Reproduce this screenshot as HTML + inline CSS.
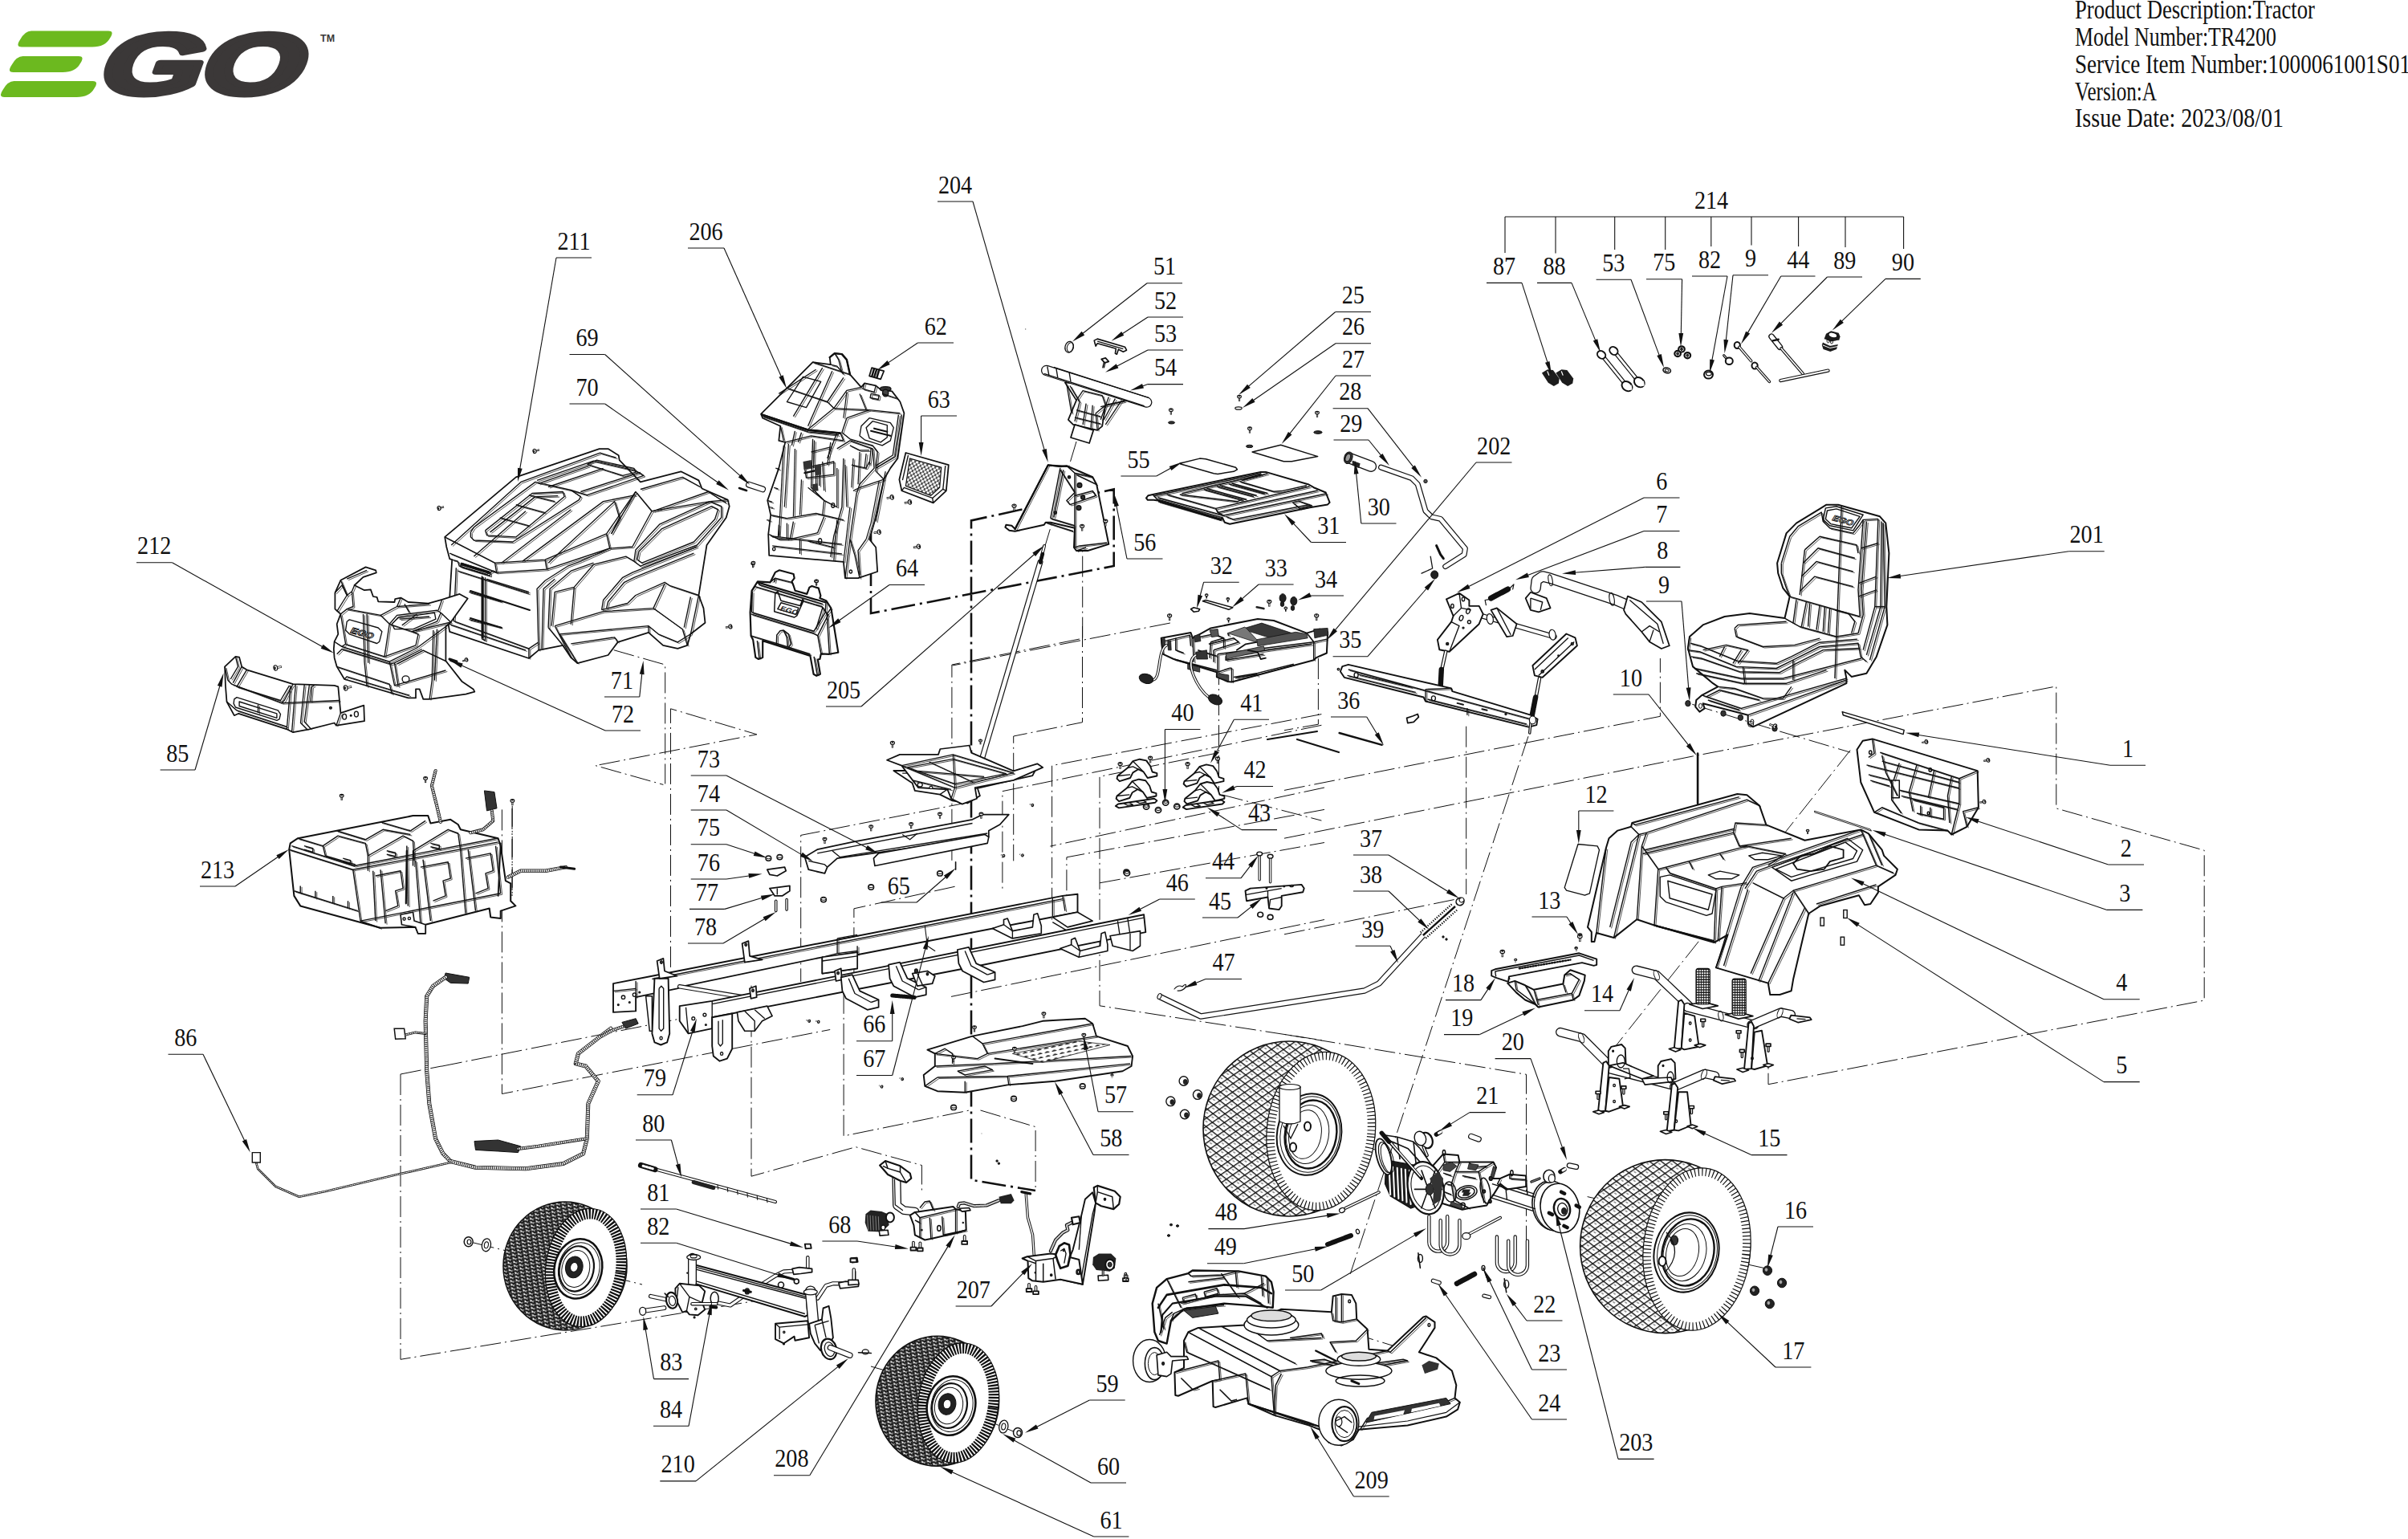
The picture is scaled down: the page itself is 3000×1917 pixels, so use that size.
<!DOCTYPE html>
<html><head><meta charset="utf-8"><title>EGO TR4200 Tractor parts diagram</title>
<style>html,body{margin:0;padding:0;background:#fff}body{width:3000px;height:1917px;overflow:hidden}svg{display:block}</style>
</head><body>
<svg width="3000" height="1917" viewBox="0 0 3000 1917">
<title>EGO TR4200 Tractor exploded parts diagram</title>
<style>
.n{font-family:"Liberation Serif",serif;font-size:32px;text-anchor:middle;fill:#111}
.h{font-family:"Liberation Serif",serif;font-size:33px;fill:#111}
</style>
<rect width="3000" height="1917" fill="#fff"/>
<path d="M1085 655 L1085 764 L1387.7 705 L1387.7 609.4 L1210 648.4 L1210 1469.8 L1290 1483" fill="none" stroke="#111" stroke-width="2.6" stroke-dasharray="30 6 3 6"/>
<path d="M764.7 809.7 L828.7 828 L828.7 976.4" fill="none" stroke="#111" stroke-width="1.0" stroke-dasharray="26 5 2 5"/>
<path d="M835.5 1204.9 L835.5 882.8 L942.9 914.8 L741.9 953.6 L826.4 977.4" fill="none" stroke="#111" stroke-width="1.0" stroke-dasharray="26 5 2 5"/>
<path d="M1207.8 999.3 L997.7 1040.4 L997.7 1223.1" fill="none" stroke="#111" stroke-width="1.0" stroke-dasharray="26 5 2 5"/>
<path d="M1189.6 1104.3 L1063.9 1131.8 L1063.9 1236.8" fill="none" stroke="#111" stroke-width="1.0" stroke-dasharray="26 5 2 5"/>
<path d="M1051.1 1236.8 L1051.1 1415 L1207.8 1383" fill="none" stroke="#111" stroke-width="1.0" stroke-dasharray="26 5 2 5"/>
<path d="M1221.5 1383 L1290.1 1403.6 L1290.1 1483.1" fill="none" stroke="#111" stroke-width="1.0" stroke-dasharray="26 5 2 5"/>
<path d="M1344.9 796 L1185.9 828 L1185.9 1072.4" fill="none" stroke="#111" stroke-width="1.0" stroke-dasharray="26 5 2 5"/>
<path d="M1348.5 780 L1348.5 899.7 L1262.7 917 L1262.7 1072.4" fill="none" stroke="#111" stroke-width="1.0" stroke-dasharray="26 5 2 5"/>
<path d="M1646.4 903.3 L1248.9 985.6 L1248.9 1108.9" fill="none" stroke="#111" stroke-width="1.0" stroke-dasharray="26 5 2 5"/>
<path d="M1646.4 889.6 L1310.6 953.6 L1310.6 1145.5" fill="none" stroke="#111" stroke-width="1.0" stroke-dasharray="26 5 2 5"/>
<path d="M1650 981 L1308.3 1054.1" fill="none" stroke="#111" stroke-width="1.0" stroke-dasharray="26 5 2 5"/>
<path d="M1650 1008.4 L1328.9 1067.8 L1328.9 1145.5" fill="none" stroke="#111" stroke-width="1.0" stroke-dasharray="26 5 2 5"/>
<path d="M1518.5 937.6 L1370 967.3 L1370 1252.8 L1650 1296.2" fill="none" stroke="#111" stroke-width="1.0" stroke-dasharray="26 5 2 5"/>
<path d="M1370 1099.8 L1650 1049.5" fill="none" stroke="#111" stroke-width="1.0" stroke-dasharray="26 5 2 5"/>
<path d="M1518.5 789.1 L1518.5 999.3" fill="none" stroke="#111" stroke-width="1.0" stroke-dasharray="26 5 2 5"/>
<path d="M550 1328.2 L1036.5 1231.3" fill="none" stroke="#111" stroke-width="1.0" stroke-dasharray="26 5 2 5"/>
<path d="M625.4 1008.4 L625.4 1362.5 L1034.2 1282.5" fill="none" stroke="#111" stroke-width="1.0" stroke-dasharray="26 5 2 5"/>
<path d="M638.2 1003.8 L638.2 1113.5" fill="none" stroke="#111" stroke-width="1.0" stroke-dasharray="26 5 2 5"/>
<path d="M936 1227.7 L936 1465.2 L1066.2 1428.7 L1148.4 1451.5 L1148.4 1483.1" fill="none" stroke="#111" stroke-width="1.0" stroke-dasharray="26 5 2 5"/>
<path d="M1185 1241.4 L1650 1145.5" fill="none" stroke="#111" stroke-width="1.0" stroke-dasharray="26 5 2 5"/>
<path d="M1523 990.1 L1646.4 1022.1" fill="none" stroke="#111" stroke-width="1.0" stroke-dasharray="26 5 2 5"/>
<path d="M1600 984.4 L2068.4 892.3 L2068.4 820" fill="none" stroke="#111" stroke-width="1.0" stroke-dasharray="26 5 2 5"/>
<path d="M1600 1044.2 L2108.3 942.1 L2561.8 854.9 L2561.8 1006.9 L2746.2 1059.2 L2746.2 1246.1 L2203 1350.7 L2203 1328.3" fill="none" stroke="#111" stroke-width="1.0" stroke-dasharray="26 5 2 5"/>
<path d="M1600 1163.8 L1819.3 1119" fill="none" stroke="#111" stroke-width="1.0" stroke-dasharray="26 5 2 5"/>
<path d="M1826.7 904.7 L1826.7 1114" fill="none" stroke="#111" stroke-width="1.0" stroke-dasharray="26 5 2 5"/>
<path d="M1904 917.2 L1682.2 1586.9" fill="none" stroke="#111" stroke-width="1.0" stroke-dasharray="26 5 2 5"/>
<path d="M1600 1288.4 L1901.5 1338.3 L1901.5 1557.5" fill="none" stroke="#111" stroke-width="1.0" stroke-dasharray="26 5 2 5"/>
<path d="M2305.1 934.6 L2008.6 1308.4" fill="none" stroke="#111" stroke-width="1.0" stroke-dasharray="26 5 2 5"/>
<path d="M2108.3 877.3 L2212.9 909.7 L2305.1 937.1" fill="none" stroke="#111" stroke-width="1.0" stroke-dasharray="26 5 2 5"/>
<path d="M1642.4 820 L1642.4 902.2 L1600 909.7" fill="none" stroke="#111" stroke-width="1.0" stroke-dasharray="26 5 2 5"/>
<path d="M1341 550 L1302 680" fill="none" stroke="#111" stroke-width="1.0" stroke-dasharray="26 5 2 5"/>
<path d="M499 1338 L499 1693.3 L750 1652 L1010 1609" fill="none" stroke="#111" stroke-width="1.0" stroke-dasharray="26 5 2 5"/>
<path d="M499 1338 L550 1328" fill="none" stroke="#111" stroke-width="1.0" stroke-dasharray="26 5 2 5"/>
<path d="M638 1007 L638 1119" fill="none" stroke="#111" stroke-width="1.0" stroke-dasharray="26 5 2 5"/>
<path d="M1457.9 776 L1186.6 829" fill="none" stroke="#111" stroke-width="1.0" stroke-dasharray="26 5 2 5"/>
<path d="M1348.7 654.6 L1348.7 796" fill="none" stroke="#111" stroke-width="1.0" stroke-dasharray="26 5 2 5"/>
<path d="M1655 1418 L1730 1436" fill="none" stroke="#111" stroke-width="1.0" stroke-dasharray="26 5 2 5"/>
<path d="M2100 1558 L2200 1580" fill="none" stroke="#111" stroke-width="1.0" stroke-dasharray="26 5 2 5"/>
<path d="M2040 1505 L1975 1490" fill="none" stroke="#111" stroke-width="1.0" stroke-dasharray="26 5 2 5"/>
<path d="M590 1548 L700 1575" fill="none" stroke="#111" stroke-width="1.0" stroke-dasharray="26 5 2 5"/>
<path d="M1185 1751 L1265 1784" fill="none" stroke="#111" stroke-width="1.0" stroke-dasharray="26 5 2 5"/>
<path d="M1085 1702 L1120 1712" fill="none" stroke="#111" stroke-width="1.0" stroke-dasharray="26 5 2 5"/>
<path d="M760 1590 L800 1600" fill="none" stroke="#111" stroke-width="1.0" stroke-dasharray="26 5 2 5"/>
<path d="M1686 1661 L1780 1690" fill="none" stroke="#111" stroke-width="1.0" stroke-dasharray="26 5 2 5"/>
<path d="M554.2 668.9 L642.8 594.4 L746.6 559.1 L757.6 559.1 L770.7 567.2 L771.7 573.2 L797.9 600.4 L848.3 587.3 L870.5 598.4 L874.5 608.5 L906.7 622.6 L908.7 630.7 L904.7 644.8 L880.5 679 L870.5 741.5 L876.5 757.6 L878.5 775.7 L860.4 789.8 L856.3 803.9 L844.3 807.9 L826.1 803.9 L808 787.8 L769.7 799.9 L757.6 816 L719.4 826.1 L711.3 819 L701.2 803.9 L671 809.9 L658.9 820 L560.2 786.8 L558.2 775.7 L563.2 697.1 L560.2 696.1 L556.2 681 Z" fill="#fff" stroke="#111" stroke-width="1.7550000000000001" stroke-linejoin="round" />
<g transform="translate(1.9,1.5)" opacity="0.75">
<path d="M554.2 668.9 L616.6 701.2 L679.1 697.1 L755.6 664.9 L791.9 612.5" fill="none" stroke="#111" stroke-width="0.95" stroke-linejoin="round" />
<path d="M560.2 689.1 L618.6 713.2 L681.1 709.2 L759.7 683 L787.9 681 L812 636.7 L884.6 624.6 L906.7 622.6" fill="none" stroke="#111" stroke-width="0.95" stroke-linejoin="round" />
<path d="M562.2 679 L648.9 600.4 L747.6 564.2 L767.7 570.2" fill="none" stroke="#111" stroke-width="0.95" stroke-linejoin="round" />
<path d="M616.6 701.2 L618.6 713.2" fill="none" stroke="#111" stroke-width="0.95" stroke-linejoin="round" />
<path d="M679.1 697.1 L681.1 709.2" fill="none" stroke="#111" stroke-width="0.95" stroke-linejoin="round" />
<path d="M755.6 664.9 L759.7 683" fill="none" stroke="#111" stroke-width="0.95" stroke-linejoin="round" />
<path d="M586.4 662.9 L590.4 656.8 L667 600.4 L711.3 610.5 L723.4 618.6 L721.4 622.6 L638.8 675 L590.4 673 L586.4 668.9 L586.4 662.9" fill="none" stroke="#111" stroke-width="0.95" stroke-linejoin="round" />
<path d="M604.5 660.9 L663 614.5 L701.2 612.5 L703.2 618.6 L642.8 668.9 L606.6 666.9 L604.5 660.9" fill="none" stroke="#111" stroke-width="0.95" stroke-linejoin="round" />
<path d="M610.6 662.9 L667 618.6 L695.2 617.6" fill="none" stroke="#111" stroke-width="0.95" stroke-linejoin="round" />
<path d="M622.7 644.8 L658.9 654.8" fill="none" stroke="#111" stroke-width="0.95" stroke-linejoin="round" />
<path d="M642.8 628.6 L679.1 638.7" fill="none" stroke="#111" stroke-width="0.95" stroke-linejoin="round" />
<path d="M658.9 616.6 L691.2 624.6" fill="none" stroke="#111" stroke-width="0.95" stroke-linejoin="round" />
<path d="M669 598.4 L739.5 574.2 L791.9 586.3 L802 592.4 L731.5 616.6 L711.3 610.5" fill="none" stroke="#111" stroke-width="0.95" stroke-linejoin="round" />
<path d="M731.5 578.3 L743.5 573.2 L789.9 583.3 L791.9 588.3 L775.8 592.4 L731.5 578.3" fill="none" stroke="#111" stroke-width="0.95" stroke-linejoin="round" />
<path d="M671 602.4 L733.5 580.3" fill="none" stroke="#111" stroke-width="0.95" stroke-linejoin="round" />
<path d="M683.1 606.5 L751.6 583.3" fill="none" stroke="#111" stroke-width="0.95" stroke-linejoin="round" />
<path d="M723.4 612.5 L797.9 588.3" fill="none" stroke="#111" stroke-width="0.95" stroke-linejoin="round" />
<path d="M650.9 699.1 L751.6 624.6 L791.9 616.6" fill="none" stroke="#111" stroke-width="0.95" stroke-linejoin="round" />
<path d="M683.1 701.2 L765.7 624.6 L771.7 644.8 L761.7 664.9" fill="none" stroke="#111" stroke-width="0.95" stroke-linejoin="round" />
<path d="M761.7 664.9 L791.9 612.5" fill="none" stroke="#111" stroke-width="0.95" stroke-linejoin="round" />
<path d="M590.4 693.1 L654.9 636.7" fill="none" stroke="#111" stroke-width="0.95" stroke-linejoin="round" />
<path d="M624.7 701.2 L711.3 634.7" fill="none" stroke="#111" stroke-width="0.95" stroke-linejoin="round" />
<path d="M789.9 699.1 L791.9 685 L822.1 652.8 L884.6 624.6 L898.7 630.7 L898.7 644.8 L868.4 679 L797.9 705.2 L789.9 699.1" fill="none" stroke="#111" stroke-width="0.95" stroke-linejoin="round" />
<path d="M793.9 697.1 L795.9 687.1 L824.1 658.9 L886.6 630.7 L894.6 634.7 L890.6 646.8 L864.4 675 L799.9 701.2 L793.9 697.1" fill="none" stroke="#111" stroke-width="0.95" stroke-linejoin="round" />
<path d="M797.9 609.5 L850.3 594.4 L872.5 606.5" fill="none" stroke="#111" stroke-width="0.95" stroke-linejoin="round" />
<path d="M814 636.7 L882.5 612.5 L904.7 626.6" fill="none" stroke="#111" stroke-width="0.95" stroke-linejoin="round" />
<path d="M791.9 612.5 L812 636.7" fill="none" stroke="#111" stroke-width="0.95" stroke-linejoin="round" />
<path d="M671 809.9 L669 733.4 L679.1 723.3 L707.3 705.2 L723.4 699.1 L759.7 683" fill="none" stroke="#111" stroke-width="0.95" stroke-linejoin="round" />
<path d="M683.1 781.7 L685.1 733.4 L711.3 711.2 L739.5 701.2" fill="none" stroke="#111" stroke-width="0.95" stroke-linejoin="round" />
<path d="M687.1 779.7 L691.2 737.4 L715.3 731.4 L739.5 703.2 L779.8 693.1 L789.9 699.1" fill="none" stroke="#111" stroke-width="0.95" stroke-linejoin="round" />
<path d="M711.3 777.7 L715.3 731.4" fill="none" stroke="#111" stroke-width="0.95" stroke-linejoin="round" />
<path d="M675 807.9 L677.1 733.4 L691.2 721.3" fill="none" stroke="#111" stroke-width="0.95" stroke-linejoin="round" />
<path d="M749.6 759.6 L751.6 747.5 L775.8 719.3 L787.9 713.2 L868.4 681" fill="none" stroke="#111" stroke-width="0.95" stroke-linejoin="round" />
<path d="M749.6 759.6 L781.8 751.5 L791.9 741.5 L828.1 725.3 L834.2 729.4 L870.5 741.5" fill="none" stroke="#111" stroke-width="0.95" stroke-linejoin="round" />
<path d="M755.6 757.6 L757.6 749.5 L777.8 725.3 L789.9 719.3 L864.4 689.1" fill="none" stroke="#111" stroke-width="0.95" stroke-linejoin="round" />
<path d="M691.2 779.7 L751.6 761.6 L814 757.6 L828.1 727.3" fill="none" stroke="#111" stroke-width="0.95" stroke-linejoin="round" />
<path d="M814 757.6 L850.3 783.8 L856.3 803.9" fill="none" stroke="#111" stroke-width="0.95" stroke-linejoin="round" />
<path d="M697.2 789.8 L808 779.7 L808 787.8" fill="none" stroke="#111" stroke-width="0.95" stroke-linejoin="round" />
<path d="M808 779.7 L820.1 789.8 L844.3 799.9 L860.4 789.8" fill="none" stroke="#111" stroke-width="0.95" stroke-linejoin="round" />
<path d="M683.1 781.7 L701.2 803.9" fill="none" stroke="#111" stroke-width="0.95" stroke-linejoin="round" />
<path d="M691.2 779.7 L711.3 819" fill="none" stroke="#111" stroke-width="0.95" stroke-linejoin="round" />
<path d="M697.2 789.8 L719.4 826.1" fill="none" stroke="#111" stroke-width="0.95" stroke-linejoin="round" />
<path d="M711.3 801.9 L765.7 793.8 L769.7 799.9" fill="none" stroke="#111" stroke-width="0.95" stroke-linejoin="round" />
<path d="M563.2 697.1 L570.3 699.1 L572.3 705.2 L606.6 715.3 L614.6 711.2 L618.6 713.2" fill="none" stroke="#111" stroke-width="0.95" stroke-linejoin="round" />
<path d="M568.3 707.2 L565.3 773.7 L658.9 807.9 L658.9 820" fill="none" stroke="#111" stroke-width="0.95" stroke-linejoin="round" />
<path d="M658.9 807.9 L671 799.9" fill="none" stroke="#111" stroke-width="0.95" stroke-linejoin="round" />
<path d="M570.3 711.2 L658.9 739.4" fill="none" stroke="#111" stroke-width="0.95" stroke-linejoin="round" />
<path d="M600.5 717.3 L600.5 795.8 L604.5 797.9 L604.5 719.3" fill="none" stroke="#111" stroke-width="0.95" stroke-linejoin="round" />
<path d="M584.4 737.4 L624.7 749.5" fill="none" stroke="#111" stroke-width="0.95" stroke-linejoin="round" />
<path d="M584.4 771.7 L624.7 781.7" fill="none" stroke="#111" stroke-width="0.95" stroke-linejoin="round" />
<path d="M560.2 777.7 L654.9 809.9" fill="none" stroke="#111" stroke-width="0.95" stroke-linejoin="round" />
<path d="M574.3 701.2 L610.6 713.2 L610.6 717.3 L574.3 706.2 L574.3 701.2" fill="none" stroke="#111" stroke-width="0.95" stroke-linejoin="round" />
<path d="M606.6 721.3 L658.9 737.4" fill="none" stroke="#111" stroke-width="0.95" stroke-linejoin="round" />
<path d="M860.4 789.8 L870.5 741.5" fill="none" stroke="#111" stroke-width="0.95" stroke-linejoin="round" />
<path d="M852.3 781.7 L860.4 743.5" fill="none" stroke="#111" stroke-width="0.95" stroke-linejoin="round" />
</g>
<path d="M554.2 668.9 L616.6 701.2 L679.1 697.1 L755.6 664.9 L791.9 612.5" fill="none" stroke="#111" stroke-width="1.35" stroke-linejoin="round" />
<path d="M560.2 689.1 L618.6 713.2 L681.1 709.2 L759.7 683 L787.9 681 L812 636.7 L884.6 624.6 L906.7 622.6" fill="none" stroke="#111" stroke-width="1.35" stroke-linejoin="round" />
<path d="M562.2 679 L648.9 600.4 L747.6 564.2 L767.7 570.2" fill="none" stroke="#111" stroke-width="1.35" stroke-linejoin="round" />
<path d="M616.6 701.2 L618.6 713.2" fill="none" stroke="#111" stroke-width="1.35" stroke-linejoin="round" />
<path d="M679.1 697.1 L681.1 709.2" fill="none" stroke="#111" stroke-width="1.35" stroke-linejoin="round" />
<path d="M755.6 664.9 L759.7 683" fill="none" stroke="#111" stroke-width="1.35" stroke-linejoin="round" />
<path d="M586.4 662.9 L590.4 656.8 L667 600.4 L711.3 610.5 L723.4 618.6 L721.4 622.6 L638.8 675 L590.4 673 L586.4 668.9 L586.4 662.9" fill="none" stroke="#111" stroke-width="1.35" stroke-linejoin="round" />
<path d="M604.5 660.9 L663 614.5 L701.2 612.5 L703.2 618.6 L642.8 668.9 L606.6 666.9 L604.5 660.9" fill="none" stroke="#111" stroke-width="1.35" stroke-linejoin="round" />
<path d="M610.6 662.9 L667 618.6 L695.2 617.6" fill="none" stroke="#111" stroke-width="1.35" stroke-linejoin="round" />
<path d="M622.7 644.8 L658.9 654.8" fill="none" stroke="#111" stroke-width="1.35" stroke-linejoin="round" />
<path d="M642.8 628.6 L679.1 638.7" fill="none" stroke="#111" stroke-width="1.35" stroke-linejoin="round" />
<path d="M658.9 616.6 L691.2 624.6" fill="none" stroke="#111" stroke-width="1.35" stroke-linejoin="round" />
<path d="M669 598.4 L739.5 574.2 L791.9 586.3 L802 592.4 L731.5 616.6 L711.3 610.5" fill="none" stroke="#111" stroke-width="1.35" stroke-linejoin="round" />
<path d="M731.5 578.3 L743.5 573.2 L789.9 583.3 L791.9 588.3 L775.8 592.4 L731.5 578.3" fill="none" stroke="#111" stroke-width="1.35" stroke-linejoin="round" />
<path d="M671 602.4 L733.5 580.3" fill="none" stroke="#111" stroke-width="1.35" stroke-linejoin="round" />
<path d="M683.1 606.5 L751.6 583.3" fill="none" stroke="#111" stroke-width="1.35" stroke-linejoin="round" />
<path d="M723.4 612.5 L797.9 588.3" fill="none" stroke="#111" stroke-width="1.35" stroke-linejoin="round" />
<path d="M650.9 699.1 L751.6 624.6 L791.9 616.6" fill="none" stroke="#111" stroke-width="1.35" stroke-linejoin="round" />
<path d="M683.1 701.2 L765.7 624.6 L771.7 644.8 L761.7 664.9" fill="none" stroke="#111" stroke-width="1.35" stroke-linejoin="round" />
<path d="M761.7 664.9 L791.9 612.5" fill="none" stroke="#111" stroke-width="1.35" stroke-linejoin="round" />
<path d="M590.4 693.1 L654.9 636.7" fill="none" stroke="#111" stroke-width="1.35" stroke-linejoin="round" />
<path d="M624.7 701.2 L711.3 634.7" fill="none" stroke="#111" stroke-width="1.35" stroke-linejoin="round" />
<path d="M789.9 699.1 L791.9 685 L822.1 652.8 L884.6 624.6 L898.7 630.7 L898.7 644.8 L868.4 679 L797.9 705.2 L789.9 699.1" fill="none" stroke="#111" stroke-width="1.35" stroke-linejoin="round" />
<path d="M793.9 697.1 L795.9 687.1 L824.1 658.9 L886.6 630.7 L894.6 634.7 L890.6 646.8 L864.4 675 L799.9 701.2 L793.9 697.1" fill="none" stroke="#111" stroke-width="1.35" stroke-linejoin="round" />
<path d="M797.9 609.5 L850.3 594.4 L872.5 606.5" fill="none" stroke="#111" stroke-width="1.35" stroke-linejoin="round" />
<path d="M814 636.7 L882.5 612.5 L904.7 626.6" fill="none" stroke="#111" stroke-width="1.35" stroke-linejoin="round" />
<path d="M791.9 612.5 L812 636.7" fill="none" stroke="#111" stroke-width="1.35" stroke-linejoin="round" />
<path d="M671 809.9 L669 733.4 L679.1 723.3 L707.3 705.2 L723.4 699.1 L759.7 683" fill="none" stroke="#111" stroke-width="1.35" stroke-linejoin="round" />
<path d="M683.1 781.7 L685.1 733.4 L711.3 711.2 L739.5 701.2" fill="none" stroke="#111" stroke-width="1.35" stroke-linejoin="round" />
<path d="M687.1 779.7 L691.2 737.4 L715.3 731.4 L739.5 703.2 L779.8 693.1 L789.9 699.1" fill="none" stroke="#111" stroke-width="1.35" stroke-linejoin="round" />
<path d="M711.3 777.7 L715.3 731.4" fill="none" stroke="#111" stroke-width="1.35" stroke-linejoin="round" />
<path d="M675 807.9 L677.1 733.4 L691.2 721.3" fill="none" stroke="#111" stroke-width="1.35" stroke-linejoin="round" />
<path d="M749.6 759.6 L751.6 747.5 L775.8 719.3 L787.9 713.2 L868.4 681" fill="none" stroke="#111" stroke-width="1.35" stroke-linejoin="round" />
<path d="M749.6 759.6 L781.8 751.5 L791.9 741.5 L828.1 725.3 L834.2 729.4 L870.5 741.5" fill="none" stroke="#111" stroke-width="1.35" stroke-linejoin="round" />
<path d="M755.6 757.6 L757.6 749.5 L777.8 725.3 L789.9 719.3 L864.4 689.1" fill="none" stroke="#111" stroke-width="1.35" stroke-linejoin="round" />
<path d="M691.2 779.7 L751.6 761.6 L814 757.6 L828.1 727.3" fill="none" stroke="#111" stroke-width="1.35" stroke-linejoin="round" />
<path d="M814 757.6 L850.3 783.8 L856.3 803.9" fill="none" stroke="#111" stroke-width="1.35" stroke-linejoin="round" />
<path d="M697.2 789.8 L808 779.7 L808 787.8" fill="none" stroke="#111" stroke-width="1.35" stroke-linejoin="round" />
<path d="M808 779.7 L820.1 789.8 L844.3 799.9 L860.4 789.8" fill="none" stroke="#111" stroke-width="1.35" stroke-linejoin="round" />
<path d="M683.1 781.7 L701.2 803.9" fill="none" stroke="#111" stroke-width="1.35" stroke-linejoin="round" />
<path d="M691.2 779.7 L711.3 819" fill="none" stroke="#111" stroke-width="1.35" stroke-linejoin="round" />
<path d="M697.2 789.8 L719.4 826.1" fill="none" stroke="#111" stroke-width="1.35" stroke-linejoin="round" />
<path d="M711.3 801.9 L765.7 793.8 L769.7 799.9" fill="none" stroke="#111" stroke-width="1.35" stroke-linejoin="round" />
<path d="M563.2 697.1 L570.3 699.1 L572.3 705.2 L606.6 715.3 L614.6 711.2 L618.6 713.2" fill="none" stroke="#111" stroke-width="1.35" stroke-linejoin="round" />
<path d="M568.3 707.2 L565.3 773.7 L658.9 807.9 L658.9 820" fill="none" stroke="#111" stroke-width="1.35" stroke-linejoin="round" />
<path d="M658.9 807.9 L671 799.9" fill="none" stroke="#111" stroke-width="1.35" stroke-linejoin="round" />
<path d="M570.3 711.2 L658.9 739.4" fill="none" stroke="#111" stroke-width="1.35" stroke-linejoin="round" />
<path d="M600.5 717.3 L600.5 795.8 L604.5 797.9 L604.5 719.3" fill="none" stroke="#111" stroke-width="1.35" stroke-linejoin="round" />
<path d="M584.4 737.4 L624.7 749.5" fill="none" stroke="#111" stroke-width="1.35" stroke-linejoin="round" />
<path d="M584.4 771.7 L624.7 781.7" fill="none" stroke="#111" stroke-width="1.35" stroke-linejoin="round" />
<path d="M560.2 777.7 L654.9 809.9" fill="none" stroke="#111" stroke-width="1.35" stroke-linejoin="round" />
<path d="M574.3 701.2 L610.6 713.2 L610.6 717.3 L574.3 706.2 L574.3 701.2" fill="none" stroke="#111" stroke-width="1.35" stroke-linejoin="round" />
<path d="M606.6 721.3 L658.9 737.4" fill="none" stroke="#111" stroke-width="1.35" stroke-linejoin="round" />
<path d="M860.4 789.8 L870.5 741.5" fill="none" stroke="#111" stroke-width="1.35" stroke-linejoin="round" />
<path d="M852.3 781.7 L860.4 743.5" fill="none" stroke="#111" stroke-width="1.35" stroke-linejoin="round" />
<path d="M415.8 808.5 L416.6 799.2 L421.3 789.8 L419.7 777.3 L424.4 764.9 L417.4 758.6 L417.4 738.3 L424.4 722.8 L455.6 706.4 L468.1 710.3 L468.8 713.4 L452.5 718.9 L441.6 729 L454 735.2 L461.8 734.4 L464.9 743 L469.6 743.8 L471.2 749.3 L491.5 750 L492.2 746.1 L499.3 744.6 L508.6 750 L533.6 751.6 L550.7 746.9 L572.6 739.9 L582.7 745.4 L561.6 775 L555.4 780.5 L555.4 823.3 L575.7 849.1 L589.7 858.4 L591.3 861.6 L580.4 864.7 L535.1 870.9 L527.3 870.9 L522.7 858.4 L518 858.4 L518 869.4 L508.6 869.4 L429.1 846 L419.7 830.4 L416.6 819.4 Z" fill="#fff" stroke="#111" stroke-width="1.7550000000000001" stroke-linejoin="round" />
<g transform="translate(1.9,1.5)" opacity="0.75">
<path d="M416.6 799.2 L426 805.4 L485.2 824.1 L519.5 807 L555.4 780.5" fill="none" stroke="#111" stroke-width="0.95" stroke-linejoin="round" />
<path d="M419.7 814.8 L426 808.5 L486.8 827.2 L491.5 825.7 L525.8 808.5" fill="none" stroke="#111" stroke-width="0.95" stroke-linejoin="round" />
<path d="M424.4 764.9 L432.2 758.6 L474.3 766.4 L485.2 777.3 L513.3 786.7 L561.6 775" fill="none" stroke="#111" stroke-width="0.95" stroke-linejoin="round" />
<path d="M426 805.4 L430.6 802.3 L479 817.9 L518 803.8 L521.1 789.8 L513.3 786.7" fill="none" stroke="#111" stroke-width="0.95" stroke-linejoin="round" />
<path d="M430.6 802.3 L424.4 764.9" fill="none" stroke="#111" stroke-width="0.95" stroke-linejoin="round" />
<path d="M479 817.9 L485.2 777.3" fill="none" stroke="#111" stroke-width="0.95" stroke-linejoin="round" />
<path d="M485.2 777.3 L494.6 766.4 L544.5 760.2 L549.2 763.3 L544.5 774.2 L513.3 786.7" fill="none" stroke="#111" stroke-width="0.95" stroke-linejoin="round" />
<path d="M474.3 766.4 L494.6 755.5 L535.1 752.4" fill="none" stroke="#111" stroke-width="0.95" stroke-linejoin="round" />
<path d="M494.6 755.5 L499.3 744.6" fill="none" stroke="#111" stroke-width="0.95" stroke-linejoin="round" />
<path d="M424.4 722.8 L432.2 741.5 L438.4 736.8 L440 755.5 L432.2 758.6" fill="none" stroke="#111" stroke-width="0.95" stroke-linejoin="round" />
<path d="M417.4 738.3 L426 729 L432.2 741.5 L419.7 761.7" fill="none" stroke="#111" stroke-width="0.95" stroke-linejoin="round" />
<path d="M438.4 736.8 L441.6 729" fill="none" stroke="#111" stroke-width="0.95" stroke-linejoin="round" />
<path d="M452.5 764.9 L454 824.1 L457.1 855.3" fill="none" stroke="#111" stroke-width="0.95" stroke-linejoin="round" />
<path d="M457.1 764.9 L458.7 825.7" fill="none" stroke="#111" stroke-width="0.95" stroke-linejoin="round" />
<path d="M419.7 830.4 L485.2 852.2 L488.3 864.7" fill="none" stroke="#111" stroke-width="0.95" stroke-linejoin="round" />
<path d="M485.2 824.1 L491.5 853.8 L555.4 835" fill="none" stroke="#111" stroke-width="0.95" stroke-linejoin="round" />
<path d="M491.5 825.7 L496.1 855.3" fill="none" stroke="#111" stroke-width="0.95" stroke-linejoin="round" />
<path d="M535.1 870.9 L538.2 847.5 L539.8 785.1" fill="none" stroke="#111" stroke-width="0.95" stroke-linejoin="round" />
<path d="M541.4 847.5 L544.5 783.6" fill="none" stroke="#111" stroke-width="0.95" stroke-linejoin="round" />
<path d="M429.1 846 L432.2 842.8 L510.2 866.2" fill="none" stroke="#111" stroke-width="0.95" stroke-linejoin="round" />
<path d="M494.6 827.2 L527.3 810.1 L555.4 823.3" fill="none" stroke="#111" stroke-width="0.95" stroke-linejoin="round" />
<path d="M432.2 721.2 L457.1 710.3" fill="none" stroke="#111" stroke-width="0.95" stroke-linejoin="round" />
<path d="M503.9 752.4 L510.2 763.3" fill="none" stroke="#111" stroke-width="0.95" stroke-linejoin="round" />
<path d="M550.7 746.9 L546 760.2" fill="none" stroke="#111" stroke-width="0.95" stroke-linejoin="round" />
<path d="M561.6 775 L549.2 763.3" fill="none" stroke="#111" stroke-width="0.95" stroke-linejoin="round" />
<path d="M497.7 771.1 L535.1 768" fill="none" stroke="#111" stroke-width="0.95" stroke-linejoin="round" />
<path d="M500.8 778.9 L519.5 764.9" fill="none" stroke="#111" stroke-width="0.95" stroke-linejoin="round" />
</g>
<path d="M416.6 799.2 L426 805.4 L485.2 824.1 L519.5 807 L555.4 780.5" fill="none" stroke="#111" stroke-width="1.35" stroke-linejoin="round" />
<path d="M419.7 814.8 L426 808.5 L486.8 827.2 L491.5 825.7 L525.8 808.5" fill="none" stroke="#111" stroke-width="1.35" stroke-linejoin="round" />
<path d="M424.4 764.9 L432.2 758.6 L474.3 766.4 L485.2 777.3 L513.3 786.7 L561.6 775" fill="none" stroke="#111" stroke-width="1.35" stroke-linejoin="round" />
<path d="M426 805.4 L430.6 802.3 L479 817.9 L518 803.8 L521.1 789.8 L513.3 786.7" fill="none" stroke="#111" stroke-width="1.35" stroke-linejoin="round" />
<path d="M430.6 802.3 L424.4 764.9" fill="none" stroke="#111" stroke-width="1.35" stroke-linejoin="round" />
<path d="M479 817.9 L485.2 777.3" fill="none" stroke="#111" stroke-width="1.35" stroke-linejoin="round" />
<path d="M485.2 777.3 L494.6 766.4 L544.5 760.2 L549.2 763.3 L544.5 774.2 L513.3 786.7" fill="none" stroke="#111" stroke-width="1.35" stroke-linejoin="round" />
<path d="M474.3 766.4 L494.6 755.5 L535.1 752.4" fill="none" stroke="#111" stroke-width="1.35" stroke-linejoin="round" />
<path d="M494.6 755.5 L499.3 744.6" fill="none" stroke="#111" stroke-width="1.35" stroke-linejoin="round" />
<path d="M424.4 722.8 L432.2 741.5 L438.4 736.8 L440 755.5 L432.2 758.6" fill="none" stroke="#111" stroke-width="1.35" stroke-linejoin="round" />
<path d="M417.4 738.3 L426 729 L432.2 741.5 L419.7 761.7" fill="none" stroke="#111" stroke-width="1.35" stroke-linejoin="round" />
<path d="M438.4 736.8 L441.6 729" fill="none" stroke="#111" stroke-width="1.35" stroke-linejoin="round" />
<path d="M452.5 764.9 L454 824.1 L457.1 855.3" fill="none" stroke="#111" stroke-width="1.35" stroke-linejoin="round" />
<path d="M457.1 764.9 L458.7 825.7" fill="none" stroke="#111" stroke-width="1.35" stroke-linejoin="round" />
<path d="M419.7 830.4 L485.2 852.2 L488.3 864.7" fill="none" stroke="#111" stroke-width="1.35" stroke-linejoin="round" />
<path d="M485.2 824.1 L491.5 853.8 L555.4 835" fill="none" stroke="#111" stroke-width="1.35" stroke-linejoin="round" />
<path d="M491.5 825.7 L496.1 855.3" fill="none" stroke="#111" stroke-width="1.35" stroke-linejoin="round" />
<path d="M535.1 870.9 L538.2 847.5 L539.8 785.1" fill="none" stroke="#111" stroke-width="1.35" stroke-linejoin="round" />
<path d="M541.4 847.5 L544.5 783.6" fill="none" stroke="#111" stroke-width="1.35" stroke-linejoin="round" />
<path d="M429.1 846 L432.2 842.8 L510.2 866.2" fill="none" stroke="#111" stroke-width="1.35" stroke-linejoin="round" />
<path d="M494.6 827.2 L527.3 810.1 L555.4 823.3" fill="none" stroke="#111" stroke-width="1.35" stroke-linejoin="round" />
<path d="M432.2 721.2 L457.1 710.3" fill="none" stroke="#111" stroke-width="1.35" stroke-linejoin="round" />
<path d="M503.9 752.4 L510.2 763.3" fill="none" stroke="#111" stroke-width="1.35" stroke-linejoin="round" />
<path d="M550.7 746.9 L546 760.2" fill="none" stroke="#111" stroke-width="1.35" stroke-linejoin="round" />
<path d="M561.6 775 L549.2 763.3" fill="none" stroke="#111" stroke-width="1.35" stroke-linejoin="round" />
<path d="M497.7 771.1 L535.1 768" fill="none" stroke="#111" stroke-width="1.35" stroke-linejoin="round" />
<path d="M500.8 778.9 L519.5 764.9" fill="none" stroke="#111" stroke-width="1.35" stroke-linejoin="round" />
<path d="M432.2 774.2 L435.3 771.9 L471.2 782 L475.9 786.7 L472.7 799.2 L469.6 801.5 L435.3 789.8 L430.6 785.1 Z" fill="none" stroke="#111" stroke-width="1.35" stroke-linejoin="round" />
<path d="M488.3 777.3 L496.1 769.5 L541.4 763.3 L542.9 771.1 L514.9 783.6 L491.5 783.6 Z" fill="none" stroke="#111" stroke-width="1.35" stroke-linejoin="round" />
<ellipse cx="505.5" cy="846" rx="4.4" ry="4.1" fill="none" stroke="#111" stroke-width="1.35"/>
<text transform="translate(435.6,787.9) rotate(16) skewX(-15) scale(1.25,1)" style="font-family:'Liberation Sans',sans-serif;font-weight:bold;font-size:10.5px;fill:#fff;stroke:#111;stroke-width:0.9">EGO</text>
<path d="M280.1 830.4 L293.4 817.9 L298.1 818.7 L301.2 830.4 L307.4 834.3 L365.1 852.2 L416.6 853.8 L421.3 855.3 L424.4 888.1 L453.3 878.7 L454 898.2 L424.4 902.9 L418.9 903.7 L416.6 900.5 L385.4 908.3 L365.1 912.2 L357.3 908.3 L297.3 888.8 L291.8 891.2 L282.5 874 L280.9 853.8 Z" fill="#fff" stroke="#111" stroke-width="1.7550000000000001" stroke-linejoin="round" />
<g transform="translate(1.9,1.5)" opacity="0.75">
<path d="M280.1 830.4 L284 847.5 L288.7 852.2 L351.1 875.6 L354.2 872.5 L365.1 852.2" fill="none" stroke="#111" stroke-width="0.95" stroke-linejoin="round" />
<path d="M293.4 817.9 L296.5 830.4 L287.2 846" fill="none" stroke="#111" stroke-width="0.95" stroke-linejoin="round" />
<path d="M301.2 830.4 L290.3 850.6" fill="none" stroke="#111" stroke-width="0.95" stroke-linejoin="round" />
<path d="M307.4 834.3 L295 855.3 L349.5 872.5 L360.5 853.8" fill="none" stroke="#111" stroke-width="0.95" stroke-linejoin="round" />
<path d="M362 853.8 L357.3 908.3" fill="none" stroke="#111" stroke-width="0.95" stroke-linejoin="round" />
<path d="M368.3 853 L363.6 911.5" fill="none" stroke="#111" stroke-width="0.95" stroke-linejoin="round" />
<path d="M379.2 853 L374.5 900.5 L382.3 908.3" fill="none" stroke="#111" stroke-width="0.95" stroke-linejoin="round" />
<path d="M385.4 853 L379.2 899 L387 907.6" fill="none" stroke="#111" stroke-width="0.95" stroke-linejoin="round" />
<path d="M351.1 875.6 L422.8 872.5" fill="none" stroke="#111" stroke-width="0.95" stroke-linejoin="round" />
<path d="M391.6 853.8 L388.5 855.3 L387 874" fill="none" stroke="#111" stroke-width="0.95" stroke-linejoin="round" />
<path d="M282.5 874 L295 884.9 L357.3 905.2" fill="none" stroke="#111" stroke-width="0.95" stroke-linejoin="round" />
<path d="M321.5 877.9 L321.5 888.1" fill="none" stroke="#111" stroke-width="0.95" stroke-linejoin="round" />
<path d="M424.4 888.1 L418.9 903.7" fill="none" stroke="#111" stroke-width="0.95" stroke-linejoin="round" />
</g>
<path d="M280.1 830.4 L284 847.5 L288.7 852.2 L351.1 875.6 L354.2 872.5 L365.1 852.2" fill="none" stroke="#111" stroke-width="1.35" stroke-linejoin="round" />
<path d="M293.4 817.9 L296.5 830.4 L287.2 846" fill="none" stroke="#111" stroke-width="1.35" stroke-linejoin="round" />
<path d="M301.2 830.4 L290.3 850.6" fill="none" stroke="#111" stroke-width="1.35" stroke-linejoin="round" />
<path d="M307.4 834.3 L295 855.3 L349.5 872.5 L360.5 853.8" fill="none" stroke="#111" stroke-width="1.35" stroke-linejoin="round" />
<path d="M362 853.8 L357.3 908.3" fill="none" stroke="#111" stroke-width="1.35" stroke-linejoin="round" />
<path d="M368.3 853 L363.6 911.5" fill="none" stroke="#111" stroke-width="1.35" stroke-linejoin="round" />
<path d="M379.2 853 L374.5 900.5 L382.3 908.3" fill="none" stroke="#111" stroke-width="1.35" stroke-linejoin="round" />
<path d="M385.4 853 L379.2 899 L387 907.6" fill="none" stroke="#111" stroke-width="1.35" stroke-linejoin="round" />
<path d="M351.1 875.6 L422.8 872.5" fill="none" stroke="#111" stroke-width="1.35" stroke-linejoin="round" />
<path d="M391.6 853.8 L388.5 855.3 L387 874" fill="none" stroke="#111" stroke-width="1.35" stroke-linejoin="round" />
<path d="M282.5 874 L295 884.9 L357.3 905.2" fill="none" stroke="#111" stroke-width="1.35" stroke-linejoin="round" />
<path d="M321.5 877.9 L321.5 888.1" fill="none" stroke="#111" stroke-width="1.35" stroke-linejoin="round" />
<path d="M424.4 888.1 L418.9 903.7" fill="none" stroke="#111" stroke-width="1.35" stroke-linejoin="round" />
<path d="M291.8 870.9 L295 868.6 L346.4 884.9 L349.5 889.6 L348 895.9 L344.9 897.4 L293.4 881 L291.1 876.4 Z" fill="none" stroke="#111" stroke-width="1.35" stroke-linejoin="round" />
<path d="M298.1 874 L344.9 888.8 L344.9 894.3 L298.1 879.5 Z" fill="none" stroke="#111" stroke-width="1.35" stroke-linejoin="round" />
<ellipse cx="429.1" cy="892.7" rx="2.5" ry="3.4" fill="none" stroke="#111" stroke-width="1.35"/>
<ellipse cx="443.9" cy="889.6" rx="2.5" ry="3.4" fill="none" stroke="#111" stroke-width="1.35"/>
<ellipse cx="437.2" cy="891.2" rx="0.9" ry="0.9" fill="#111" stroke="#111" stroke-width="1.35"/>
<ellipse cx="411.9" cy="881.8" rx="1.4" ry="1.4" fill="#555" stroke="#111" stroke-width="1.35"/>
<line x1="343.3" y1="831.9" x2="350.8" y2="830.3" stroke="#111" stroke-width="2.9"/>
<line x1="343.3" y1="831.9" x2="350.2" y2="830.5" stroke="#fff" stroke-width="1.3"/>
<ellipse cx="343.3" cy="831.9" rx="2.4" ry="3.2" fill="#fff" stroke="#111" stroke-width="1.1" transform="rotate(-12 343.3 831.9)"/>
<ellipse cx="342.5" cy="832.1" rx="1" ry="1.4" fill="#111" stroke="#111" stroke-width="0.5" transform="rotate(-12 342.5 832.1)"/>
<line x1="430.6" y1="856.9" x2="438.1" y2="855.3" stroke="#111" stroke-width="2.9"/>
<line x1="430.6" y1="856.9" x2="437.5" y2="855.4" stroke="#fff" stroke-width="1.3"/>
<ellipse cx="430.6" cy="856.9" rx="2.4" ry="3.2" fill="#fff" stroke="#111" stroke-width="1.1" transform="rotate(-12 430.6 856.9)"/>
<ellipse cx="429.9" cy="857" rx="1" ry="1.4" fill="#111" stroke="#111" stroke-width="0.5" transform="rotate(-12 429.9 857)"/>
<line x1="581.1" y1="821.8" x2="576.2" y2="823.6" stroke="#111" stroke-width="2"/>
<line x1="581.1" y1="821.8" x2="576.6" y2="823.4" stroke="#fff" stroke-width="0.4"/>
<ellipse cx="581.1" cy="821.8" rx="1.7" ry="2.2" fill="#fff" stroke="#111" stroke-width="1.1" transform="rotate(160 581.1 821.8)"/>
<ellipse cx="581.9" cy="821.5" rx="0.7" ry="1" fill="#111" stroke="#111" stroke-width="0.5" transform="rotate(160 581.9 821.5)"/>
<path d="M561.6 822.6 L566.3 824.4" fill="none" stroke="#111" stroke-width="3" stroke-linejoin="round" stroke-linecap="round" />
<path d="M948.1 515.6 L980.4 483.4 L1012.6 451.2 L1034.8 454.2 L1033.7 445.1 L1039.8 440.1 L1048.9 441.1 L1054.9 448.1 L1058.9 466.3 L1073 482.4 L1077.1 477.3 L1091.2 480.4 L1097.2 485.4 L1111.3 487.4 L1121.4 500.5 L1126.4 514.6 L1118.4 571 L1109.3 583.1 L1101.2 597.2 L1089.1 651.6 L1083.1 671.7 L1091.2 681.8 L1093.2 712 L1069 720.1 L1052.9 720.1 L1050.9 699.9 L958.2 691.9 L957.2 665.7 L960.2 641.5 L956.2 623.4 L970.3 583.1 L978.3 550.9 L970.3 548.9 L972.3 530.7 L950.1 520.7 Z" fill="#fff" stroke="#111" stroke-width="1.7550000000000001" stroke-linejoin="round" />
<g transform="translate(1.9,1.5)" opacity="0.75">
<path d="M948.1 515.6 L1006.6 534.8 L1046.8 538.8 L1050.9 548.9" fill="none" stroke="#111" stroke-width="0.95" stroke-linejoin="round" />
<path d="M950.1 518.6 L1006.6 537.8 L1044.8 541.8" fill="none" stroke="#111" stroke-width="0.95" stroke-linejoin="round" />
<path d="M1006.6 534.8 L1038.8 508.6 L1054.9 486.4 L1073 482.4" fill="none" stroke="#111" stroke-width="0.95" stroke-linejoin="round" />
<path d="M1038.8 508.6 L1083.1 510.6 L1121.4 514.6" fill="none" stroke="#111" stroke-width="0.95" stroke-linejoin="round" />
<path d="M1054.9 520.7 L1083.1 510.6" fill="none" stroke="#111" stroke-width="0.95" stroke-linejoin="round" />
<path d="M980.4 483.4 L1030.7 500.5 L1038.8 508.6" fill="none" stroke="#111" stroke-width="0.95" stroke-linejoin="round" />
<path d="M1012.6 451.2 L1058.9 466.3" fill="none" stroke="#111" stroke-width="0.95" stroke-linejoin="round" />
<path d="M970.3 490.4 L1016.6 460.2" fill="none" stroke="#111" stroke-width="0.95" stroke-linejoin="round" />
<path d="M988.4 518.6 L1024.7 458.2" fill="none" stroke="#111" stroke-width="0.95" stroke-linejoin="round" />
<path d="M1006.6 530.7 L1036.8 462.2" fill="none" stroke="#111" stroke-width="0.95" stroke-linejoin="round" />
<path d="M1030.7 500.5 L1050.9 470.3" fill="none" stroke="#111" stroke-width="0.95" stroke-linejoin="round" />
<path d="M1054.9 520.7 L1048.9 538.8 L1058.9 546.8 L1087.1 554.9 L1093.2 563 L1091.2 587.1 L1101.2 597.2" fill="none" stroke="#111" stroke-width="0.95" stroke-linejoin="round" />
<path d="M1123.4 516.6 L1115.3 569 L1091.2 583.1" fill="none" stroke="#111" stroke-width="0.95" stroke-linejoin="round" />
<path d="M1119.4 516.6 L1112.3 567 L1091.2 580.1" fill="none" stroke="#111" stroke-width="0.95" stroke-linejoin="round" />
<path d="M978.3 550.9 L1010.6 542.8 L1050.9 548.9" fill="none" stroke="#111" stroke-width="0.95" stroke-linejoin="round" />
<path d="M1030.7 571 L1042.8 538.8" fill="none" stroke="#111" stroke-width="0.95" stroke-linejoin="round" />
<path d="M1012.6 546.8 L1010.6 607.3 L1026.7 623.4" fill="none" stroke="#111" stroke-width="0.95" stroke-linejoin="round" />
<path d="M1002.5 583.1 L1038.8 575 L1038.8 591.2 L1004.5 595.2 L1002.5 583.1" fill="none" stroke="#111" stroke-width="0.95" stroke-linejoin="round" />
<path d="M1042.8 558.9 L1058.9 548.9 L1087.1 558.9 L1089.1 583.1 L1071 603.2 L1067 615.3 L1058.9 671.7 L1052.9 720.1" fill="none" stroke="#111" stroke-width="0.95" stroke-linejoin="round" />
<path d="M1050.9 571 L1048.9 631.5 L1038.8 667.7 L1034.8 693.9" fill="none" stroke="#111" stroke-width="0.95" stroke-linejoin="round" />
<path d="M980.4 645.6 L1016.6 639.5 L1050.9 647.6" fill="none" stroke="#111" stroke-width="0.95" stroke-linejoin="round" />
<path d="M988.4 649.6 L984.4 671.7 L1018.6 663.7 L1026.7 643.5" fill="none" stroke="#111" stroke-width="0.95" stroke-linejoin="round" />
<path d="M996.5 671.7 L996.5 689.9" fill="none" stroke="#111" stroke-width="0.95" stroke-linejoin="round" />
<path d="M1006.6 673.8 L1038.8 681.8" fill="none" stroke="#111" stroke-width="0.95" stroke-linejoin="round" />
<path d="M958.2 665.7 L970.3 671.7 L984.4 671.7" fill="none" stroke="#111" stroke-width="0.95" stroke-linejoin="round" />
<path d="M960.2 641.5 L980.4 645.6" fill="none" stroke="#111" stroke-width="0.95" stroke-linejoin="round" />
<path d="M1063 611.3 L1071 607.3 L1101.2 597.2" fill="none" stroke="#111" stroke-width="0.95" stroke-linejoin="round" />
<path d="M1071 720.1 L1065 691.9 L1058.9 671.7" fill="none" stroke="#111" stroke-width="0.95" stroke-linejoin="round" />
<path d="M1079.1 671.7 L1069 685.8 L1071 716.1" fill="none" stroke="#111" stroke-width="0.95" stroke-linejoin="round" />
<path d="M1060.9 579.1 L1079.1 583.1 L1083.1 575" fill="none" stroke="#111" stroke-width="0.95" stroke-linejoin="round" />
<path d="M1034.8 454.2 L1042.8 456.2 L1050.9 466.3" fill="none" stroke="#111" stroke-width="0.95" stroke-linejoin="round" />
<path d="M1039.8 440.1 L1044.8 448.1 L1048.9 464.2" fill="none" stroke="#111" stroke-width="0.95" stroke-linejoin="round" />
<path d="M1016.6 579.1 L1016.6 607.3" fill="none" stroke="#111" stroke-width="0.95" stroke-linejoin="round" />
<path d="M1020.7 579.1 L1020.7 605.3" fill="none" stroke="#111" stroke-width="0.95" stroke-linejoin="round" />
<path d="M1026.7 623.4 L1042.8 631.5" fill="none" stroke="#111" stroke-width="0.95" stroke-linejoin="round" />
<path d="M1010.6 563 L1034.8 556.9" fill="none" stroke="#111" stroke-width="0.95" stroke-linejoin="round" />
<path d="M972.3 530.7 L976.3 548.9" fill="none" stroke="#111" stroke-width="0.95" stroke-linejoin="round" />
<path d="M990.4 536.8 L986.4 554.9" fill="none" stroke="#111" stroke-width="0.95" stroke-linejoin="round" />
<path d="M998.5 538.8 L994.5 550.9" fill="none" stroke="#111" stroke-width="0.95" stroke-linejoin="round" />
<path d="M1077.1 477.3 L1075 484.4 L1089.1 488.4 L1091.2 480.4" fill="none" stroke="#111" stroke-width="0.95" stroke-linejoin="round" />
<path d="M1085.1 490.4 L1095.2 492.4 L1094.2 497.5 L1084.1 495.5 L1085.1 490.4" fill="none" stroke="#111" stroke-width="0.95" stroke-linejoin="round" />
</g>
<path d="M948.1 515.6 L1006.6 534.8 L1046.8 538.8 L1050.9 548.9" fill="none" stroke="#111" stroke-width="1.35" stroke-linejoin="round" />
<path d="M950.1 518.6 L1006.6 537.8 L1044.8 541.8" fill="none" stroke="#111" stroke-width="1.35" stroke-linejoin="round" />
<path d="M1006.6 534.8 L1038.8 508.6 L1054.9 486.4 L1073 482.4" fill="none" stroke="#111" stroke-width="1.35" stroke-linejoin="round" />
<path d="M1038.8 508.6 L1083.1 510.6 L1121.4 514.6" fill="none" stroke="#111" stroke-width="1.35" stroke-linejoin="round" />
<path d="M1054.9 520.7 L1083.1 510.6" fill="none" stroke="#111" stroke-width="1.35" stroke-linejoin="round" />
<path d="M980.4 483.4 L1030.7 500.5 L1038.8 508.6" fill="none" stroke="#111" stroke-width="1.35" stroke-linejoin="round" />
<path d="M1012.6 451.2 L1058.9 466.3" fill="none" stroke="#111" stroke-width="1.35" stroke-linejoin="round" />
<path d="M970.3 490.4 L1016.6 460.2" fill="none" stroke="#111" stroke-width="1.35" stroke-linejoin="round" />
<path d="M988.4 518.6 L1024.7 458.2" fill="none" stroke="#111" stroke-width="1.35" stroke-linejoin="round" />
<path d="M1006.6 530.7 L1036.8 462.2" fill="none" stroke="#111" stroke-width="1.35" stroke-linejoin="round" />
<path d="M1030.7 500.5 L1050.9 470.3" fill="none" stroke="#111" stroke-width="1.35" stroke-linejoin="round" />
<path d="M1054.9 520.7 L1048.9 538.8 L1058.9 546.8 L1087.1 554.9 L1093.2 563 L1091.2 587.1 L1101.2 597.2" fill="none" stroke="#111" stroke-width="1.35" stroke-linejoin="round" />
<path d="M1123.4 516.6 L1115.3 569 L1091.2 583.1" fill="none" stroke="#111" stroke-width="1.35" stroke-linejoin="round" />
<path d="M1119.4 516.6 L1112.3 567 L1091.2 580.1" fill="none" stroke="#111" stroke-width="1.35" stroke-linejoin="round" />
<path d="M978.3 550.9 L1010.6 542.8 L1050.9 548.9" fill="none" stroke="#111" stroke-width="1.35" stroke-linejoin="round" />
<path d="M1030.7 571 L1042.8 538.8" fill="none" stroke="#111" stroke-width="1.35" stroke-linejoin="round" />
<path d="M1012.6 546.8 L1010.6 607.3 L1026.7 623.4" fill="none" stroke="#111" stroke-width="1.35" stroke-linejoin="round" />
<path d="M1002.5 583.1 L1038.8 575 L1038.8 591.2 L1004.5 595.2 L1002.5 583.1" fill="none" stroke="#111" stroke-width="1.35" stroke-linejoin="round" />
<path d="M1042.8 558.9 L1058.9 548.9 L1087.1 558.9 L1089.1 583.1 L1071 603.2 L1067 615.3 L1058.9 671.7 L1052.9 720.1" fill="none" stroke="#111" stroke-width="1.35" stroke-linejoin="round" />
<path d="M1050.9 571 L1048.9 631.5 L1038.8 667.7 L1034.8 693.9" fill="none" stroke="#111" stroke-width="1.35" stroke-linejoin="round" />
<path d="M980.4 645.6 L1016.6 639.5 L1050.9 647.6" fill="none" stroke="#111" stroke-width="1.35" stroke-linejoin="round" />
<path d="M988.4 649.6 L984.4 671.7 L1018.6 663.7 L1026.7 643.5" fill="none" stroke="#111" stroke-width="1.35" stroke-linejoin="round" />
<path d="M996.5 671.7 L996.5 689.9" fill="none" stroke="#111" stroke-width="1.35" stroke-linejoin="round" />
<path d="M1006.6 673.8 L1038.8 681.8" fill="none" stroke="#111" stroke-width="1.35" stroke-linejoin="round" />
<path d="M958.2 665.7 L970.3 671.7 L984.4 671.7" fill="none" stroke="#111" stroke-width="1.35" stroke-linejoin="round" />
<path d="M960.2 641.5 L980.4 645.6" fill="none" stroke="#111" stroke-width="1.35" stroke-linejoin="round" />
<path d="M1063 611.3 L1071 607.3 L1101.2 597.2" fill="none" stroke="#111" stroke-width="1.35" stroke-linejoin="round" />
<path d="M1071 720.1 L1065 691.9 L1058.9 671.7" fill="none" stroke="#111" stroke-width="1.35" stroke-linejoin="round" />
<path d="M1079.1 671.7 L1069 685.8 L1071 716.1" fill="none" stroke="#111" stroke-width="1.35" stroke-linejoin="round" />
<path d="M1060.9 579.1 L1079.1 583.1 L1083.1 575" fill="none" stroke="#111" stroke-width="1.35" stroke-linejoin="round" />
<path d="M1034.8 454.2 L1042.8 456.2 L1050.9 466.3" fill="none" stroke="#111" stroke-width="1.35" stroke-linejoin="round" />
<path d="M1039.8 440.1 L1044.8 448.1 L1048.9 464.2" fill="none" stroke="#111" stroke-width="1.35" stroke-linejoin="round" />
<path d="M1016.6 579.1 L1016.6 607.3" fill="none" stroke="#111" stroke-width="1.35" stroke-linejoin="round" />
<path d="M1020.7 579.1 L1020.7 605.3" fill="none" stroke="#111" stroke-width="1.35" stroke-linejoin="round" />
<path d="M1026.7 623.4 L1042.8 631.5" fill="none" stroke="#111" stroke-width="1.35" stroke-linejoin="round" />
<path d="M1010.6 563 L1034.8 556.9" fill="none" stroke="#111" stroke-width="1.35" stroke-linejoin="round" />
<path d="M972.3 530.7 L976.3 548.9" fill="none" stroke="#111" stroke-width="1.35" stroke-linejoin="round" />
<path d="M990.4 536.8 L986.4 554.9" fill="none" stroke="#111" stroke-width="1.35" stroke-linejoin="round" />
<path d="M998.5 538.8 L994.5 550.9" fill="none" stroke="#111" stroke-width="1.35" stroke-linejoin="round" />
<path d="M1077.1 477.3 L1075 484.4 L1089.1 488.4 L1091.2 480.4" fill="none" stroke="#111" stroke-width="1.35" stroke-linejoin="round" />
<path d="M1085.1 490.4 L1095.2 492.4 L1094.2 497.5 L1084.1 495.5 L1085.1 490.4" fill="none" stroke="#111" stroke-width="1.35" stroke-linejoin="round" />
<path d="M980.4 500.5 L1000.5 469.3 L1022.7 475.3 L1004.5 507.6 Z" fill="none" stroke="#111" stroke-width="1.35" stroke-linejoin="round" />
<path d="M1073 530.7 L1083.1 520.7 L1109.3 526.7 L1113.3 532.7 L1109.3 548.9 L1099.2 554.9 L1077.1 547.8 L1071 542.8 Z" fill="none" stroke="#111" stroke-width="1.35" stroke-linejoin="round" />
<path d="M1079.1 532.7 L1087.1 524.7 L1105.3 529.7 L1105.3 544.8 L1097.2 550.9 L1083.1 545.8 Z" fill="none" stroke="#111" stroke-width="1.35" stroke-linejoin="round" />
<ellipse cx="1103.2" cy="484.4" rx="6.8" ry="2.8" fill="#333" stroke="#111" stroke-width="1.35"/>
<ellipse cx="1103.2" cy="489.4" rx="3.6" ry="4.4" fill="#444" stroke="#111" stroke-width="1.35"/>
<ellipse cx="1037.8" cy="629.4" rx="2" ry="2.8" fill="none" stroke="#111" stroke-width="1.35"/>
<ellipse cx="1021.7" cy="673.8" rx="2" ry="3.2" fill="none" stroke="#111" stroke-width="1.35"/>
<ellipse cx="964.2" cy="683.8" rx="1.6" ry="2" fill="none" stroke="#111" stroke-width="1.35"/>
<ellipse cx="1059.9" cy="712" rx="1.6" ry="2" fill="none" stroke="#111" stroke-width="1.35"/>
<path d="M1085.1 536.8 L1109.3 542.8 M1089.1 533.7 L1105.3 537.8" fill="none" stroke="#111" stroke-width="2.2" stroke-linejoin="round" stroke-linecap="round" />
<path d="M1002.5 589.1 L1020.7 585.1" fill="none" stroke="#111" stroke-width="2.5" stroke-linejoin="round" stroke-linecap="round" />
<defs><pattern id="hex" width="5.2" height="6" patternUnits="userSpaceOnUse" patternTransform="rotate(16)"><rect width="5.2" height="6" fill="#222"/><circle cx="1.3" cy="1.5" r="1.75" fill="#fff"/><circle cx="3.9" cy="4.5" r="1.75" fill="#fff"/><circle cx="-1.3" cy="4.5" r="1.75" fill="#fff"/><circle cx="6.5" cy="1.5" r="1.75" fill="#fff"/><circle cx="1.3" cy="7.5" r="1.75" fill="#fff"/><circle cx="3.9" cy="-1.5" r="1.75" fill="#fff"/></pattern></defs>
<path d="M1120.4 597.2 L1128.4 564 L1181.8 579.1 L1178.8 611.3 L1162.7 626.4 L1123.4 611.3 Z" fill="#fff" stroke="#111" stroke-width="1.7550000000000001" stroke-linejoin="round" />
<path d="M1124.4 598.2 L1131.5 567" fill="none" stroke="#111" stroke-width="1.35" stroke-linejoin="round" />
<path d="M1123.4 611.3 L1126.4 607.3 L1161.7 620.4 L1162.7 626.4" fill="none" stroke="#111" stroke-width="1.35" stroke-linejoin="round" />
<path d="M1161.7 620.4 L1174.8 609.3 L1178.8 611.3" fill="none" stroke="#111" stroke-width="1.35" stroke-linejoin="round" />
<path d="M1174.8 609.3 L1177.8 580.1" fill="none" stroke="#111" stroke-width="1.35" stroke-linejoin="round" />
<path d="M1128.4 605.3 L1133.5 571 L1172.7 582.1 L1170.7 607.3 L1159.7 617.3 Z" fill="url(#hex)" stroke="#111" stroke-width="1.2"/>
<path d="M1086.1 458.2 L1101.2 462.2 L1097.2 472.3 L1083.1 468.3 Z" fill="#fff" stroke="#111" stroke-width="1.7550000000000001" stroke-linejoin="round" />
<path d="M1089.1 459.2 L1086.1 469.3" fill="none" stroke="#111" stroke-width="2.43" stroke-linejoin="round" />
<path d="M1092.2 460.2 L1089.1 469.9" fill="none" stroke="#111" stroke-width="2.43" stroke-linejoin="round" />
<path d="M1095.2 460.8 L1092.2 470.9" fill="none" stroke="#111" stroke-width="2.43" stroke-linejoin="round" />
<path d="M933 603.7 L950.1 609.3" fill="none" stroke="#111" stroke-width="8" stroke-linejoin="round" stroke-linecap="round" />
<path d="M933 603.7 L950.1 609.3" fill="none" stroke="#fff" stroke-width="5.6" stroke-linejoin="round" stroke-linecap="round" />
<line x1="1111.3" y1="619.4" x2="1104.7" y2="620.5" stroke="#111" stroke-width="2.5"/>
<line x1="1111.3" y1="619.4" x2="1105.2" y2="620.4" stroke="#fff" stroke-width="0.9"/>
<ellipse cx="1111.3" cy="619.4" rx="2.1" ry="2.8" fill="#fff" stroke="#111" stroke-width="1.1" transform="rotate(170 1111.3 619.4)"/>
<ellipse cx="1112.1" cy="619.2" rx="0.8" ry="1.3" fill="#111" stroke="#111" stroke-width="0.5" transform="rotate(170 1112.1 619.2)"/>
<line x1="1133.5" y1="625.4" x2="1126.8" y2="626.6" stroke="#111" stroke-width="2.5"/>
<line x1="1133.5" y1="625.4" x2="1127.4" y2="626.5" stroke="#fff" stroke-width="0.9"/>
<ellipse cx="1133.5" cy="625.4" rx="2.1" ry="2.8" fill="#fff" stroke="#111" stroke-width="1.1" transform="rotate(170 1133.5 625.4)"/>
<ellipse cx="1134.3" cy="625.3" rx="0.8" ry="1.3" fill="#111" stroke="#111" stroke-width="0.5" transform="rotate(170 1134.3 625.3)"/>
<line x1="1095.2" y1="662.7" x2="1088.6" y2="663.8" stroke="#111" stroke-width="2.5"/>
<line x1="1095.2" y1="662.7" x2="1089.1" y2="663.7" stroke="#fff" stroke-width="0.9"/>
<ellipse cx="1095.2" cy="662.7" rx="2.1" ry="2.8" fill="#fff" stroke="#111" stroke-width="1.1" transform="rotate(170 1095.2 662.7)"/>
<ellipse cx="1096" cy="662.5" rx="0.8" ry="1.3" fill="#111" stroke="#111" stroke-width="0.5" transform="rotate(170 1096 662.5)"/>
<line x1="1144.5" y1="680.8" x2="1137.9" y2="682" stroke="#111" stroke-width="2.5"/>
<line x1="1144.5" y1="680.8" x2="1138.5" y2="681.9" stroke="#fff" stroke-width="0.9"/>
<ellipse cx="1144.5" cy="680.8" rx="2.1" ry="2.8" fill="#fff" stroke="#111" stroke-width="1.1" transform="rotate(170 1144.5 680.8)"/>
<ellipse cx="1145.3" cy="680.7" rx="0.8" ry="1.3" fill="#111" stroke="#111" stroke-width="0.5" transform="rotate(170 1145.3 680.7)"/>
<line x1="938.1" y1="702" x2="938.1" y2="707.2" stroke="#111" stroke-width="2"/>
<line x1="938.1" y1="702" x2="938.1" y2="706.8" stroke="#fff" stroke-width="0.4"/>
<ellipse cx="938.1" cy="702" rx="1.7" ry="2.2" fill="#fff" stroke="#111" stroke-width="1.1" transform="rotate(90 938.1 702)"/>
<ellipse cx="938.1" cy="701.2" rx="0.7" ry="1" fill="#111" stroke="#111" stroke-width="0.5" transform="rotate(90 938.1 701.2)"/>
<line x1="1017" y1="724.1" x2="1017" y2="729.4" stroke="#111" stroke-width="2"/>
<line x1="1017" y1="724.1" x2="1017" y2="729" stroke="#fff" stroke-width="0.4"/>
<ellipse cx="1017" cy="724.1" rx="1.7" ry="2.2" fill="#fff" stroke="#111" stroke-width="1.1" transform="rotate(90 1017 724.1)"/>
<ellipse cx="1017" cy="723.3" rx="0.7" ry="1" fill="#111" stroke="#111" stroke-width="0.5" transform="rotate(90 1017 723.3)"/>
<g transform="translate(1.9,1.5)" opacity="0.75">
<path d="M976.3 554.9 L970.3 667.7" fill="none" stroke="#111" stroke-width="0.95" stroke-linejoin="round" />
<path d="M982.4 552.9 L977.3 631.5" fill="none" stroke="#111" stroke-width="0.95" stroke-linejoin="round" />
<path d="M1014.6 548.9 L1013.6 583.1" fill="none" stroke="#111" stroke-width="0.95" stroke-linejoin="round" />
<path d="M1024.7 575 L1026.7 611.3" fill="none" stroke="#111" stroke-width="0.95" stroke-linejoin="round" />
<path d="M1034.8 550.9 L1030.7 579.1" fill="none" stroke="#111" stroke-width="0.95" stroke-linejoin="round" />
<path d="M1042.8 583.1 L1042.8 631.5" fill="none" stroke="#111" stroke-width="0.95" stroke-linejoin="round" />
<path d="M1052.9 579.1 L1054.9 631.5" fill="none" stroke="#111" stroke-width="0.95" stroke-linejoin="round" />
<path d="M1058.9 631.5 L1050.9 699.9" fill="none" stroke="#111" stroke-width="0.95" stroke-linejoin="round" />
<path d="M1042.8 647.6 L1038.8 697.9" fill="none" stroke="#111" stroke-width="0.95" stroke-linejoin="round" />
<path d="M956.2 623.4 L962.2 625.4" fill="none" stroke="#111" stroke-width="0.95" stroke-linejoin="round" />
<path d="M958.2 631.5 L963.2 632.5" fill="none" stroke="#111" stroke-width="0.95" stroke-linejoin="round" />
<path d="M955.2 647.6 L960.2 648.6" fill="none" stroke="#111" stroke-width="0.95" stroke-linejoin="round" />
<path d="M966.3 583.1 L971.3 584.7" fill="none" stroke="#111" stroke-width="0.95" stroke-linejoin="round" />
<path d="M964.2 607.3 L969.3 608.9" fill="none" stroke="#111" stroke-width="0.95" stroke-linejoin="round" />
<path d="M990.4 558.9 L988.4 643.5" fill="none" stroke="#111" stroke-width="0.95" stroke-linejoin="round" />
<path d="M998.5 597.2 L996.5 641.5" fill="none" stroke="#111" stroke-width="0.95" stroke-linejoin="round" />
<path d="M1006.6 607.3 L1026.7 623.4 L1024.7 641.5" fill="none" stroke="#111" stroke-width="0.95" stroke-linejoin="round" />
<path d="M1058.9 554.9 L1071 560.9 L1083.1 560.9" fill="none" stroke="#111" stroke-width="0.95" stroke-linejoin="round" />
<path d="M1063 571 L1060.9 607.3" fill="none" stroke="#111" stroke-width="0.95" stroke-linejoin="round" />
<path d="M1071 563 L1069 603.2" fill="none" stroke="#111" stroke-width="0.95" stroke-linejoin="round" />
<path d="M1079.1 565 L1077.1 583.1" fill="none" stroke="#111" stroke-width="0.95" stroke-linejoin="round" />
<path d="M1099.2 490.4 L1118.4 496.5" fill="none" stroke="#111" stroke-width="0.95" stroke-linejoin="round" />
<path d="M1071 490.4 L1079.1 510.6" fill="none" stroke="#111" stroke-width="0.95" stroke-linejoin="round" />
<path d="M1054.9 488.4 L1050.9 520.7" fill="none" stroke="#111" stroke-width="0.95" stroke-linejoin="round" />
<path d="M1085.1 558.9 L1083.1 579.1" fill="none" stroke="#111" stroke-width="0.95" stroke-linejoin="round" />
<path d="M1095.2 599.2 L1085.1 651.6 L1079.1 671.7" fill="none" stroke="#111" stroke-width="0.95" stroke-linejoin="round" />
<path d="M1103.2 587.1 L1091.2 649.6" fill="none" stroke="#111" stroke-width="0.95" stroke-linejoin="round" />
<path d="M960.2 667.7 L1048.9 677.8" fill="none" stroke="#111" stroke-width="0.95" stroke-linejoin="round" />
<path d="M962.2 679.8 L1048.9 689.9" fill="none" stroke="#111" stroke-width="0.95" stroke-linejoin="round" />
<path d="M980.4 651.6 L980.4 671.7" fill="none" stroke="#111" stroke-width="0.95" stroke-linejoin="round" />
<path d="M970.3 653.6 L969.3 669.7" fill="none" stroke="#111" stroke-width="0.95" stroke-linejoin="round" />
</g>
<path d="M976.3 554.9 L970.3 667.7" fill="none" stroke="#111" stroke-width="1.215" stroke-linejoin="round" />
<path d="M982.4 552.9 L977.3 631.5" fill="none" stroke="#111" stroke-width="1.215" stroke-linejoin="round" />
<path d="M1014.6 548.9 L1013.6 583.1" fill="none" stroke="#111" stroke-width="1.215" stroke-linejoin="round" />
<path d="M1024.7 575 L1026.7 611.3" fill="none" stroke="#111" stroke-width="1.215" stroke-linejoin="round" />
<path d="M1034.8 550.9 L1030.7 579.1" fill="none" stroke="#111" stroke-width="1.215" stroke-linejoin="round" />
<path d="M1042.8 583.1 L1042.8 631.5" fill="none" stroke="#111" stroke-width="1.215" stroke-linejoin="round" />
<path d="M1052.9 579.1 L1054.9 631.5" fill="none" stroke="#111" stroke-width="1.215" stroke-linejoin="round" />
<path d="M1058.9 631.5 L1050.9 699.9" fill="none" stroke="#111" stroke-width="1.215" stroke-linejoin="round" />
<path d="M1042.8 647.6 L1038.8 697.9" fill="none" stroke="#111" stroke-width="1.215" stroke-linejoin="round" />
<path d="M956.2 623.4 L962.2 625.4" fill="none" stroke="#111" stroke-width="1.215" stroke-linejoin="round" />
<path d="M958.2 631.5 L963.2 632.5" fill="none" stroke="#111" stroke-width="1.215" stroke-linejoin="round" />
<path d="M955.2 647.6 L960.2 648.6" fill="none" stroke="#111" stroke-width="1.215" stroke-linejoin="round" />
<path d="M966.3 583.1 L971.3 584.7" fill="none" stroke="#111" stroke-width="1.215" stroke-linejoin="round" />
<path d="M964.2 607.3 L969.3 608.9" fill="none" stroke="#111" stroke-width="1.215" stroke-linejoin="round" />
<path d="M990.4 558.9 L988.4 643.5" fill="none" stroke="#111" stroke-width="1.215" stroke-linejoin="round" />
<path d="M998.5 597.2 L996.5 641.5" fill="none" stroke="#111" stroke-width="1.215" stroke-linejoin="round" />
<path d="M1006.6 607.3 L1026.7 623.4 L1024.7 641.5" fill="none" stroke="#111" stroke-width="1.215" stroke-linejoin="round" />
<path d="M1058.9 554.9 L1071 560.9 L1083.1 560.9" fill="none" stroke="#111" stroke-width="1.215" stroke-linejoin="round" />
<path d="M1063 571 L1060.9 607.3" fill="none" stroke="#111" stroke-width="1.215" stroke-linejoin="round" />
<path d="M1071 563 L1069 603.2" fill="none" stroke="#111" stroke-width="1.215" stroke-linejoin="round" />
<path d="M1079.1 565 L1077.1 583.1" fill="none" stroke="#111" stroke-width="1.215" stroke-linejoin="round" />
<path d="M1099.2 490.4 L1118.4 496.5" fill="none" stroke="#111" stroke-width="1.215" stroke-linejoin="round" />
<path d="M1071 490.4 L1079.1 510.6" fill="none" stroke="#111" stroke-width="1.215" stroke-linejoin="round" />
<path d="M1054.9 488.4 L1050.9 520.7" fill="none" stroke="#111" stroke-width="1.215" stroke-linejoin="round" />
<path d="M1085.1 558.9 L1083.1 579.1" fill="none" stroke="#111" stroke-width="1.215" stroke-linejoin="round" />
<path d="M1095.2 599.2 L1085.1 651.6 L1079.1 671.7" fill="none" stroke="#111" stroke-width="1.215" stroke-linejoin="round" />
<path d="M1103.2 587.1 L1091.2 649.6" fill="none" stroke="#111" stroke-width="1.215" stroke-linejoin="round" />
<path d="M960.2 667.7 L1048.9 677.8" fill="none" stroke="#111" stroke-width="1.215" stroke-linejoin="round" />
<path d="M962.2 679.8 L1048.9 689.9" fill="none" stroke="#111" stroke-width="1.215" stroke-linejoin="round" />
<path d="M980.4 651.6 L980.4 671.7" fill="none" stroke="#111" stroke-width="1.215" stroke-linejoin="round" />
<path d="M970.3 653.6 L969.3 669.7" fill="none" stroke="#111" stroke-width="1.215" stroke-linejoin="round" />
<path d="M949.1 516.6 L1006.6 535.8 L1046.8 539.8" fill="none" stroke="#111" stroke-width="2.6" stroke-linejoin="round" stroke-linecap="round" />
<path d="M1033.7 445.1 L1039.8 440.1 L1048.9 441.1 L1054.9 448.1 L1058.9 466.3" fill="none" stroke="#111" stroke-width="2.4" stroke-linejoin="round" stroke-linecap="round" />
<path d="M1000.5 575 L1010.6 573 L1011.6 583.1 L1001.5 585.1 Z" fill="#333"/>
<path d="M1014.6 579.1 L1022.7 578.1 L1023.1 591.2 L1015.6 592.2 Z" fill="#333"/>
<path d="M1011.6 603.2 L1018.6 602.2 L1019.6 611.3 L1012.6 612.3 Z" fill="#333"/>
<path d="M935.6 791.9 L934.6 762.8 L936.6 735.8 L943.9 724.3 L959.5 725.4 L965.8 712.9 L971 710.3 L988.6 715 L989.7 720.2 L986.5 724.3 L988.6 729.5 L990.7 735.8 L1005.3 739.9 L1008.4 731.6 L1011.5 730 L1019.8 732.6 L1022.4 742 L1021.4 745.1 L1029.2 748.2 L1035.4 757.6 L1044.3 812.7 L1033.3 814.8 L1022.9 814.3 L1021.4 821 L1018.8 821.5 L1021.9 839.7 L1017.2 841.8 L1013.6 839.7 L1009.4 816.9 L969.9 804.4 L950.2 798.1 L950.2 818.9 L945 821 L941.3 818.9 L938.2 797.1 Z" fill="#fff" stroke="#111" stroke-width="2.16" stroke-linejoin="round" />
<g transform="translate(1.9,1.5)" opacity="0.75">
<path d="M935.6 764.9 L1013.6 788.8 L1018.8 791.9 L1022.9 814.3" fill="none" stroke="#111" stroke-width="0.95" stroke-linejoin="round" />
<path d="M936.6 762.8 L1014.1 786.2 L1028.1 762.8 L1029.2 748.2" fill="none" stroke="#111" stroke-width="0.95" stroke-linejoin="round" />
<path d="M940.8 730.6 L1024 755.5 L1030.2 764.9 L1033.3 814.8" fill="none" stroke="#111" stroke-width="0.95" stroke-linejoin="round" />
<path d="M943.9 724.3 L946 728.5 L1025 752.4" fill="none" stroke="#111" stroke-width="0.95" stroke-linejoin="round" />
<path d="M1018.8 791.9 L1032.3 764.9" fill="none" stroke="#111" stroke-width="0.95" stroke-linejoin="round" />
<path d="M1016.7 783.6 L1025 756.5" fill="none" stroke="#111" stroke-width="0.95" stroke-linejoin="round" />
<path d="M936.6 735.8 L940.8 730.6" fill="none" stroke="#111" stroke-width="0.95" stroke-linejoin="round" />
<path d="M937.2 736.8 L936.6 762.8" fill="none" stroke="#111" stroke-width="0.95" stroke-linejoin="round" />
<path d="M967.3 803.3 L967.8 790.9 L972 785.7 L976.2 785.1 L982.4 789.8 L985.5 802.3 L982.4 806.5" fill="none" stroke="#111" stroke-width="0.95" stroke-linejoin="round" />
<path d="M976.2 785.1 L980.3 794 L981.3 805.4" fill="none" stroke="#111" stroke-width="0.95" stroke-linejoin="round" />
<path d="M960.6 724.3 L965.8 720.2 L986.5 725.4" fill="none" stroke="#111" stroke-width="0.95" stroke-linejoin="round" />
<path d="M965.8 720.2 L964.7 725.4" fill="none" stroke="#111" stroke-width="0.95" stroke-linejoin="round" />
<path d="M935.6 791.9 L969.9 802.3 L1009.4 814.8" fill="none" stroke="#111" stroke-width="0.95" stroke-linejoin="round" />
<path d="M943.4 798.1 L946 820" fill="none" stroke="#111" stroke-width="0.95" stroke-linejoin="round" />
<path d="M1014.1 817.9 L1018.3 840.8" fill="none" stroke="#111" stroke-width="0.95" stroke-linejoin="round" />
<path d="M1030.2 764.9 L1035.4 757.6" fill="none" stroke="#111" stroke-width="0.95" stroke-linejoin="round" />
</g>
<path d="M935.6 764.9 L1013.6 788.8 L1018.8 791.9 L1022.9 814.3" fill="none" stroke="#111" stroke-width="1.4850000000000003" stroke-linejoin="round" />
<path d="M936.6 762.8 L1014.1 786.2 L1028.1 762.8 L1029.2 748.2" fill="none" stroke="#111" stroke-width="1.4850000000000003" stroke-linejoin="round" />
<path d="M940.8 730.6 L1024 755.5 L1030.2 764.9 L1033.3 814.8" fill="none" stroke="#111" stroke-width="1.4850000000000003" stroke-linejoin="round" />
<path d="M943.9 724.3 L946 728.5 L1025 752.4" fill="none" stroke="#111" stroke-width="1.4850000000000003" stroke-linejoin="round" />
<path d="M1018.8 791.9 L1032.3 764.9" fill="none" stroke="#111" stroke-width="1.4850000000000003" stroke-linejoin="round" />
<path d="M1016.7 783.6 L1025 756.5" fill="none" stroke="#111" stroke-width="1.4850000000000003" stroke-linejoin="round" />
<path d="M936.6 735.8 L940.8 730.6" fill="none" stroke="#111" stroke-width="1.4850000000000003" stroke-linejoin="round" />
<path d="M937.2 736.8 L936.6 762.8" fill="none" stroke="#111" stroke-width="1.4850000000000003" stroke-linejoin="round" />
<path d="M967.3 803.3 L967.8 790.9 L972 785.7 L976.2 785.1 L982.4 789.8 L985.5 802.3 L982.4 806.5" fill="none" stroke="#111" stroke-width="1.4850000000000003" stroke-linejoin="round" />
<path d="M976.2 785.1 L980.3 794 L981.3 805.4" fill="none" stroke="#111" stroke-width="1.4850000000000003" stroke-linejoin="round" />
<path d="M960.6 724.3 L965.8 720.2 L986.5 725.4" fill="none" stroke="#111" stroke-width="1.4850000000000003" stroke-linejoin="round" />
<path d="M965.8 720.2 L964.7 725.4" fill="none" stroke="#111" stroke-width="1.4850000000000003" stroke-linejoin="round" />
<path d="M935.6 791.9 L969.9 802.3 L1009.4 814.8" fill="none" stroke="#111" stroke-width="1.4850000000000003" stroke-linejoin="round" />
<path d="M943.4 798.1 L946 820" fill="none" stroke="#111" stroke-width="1.4850000000000003" stroke-linejoin="round" />
<path d="M1014.1 817.9 L1018.3 840.8" fill="none" stroke="#111" stroke-width="1.4850000000000003" stroke-linejoin="round" />
<path d="M1030.2 764.9 L1035.4 757.6" fill="none" stroke="#111" stroke-width="1.4850000000000003" stroke-linejoin="round" />
<path d="M964.7 761.7 L965.8 738.9 L968.9 736.8 L973 748.2 L996.9 754.5 L1000.1 746.2 L1001.1 748.2 L992.8 766.9 L989.7 769 Z" fill="none" stroke="#111" stroke-width="1.4850000000000003" stroke-linejoin="round" />
<path d="M968.9 758.6 L973 750.8 L994.9 757.1 L991.7 765.4 Z" fill="none" stroke="#111" stroke-width="1.4850000000000003" stroke-linejoin="round" />
<text transform="translate(971,759.9) rotate(16) skewX(-15) scale(1.2,1)" style="font-family:'Liberation Sans',sans-serif;font-weight:bold;font-size:8.5px;fill:#222">EGO</text>
<path d="M943.9 725.4 L1028.1 750.3" fill="none" stroke="#111" stroke-width="2.2" stroke-linejoin="round" stroke-linecap="round" />
<line x1="938.5" y1="700.9" x2="938.5" y2="706.2" stroke="#111" stroke-width="2"/>
<line x1="938.5" y1="700.9" x2="938.5" y2="705.8" stroke="#fff" stroke-width="0.4"/>
<ellipse cx="938.5" cy="700.9" rx="1.7" ry="2.2" fill="#fff" stroke="#111" stroke-width="1.1" transform="rotate(90 938.5 700.9)"/>
<ellipse cx="938.5" cy="700.1" rx="0.7" ry="1" fill="#111" stroke="#111" stroke-width="0.5" transform="rotate(90 938.5 700.1)"/>
<line x1="1017.2" y1="723.8" x2="1017.2" y2="729.1" stroke="#111" stroke-width="2"/>
<line x1="1017.2" y1="723.8" x2="1017.2" y2="728.6" stroke="#fff" stroke-width="0.4"/>
<ellipse cx="1017.2" cy="723.8" rx="1.7" ry="2.2" fill="#fff" stroke="#111" stroke-width="1.1" transform="rotate(90 1017.2 723.8)"/>
<ellipse cx="1017.2" cy="723" rx="0.7" ry="1" fill="#111" stroke="#111" stroke-width="0.5" transform="rotate(90 1017.2 723)"/>
<path d="M1326.9 476.5 L1341 498.6 L1330.9 522.8 L1337 528.9 L1367.2 535.9 L1373.2 530.9 L1377.3 504.7 L1405.5 498.6 L1381.3 490.6 L1345 478.5 Z" fill="#fff" stroke="#111" stroke-width="1.7550000000000001" stroke-linejoin="round" />
<g transform="translate(1.9,1.5)" opacity="0.75">
<path d="M1341 498.6 L1349.1 486.6 L1373.2 492.6 L1377.3 504.7" fill="none" stroke="#111" stroke-width="0.95" stroke-linejoin="round" />
<path d="M1345 500.7 L1339 524.8" fill="none" stroke="#111" stroke-width="0.95" stroke-linejoin="round" />
<path d="M1353.1 502.7 L1349.1 528.9" fill="none" stroke="#111" stroke-width="0.95" stroke-linejoin="round" />
<path d="M1361.2 504.7 L1359.1 532.9" fill="none" stroke="#111" stroke-width="0.95" stroke-linejoin="round" />
<path d="M1341 510.7 L1371.2 518.8" fill="none" stroke="#111" stroke-width="0.95" stroke-linejoin="round" />
<path d="M1339 519.8 L1371.2 527.8" fill="none" stroke="#111" stroke-width="0.95" stroke-linejoin="round" />
<path d="M1377.3 504.7 L1365.2 514.8 L1367.2 535.9" fill="none" stroke="#111" stroke-width="0.95" stroke-linejoin="round" />
<path d="M1381.3 494.6 L1371.2 522.8" fill="none" stroke="#111" stroke-width="0.95" stroke-linejoin="round" />
<path d="M1389.4 496.6 L1375.3 522.8" fill="none" stroke="#111" stroke-width="0.95" stroke-linejoin="round" />
<path d="M1397.4 498.6 L1377.3 528.9" fill="none" stroke="#111" stroke-width="0.95" stroke-linejoin="round" />
<path d="M1371.2 506.7 L1401.5 499.6" fill="none" stroke="#111" stroke-width="0.95" stroke-linejoin="round" />
<path d="M1333 480.5 L1345 500.7" fill="none" stroke="#111" stroke-width="0.95" stroke-linejoin="round" />
<path d="M1328.9 478.5 L1335 514.8" fill="none" stroke="#111" stroke-width="0.95" stroke-linejoin="round" />
</g>
<path d="M1341 498.6 L1349.1 486.6 L1373.2 492.6 L1377.3 504.7" fill="none" stroke="#111" stroke-width="1.35" stroke-linejoin="round" />
<path d="M1345 500.7 L1339 524.8" fill="none" stroke="#111" stroke-width="1.35" stroke-linejoin="round" />
<path d="M1353.1 502.7 L1349.1 528.9" fill="none" stroke="#111" stroke-width="1.35" stroke-linejoin="round" />
<path d="M1361.2 504.7 L1359.1 532.9" fill="none" stroke="#111" stroke-width="1.35" stroke-linejoin="round" />
<path d="M1341 510.7 L1371.2 518.8" fill="none" stroke="#111" stroke-width="1.35" stroke-linejoin="round" />
<path d="M1339 519.8 L1371.2 527.8" fill="none" stroke="#111" stroke-width="1.35" stroke-linejoin="round" />
<path d="M1377.3 504.7 L1365.2 514.8 L1367.2 535.9" fill="none" stroke="#111" stroke-width="1.35" stroke-linejoin="round" />
<path d="M1381.3 494.6 L1371.2 522.8" fill="none" stroke="#111" stroke-width="1.35" stroke-linejoin="round" />
<path d="M1389.4 496.6 L1375.3 522.8" fill="none" stroke="#111" stroke-width="1.35" stroke-linejoin="round" />
<path d="M1397.4 498.6 L1377.3 528.9" fill="none" stroke="#111" stroke-width="1.35" stroke-linejoin="round" />
<path d="M1371.2 506.7 L1401.5 499.6" fill="none" stroke="#111" stroke-width="1.35" stroke-linejoin="round" />
<path d="M1333 480.5 L1345 500.7" fill="none" stroke="#111" stroke-width="1.35" stroke-linejoin="round" />
<path d="M1328.9 478.5 L1335 514.8" fill="none" stroke="#111" stroke-width="1.35" stroke-linejoin="round" />
<path d="M1339 528.9 L1334 545 L1357.1 552 L1362.2 535.9 Z" fill="#fff" stroke="#111" stroke-width="1.7550000000000001" stroke-linejoin="round" />
<path d="M1303.7 461.4 L1428.6 501.1" fill="none" stroke="#111" stroke-width="13.5" stroke-linejoin="round" stroke-linecap="round" />
<path d="M1303.7 461.4 L1428.6 501.1" fill="none" stroke="#fff" stroke-width="11" stroke-linejoin="round" stroke-linecap="round" />
<path d="M1300.7 465.4 L1425.6 505.7" fill="none" stroke="#111" stroke-width="1.35" stroke-linejoin="round" />
<path d="M1312.8 457.3 L1431.7 495.6" fill="none" stroke="#111" stroke-width="1.35" stroke-linejoin="round" />
<path d="M1315.8 458.3 L1317.8 470.4" fill="none" stroke="#111" stroke-width="1.35" stroke-linejoin="round" />
<path d="M1332 463.4 L1334 475.5" fill="none" stroke="#111" stroke-width="1.35" stroke-linejoin="round" />
<path d="M1304.8 456.3 L1306.8 467.4" fill="none" stroke="#111" stroke-width="1.35" stroke-linejoin="round" />
<path d="M1305.8 579.2 L1320.9 581.2 L1328.9 580.2 L1361.2 594.3 L1366.2 603.4 L1381.3 677.9 L1355.1 686 L1341 686 L1338 682 L1339 657.8 L1308.8 650.7 L1302.7 650.7 L1300.7 653.8 L1264.5 661.8 L1257.4 660.8 L1252.4 656.8 L1253.4 653.8 L1260.4 654.8 L1264.5 658.8 Z" fill="#fff" stroke="#111" stroke-width="2.0250000000000004" stroke-linejoin="round" />
<g transform="translate(1.9,1.5)" opacity="0.75">
<path d="M1305.8 579.2 L1264.5 659.8" fill="none" stroke="#111" stroke-width="0.95" stroke-linejoin="round" />
<path d="M1320.9 583.2 L1308.8 645.7" fill="none" stroke="#111" stroke-width="0.95" stroke-linejoin="round" />
<path d="M1324.9 585.3 L1312.8 644.7" fill="none" stroke="#111" stroke-width="0.95" stroke-linejoin="round" />
<path d="M1339 589.3 L1339 682" fill="none" stroke="#111" stroke-width="0.95" stroke-linejoin="round" />
<path d="M1320.9 585.3 L1339 613.5" fill="none" stroke="#111" stroke-width="0.95" stroke-linejoin="round" />
<path d="M1339 613.5 L1328.9 623.5 L1333 628.6 L1365.2 617.5 L1361.2 611.5 L1339 617.5" fill="none" stroke="#111" stroke-width="0.95" stroke-linejoin="round" />
<path d="M1308.8 645.7 L1339 654.8" fill="none" stroke="#111" stroke-width="0.95" stroke-linejoin="round" />
<path d="M1302.7 650.7 L1337 661.8" fill="none" stroke="#111" stroke-width="0.95" stroke-linejoin="round" />
<path d="M1339 682 L1345 679.9 L1379.3 675.9" fill="none" stroke="#111" stroke-width="0.95" stroke-linejoin="round" />
<path d="M1341 686 L1353.1 682" fill="none" stroke="#111" stroke-width="0.95" stroke-linejoin="round" />
<path d="M1328.9 580.2 L1339 589.3 L1361.2 594.3" fill="none" stroke="#111" stroke-width="0.95" stroke-linejoin="round" />
<path d="M1366.2 603.4 L1341 591.3" fill="none" stroke="#111" stroke-width="0.95" stroke-linejoin="round" />
</g>
<path d="M1305.8 579.2 L1264.5 659.8" fill="none" stroke="#111" stroke-width="1.4850000000000003" stroke-linejoin="round" />
<path d="M1320.9 583.2 L1308.8 645.7" fill="none" stroke="#111" stroke-width="1.4850000000000003" stroke-linejoin="round" />
<path d="M1324.9 585.3 L1312.8 644.7" fill="none" stroke="#111" stroke-width="1.4850000000000003" stroke-linejoin="round" />
<path d="M1339 589.3 L1339 682" fill="none" stroke="#111" stroke-width="1.4850000000000003" stroke-linejoin="round" />
<path d="M1320.9 585.3 L1339 613.5" fill="none" stroke="#111" stroke-width="1.4850000000000003" stroke-linejoin="round" />
<path d="M1339 613.5 L1328.9 623.5 L1333 628.6 L1365.2 617.5 L1361.2 611.5 L1339 617.5" fill="none" stroke="#111" stroke-width="1.4850000000000003" stroke-linejoin="round" />
<path d="M1308.8 645.7 L1339 654.8" fill="none" stroke="#111" stroke-width="1.4850000000000003" stroke-linejoin="round" />
<path d="M1302.7 650.7 L1337 661.8" fill="none" stroke="#111" stroke-width="1.4850000000000003" stroke-linejoin="round" />
<path d="M1339 682 L1345 679.9 L1379.3 675.9" fill="none" stroke="#111" stroke-width="1.4850000000000003" stroke-linejoin="round" />
<path d="M1341 686 L1353.1 682" fill="none" stroke="#111" stroke-width="1.4850000000000003" stroke-linejoin="round" />
<path d="M1328.9 580.2 L1339 589.3 L1361.2 594.3" fill="none" stroke="#111" stroke-width="1.4850000000000003" stroke-linejoin="round" />
<path d="M1366.2 603.4 L1341 591.3" fill="none" stroke="#111" stroke-width="1.4850000000000003" stroke-linejoin="round" />
<ellipse cx="1345" cy="604.4" rx="2.8" ry="2.8" fill="#333" stroke="#111" stroke-width="1.4850000000000003"/>
<ellipse cx="1344" cy="632.6" rx="2.8" ry="2.8" fill="#333" stroke="#111" stroke-width="1.4850000000000003"/>
<ellipse cx="1349.1" cy="619.5" rx="2.4" ry="2.4" fill="#333" stroke="#111" stroke-width="1.4850000000000003"/>
<ellipse cx="1332" cy="594.3" rx="1.6" ry="1.6" fill="#333" stroke="#111" stroke-width="1.4850000000000003"/>
<ellipse cx="1314.8" cy="638.6" rx="1.6" ry="1.6" fill="#333" stroke="#111" stroke-width="1.4850000000000003"/>
<path d="M1305.8 579.2 L1264.5 659.4" fill="none" stroke="#111" stroke-width="2.0" stroke-linejoin="round" stroke-linecap="round" />
<path d="M1306.8 579.6 L1328.9 580.8" fill="none" stroke="#111" stroke-width="2.2" stroke-linejoin="round" stroke-linecap="round" />
<line x1="1263.5" y1="630" x2="1263.5" y2="636.2" stroke="#111" stroke-width="2.3"/>
<line x1="1263.5" y1="630" x2="1263.5" y2="635.7" stroke="#fff" stroke-width="0.7"/>
<ellipse cx="1263.5" cy="630" rx="2" ry="2.6" fill="#fff" stroke="#111" stroke-width="1.1" transform="rotate(90 1263.5 630)"/>
<ellipse cx="1263.5" cy="629.2" rx="0.8" ry="1.2" fill="#111" stroke="#111" stroke-width="0.5" transform="rotate(90 1263.5 629.2)"/>
<line x1="1348.1" y1="655.2" x2="1348.1" y2="661.4" stroke="#111" stroke-width="2.3"/>
<line x1="1348.1" y1="655.2" x2="1348.1" y2="660.9" stroke="#fff" stroke-width="0.7"/>
<ellipse cx="1348.1" cy="655.2" rx="2" ry="2.6" fill="#fff" stroke="#111" stroke-width="1.1" transform="rotate(90 1348.1 655.2)"/>
<ellipse cx="1348.1" cy="654.4" rx="0.8" ry="1.2" fill="#111" stroke="#111" stroke-width="0.5" transform="rotate(90 1348.1 654.4)"/>
<line x1="1377.3" y1="649.1" x2="1377.3" y2="655.4" stroke="#111" stroke-width="2.3"/>
<line x1="1377.3" y1="649.1" x2="1377.3" y2="654.8" stroke="#fff" stroke-width="0.7"/>
<ellipse cx="1377.3" cy="649.1" rx="2" ry="2.6" fill="#fff" stroke="#111" stroke-width="1.1" transform="rotate(90 1377.3 649.1)"/>
<ellipse cx="1377.3" cy="648.3" rx="0.8" ry="1.2" fill="#111" stroke="#111" stroke-width="0.5" transform="rotate(90 1377.3 648.3)"/>
<ellipse cx="1332" cy="432.2" rx="5" ry="7" fill="none" stroke="#111" stroke-width="1.3" transform="rotate(15 1332 432.2)"/>
<ellipse cx="1333.4" cy="432.6" rx="4" ry="6" fill="none" stroke="#111" stroke-width="1.0" transform="rotate(15 1333.4 432.6)"/>
<path d="M1363.2 424.1 L1367.2 422.1 L1401.5 432.2 L1403.5 436.2 L1399.4 438.2 L1393.4 435.2 L1391.4 441.2 L1389.4 440.2 L1390.4 434.2 L1367.2 427.7 L1365.2 431.2 L1364.2 428.1 Z" fill="#fff" stroke="#111" stroke-width="1.62" stroke-linejoin="round" />
<path d="M1367.2 425.1 L1399.4 434.6" fill="none" stroke="#111" stroke-width="1.35" stroke-linejoin="round" />
<path d="M1372.2 447.3 L1377.3 445.9 L1381.3 450.3 L1376.3 451.9 Z" fill="#fff" stroke="#111" stroke-width="1.7550000000000001" stroke-linejoin="round" />
<path d="M1375.3 451.3 L1373.7 458.3" fill="none" stroke="#111" stroke-width="1.35" stroke-linejoin="round" />
<path d="M1376.9 451.7 L1375.3 458.3" fill="none" stroke="#111" stroke-width="1.35" stroke-linejoin="round" />
<line x1="1458.9" y1="510.7" x2="1458.9" y2="516.5" stroke="#111" stroke-width="2.2"/>
<line x1="1458.9" y1="510.7" x2="1458.9" y2="516" stroke="#fff" stroke-width="0.6"/>
<ellipse cx="1458.9" cy="510.7" rx="1.8" ry="2.4" fill="#fff" stroke="#111" stroke-width="1.1" transform="rotate(90 1458.9 510.7)"/>
<ellipse cx="1458.9" cy="509.9" rx="0.7" ry="1.1" fill="#111" stroke="#111" stroke-width="0.5" transform="rotate(90 1458.9 509.9)"/>
<ellipse cx="1459.5" cy="526.4" rx="4" ry="1.6" fill="#333" stroke="#111" stroke-width="1.0"/>
<line x1="1277.6" y1="410" x2="1277.8" y2="410" stroke="#111" stroke-width="0.1"/>
<line x1="1277.6" y1="410" x2="1277.8" y2="410" stroke="#fff" stroke-width="-1.5"/>
<ellipse cx="1277.6" cy="410" rx="0.1" ry="0.1" fill="#fff" stroke="#111" stroke-width="1.1"/>
<ellipse cx="1276.8" cy="410" rx="0" ry="0" fill="#111" stroke="#111" stroke-width="0.5"/>
<path d="M1428 620.3 L1430.5 617.2 L1436.1 616 L1570.7 587.9 L1576.9 587.9 L1630.5 603.5 L1636.7 607.2 L1651.7 613.5 L1656.6 625.9 L1654.1 628.4 L1631.7 632.2 L1532.1 652.7 L1525.8 650.8 L1522.7 644.6 L1520.8 647.7 L1442.4 623.4 L1437.4 622.8 L1429.9 622.8 Z" fill="#fff" stroke="#111" stroke-width="2.0250000000000004" stroke-linejoin="round" />
<g transform="translate(1.9,1.5)" opacity="0.75">
<path d="M1436.1 616 L1441.1 621.6 L1522.7 644.6" fill="none" stroke="#111" stroke-width="0.95" stroke-linejoin="round" />
<path d="M1442.4 619.7 L1524.6 642.1 L1652.9 614.7" fill="none" stroke="#111" stroke-width="0.95" stroke-linejoin="round" />
<path d="M1453.6 616 L1514.6 633.4 L1517.1 638.4 L1524.6 642.1" fill="none" stroke="#111" stroke-width="0.95" stroke-linejoin="round" />
<path d="M1514.6 633.4 L1631.7 606" fill="none" stroke="#111" stroke-width="0.95" stroke-linejoin="round" />
<path d="M1517.1 638.4 L1641.7 611" fill="none" stroke="#111" stroke-width="0.95" stroke-linejoin="round" />
<path d="M1469.8 616 L1542 624.7 L1547 622.2" fill="none" stroke="#111" stroke-width="0.95" stroke-linejoin="round" />
<path d="M1472.3 614.7 L1571.9 591" fill="none" stroke="#111" stroke-width="0.95" stroke-linejoin="round" />
<path d="M1499.7 609.7 L1549.5 623.4" fill="none" stroke="#111" stroke-width="0.95" stroke-linejoin="round" />
<path d="M1503.4 608.5 L1553.2 622.2" fill="none" stroke="#111" stroke-width="0.95" stroke-linejoin="round" />
<path d="M1515.9 606 L1562 618.5" fill="none" stroke="#111" stroke-width="0.95" stroke-linejoin="round" />
<path d="M1519.6 604.7 L1565.7 617.2" fill="none" stroke="#111" stroke-width="0.95" stroke-linejoin="round" />
<path d="M1530.8 602.9 L1575.7 615.3" fill="none" stroke="#111" stroke-width="0.95" stroke-linejoin="round" />
<path d="M1534.5 602 L1579.4 614.5" fill="none" stroke="#111" stroke-width="0.95" stroke-linejoin="round" />
<path d="M1544.5 599.8 L1586.9 612.2 L1596.8 611.6 L1628 604.7" fill="none" stroke="#111" stroke-width="0.95" stroke-linejoin="round" />
<path d="M1547 598.5 L1579.4 589.8" fill="none" stroke="#111" stroke-width="0.95" stroke-linejoin="round" />
<path d="M1527.1 643.4 L1537 647.1 L1631.7 628.4" fill="none" stroke="#111" stroke-width="0.95" stroke-linejoin="round" />
<path d="M1610.5 625.9 L1618 624.1 L1634.2 629.7 L1619.3 633.4 L1610.5 625.9" fill="none" stroke="#111" stroke-width="0.95" stroke-linejoin="round" />
<path d="M1437.4 617.8 L1571.3 589.8" fill="none" stroke="#111" stroke-width="0.95" stroke-linejoin="round" />
<path d="M1441.1 622.8 L1521.5 646.5" fill="none" stroke="#111" stroke-width="0.95" stroke-linejoin="round" />
<path d="M1443 624.7 L1521.5 647.7" fill="none" stroke="#111" stroke-width="0.95" stroke-linejoin="round" />
</g>
<path d="M1436.1 616 L1441.1 621.6 L1522.7 644.6" fill="none" stroke="#111" stroke-width="1.4850000000000003" stroke-linejoin="round" />
<path d="M1442.4 619.7 L1524.6 642.1 L1652.9 614.7" fill="none" stroke="#111" stroke-width="1.4850000000000003" stroke-linejoin="round" />
<path d="M1453.6 616 L1514.6 633.4 L1517.1 638.4 L1524.6 642.1" fill="none" stroke="#111" stroke-width="1.4850000000000003" stroke-linejoin="round" />
<path d="M1514.6 633.4 L1631.7 606" fill="none" stroke="#111" stroke-width="1.4850000000000003" stroke-linejoin="round" />
<path d="M1517.1 638.4 L1641.7 611" fill="none" stroke="#111" stroke-width="1.4850000000000003" stroke-linejoin="round" />
<path d="M1469.8 616 L1542 624.7 L1547 622.2" fill="none" stroke="#111" stroke-width="1.4850000000000003" stroke-linejoin="round" />
<path d="M1472.3 614.7 L1571.9 591" fill="none" stroke="#111" stroke-width="1.4850000000000003" stroke-linejoin="round" />
<path d="M1499.7 609.7 L1549.5 623.4" fill="none" stroke="#111" stroke-width="1.4850000000000003" stroke-linejoin="round" />
<path d="M1503.4 608.5 L1553.2 622.2" fill="none" stroke="#111" stroke-width="1.4850000000000003" stroke-linejoin="round" />
<path d="M1515.9 606 L1562 618.5" fill="none" stroke="#111" stroke-width="1.4850000000000003" stroke-linejoin="round" />
<path d="M1519.6 604.7 L1565.7 617.2" fill="none" stroke="#111" stroke-width="1.4850000000000003" stroke-linejoin="round" />
<path d="M1530.8 602.9 L1575.7 615.3" fill="none" stroke="#111" stroke-width="1.4850000000000003" stroke-linejoin="round" />
<path d="M1534.5 602 L1579.4 614.5" fill="none" stroke="#111" stroke-width="1.4850000000000003" stroke-linejoin="round" />
<path d="M1544.5 599.8 L1586.9 612.2 L1596.8 611.6 L1628 604.7" fill="none" stroke="#111" stroke-width="1.4850000000000003" stroke-linejoin="round" />
<path d="M1547 598.5 L1579.4 589.8" fill="none" stroke="#111" stroke-width="1.4850000000000003" stroke-linejoin="round" />
<path d="M1527.1 643.4 L1537 647.1 L1631.7 628.4" fill="none" stroke="#111" stroke-width="1.4850000000000003" stroke-linejoin="round" />
<path d="M1610.5 625.9 L1618 624.1 L1634.2 629.7 L1619.3 633.4 L1610.5 625.9" fill="none" stroke="#111" stroke-width="1.4850000000000003" stroke-linejoin="round" />
<path d="M1437.4 617.8 L1571.3 589.8" fill="none" stroke="#111" stroke-width="1.4850000000000003" stroke-linejoin="round" />
<path d="M1441.1 622.8 L1521.5 646.5" fill="none" stroke="#111" stroke-width="1.4850000000000003" stroke-linejoin="round" />
<path d="M1443 624.7 L1521.5 647.7" fill="none" stroke="#111" stroke-width="1.4850000000000003" stroke-linejoin="round" />
<path d="M1469.8 577.3 L1494.7 571.1 L1502.2 571.7 L1539.5 582.3 L1541.4 584.8 L1537 587.3 L1517.1 590.4 L1512.1 589.8 L1471 578 Z" fill="#fff" stroke="#111" stroke-width="1.4850000000000003" stroke-linejoin="round" />
<path d="M1560.1 563 L1595.6 554.3 L1641.7 568.6 L1609.3 574.8 L1599.3 574.8 Z" fill="#fff" stroke="#111" stroke-width="1.4850000000000003" stroke-linejoin="round" />
<line x1="1557" y1="533.7" x2="1557" y2="539.5" stroke="#111" stroke-width="2.2"/>
<line x1="1557" y1="533.7" x2="1557" y2="539" stroke="#fff" stroke-width="0.6"/>
<ellipse cx="1557" cy="533.7" rx="1.8" ry="2.4" fill="#fff" stroke="#111" stroke-width="1.1" transform="rotate(90 1557 533.7)"/>
<ellipse cx="1557" cy="532.9" rx="0.7" ry="1.1" fill="#111" stroke="#111" stroke-width="0.5" transform="rotate(90 1557 532.9)"/>
<ellipse cx="1556.7" cy="555.9" rx="4.2" ry="1.7" fill="#333" stroke="#111" stroke-width="1.0"/>
<ellipse cx="1642.9" cy="538.5" rx="4.2" ry="1.7" fill="#333" stroke="#111" stroke-width="1.0"/>
<path d="M1446.7 794.8 L1483.5 788 L1486 794.8 L1508.4 782.4 L1566.9 771.1 L1586.9 773 L1628 788.6 L1644.2 783.6 L1654.1 787.3 L1652.9 813.5 L1644.2 817.2 L1639.2 819.7 L1636.7 822.2 L1534.5 849.6 L1529.6 849 L1515.9 843.4 L1515.9 837.2 L1462.3 821 L1448.6 814.7 Z" fill="#fff" stroke="#111" stroke-width="2.0250000000000004" stroke-linejoin="round" />
<g transform="translate(1.9,1.5)" opacity="0.75">
<path d="M1517.1 814.7 L1636.7 799.8" fill="none" stroke="#111" stroke-width="0.95" stroke-linejoin="round" />
<path d="M1517.1 814.7 L1517.1 837.2" fill="none" stroke="#111" stroke-width="0.95" stroke-linejoin="round" />
<path d="M1534.5 832.2 L1534.5 849.6" fill="none" stroke="#111" stroke-width="0.95" stroke-linejoin="round" />
<path d="M1532.1 832.2 L1534.5 832.2" fill="none" stroke="#111" stroke-width="0.95" stroke-linejoin="round" />
<path d="M1517.1 837.2 L1532.1 832.2" fill="none" stroke="#111" stroke-width="0.95" stroke-linejoin="round" />
<path d="M1537 843.4 L1566.9 838.4 L1611.8 827.2" fill="none" stroke="#111" stroke-width="0.95" stroke-linejoin="round" />
<path d="M1636.7 799.8 L1636.7 822.2" fill="none" stroke="#111" stroke-width="0.95" stroke-linejoin="round" />
<path d="M1636.7 799.8 L1652.9 796.1" fill="none" stroke="#111" stroke-width="0.95" stroke-linejoin="round" />
<path d="M1486 794.8 L1487.2 824.7" fill="none" stroke="#111" stroke-width="0.95" stroke-linejoin="round" />
<path d="M1492.2 809.8 L1515.9 817.2" fill="none" stroke="#111" stroke-width="0.95" stroke-linejoin="round" />
<path d="M1446.7 794.8 L1448.6 814.7" fill="none" stroke="#111" stroke-width="0.95" stroke-linejoin="round" />
<path d="M1494.7 793.6 L1512.1 789.8 L1524.6 794.8 L1508.4 799.8" fill="none" stroke="#111" stroke-width="0.95" stroke-linejoin="round" />
<path d="M1505.9 802.3 L1537 794.8 L1543.3 799.8 L1512.1 809.8" fill="none" stroke="#111" stroke-width="0.95" stroke-linejoin="round" />
<path d="M1508.4 799.8 L1507.1 819.7" fill="none" stroke="#111" stroke-width="0.95" stroke-linejoin="round" />
<path d="M1512.1 809.8 L1512.1 824.7" fill="none" stroke="#111" stroke-width="0.95" stroke-linejoin="round" />
<path d="M1524.6 794.8 L1524.6 807.3" fill="none" stroke="#111" stroke-width="0.95" stroke-linejoin="round" />
<path d="M1449.8 798.6 L1482.2 791.1 L1483.5 804.8" fill="none" stroke="#111" stroke-width="0.95" stroke-linejoin="round" />
<path d="M1464.8 794.8 L1464.8 809.8 L1474.7 813.5" fill="none" stroke="#111" stroke-width="0.95" stroke-linejoin="round" />
<path d="M1462.3 821 L1515.9 834.7" fill="none" stroke="#111" stroke-width="0.95" stroke-linejoin="round" />
<path d="M1527.1 817.2 L1634.2 802.3" fill="none" stroke="#111" stroke-width="0.95" stroke-linejoin="round" />
<path d="M1527.1 817.2 L1527.1 822.2 L1574.4 814.7" fill="none" stroke="#111" stroke-width="0.95" stroke-linejoin="round" />
<path d="M1539.5 844.6 L1565.7 839.7 L1566.9 842.2" fill="none" stroke="#111" stroke-width="0.95" stroke-linejoin="round" />
<path d="M1628 788.6 L1636.7 799.8" fill="none" stroke="#111" stroke-width="0.95" stroke-linejoin="round" />
<path d="M1529.6 788.6 L1530.8 792.3" fill="none" stroke="#111" stroke-width="0.95" stroke-linejoin="round" />
</g>
<path d="M1517.1 814.7 L1636.7 799.8" fill="none" stroke="#111" stroke-width="1.4850000000000003" stroke-linejoin="round" />
<path d="M1517.1 814.7 L1517.1 837.2" fill="none" stroke="#111" stroke-width="1.4850000000000003" stroke-linejoin="round" />
<path d="M1534.5 832.2 L1534.5 849.6" fill="none" stroke="#111" stroke-width="1.4850000000000003" stroke-linejoin="round" />
<path d="M1532.1 832.2 L1534.5 832.2" fill="none" stroke="#111" stroke-width="1.4850000000000003" stroke-linejoin="round" />
<path d="M1517.1 837.2 L1532.1 832.2" fill="none" stroke="#111" stroke-width="1.4850000000000003" stroke-linejoin="round" />
<path d="M1537 843.4 L1566.9 838.4 L1611.8 827.2" fill="none" stroke="#111" stroke-width="1.4850000000000003" stroke-linejoin="round" />
<path d="M1636.7 799.8 L1636.7 822.2" fill="none" stroke="#111" stroke-width="1.4850000000000003" stroke-linejoin="round" />
<path d="M1636.7 799.8 L1652.9 796.1" fill="none" stroke="#111" stroke-width="1.4850000000000003" stroke-linejoin="round" />
<path d="M1486 794.8 L1487.2 824.7" fill="none" stroke="#111" stroke-width="1.4850000000000003" stroke-linejoin="round" />
<path d="M1492.2 809.8 L1515.9 817.2" fill="none" stroke="#111" stroke-width="1.4850000000000003" stroke-linejoin="round" />
<path d="M1446.7 794.8 L1448.6 814.7" fill="none" stroke="#111" stroke-width="1.4850000000000003" stroke-linejoin="round" />
<path d="M1494.7 793.6 L1512.1 789.8 L1524.6 794.8 L1508.4 799.8" fill="none" stroke="#111" stroke-width="1.4850000000000003" stroke-linejoin="round" />
<path d="M1505.9 802.3 L1537 794.8 L1543.3 799.8 L1512.1 809.8" fill="none" stroke="#111" stroke-width="1.4850000000000003" stroke-linejoin="round" />
<path d="M1508.4 799.8 L1507.1 819.7" fill="none" stroke="#111" stroke-width="1.4850000000000003" stroke-linejoin="round" />
<path d="M1512.1 809.8 L1512.1 824.7" fill="none" stroke="#111" stroke-width="1.4850000000000003" stroke-linejoin="round" />
<path d="M1524.6 794.8 L1524.6 807.3" fill="none" stroke="#111" stroke-width="1.4850000000000003" stroke-linejoin="round" />
<path d="M1449.8 798.6 L1482.2 791.1 L1483.5 804.8" fill="none" stroke="#111" stroke-width="1.4850000000000003" stroke-linejoin="round" />
<path d="M1464.8 794.8 L1464.8 809.8 L1474.7 813.5" fill="none" stroke="#111" stroke-width="1.4850000000000003" stroke-linejoin="round" />
<path d="M1462.3 821 L1515.9 834.7" fill="none" stroke="#111" stroke-width="1.4850000000000003" stroke-linejoin="round" />
<path d="M1527.1 817.2 L1634.2 802.3" fill="none" stroke="#111" stroke-width="1.4850000000000003" stroke-linejoin="round" />
<path d="M1527.1 817.2 L1527.1 822.2 L1574.4 814.7" fill="none" stroke="#111" stroke-width="1.4850000000000003" stroke-linejoin="round" />
<path d="M1539.5 844.6 L1565.7 839.7 L1566.9 842.2" fill="none" stroke="#111" stroke-width="1.4850000000000003" stroke-linejoin="round" />
<path d="M1628 788.6 L1636.7 799.8" fill="none" stroke="#111" stroke-width="1.4850000000000003" stroke-linejoin="round" />
<path d="M1529.6 788.6 L1530.8 792.3" fill="none" stroke="#111" stroke-width="1.4850000000000003" stroke-linejoin="round" />
<path d="M1547 783.6 L1571.9 776.1 L1609.3 788.6 L1583.1 794.8 Z" fill="#3a3a3a" stroke="#111" stroke-width="0.8"/>
<path d="M1529.6 788.6 L1550.7 781.1 L1553.2 783 L1565.7 796.7 L1564.4 799.8 Z" fill="#777" stroke="#111" stroke-width="0.8"/>
<path d="M1565.7 796.7 L1614.3 787.3 L1628 789.8 L1629.2 794.8 L1566.9 804.8 Z" fill="#555" stroke="#111" stroke-width="0.8"/>
<path d="M1487.2 792.3 L1494.7 789.8 L1495.9 798.6 L1488.5 799.8 Z" fill="#333" stroke="#111" stroke-width="0.8"/>
<path d="M1489.7 812.3 L1503.4 809.8 L1504.6 821 L1490.9 821 Z" fill="#333" stroke="#111" stroke-width="0.8"/>
<path d="M1515.9 838.4 L1530.8 840.9 L1530.8 848.4 L1516.5 843.4 Z" fill="#444" stroke="#111" stroke-width="0.8"/>
<path d="M1479.7 827.2 L1494.7 830.9 L1494.7 837.2 L1479.7 833.4 Z" fill="#444" stroke="#111" stroke-width="0.8"/>
<path d="M1636.7 783.6 L1654.1 782.4 L1654.8 791.1 L1637.9 794.8 Z" fill="#333" stroke="#111" stroke-width="0.8"/>
<path d="M1447.3 796.1 L1451.1 795.4 L1451.7 804.8 L1448 805.4 Z" fill="#333" stroke="#111" stroke-width="0.8"/>
<path d="M1454.8 798.6 L1458.6 797.9 L1459.2 809.8 L1455.4 809.8 Z" fill="#333" stroke="#111" stroke-width="0.8"/>
<path d="M1527.1 814.7 L1574.4 804.8 L1575.7 809.8 L1528.3 821 Z" fill="#666" stroke="#111" stroke-width="0.8"/>
<path d="M1507.1 784.8 L1517.1 783.6 L1518.4 792.3 L1509.6 793.6 Z" fill="#555" stroke="#111" stroke-width="0.8"/>
<path d="M1453.6 803.5 C1441.1 809.8 1447.3 845.9 1436.1 847.1" fill="none" stroke="#111" stroke-width="3.6" stroke-linejoin="round" stroke-linecap="round" />
<path d="M1453.6 803.5 C1441.1 809.8 1447.3 845.9 1436.1 847.1" fill="none" stroke="#fff" stroke-width="1.6" stroke-linejoin="round" stroke-linecap="round" />
<path d="M1489.7 816 C1474.7 824.7 1492.2 858.4 1505.9 868.3" fill="none" stroke="#111" stroke-width="3.6" stroke-linejoin="round" stroke-linecap="round" />
<path d="M1489.7 816 C1474.7 824.7 1492.2 858.4 1505.9 868.3" fill="none" stroke="#fff" stroke-width="1.6" stroke-linejoin="round" stroke-linecap="round" />
<ellipse cx="1428" cy="845.3" rx="9" ry="5.8" fill="#222" stroke="#111" stroke-width="1.0" transform="rotate(15 1428 845.3)"/>
<ellipse cx="1514" cy="871.4" rx="9" ry="5.8" fill="#222" stroke="#111" stroke-width="1.0" transform="rotate(25 1514 871.4)"/>
<path d="M1540.8 809.8 L1552 802.3 L1565.7 799.8" fill="none" stroke="#111" stroke-width="1.8" stroke-linejoin="round" stroke-linecap="round" />
<path d="M1554.5 809.8 L1566.9 812.3 L1570.7 821 L1576.9 819.7" fill="none" stroke="#111" stroke-width="1.8" stroke-linejoin="round" stroke-linecap="round" />
<path d="M1498.4 748.7 L1502.2 747.5 L1535.8 756.8 L1530.8 759.3 Z" fill="#fff" stroke="#111" stroke-width="1.4850000000000003" stroke-linejoin="round" />
<path d="M1483.5 758.7 L1487.2 756.8 L1494.7 758.7 L1493.4 761.2 L1487.2 762.2 Z" fill="#fff" stroke="#111" stroke-width="1.62" stroke-linejoin="round" />
<line x1="1457.1" y1="766.8" x2="1457.1" y2="773" stroke="#111" stroke-width="2.3"/>
<line x1="1457.1" y1="766.8" x2="1457.1" y2="772.5" stroke="#fff" stroke-width="0.7"/>
<ellipse cx="1457.1" cy="766.8" rx="2" ry="2.6" fill="#fff" stroke="#111" stroke-width="1.1" transform="rotate(90 1457.1 766.8)"/>
<ellipse cx="1457.1" cy="766" rx="0.8" ry="1.2" fill="#111" stroke="#111" stroke-width="0.5" transform="rotate(90 1457.1 766)"/>
<line x1="1581.3" y1="749.3" x2="1581.3" y2="755.6" stroke="#111" stroke-width="2.3"/>
<line x1="1581.3" y1="749.3" x2="1581.3" y2="755.1" stroke="#fff" stroke-width="0.7"/>
<ellipse cx="1581.3" cy="749.3" rx="2" ry="2.6" fill="#fff" stroke="#111" stroke-width="1.1" transform="rotate(90 1581.3 749.3)"/>
<ellipse cx="1581.3" cy="748.5" rx="0.8" ry="1.2" fill="#111" stroke="#111" stroke-width="0.5" transform="rotate(90 1581.3 748.5)"/>
<line x1="1640.2" y1="766.8" x2="1640.2" y2="773" stroke="#111" stroke-width="2.3"/>
<line x1="1640.2" y1="766.8" x2="1640.2" y2="772.5" stroke="#fff" stroke-width="0.7"/>
<ellipse cx="1640.2" cy="766.8" rx="2" ry="2.6" fill="#fff" stroke="#111" stroke-width="1.1" transform="rotate(90 1640.2 766.8)"/>
<ellipse cx="1640.2" cy="766" rx="0.8" ry="1.2" fill="#111" stroke="#111" stroke-width="0.5" transform="rotate(90 1640.2 766)"/>
<line x1="1530.6" y1="771.1" x2="1530.6" y2="775.5" stroke="#111" stroke-width="1.6"/>
<line x1="1530.6" y1="771.1" x2="1530.6" y2="775.1" stroke="#fff" stroke-width="0"/>
<ellipse cx="1530.6" cy="771.1" rx="1.4" ry="1.8" fill="#fff" stroke="#111" stroke-width="1.1" transform="rotate(90 1530.6 771.1)"/>
<ellipse cx="1530.6" cy="770.3" rx="0.5" ry="0.8" fill="#111" stroke="#111" stroke-width="0.5" transform="rotate(90 1530.6 770.3)"/>
<line x1="1529.8" y1="746" x2="1529.8" y2="750.3" stroke="#111" stroke-width="1.6"/>
<line x1="1529.8" y1="746" x2="1529.8" y2="749.9" stroke="#fff" stroke-width="0"/>
<ellipse cx="1529.8" cy="746" rx="1.4" ry="1.8" fill="#fff" stroke="#111" stroke-width="1.1" transform="rotate(90 1529.8 746)"/>
<ellipse cx="1529.8" cy="745.2" rx="0.5" ry="0.8" fill="#111" stroke="#111" stroke-width="0.5" transform="rotate(90 1529.8 745.2)"/>
<line x1="1601.8" y1="757.4" x2="1601.8" y2="761.8" stroke="#111" stroke-width="1.6"/>
<line x1="1601.8" y1="757.4" x2="1601.8" y2="761.4" stroke="#fff" stroke-width="0"/>
<ellipse cx="1601.8" cy="757.4" rx="1.4" ry="1.8" fill="#fff" stroke="#111" stroke-width="1.1" transform="rotate(90 1601.8 757.4)"/>
<ellipse cx="1601.8" cy="756.6" rx="0.5" ry="0.8" fill="#111" stroke="#111" stroke-width="0.5" transform="rotate(90 1601.8 756.6)"/>
<line x1="1503.2" y1="741.2" x2="1503.2" y2="745.6" stroke="#111" stroke-width="1.6"/>
<line x1="1503.2" y1="741.2" x2="1503.2" y2="745.2" stroke="#fff" stroke-width="0"/>
<ellipse cx="1503.2" cy="741.2" rx="1.4" ry="1.8" fill="#fff" stroke="#111" stroke-width="1.1" transform="rotate(90 1503.2 741.2)"/>
<ellipse cx="1503.2" cy="740.4" rx="0.5" ry="0.8" fill="#111" stroke="#111" stroke-width="0.5" transform="rotate(90 1503.2 740.4)"/>
<ellipse cx="1598.1" cy="745" rx="4" ry="5.3" fill="#222" stroke="#111" stroke-width="1.0"/>
<ellipse cx="1597.5" cy="752.5" rx="2.2" ry="3" fill="#222" stroke="#111" stroke-width="1.0"/>
<ellipse cx="1611.8" cy="748.7" rx="4" ry="5.3" fill="#222" stroke="#111" stroke-width="1.0"/>
<ellipse cx="1610.5" cy="757.4" rx="2.2" ry="3" fill="#222" stroke="#111" stroke-width="1.0"/>
<path d="M1565.7 756.2 L1574.4 758.1" fill="none" stroke="#222" stroke-width="2.6" stroke-linejoin="round" stroke-linecap="round" />
<path d="M1720.5 582.1 L1758.8 595.7 L1766.2 603.1 L1776 636.4 L1783.5 643.8 L1794.6 646.3 L1825.4 683.3 L1824.2 690.7 L1800.7 705.6" fill="none" stroke="#111" stroke-width="7" stroke-linejoin="round" stroke-linecap="round" />
<path d="M1720.5 582.1 L1758.8 595.7 L1766.2 603.1 L1776 636.4 L1783.5 643.8 L1794.6 646.3 L1825.4 683.3 L1824.2 690.7 L1800.7 705.6" fill="none" stroke="#fff" stroke-width="4.6" stroke-linejoin="round" stroke-linecap="round" />
<path d="M1682.2 571 L1708.1 580.9" fill="none" stroke="#111" stroke-width="14" stroke-linejoin="round" stroke-linecap="round" />
<path d="M1682.2 571 L1708.1 580.9" fill="none" stroke="#fff" stroke-width="11.4" stroke-linejoin="round" stroke-linecap="round" />
<ellipse cx="1679.8" cy="570.2" rx="5" ry="7.5" fill="#333" stroke="#111" stroke-width="1.0" transform="rotate(20 1679.8 570.2)"/>
<ellipse cx="1679.3" cy="570" rx="3" ry="5" fill="#999" stroke="#111" stroke-width="1.0" transform="rotate(20 1679.3 570)"/>
<path d="M1684.7 573.5 L1694.6 577.2 L1693.3 583.3 L1684.7 579.6 Z" fill="#222"/>
<ellipse cx="1776" cy="599.4" rx="2.2" ry="2.2" fill="#555" stroke="#111" stroke-width="1.0"/>
<path d="M1789.6 679.6 L1794.6 690.7 L1798.3 695.7" fill="none" stroke="#111" stroke-width="3" stroke-linejoin="round" stroke-linecap="round" />
<path d="M1782.2 693.2 L1784.7 708 L1771.1 714.2" fill="none" stroke="#111" stroke-width="1.3" stroke-linejoin="round" stroke-linecap="round" />
<ellipse cx="1787.2" cy="715.9" rx="4.5" ry="5" fill="#222" stroke="#111" stroke-width="1.0"/>
<path d="M1913.1 732.7 L1914.3 722.8 L1921.7 717.9 L1931.6 720.4 L2013.1 747.5 L2030.4 754.9 L2047.7 767.3 L2064.9 787" fill="none" stroke="#111" stroke-width="13.5" stroke-linejoin="round" stroke-linecap="round" />
<path d="M1913.1 732.7 L1914.3 722.8 L1921.7 717.9 L1931.6 720.4 L2013.1 747.5 L2030.4 754.9 L2047.7 767.3 L2064.9 787" fill="none" stroke="#fff" stroke-width="10.9" stroke-linejoin="round" stroke-linecap="round" />
<path d="M2027.9 742.6 L2045.2 750 L2069.9 774.7 L2079.8 804.3 L2069.9 808 L2055.1 799.4 L2045.2 787 L2025.4 764.8 L2023 759.9 Z" fill="#fff" stroke="#111" stroke-width="1.7550000000000001" stroke-linejoin="round" />
<path d="M2030.4 747.5 L2064.9 777.2 L2072.3 801.9" fill="none" stroke="#111" stroke-width="1.35" stroke-linejoin="round" />
<path d="M2045.2 787 L2055.1 779.6 L2067.4 787" fill="none" stroke="#111" stroke-width="1.35" stroke-linejoin="round" />
<path d="M2055.1 799.4 L2060 784.6" fill="none" stroke="#111" stroke-width="1.35" stroke-linejoin="round" />
<path d="M1900.7 745.1 L1906.9 737.7 L1926.7 745.1 L1931.6 757.4 L1916.8 762.3 L1906.9 759.9 Z" fill="#fff" stroke="#111" stroke-width="1.7550000000000001" stroke-linejoin="round" />
<path d="M1906.9 745.1 L1921.7 750 L1919.3 759.9" fill="none" stroke="#111" stroke-width="1.35" stroke-linejoin="round" />
<path d="M1906.9 745.1 L1906.9 758.6" fill="none" stroke="#111" stroke-width="1.35" stroke-linejoin="round" />
<ellipse cx="1931.6" cy="722.8" rx="2.5" ry="7" fill="none" stroke="#111" stroke-width="1.1" transform="rotate(-10 1931.6 722.8)"/>
<ellipse cx="2008.1" cy="746.3" rx="3" ry="8" fill="none" stroke="#111" stroke-width="1.1" transform="rotate(-10 2008.1 746.3)"/>
<path d="M1857.5 745.1 L1878.5 734" fill="none" stroke="#111" stroke-width="7" stroke-linejoin="round" stroke-linecap="round" stroke-dasharray="1.6 1"/>
<path d="M1856.3 746.3 L1850.1 747.5 L1851.4 753.7" fill="none" stroke="#111" stroke-width="1.2" stroke-linejoin="round" stroke-linecap="round" />
<path d="M1879.8 734 L1885.9 727.8 L1884.7 734" fill="none" stroke="#111" stroke-width="1.2" stroke-linejoin="round" stroke-linecap="round" />
<path d="M1837.8 764.8 L1936.5 793.2" fill="none" stroke="#111" stroke-width="6.5" stroke-linejoin="round" stroke-linecap="round" />
<path d="M1837.8 764.8 L1936.5 793.2" fill="none" stroke="#fff" stroke-width="4.1" stroke-linejoin="round" stroke-linecap="round" />
<path d="M1802 746.3 L1818 738.9 L1830.4 747.5 L1830.4 754.9 L1842.7 754.9 L1847.7 764.8 L1842.7 777.2 L1805.7 811.7 L1793.3 809.3 L1790.9 796.9 L1808.1 774.7 L1810.6 767.3 Z" fill="#fff" stroke="#111" stroke-width="1.89" stroke-linejoin="round" />
<path d="M1818 738.9 L1820.5 757.4 L1810.6 767.3" fill="none" stroke="#111" stroke-width="1.35" stroke-linejoin="round" />
<path d="M1820.5 757.4 L1832.8 759.9" fill="none" stroke="#111" stroke-width="1.35" stroke-linejoin="round" />
<path d="M1808.1 774.7 L1818 779.6 L1805.7 811.7" fill="none" stroke="#111" stroke-width="1.35" stroke-linejoin="round" />
<ellipse cx="1809.4" cy="754.9" rx="1.7" ry="2.5" fill="none" stroke="#111" stroke-width="1.35"/>
<ellipse cx="1823" cy="746.3" rx="1.7" ry="2.5" fill="none" stroke="#111" stroke-width="1.35"/>
<ellipse cx="1829.1" cy="761.1" rx="2.2" ry="3.5" fill="none" stroke="#111" stroke-width="1.35" transform="rotate(20 1829.1 761.1)"/>
<ellipse cx="1820.5" cy="769.8" rx="2.2" ry="3.5" fill="none" stroke="#111" stroke-width="1.35" transform="rotate(20 1820.5 769.8)"/>
<ellipse cx="1830.4" cy="774.7" rx="2" ry="2" fill="none" stroke="#111" stroke-width="1.35"/>
<ellipse cx="1803.2" cy="801.9" rx="1.5" ry="1.5" fill="#333" stroke="#111" stroke-width="1.35"/>
<ellipse cx="1823" cy="782.1" rx="1" ry="1" fill="none" stroke="#111" stroke-width="1.35"/>
<path d="M1857.5 759.9 L1864.9 757.4 L1889.6 777.2 L1884.7 792 L1877.3 793.2 Z" fill="#fff" stroke="#111" stroke-width="1.7550000000000001" stroke-linejoin="round" />
<path d="M1864.9 757.4 L1882.2 790.7" fill="none" stroke="#111" stroke-width="1.35" stroke-linejoin="round" />
<ellipse cx="1856.3" cy="771" rx="4" ry="6.5" fill="#fff" stroke="#111" stroke-width="1.2" transform="rotate(-10 1856.3 771)"/>
<ellipse cx="1934.1" cy="790.7" rx="4" ry="6.5" fill="#fff" stroke="#111" stroke-width="1.2" transform="rotate(-10 1934.1 790.7)"/>
<path d="M1909.4 829 L1951.4 789.5 L1962.5 794.4 L1964.9 804.3 L1921.7 843.8 L1911.9 841.4 Z" fill="#fff" stroke="#111" stroke-width="1.89" stroke-linejoin="round" />
<path d="M1911.9 834 L1953.8 794.4" fill="none" stroke="#111" stroke-width="1.35" stroke-linejoin="round" />
<path d="M1916.8 841.4 L1961.2 799.4" fill="none" stroke="#111" stroke-width="1.35" stroke-linejoin="round" />
<ellipse cx="1958.8" cy="801.9" rx="1.5" ry="1.5" fill="none" stroke="#111" stroke-width="1.35"/>
<ellipse cx="1941.5" cy="816.7" rx="0.7" ry="0.7" fill="none" stroke="#111" stroke-width="1.35"/>
<ellipse cx="1921.7" cy="836.4" rx="1.7" ry="1.7" fill="#333" stroke="#111" stroke-width="1.35"/>
<path d="M1801.2 811.7 L1796.3 834" fill="none" stroke="#111" stroke-width="4.5" stroke-linejoin="round" stroke-linecap="round" />
<path d="M1801.2 811.7 L1796.3 834" fill="none" stroke="#fff" stroke-width="2.1" stroke-linejoin="round" stroke-linecap="round" />
<path d="M1918 845.1 L1913.6 868.5" fill="none" stroke="#111" stroke-width="4.5" stroke-linejoin="round" stroke-linecap="round" />
<path d="M1918 845.1 L1913.6 868.5" fill="none" stroke="#fff" stroke-width="2.1" stroke-linejoin="round" stroke-linecap="round" />
<path d="M1795.8 834 L1794.6 856.2" fill="none" stroke="#111" stroke-width="6.5" stroke-linejoin="round" stroke-linecap="round" stroke-dasharray="1.4 1"/>
<path d="M1913.1 868.5 L1908.1 894.4" fill="none" stroke="#111" stroke-width="6.5" stroke-linejoin="round" stroke-linecap="round" stroke-dasharray="1.4 1"/>
<path d="M1672.3 830.2 L1679.8 827.8 L1808.1 857.4 L1809.4 861.1 L1906.9 890.7 L1915.6 895.7 L1914.3 903.1 L1904.4 905.6 L1776 873.5 L1773.6 868.5 L1674.8 843.8 L1669.9 836.4 Z" fill="#fff" stroke="#111" stroke-width="1.89" stroke-linejoin="round" />
<g transform="translate(1.9,1.5)" opacity="0.75">
<path d="M1679.8 834 L1906.9 895.7" fill="none" stroke="#111" stroke-width="0.95" stroke-linejoin="round" />
<path d="M1776 858.6 L1776 873.5" fill="none" stroke="#111" stroke-width="0.95" stroke-linejoin="round" />
<path d="M1692.1 840.1 L1758.8 856.2" fill="none" stroke="#111" stroke-width="0.95" stroke-linejoin="round" />
<path d="M1678.5 841.4 L1763.7 862.3" fill="none" stroke="#111" stroke-width="0.95" stroke-linejoin="round" />
<path d="M1778.5 871 L1902 901.9" fill="none" stroke="#111" stroke-width="0.95" stroke-linejoin="round" />
<path d="M1808.1 857.4 L1776 858.6" fill="none" stroke="#111" stroke-width="0.95" stroke-linejoin="round" />
<path d="M1827.9 882.1 L1827.9 890.7" fill="none" stroke="#111" stroke-width="0.95" stroke-linejoin="round" />
</g>
<path d="M1679.8 834 L1906.9 895.7" fill="none" stroke="#111" stroke-width="1.35" stroke-linejoin="round" />
<path d="M1776 858.6 L1776 873.5" fill="none" stroke="#111" stroke-width="1.35" stroke-linejoin="round" />
<path d="M1692.1 840.1 L1758.8 856.2" fill="none" stroke="#111" stroke-width="1.35" stroke-linejoin="round" />
<path d="M1678.5 841.4 L1763.7 862.3" fill="none" stroke="#111" stroke-width="1.35" stroke-linejoin="round" />
<path d="M1778.5 871 L1902 901.9" fill="none" stroke="#111" stroke-width="1.35" stroke-linejoin="round" />
<path d="M1808.1 857.4 L1776 858.6" fill="none" stroke="#111" stroke-width="1.35" stroke-linejoin="round" />
<path d="M1827.9 882.1 L1827.9 890.7" fill="none" stroke="#111" stroke-width="1.35" stroke-linejoin="round" />
<ellipse cx="1689.6" cy="840.9" rx="2.5" ry="3" fill="none" stroke="#111" stroke-width="1.35"/>
<ellipse cx="1785.9" cy="869.8" rx="2.5" ry="3" fill="none" stroke="#111" stroke-width="1.35"/>
<ellipse cx="1876" cy="889.5" rx="1" ry="1" fill="none" stroke="#111" stroke-width="1.35"/>
<ellipse cx="1667.4" cy="833.5" rx="1.2" ry="1.2" fill="none" stroke="#111" stroke-width="1.35"/>
<path d="M1906.9 900.6 L1905.7 913" fill="none" stroke="#111" stroke-width="3.5" stroke-linejoin="round" stroke-linecap="round" />
<path d="M1906.9 900.6 L1905.7 913" fill="none" stroke="#fff" stroke-width="1.1" stroke-linejoin="round" stroke-linecap="round" />
<ellipse cx="1909.4" cy="896.9" rx="4" ry="5" fill="#fff" stroke="#111" stroke-width="1.2"/>
<path d="M1815.6 875.9 L1823 877.7" fill="none" stroke="#111" stroke-width="2" stroke-linejoin="round" stroke-linecap="round" />
<path d="M1846.4 883.3 L1852.6 884.8" fill="none" stroke="#111" stroke-width="2" stroke-linejoin="round" stroke-linecap="round" />
<path d="M1752.6 894.4 L1760 892 L1766.2 889.5 L1767.4 893.2 L1761.2 899.4 L1753.8 900.6 Z" fill="#fff" stroke="#111" stroke-width="1.7550000000000001" stroke-linejoin="round" />
<path d="M1668.6 913 L1721.7 927.8" fill="none" stroke="#111" stroke-width="2.4" stroke-linejoin="round" stroke-linecap="round" />
<path d="M2214.1 701.5 L2225.6 664.1 L2238 651.6 L2267.1 633.9 L2275.5 628.7 L2290 628.7 L2342 643.3 L2349.3 651.6 L2353.4 689 L2350.3 755.6 L2351.4 778.4 L2337.8 817.9 L2325.4 838.7 L2306.7 842.9 L2298.3 834.6 L2300.4 845 L2300.4 851.2 L2184 905.3 L2177.7 901.1 L2177.7 890.7 L2169.4 888.6 L2121.6 876.2 L2123.7 882.4 L2117.4 886.6 L2112.2 880.3 L2113.3 872 L2120.5 865.8 L2140.3 855.4 L2134.1 851.2 L2109.1 830.4 L2102.9 807.5 L2105 793 L2121.6 778.4 L2148.6 768 L2179.8 763.9 L2223.5 770.1 L2229.7 743.1 L2221.4 732.7 L2215.2 714 Z" fill="#fff" stroke="#111" stroke-width="2.0250000000000004" stroke-linejoin="round" />
<g transform="translate(1.9,1.5)" opacity="0.75">
<path d="M2219.3 701.5 L2229.7 668.2 L2240.1 655.7 L2269.2 638.1 L2271.3 649.5 L2279.6 657.8 L2308.7 664.1 L2317.1 653.7 L2321.2 647.4 L2339.9 646.4" fill="none" stroke="#111" stroke-width="0.95" stroke-linejoin="round" />
<path d="M2229.7 743.1 L2225.6 732.7 L2219.3 714 L2219.3 701.5" fill="none" stroke="#111" stroke-width="0.95" stroke-linejoin="round" />
<path d="M2321.2 647.4 L2315 734.8 L2317.1 768" fill="none" stroke="#111" stroke-width="0.95" stroke-linejoin="round" />
<path d="M2325.4 649.5 L2319.1 734.8 L2321.2 766" fill="none" stroke="#111" stroke-width="0.95" stroke-linejoin="round" />
<path d="M2339.9 646.4 L2335.8 755.6 L2321.2 809.6" fill="none" stroke="#111" stroke-width="0.95" stroke-linejoin="round" />
<path d="M2346.2 651.6 L2348.2 755.6 L2329.5 822.1" fill="none" stroke="#111" stroke-width="0.95" stroke-linejoin="round" />
<path d="M2344.1 649.5 L2343 755.6 L2325.4 815.9" fill="none" stroke="#111" stroke-width="0.95" stroke-linejoin="round" />
<path d="M2248.4 684.9 L2267.1 668.2 L2312.9 678.6 L2315 689" fill="none" stroke="#111" stroke-width="0.95" stroke-linejoin="round" />
<path d="M2246.4 701.5 L2265.1 682.8 L2310.8 695.3" fill="none" stroke="#111" stroke-width="0.95" stroke-linejoin="round" />
<path d="M2244.3 718.1 L2263 699.4 L2308.7 711.9" fill="none" stroke="#111" stroke-width="0.95" stroke-linejoin="round" />
<path d="M2242.2 736.8 L2260.9 718.1 L2308.7 730.6" fill="none" stroke="#111" stroke-width="0.95" stroke-linejoin="round" />
<path d="M2242.2 741 L2248.4 684.9" fill="none" stroke="#111" stroke-width="0.95" stroke-linejoin="round" />
<path d="M2294.2 630.8 L2285.9 845" fill="none" stroke="#111" stroke-width="0.95" stroke-linejoin="round" />
<path d="M2229.7 743.1 L2317.1 768" fill="none" stroke="#111" stroke-width="0.95" stroke-linejoin="round" />
<path d="M2223.5 770.1 L2242.2 780.5 L2287.9 793 L2315 788.8 L2321.2 766" fill="none" stroke="#111" stroke-width="0.95" stroke-linejoin="round" />
<path d="M2238 747.2 L2233.9 776.4" fill="none" stroke="#111" stroke-width="0.95" stroke-linejoin="round" />
<path d="M2250.5 749.3 L2244.3 780.5" fill="none" stroke="#111" stroke-width="0.95" stroke-linejoin="round" />
<path d="M2267.1 753.5 L2263 784.7" fill="none" stroke="#111" stroke-width="0.95" stroke-linejoin="round" />
<path d="M2273.4 755.6 L2271.3 786.8" fill="none" stroke="#111" stroke-width="0.95" stroke-linejoin="round" />
<path d="M2285.9 759.7 L2302.5 763.9 L2310.8 774.3 L2306.7 788.8" fill="none" stroke="#111" stroke-width="0.95" stroke-linejoin="round" />
<path d="M2161.1 782.6 L2165.3 778.4 L2225.6 774.3" fill="none" stroke="#111" stroke-width="0.95" stroke-linejoin="round" />
<path d="M2161.1 782.6 L2163.2 793 L2196.4 805.5 L2236 803.4 L2267.1 795.1" fill="none" stroke="#111" stroke-width="0.95" stroke-linejoin="round" />
<path d="M2105 793 L2102.9 809.6 L2117.4 811.7 L2163.2 830.4 L2213.1 832.5 L2233.9 822.1 L2267.1 805.5 L2315 801.3 L2318.1 817.9 L2325.4 824.2" fill="none" stroke="#111" stroke-width="0.95" stroke-linejoin="round" />
<path d="M2121.6 809.6 L2150.7 803.4 L2177.7 809.6 L2165.3 826.3" fill="none" stroke="#111" stroke-width="0.95" stroke-linejoin="round" />
<path d="M2107 817.9 L2119.5 820 L2167.3 836.7 L2217.2 837.7 L2238 826.3 L2271.3 809.6 L2317.1 807.5" fill="none" stroke="#111" stroke-width="0.95" stroke-linejoin="round" />
<path d="M2111.2 832.5 L2169.4 845 L2221.4 845 L2319.1 820" fill="none" stroke="#111" stroke-width="0.95" stroke-linejoin="round" />
<path d="M2113.3 838.7 L2171.5 851.2 L2225.6 851.2 L2275.5 834.6" fill="none" stroke="#111" stroke-width="0.95" stroke-linejoin="round" />
<path d="M2171.5 830.4 L2173.6 851.2" fill="none" stroke="#111" stroke-width="0.95" stroke-linejoin="round" />
<path d="M2233.9 822.1 L2233.9 847.1" fill="none" stroke="#111" stroke-width="0.95" stroke-linejoin="round" />
<path d="M2106 801.3 L2118.5 804.4 L2164.2 823.1 L2213.1 826.3 L2231.8 817.9 L2266.1 800.3 L2313.9 796.1" fill="none" stroke="#111" stroke-width="0.95" stroke-linejoin="round" />
<path d="M2140.3 855.4 L2161.1 857.5 L2196.4 869.9 L2221.4 869.9 L2231.8 855.4" fill="none" stroke="#111" stroke-width="0.95" stroke-linejoin="round" />
<path d="M2120.5 865.8 L2169.4 882.4 L2300.4 845" fill="none" stroke="#111" stroke-width="0.95" stroke-linejoin="round" />
<path d="M2177.7 890.7 L2300.4 847.1" fill="none" stroke="#111" stroke-width="0.95" stroke-linejoin="round" />
<path d="M2125.7 867.8 L2142.4 859.5 L2192.3 872" fill="none" stroke="#111" stroke-width="0.95" stroke-linejoin="round" />
<path d="M2127.8 872 L2167.3 884.5" fill="none" stroke="#111" stroke-width="0.95" stroke-linejoin="round" />
<path d="M2315 743.1 L2337.8 734.8" fill="none" stroke="#111" stroke-width="0.95" stroke-linejoin="round" />
<path d="M2316 726.4 L2337.8 718.1" fill="none" stroke="#111" stroke-width="0.95" stroke-linejoin="round" />
<path d="M2319.1 682.8 L2339.9 676.5" fill="none" stroke="#111" stroke-width="0.95" stroke-linejoin="round" />
<path d="M2335.8 755.6 L2348.2 755.6" fill="none" stroke="#111" stroke-width="0.95" stroke-linejoin="round" />
<path d="M2254.7 751.4 L2252.6 780.5" fill="none" stroke="#111" stroke-width="0.95" stroke-linejoin="round" />
<path d="M2279.6 757.6 L2277.5 788.8" fill="none" stroke="#111" stroke-width="0.95" stroke-linejoin="round" />
<path d="M2142.4 817.9 L2148.6 805.5" fill="none" stroke="#111" stroke-width="0.95" stroke-linejoin="round" />
<path d="M2159 826.3 L2169.4 809.6" fill="none" stroke="#111" stroke-width="0.95" stroke-linejoin="round" />
</g>
<path d="M2219.3 701.5 L2229.7 668.2 L2240.1 655.7 L2269.2 638.1 L2271.3 649.5 L2279.6 657.8 L2308.7 664.1 L2317.1 653.7 L2321.2 647.4 L2339.9 646.4" fill="none" stroke="#111" stroke-width="1.4175000000000002" stroke-linejoin="round" />
<path d="M2229.7 743.1 L2225.6 732.7 L2219.3 714 L2219.3 701.5" fill="none" stroke="#111" stroke-width="1.4175000000000002" stroke-linejoin="round" />
<path d="M2321.2 647.4 L2315 734.8 L2317.1 768" fill="none" stroke="#111" stroke-width="1.4175000000000002" stroke-linejoin="round" />
<path d="M2325.4 649.5 L2319.1 734.8 L2321.2 766" fill="none" stroke="#111" stroke-width="1.4175000000000002" stroke-linejoin="round" />
<path d="M2339.9 646.4 L2335.8 755.6 L2321.2 809.6" fill="none" stroke="#111" stroke-width="1.4175000000000002" stroke-linejoin="round" />
<path d="M2346.2 651.6 L2348.2 755.6 L2329.5 822.1" fill="none" stroke="#111" stroke-width="1.4175000000000002" stroke-linejoin="round" />
<path d="M2344.1 649.5 L2343 755.6 L2325.4 815.9" fill="none" stroke="#111" stroke-width="1.4175000000000002" stroke-linejoin="round" />
<path d="M2248.4 684.9 L2267.1 668.2 L2312.9 678.6 L2315 689" fill="none" stroke="#111" stroke-width="1.4175000000000002" stroke-linejoin="round" />
<path d="M2246.4 701.5 L2265.1 682.8 L2310.8 695.3" fill="none" stroke="#111" stroke-width="1.4175000000000002" stroke-linejoin="round" />
<path d="M2244.3 718.1 L2263 699.4 L2308.7 711.9" fill="none" stroke="#111" stroke-width="1.4175000000000002" stroke-linejoin="round" />
<path d="M2242.2 736.8 L2260.9 718.1 L2308.7 730.6" fill="none" stroke="#111" stroke-width="1.4175000000000002" stroke-linejoin="round" />
<path d="M2242.2 741 L2248.4 684.9" fill="none" stroke="#111" stroke-width="1.4175000000000002" stroke-linejoin="round" />
<path d="M2294.2 630.8 L2285.9 845" fill="none" stroke="#111" stroke-width="1.4175000000000002" stroke-linejoin="round" />
<path d="M2229.7 743.1 L2317.1 768" fill="none" stroke="#111" stroke-width="1.4175000000000002" stroke-linejoin="round" />
<path d="M2223.5 770.1 L2242.2 780.5 L2287.9 793 L2315 788.8 L2321.2 766" fill="none" stroke="#111" stroke-width="1.4175000000000002" stroke-linejoin="round" />
<path d="M2238 747.2 L2233.9 776.4" fill="none" stroke="#111" stroke-width="1.4175000000000002" stroke-linejoin="round" />
<path d="M2250.5 749.3 L2244.3 780.5" fill="none" stroke="#111" stroke-width="1.4175000000000002" stroke-linejoin="round" />
<path d="M2267.1 753.5 L2263 784.7" fill="none" stroke="#111" stroke-width="1.4175000000000002" stroke-linejoin="round" />
<path d="M2273.4 755.6 L2271.3 786.8" fill="none" stroke="#111" stroke-width="1.4175000000000002" stroke-linejoin="round" />
<path d="M2285.9 759.7 L2302.5 763.9 L2310.8 774.3 L2306.7 788.8" fill="none" stroke="#111" stroke-width="1.4175000000000002" stroke-linejoin="round" />
<path d="M2161.1 782.6 L2165.3 778.4 L2225.6 774.3" fill="none" stroke="#111" stroke-width="1.4175000000000002" stroke-linejoin="round" />
<path d="M2161.1 782.6 L2163.2 793 L2196.4 805.5 L2236 803.4 L2267.1 795.1" fill="none" stroke="#111" stroke-width="1.4175000000000002" stroke-linejoin="round" />
<path d="M2105 793 L2102.9 809.6 L2117.4 811.7 L2163.2 830.4 L2213.1 832.5 L2233.9 822.1 L2267.1 805.5 L2315 801.3 L2318.1 817.9 L2325.4 824.2" fill="none" stroke="#111" stroke-width="1.4175000000000002" stroke-linejoin="round" />
<path d="M2121.6 809.6 L2150.7 803.4 L2177.7 809.6 L2165.3 826.3" fill="none" stroke="#111" stroke-width="1.4175000000000002" stroke-linejoin="round" />
<path d="M2107 817.9 L2119.5 820 L2167.3 836.7 L2217.2 837.7 L2238 826.3 L2271.3 809.6 L2317.1 807.5" fill="none" stroke="#111" stroke-width="1.4175000000000002" stroke-linejoin="round" />
<path d="M2111.2 832.5 L2169.4 845 L2221.4 845 L2319.1 820" fill="none" stroke="#111" stroke-width="1.4175000000000002" stroke-linejoin="round" />
<path d="M2113.3 838.7 L2171.5 851.2 L2225.6 851.2 L2275.5 834.6" fill="none" stroke="#111" stroke-width="1.4175000000000002" stroke-linejoin="round" />
<path d="M2171.5 830.4 L2173.6 851.2" fill="none" stroke="#111" stroke-width="1.4175000000000002" stroke-linejoin="round" />
<path d="M2233.9 822.1 L2233.9 847.1" fill="none" stroke="#111" stroke-width="1.4175000000000002" stroke-linejoin="round" />
<path d="M2106 801.3 L2118.5 804.4 L2164.2 823.1 L2213.1 826.3 L2231.8 817.9 L2266.1 800.3 L2313.9 796.1" fill="none" stroke="#111" stroke-width="1.4175000000000002" stroke-linejoin="round" />
<path d="M2140.3 855.4 L2161.1 857.5 L2196.4 869.9 L2221.4 869.9 L2231.8 855.4" fill="none" stroke="#111" stroke-width="1.4175000000000002" stroke-linejoin="round" />
<path d="M2120.5 865.8 L2169.4 882.4 L2300.4 845" fill="none" stroke="#111" stroke-width="1.4175000000000002" stroke-linejoin="round" />
<path d="M2177.7 890.7 L2300.4 847.1" fill="none" stroke="#111" stroke-width="1.4175000000000002" stroke-linejoin="round" />
<path d="M2125.7 867.8 L2142.4 859.5 L2192.3 872" fill="none" stroke="#111" stroke-width="1.4175000000000002" stroke-linejoin="round" />
<path d="M2127.8 872 L2167.3 884.5" fill="none" stroke="#111" stroke-width="1.4175000000000002" stroke-linejoin="round" />
<path d="M2315 743.1 L2337.8 734.8" fill="none" stroke="#111" stroke-width="1.4175000000000002" stroke-linejoin="round" />
<path d="M2316 726.4 L2337.8 718.1" fill="none" stroke="#111" stroke-width="1.4175000000000002" stroke-linejoin="round" />
<path d="M2319.1 682.8 L2339.9 676.5" fill="none" stroke="#111" stroke-width="1.4175000000000002" stroke-linejoin="round" />
<path d="M2335.8 755.6 L2348.2 755.6" fill="none" stroke="#111" stroke-width="1.4175000000000002" stroke-linejoin="round" />
<path d="M2254.7 751.4 L2252.6 780.5" fill="none" stroke="#111" stroke-width="1.4175000000000002" stroke-linejoin="round" />
<path d="M2279.6 757.6 L2277.5 788.8" fill="none" stroke="#111" stroke-width="1.4175000000000002" stroke-linejoin="round" />
<path d="M2142.4 817.9 L2148.6 805.5" fill="none" stroke="#111" stroke-width="1.4175000000000002" stroke-linejoin="round" />
<path d="M2159 826.3 L2169.4 809.6" fill="none" stroke="#111" stroke-width="1.4175000000000002" stroke-linejoin="round" />
<path d="M2274.4 632.9 L2287.9 630.8 L2321.2 641.2 L2308.7 660.9 L2279.6 654.7 L2271.3 647.4 Z" fill="none" stroke="#111" stroke-width="1.4175000000000002" stroke-linejoin="round" />
<path d="M2276.5 636 L2287.9 633.9 L2317.1 643.3 L2306.7 657.8 L2280.7 652.6 L2274.4 646.4 Z" fill="none" stroke="#111" stroke-width="1.4175000000000002" stroke-linejoin="round" />
<text transform="translate(2281.7,647.8) rotate(16) skewX(-15) scale(1.2,1)" style="font-family:'Liberation Sans',sans-serif;font-weight:bold;font-size:10px;fill:#fff;stroke:#111;stroke-width:0.8">EGO</text>
<ellipse cx="2102.9" cy="876.2" rx="3.2" ry="3.6" fill="#333" stroke="#111" stroke-width="1.0"/>
<ellipse cx="2147" cy="888.6" rx="3.2" ry="3.6" fill="#333" stroke="#111" stroke-width="1.0"/>
<ellipse cx="2168.4" cy="893.8" rx="3.2" ry="3.6" fill="#333" stroke="#111" stroke-width="1.0"/>
<ellipse cx="2211" cy="907.4" rx="3.2" ry="3.6" fill="#333" stroke="#111" stroke-width="1.0"/>
<ellipse cx="2118.5" cy="879.3" rx="2" ry="3" fill="#fff" stroke="#111" stroke-width="1"/>
<ellipse cx="2182.9" cy="899" rx="2" ry="3" fill="#fff" stroke="#111" stroke-width="1"/>
<path d="M2295.2 886.6 L2296.3 890.7 L2371.1 914.6 L2372.2 909.4 Z" fill="#fff" stroke="#111" stroke-width="1.4850000000000003" stroke-linejoin="round" />
<path d="M1978 1154.9 L2000.9 1056.3 L2004.5 1044.3 L2015.3 1034.6 L2032.1 1029.8 L2033.3 1025 L2164.4 989 L2176.4 990.2 L2192 1003.4 L2200.4 1027.4 L2248.5 1046.7 L2318.3 1033.4 L2327.9 1038.3 L2344.7 1058.7 L2347.1 1065.9 L2363.9 1082.7 L2361.5 1089.9 L2339.9 1104.4 L2339.9 1111.6 L2330.3 1126 L2323.1 1127.2 L2315.9 1115.2 L2267.8 1128.4 L2253.3 1138 L2234.1 1219.8 L2231.7 1234.2 L2217.3 1239 L2205.3 1239 L2202.8 1224.6 L2137.9 1205.4 L2152.4 1164.5 L2135.5 1174.1 L2061 1152.5 L2039.3 1145.3 L2010.5 1168.1 L1988.9 1162.1 L1986.4 1172.9 L1982.8 1172.9 L1982.8 1160.9 Z" fill="#fff" stroke="#111" stroke-width="2.0250000000000004" stroke-linejoin="round" />
<g transform="translate(1.9,1.5)" opacity="0.75">
<path d="M2032.1 1029.8 L2041.8 1039.5 L2051.4 1037.1 L2176.4 996.2 L2192 1003.4" fill="none" stroke="#111" stroke-width="0.95" stroke-linejoin="round" />
<path d="M2041.8 1039.5 L2010.5 1168.1" fill="none" stroke="#111" stroke-width="0.95" stroke-linejoin="round" />
<path d="M2051.4 1037.1 L2045.4 1053.9 L2039.3 1145.3" fill="none" stroke="#111" stroke-width="0.95" stroke-linejoin="round" />
<path d="M2045.4 1053.9 L2065.8 1082.7 L2061 1152.5" fill="none" stroke="#111" stroke-width="0.95" stroke-linejoin="round" />
<path d="M2046.6 1063.5 L2159.6 1037.1 L2166.8 1053.9 L2231.7 1044.3" fill="none" stroke="#111" stroke-width="0.95" stroke-linejoin="round" />
<path d="M2065.8 1082.7 L2075.4 1080.3 L2176.4 1053.9 L2224.5 1063.5 L2202.8 1077.9" fill="none" stroke="#111" stroke-width="0.95" stroke-linejoin="round" />
<path d="M2075.4 1080.3 L2080.2 1087.5 L2137.9 1106.8 L2145.1 1104.4 L2176.4 1099.6" fill="none" stroke="#111" stroke-width="0.95" stroke-linejoin="round" />
<path d="M2137.9 1106.8 L2135.5 1174.1" fill="none" stroke="#111" stroke-width="0.95" stroke-linejoin="round" />
<path d="M2145.1 1104.4 L2140.3 1171.7" fill="none" stroke="#111" stroke-width="0.95" stroke-linejoin="round" />
<path d="M2169.2 1104.4 L2183.6 1080.3 L2205.3 1073.1 L2318.3 1033.4" fill="none" stroke="#111" stroke-width="0.95" stroke-linejoin="round" />
<path d="M2174 1106.8 L2188.4 1085.1 L2207.7 1077.9 L2320.7 1039.5" fill="none" stroke="#111" stroke-width="0.95" stroke-linejoin="round" />
<path d="M2183.6 1099.6 L2222.1 1118.8 L2234.1 1109.2 L2337.5 1077.9 L2359.1 1087.5" fill="none" stroke="#111" stroke-width="0.95" stroke-linejoin="round" />
<path d="M2222.1 1118.8 L2181.2 1212.6" fill="none" stroke="#111" stroke-width="0.95" stroke-linejoin="round" />
<path d="M2234.1 1109.2 L2248.5 1130.8 L2253.3 1138" fill="none" stroke="#111" stroke-width="0.95" stroke-linejoin="round" />
<path d="M2137.9 1205.4 L2169.2 1104.4" fill="none" stroke="#111" stroke-width="0.95" stroke-linejoin="round" />
<path d="M2147.5 1203 L2177.6 1108" fill="none" stroke="#111" stroke-width="0.95" stroke-linejoin="round" />
<path d="M2202.8 1224.6 L2248.5 1130.8" fill="none" stroke="#111" stroke-width="0.95" stroke-linejoin="round" />
<path d="M2318.3 1033.4 L2337.5 1077.9" fill="none" stroke="#111" stroke-width="0.95" stroke-linejoin="round" />
<path d="M2327.9 1038.3 L2344.7 1077.9" fill="none" stroke="#111" stroke-width="0.95" stroke-linejoin="round" />
<path d="M2033.3 1025 L2036.9 1027.4 L2166.8 992.6" fill="none" stroke="#111" stroke-width="0.95" stroke-linejoin="round" />
<path d="M1988.9 1162.1 L2000.9 1056.3" fill="none" stroke="#111" stroke-width="0.95" stroke-linejoin="round" />
<path d="M2005.7 1154.9 L2032.1 1049.1 L2041.8 1039.5" fill="none" stroke="#111" stroke-width="0.95" stroke-linejoin="round" />
<path d="M2159.6 1037.1 L2162 1025 L2200.4 1027.4" fill="none" stroke="#111" stroke-width="0.95" stroke-linejoin="round" />
<path d="M2061 1152.5 L2135.5 1171.7" fill="none" stroke="#111" stroke-width="0.95" stroke-linejoin="round" />
<path d="M2049 1058.7 L2160.8 1032.2" fill="none" stroke="#111" stroke-width="0.95" stroke-linejoin="round" />
<path d="M2166.8 1053.9 L2176.4 1053.9" fill="none" stroke="#111" stroke-width="0.95" stroke-linejoin="round" />
<path d="M2263 1126 L2337.5 1102" fill="none" stroke="#111" stroke-width="0.95" stroke-linejoin="round" />
<path d="M2190.8 1222.2 L2234.1 1111.6" fill="none" stroke="#111" stroke-width="0.95" stroke-linejoin="round" />
<path d="M2104.3 1073.1 L2109.1 1082.7" fill="none" stroke="#111" stroke-width="0.95" stroke-linejoin="round" />
<path d="M2142.7 1063.5 L2147.5 1070.7" fill="none" stroke="#111" stroke-width="0.95" stroke-linejoin="round" />
</g>
<path d="M2032.1 1029.8 L2041.8 1039.5 L2051.4 1037.1 L2176.4 996.2 L2192 1003.4" fill="none" stroke="#111" stroke-width="1.4175000000000002" stroke-linejoin="round" />
<path d="M2041.8 1039.5 L2010.5 1168.1" fill="none" stroke="#111" stroke-width="1.4175000000000002" stroke-linejoin="round" />
<path d="M2051.4 1037.1 L2045.4 1053.9 L2039.3 1145.3" fill="none" stroke="#111" stroke-width="1.4175000000000002" stroke-linejoin="round" />
<path d="M2045.4 1053.9 L2065.8 1082.7 L2061 1152.5" fill="none" stroke="#111" stroke-width="1.4175000000000002" stroke-linejoin="round" />
<path d="M2046.6 1063.5 L2159.6 1037.1 L2166.8 1053.9 L2231.7 1044.3" fill="none" stroke="#111" stroke-width="1.4175000000000002" stroke-linejoin="round" />
<path d="M2065.8 1082.7 L2075.4 1080.3 L2176.4 1053.9 L2224.5 1063.5 L2202.8 1077.9" fill="none" stroke="#111" stroke-width="1.4175000000000002" stroke-linejoin="round" />
<path d="M2075.4 1080.3 L2080.2 1087.5 L2137.9 1106.8 L2145.1 1104.4 L2176.4 1099.6" fill="none" stroke="#111" stroke-width="1.4175000000000002" stroke-linejoin="round" />
<path d="M2137.9 1106.8 L2135.5 1174.1" fill="none" stroke="#111" stroke-width="1.4175000000000002" stroke-linejoin="round" />
<path d="M2145.1 1104.4 L2140.3 1171.7" fill="none" stroke="#111" stroke-width="1.4175000000000002" stroke-linejoin="round" />
<path d="M2169.2 1104.4 L2183.6 1080.3 L2205.3 1073.1 L2318.3 1033.4" fill="none" stroke="#111" stroke-width="1.4175000000000002" stroke-linejoin="round" />
<path d="M2174 1106.8 L2188.4 1085.1 L2207.7 1077.9 L2320.7 1039.5" fill="none" stroke="#111" stroke-width="1.4175000000000002" stroke-linejoin="round" />
<path d="M2183.6 1099.6 L2222.1 1118.8 L2234.1 1109.2 L2337.5 1077.9 L2359.1 1087.5" fill="none" stroke="#111" stroke-width="1.4175000000000002" stroke-linejoin="round" />
<path d="M2222.1 1118.8 L2181.2 1212.6" fill="none" stroke="#111" stroke-width="1.4175000000000002" stroke-linejoin="round" />
<path d="M2234.1 1109.2 L2248.5 1130.8 L2253.3 1138" fill="none" stroke="#111" stroke-width="1.4175000000000002" stroke-linejoin="round" />
<path d="M2137.9 1205.4 L2169.2 1104.4" fill="none" stroke="#111" stroke-width="1.4175000000000002" stroke-linejoin="round" />
<path d="M2147.5 1203 L2177.6 1108" fill="none" stroke="#111" stroke-width="1.4175000000000002" stroke-linejoin="round" />
<path d="M2202.8 1224.6 L2248.5 1130.8" fill="none" stroke="#111" stroke-width="1.4175000000000002" stroke-linejoin="round" />
<path d="M2318.3 1033.4 L2337.5 1077.9" fill="none" stroke="#111" stroke-width="1.4175000000000002" stroke-linejoin="round" />
<path d="M2327.9 1038.3 L2344.7 1077.9" fill="none" stroke="#111" stroke-width="1.4175000000000002" stroke-linejoin="round" />
<path d="M2033.3 1025 L2036.9 1027.4 L2166.8 992.6" fill="none" stroke="#111" stroke-width="1.4175000000000002" stroke-linejoin="round" />
<path d="M1988.9 1162.1 L2000.9 1056.3" fill="none" stroke="#111" stroke-width="1.4175000000000002" stroke-linejoin="round" />
<path d="M2005.7 1154.9 L2032.1 1049.1 L2041.8 1039.5" fill="none" stroke="#111" stroke-width="1.4175000000000002" stroke-linejoin="round" />
<path d="M2159.6 1037.1 L2162 1025 L2200.4 1027.4" fill="none" stroke="#111" stroke-width="1.4175000000000002" stroke-linejoin="round" />
<path d="M2061 1152.5 L2135.5 1171.7" fill="none" stroke="#111" stroke-width="1.4175000000000002" stroke-linejoin="round" />
<path d="M2049 1058.7 L2160.8 1032.2" fill="none" stroke="#111" stroke-width="1.4175000000000002" stroke-linejoin="round" />
<path d="M2166.8 1053.9 L2176.4 1053.9" fill="none" stroke="#111" stroke-width="1.4175000000000002" stroke-linejoin="round" />
<path d="M2263 1126 L2337.5 1102" fill="none" stroke="#111" stroke-width="1.4175000000000002" stroke-linejoin="round" />
<path d="M2190.8 1222.2 L2234.1 1111.6" fill="none" stroke="#111" stroke-width="1.4175000000000002" stroke-linejoin="round" />
<path d="M2104.3 1073.1 L2109.1 1082.7" fill="none" stroke="#111" stroke-width="1.4175000000000002" stroke-linejoin="round" />
<path d="M2142.7 1063.5 L2147.5 1070.7" fill="none" stroke="#111" stroke-width="1.4175000000000002" stroke-linejoin="round" />
<path d="M2068.2 1092.4 L2080.2 1089.9 L2137.9 1109.2 L2133.1 1138 L2125.9 1140.4 L2075.4 1123.6 L2068.2 1116.4 Z" fill="none" stroke="#111" stroke-width="1.4175000000000002" stroke-linejoin="round" />
<path d="M2077.8 1097.2 L2133.1 1114 L2128.3 1133.2 L2080.2 1118.8 Z" fill="none" stroke="#111" stroke-width="1.4175000000000002" stroke-linejoin="round" />
<path d="M2128.3 1089.9 L2142.7 1085.1 L2166.8 1089.9 L2157.2 1094.8 L2137.9 1094.8 Z" fill="none" stroke="#111" stroke-width="1.4175000000000002" stroke-linejoin="round" />
<path d="M2178.8 1065.9 L2195.6 1062.3 L2219.7 1065.9 L2202.8 1070.7 L2186 1070.7 Z" fill="none" stroke="#111" stroke-width="1.4175000000000002" stroke-linejoin="round" />
<path d="M2207.7 1080.3 L2301.4 1044.3 L2320.7 1058.7 L2313.5 1073.1 L2255.7 1089.9 L2231.7 1097.2 Z" fill="none" stroke="#111" stroke-width="1.4175000000000002" stroke-linejoin="round" />
<path d="M2212.5 1082.7 L2299 1049.1 L2313.5 1059.9 L2308.6 1069.5 L2255.7 1085.1 L2231.7 1092.4 Z" fill="none" stroke="#111" stroke-width="1.4175000000000002" stroke-linejoin="round" />
<path d="M2234.1 1075.5 L2243.7 1065.9 L2260.6 1063.5 L2279.8 1053.9 L2296.6 1058.7 L2296.6 1068.3 L2279.8 1073.1 L2272.6 1082.7 L2255.7 1085.1 L2238.9 1082.7 Z" fill="none" stroke="#111" stroke-width="1.8"/>
<path d="M2061 1152.5 L2135.5 1172.9" fill="none" stroke="#111" stroke-width="2.2" stroke-linejoin="round" stroke-linecap="round" />
<path d="M1966 1051.5 L1990.1 1053.9 L1992.5 1058.7 L1980.4 1112.8 L1974.4 1115.2 L1951.6 1109.2 L1949.2 1105.6 Z" fill="#fff" stroke="#111" stroke-width="1.35" stroke-linejoin="round" />
<path d="M2313.5 933.7 L2320.7 922.8 L2332.7 920.4 L2463.7 960.1 L2464.9 1005.8 L2450.5 1029.8 L2431.3 1039.5 L2426.5 1034.6 L2390.4 1033.4 L2335.1 1011.8 L2318.3 974.5 Z" fill="#fff" stroke="#111" stroke-width="2.0250000000000004" stroke-linejoin="round" />
<g transform="translate(1.9,1.5)" opacity="0.75">
<path d="M2332.7 920.4 L2335.1 938.5 L2327.9 943.3" fill="none" stroke="#111" stroke-width="0.95" stroke-linejoin="round" />
<path d="M2342.3 937.3 L2440.9 969.7 L2463.7 960.1" fill="none" stroke="#111" stroke-width="0.95" stroke-linejoin="round" />
<path d="M2325.5 952.9 L2440.9 981.8" fill="none" stroke="#111" stroke-width="0.95" stroke-linejoin="round" />
<path d="M2327.9 964.9 L2356.7 972.1 L2356.7 996.2 L2368.8 1013" fill="none" stroke="#111" stroke-width="0.95" stroke-linejoin="round" />
<path d="M2344.7 940.9 L2349.5 962.5 L2363.9 991.4" fill="none" stroke="#111" stroke-width="0.95" stroke-linejoin="round" />
<path d="M2388 952.9 L2378.4 986.6 L2383.2 1010.6" fill="none" stroke="#111" stroke-width="0.95" stroke-linejoin="round" />
<path d="M2431.3 967.3 L2426.5 991.4 L2428.9 1025" fill="none" stroke="#111" stroke-width="0.95" stroke-linejoin="round" />
<path d="M2366.3 984.2 L2440.9 1001 L2440.9 969.7" fill="none" stroke="#111" stroke-width="0.95" stroke-linejoin="round" />
<path d="M2383.2 996.2 L2421.6 1005.8 L2421.6 1020.2 L2388 1013" fill="none" stroke="#111" stroke-width="0.95" stroke-linejoin="round" />
<path d="M2440.9 1001 L2431.3 1039.5" fill="none" stroke="#111" stroke-width="0.95" stroke-linejoin="round" />
<path d="M2450.5 1029.8 L2445.7 1010.6 L2464.9 1005.8" fill="none" stroke="#111" stroke-width="0.95" stroke-linejoin="round" />
<path d="M2335.1 1011.8 L2344.7 1005.8 L2390.4 1025 L2426.5 1034.6" fill="none" stroke="#111" stroke-width="0.95" stroke-linejoin="round" />
<path d="M2366.3 950.5 L2359.1 972.1" fill="none" stroke="#111" stroke-width="0.95" stroke-linejoin="round" />
<path d="M2409.6 960.1 L2402.4 993.8" fill="none" stroke="#111" stroke-width="0.95" stroke-linejoin="round" />
<path d="M2344.7 948.1 L2440.9 974.5" fill="none" stroke="#111" stroke-width="0.95" stroke-linejoin="round" />
<path d="M2330.3 972.1 L2354.3 979.3" fill="none" stroke="#111" stroke-width="0.95" stroke-linejoin="round" />
<path d="M2368.8 991.4 L2438.5 1008.2" fill="none" stroke="#111" stroke-width="0.95" stroke-linejoin="round" />
<path d="M2392.8 1003.4 L2392.8 1015.4" fill="none" stroke="#111" stroke-width="0.95" stroke-linejoin="round" />
<path d="M2404.8 1005.8 L2404.8 1017.8" fill="none" stroke="#111" stroke-width="0.95" stroke-linejoin="round" />
</g>
<path d="M2332.7 920.4 L2335.1 938.5 L2327.9 943.3" fill="none" stroke="#111" stroke-width="1.4850000000000003" stroke-linejoin="round" />
<path d="M2342.3 937.3 L2440.9 969.7 L2463.7 960.1" fill="none" stroke="#111" stroke-width="1.4850000000000003" stroke-linejoin="round" />
<path d="M2325.5 952.9 L2440.9 981.8" fill="none" stroke="#111" stroke-width="1.4850000000000003" stroke-linejoin="round" />
<path d="M2327.9 964.9 L2356.7 972.1 L2356.7 996.2 L2368.8 1013" fill="none" stroke="#111" stroke-width="1.4850000000000003" stroke-linejoin="round" />
<path d="M2344.7 940.9 L2349.5 962.5 L2363.9 991.4" fill="none" stroke="#111" stroke-width="1.4850000000000003" stroke-linejoin="round" />
<path d="M2388 952.9 L2378.4 986.6 L2383.2 1010.6" fill="none" stroke="#111" stroke-width="1.4850000000000003" stroke-linejoin="round" />
<path d="M2431.3 967.3 L2426.5 991.4 L2428.9 1025" fill="none" stroke="#111" stroke-width="1.4850000000000003" stroke-linejoin="round" />
<path d="M2366.3 984.2 L2440.9 1001 L2440.9 969.7" fill="none" stroke="#111" stroke-width="1.4850000000000003" stroke-linejoin="round" />
<path d="M2383.2 996.2 L2421.6 1005.8 L2421.6 1020.2 L2388 1013" fill="none" stroke="#111" stroke-width="1.4850000000000003" stroke-linejoin="round" />
<path d="M2440.9 1001 L2431.3 1039.5" fill="none" stroke="#111" stroke-width="1.4850000000000003" stroke-linejoin="round" />
<path d="M2450.5 1029.8 L2445.7 1010.6 L2464.9 1005.8" fill="none" stroke="#111" stroke-width="1.4850000000000003" stroke-linejoin="round" />
<path d="M2335.1 1011.8 L2344.7 1005.8 L2390.4 1025 L2426.5 1034.6" fill="none" stroke="#111" stroke-width="1.4850000000000003" stroke-linejoin="round" />
<path d="M2366.3 950.5 L2359.1 972.1" fill="none" stroke="#111" stroke-width="1.4850000000000003" stroke-linejoin="round" />
<path d="M2409.6 960.1 L2402.4 993.8" fill="none" stroke="#111" stroke-width="1.4850000000000003" stroke-linejoin="round" />
<path d="M2344.7 948.1 L2440.9 974.5" fill="none" stroke="#111" stroke-width="1.4850000000000003" stroke-linejoin="round" />
<path d="M2330.3 972.1 L2354.3 979.3" fill="none" stroke="#111" stroke-width="1.4850000000000003" stroke-linejoin="round" />
<path d="M2368.8 991.4 L2438.5 1008.2" fill="none" stroke="#111" stroke-width="1.4850000000000003" stroke-linejoin="round" />
<path d="M2392.8 1003.4 L2392.8 1015.4" fill="none" stroke="#111" stroke-width="1.4850000000000003" stroke-linejoin="round" />
<path d="M2404.8 1005.8 L2404.8 1017.8" fill="none" stroke="#111" stroke-width="1.4850000000000003" stroke-linejoin="round" />
<path d="M2356.7 972.1 L2366.3 972.1 L2366.3 993.8 L2356.7 993.8 Z" fill="none" stroke="#111" stroke-width="1.4850000000000003" stroke-linejoin="round" />
<ellipse cx="2330.3" cy="937.3" rx="1.7" ry="2.2" fill="none" stroke="#111" stroke-width="1.4850000000000003"/>
<ellipse cx="2404.8" cy="958.9" rx="1.7" ry="2.2" fill="none" stroke="#111" stroke-width="1.4850000000000003"/>
<ellipse cx="2402.4" cy="1013" rx="1.2" ry="1.9" fill="none" stroke="#111" stroke-width="1.4850000000000003"/>
<line x1="2400" y1="924" x2="2394.3" y2="925" stroke="#111" stroke-width="2.2"/>
<line x1="2400" y1="924" x2="2394.8" y2="925" stroke="#fff" stroke-width="0.6"/>
<ellipse cx="2400" cy="924" rx="1.8" ry="2.4" fill="#fff" stroke="#111" stroke-width="1.1" transform="rotate(170 2400 924)"/>
<ellipse cx="2400.8" cy="923.9" rx="0.7" ry="1.1" fill="#111" stroke="#111" stroke-width="0.5" transform="rotate(170 2400.8 923.9)"/>
<line x1="2477" y1="946.9" x2="2471.3" y2="947.9" stroke="#111" stroke-width="2.2"/>
<line x1="2477" y1="946.9" x2="2471.8" y2="947.8" stroke="#fff" stroke-width="0.6"/>
<ellipse cx="2477" cy="946.9" rx="1.8" ry="2.4" fill="#fff" stroke="#111" stroke-width="1.1" transform="rotate(170 2477 946.9)"/>
<ellipse cx="2477.7" cy="946.7" rx="0.7" ry="1.1" fill="#111" stroke="#111" stroke-width="0.5" transform="rotate(170 2477.7 946.7)"/>
<line x1="2472.1" y1="998.6" x2="2466.5" y2="999.6" stroke="#111" stroke-width="2.2"/>
<line x1="2472.1" y1="998.6" x2="2466.9" y2="999.5" stroke="#fff" stroke-width="0.6"/>
<ellipse cx="2472.1" cy="998.6" rx="1.8" ry="2.4" fill="#fff" stroke="#111" stroke-width="1.1" transform="rotate(170 2472.1 998.6)"/>
<ellipse cx="2472.9" cy="998.4" rx="0.7" ry="1.1" fill="#111" stroke="#111" stroke-width="0.5" transform="rotate(170 2472.9 998.4)"/>
<line x1="2211.3" y1="904.8" x2="2204.5" y2="902.3" stroke="#111" stroke-width="2.7"/>
<line x1="2211.3" y1="904.8" x2="2205.1" y2="902.6" stroke="#fff" stroke-width="1.1"/>
<ellipse cx="2211.3" cy="904.8" rx="2.2" ry="3" fill="#fff" stroke="#111" stroke-width="1.1" transform="rotate(200 2211.3 904.8)"/>
<ellipse cx="2212" cy="905.1" rx="0.9" ry="1.4" fill="#111" stroke="#111" stroke-width="0.5" transform="rotate(200 2212 905.1)"/>
<ellipse cx="2181.2" cy="901.9" rx="3.5" ry="3.5" fill="none" stroke="#111" stroke-width="1"/>
<line x1="2252.1" y1="1034.6" x2="2252.1" y2="1039" stroke="#111" stroke-width="1.6"/>
<line x1="2252.1" y1="1034.6" x2="2252.1" y2="1038.6" stroke="#fff" stroke-width="0"/>
<ellipse cx="2252.1" cy="1034.6" rx="1.4" ry="1.8" fill="#fff" stroke="#111" stroke-width="1.1" transform="rotate(90 2252.1 1034.6)"/>
<ellipse cx="2252.1" cy="1033.8" rx="0.5" ry="0.8" fill="#111" stroke="#111" stroke-width="0.5" transform="rotate(90 2252.1 1033.8)"/>
<line x1="1968.4" y1="1164.5" x2="1968.4" y2="1170.2" stroke="#111" stroke-width="2.2"/>
<line x1="1968.4" y1="1164.5" x2="1968.4" y2="1169.8" stroke="#fff" stroke-width="0.6"/>
<ellipse cx="1968.4" cy="1164.5" rx="1.8" ry="2.4" fill="#fff" stroke="#111" stroke-width="1.1" transform="rotate(90 1968.4 1164.5)"/>
<ellipse cx="1968.4" cy="1163.7" rx="0.7" ry="1.1" fill="#111" stroke="#111" stroke-width="0.5" transform="rotate(90 1968.4 1163.7)"/>
<line x1="1963.6" y1="1180.8" x2="1963.6" y2="1184.7" stroke="#111" stroke-width="1.4"/>
<line x1="1963.6" y1="1180.8" x2="1963.6" y2="1184.4" stroke="#fff" stroke-width="-0.2"/>
<ellipse cx="1963.6" cy="1180.8" rx="1.2" ry="1.6" fill="#fff" stroke="#111" stroke-width="1.1" transform="rotate(90 1963.6 1180.8)"/>
<ellipse cx="1963.6" cy="1180" rx="0.5" ry="0.7" fill="#111" stroke="#111" stroke-width="0.5" transform="rotate(90 1963.6 1180)"/>
<path d="M2260.6 1010.1 L2330.3 1033 L2331.5 1035.1 L2260.6 1011.8 Z" fill="#fff" stroke="#111" stroke-width="0.9"/>
<rect x="2268" y="1143.1" width="4.4" height="10" fill="#fff" stroke="#111" stroke-width="1.4"/>
<rect x="2296.8" y="1133.5" width="4.4" height="10" fill="#fff" stroke="#111" stroke-width="1.4"/>
<rect x="2293.2" y="1167.2" width="4.4" height="10" fill="#fff" stroke="#111" stroke-width="1.4"/>
<path d="M2115.1 938.5 L2115.1 1001" fill="none" stroke="#111" stroke-width="2.6" stroke-linejoin="round" stroke-linecap="round" />
<path d="M1113.3 960 L1289.5 960 L1286.4 966.2 L1217.8 981.8 L1220.9 991.2 L1205.3 1000.5 L1186.6 997.4 L1171 989.6 L1139.8 984.9 L1136.7 975.6 Z" fill="#fff" stroke="#111" stroke-width="1.7550000000000001" stroke-linejoin="round" />
<path d="M1139.8 975.6 L1214.7 978.7" fill="none" stroke="#111" stroke-width="1.35" stroke-linejoin="round" />
<path d="M1171 989.6 L1186.6 978.7" fill="none" stroke="#111" stroke-width="1.35" stroke-linejoin="round" />
<path d="M1186.6 997.4 L1192.8 988.1 L1217.8 981.8" fill="none" stroke="#111" stroke-width="1.35" stroke-linejoin="round" />
<path d="M1124.2 963.1 L1280.1 963.1" fill="none" stroke="#111" stroke-width="1.35" stroke-linejoin="round" />
<path d="M1002.6 1067.6 L1018.2 1058.2 L1061.8 1048.9 L1211.5 1020.8 L1224 1014.6 L1256.8 1014.6 L1245.8 1027 L1231.8 1034.8 L1231.8 1042.6 L1043.1 1069.1 L1030.7 1080.1 L1027.5 1087.9 L1007.3 1083.2 Z" fill="#fff" stroke="#111" stroke-width="1.7550000000000001" stroke-linejoin="round" />
<path d="M1018.2 1062.9 L1211.5 1025.5" fill="none" stroke="#111" stroke-width="1.35" stroke-linejoin="round" />
<path d="M1036.9 1059.8 L1046.3 1067.6 L1230.2 1038" fill="none" stroke="#111" stroke-width="1.35" stroke-linejoin="round" />
<path d="M1007.3 1072.3 L1027.5 1076.9 L1030.7 1080.1" fill="none" stroke="#111" stroke-width="1.35" stroke-linejoin="round" />
<path d="M1124.2 1039.5 L1133.6 1045.8 L1142.9 1038" fill="none" stroke="#111" stroke-width="1.35" stroke-linejoin="round" />
<path d="M1088.4 1069.1 L1094.6 1062.9 L1227.1 1039.5 L1231.8 1042.6 L1230.2 1050.4 L1089.9 1078.5 Z" fill="#fff" stroke="#111" stroke-width="1.62" stroke-linejoin="round" />
<line x1="1027.5" y1="1045.1" x2="1027.5" y2="1050.9" stroke="#111" stroke-width="2.2"/>
<line x1="1027.5" y1="1045.1" x2="1027.5" y2="1050.4" stroke="#fff" stroke-width="0.6"/>
<ellipse cx="1027.5" cy="1045.1" rx="1.8" ry="2.4" fill="#fff" stroke="#111" stroke-width="1.1" transform="rotate(90 1027.5 1045.1)"/>
<ellipse cx="1027.5" cy="1044.3" rx="0.7" ry="1.1" fill="#111" stroke="#111" stroke-width="0.5" transform="rotate(90 1027.5 1044.3)"/>
<line x1="1085.2" y1="1029.5" x2="1085.2" y2="1035.3" stroke="#111" stroke-width="2.2"/>
<line x1="1085.2" y1="1029.5" x2="1085.2" y2="1034.8" stroke="#fff" stroke-width="0.6"/>
<ellipse cx="1085.2" cy="1029.5" rx="1.8" ry="2.4" fill="#fff" stroke="#111" stroke-width="1.1" transform="rotate(90 1085.2 1029.5)"/>
<ellipse cx="1085.2" cy="1028.7" rx="0.7" ry="1.1" fill="#111" stroke="#111" stroke-width="0.5" transform="rotate(90 1085.2 1028.7)"/>
<line x1="1135.1" y1="1026.4" x2="1135.1" y2="1032.2" stroke="#111" stroke-width="2.2"/>
<line x1="1135.1" y1="1026.4" x2="1135.1" y2="1031.7" stroke="#fff" stroke-width="0.6"/>
<ellipse cx="1135.1" cy="1026.4" rx="1.8" ry="2.4" fill="#fff" stroke="#111" stroke-width="1.1" transform="rotate(90 1135.1 1026.4)"/>
<ellipse cx="1135.1" cy="1025.6" rx="0.7" ry="1.1" fill="#111" stroke="#111" stroke-width="0.5" transform="rotate(90 1135.1 1025.6)"/>
<line x1="1171" y1="1013.9" x2="1171" y2="1019.7" stroke="#111" stroke-width="2.2"/>
<line x1="1171" y1="1013.9" x2="1171" y2="1019.2" stroke="#fff" stroke-width="0.6"/>
<ellipse cx="1171" cy="1013.9" rx="1.8" ry="2.4" fill="#fff" stroke="#111" stroke-width="1.1" transform="rotate(90 1171 1013.9)"/>
<ellipse cx="1171" cy="1013.1" rx="0.7" ry="1.1" fill="#111" stroke="#111" stroke-width="0.5" transform="rotate(90 1171 1013.1)"/>
<line x1="1222.4" y1="1013.9" x2="1222.4" y2="1019.7" stroke="#111" stroke-width="2.2"/>
<line x1="1222.4" y1="1013.9" x2="1222.4" y2="1019.2" stroke="#fff" stroke-width="0.6"/>
<ellipse cx="1222.4" cy="1013.9" rx="1.8" ry="2.4" fill="#fff" stroke="#111" stroke-width="1.1" transform="rotate(90 1222.4 1013.9)"/>
<ellipse cx="1222.4" cy="1013.1" rx="0.7" ry="1.1" fill="#111" stroke="#111" stroke-width="0.5" transform="rotate(90 1222.4 1013.1)"/>
<ellipse cx="957.4" cy="1069.1" rx="3.4" ry="3.2" fill="#fff" stroke="#111" stroke-width="1.5"/>
<ellipse cx="957.4" cy="1068.2" rx="3" ry="1.6" fill="#fff" stroke="#111" stroke-width="1.0"/>
<ellipse cx="971.4" cy="1067.6" rx="3.4" ry="3.2" fill="#fff" stroke="#111" stroke-width="1.5"/>
<ellipse cx="971.4" cy="1066.7" rx="3" ry="1.6" fill="#fff" stroke="#111" stroke-width="1.0"/>
<ellipse cx="1085.2" cy="1105" rx="3.4" ry="3.2" fill="#fff" stroke="#111" stroke-width="1.5"/>
<ellipse cx="1085.2" cy="1104.1" rx="3" ry="1.6" fill="#fff" stroke="#111" stroke-width="1.0"/>
<ellipse cx="1026" cy="1120.6" rx="3.4" ry="3.2" fill="#fff" stroke="#111" stroke-width="1.5"/>
<ellipse cx="1026" cy="1119.7" rx="3" ry="1.6" fill="#fff" stroke="#111" stroke-width="1.0"/>
<ellipse cx="1171" cy="1087.9" rx="3.4" ry="3.2" fill="#fff" stroke="#111" stroke-width="1.5"/>
<ellipse cx="1171" cy="1086.9" rx="3" ry="1.6" fill="#fff" stroke="#111" stroke-width="1.0"/>
<ellipse cx="1403.3" cy="1086.3" rx="3.4" ry="3.2" fill="#fff" stroke="#111" stroke-width="1.5"/>
<ellipse cx="1403.3" cy="1085.4" rx="3" ry="1.6" fill="#fff" stroke="#111" stroke-width="1.0"/>
<ellipse cx="1263" cy="1368.5" rx="3.4" ry="3.2" fill="#fff" stroke="#111" stroke-width="1.5"/>
<ellipse cx="1263" cy="1367.6" rx="3" ry="1.6" fill="#fff" stroke="#111" stroke-width="1.0"/>
<ellipse cx="1188.1" cy="1379.4" rx="3.4" ry="3.2" fill="#fff" stroke="#111" stroke-width="1.5"/>
<ellipse cx="1188.1" cy="1378.5" rx="3" ry="1.6" fill="#fff" stroke="#111" stroke-width="1.0"/>
<ellipse cx="1348.7" cy="1352.9" rx="3.4" ry="3.2" fill="#fff" stroke="#111" stroke-width="1.5"/>
<ellipse cx="1348.7" cy="1352" rx="3" ry="1.6" fill="#fff" stroke="#111" stroke-width="1.0"/>
<path d="M955.8 1083.2 L977.6 1080.1 L979.2 1084.7 L968.3 1091 L958.9 1089.4 Z" fill="#fff" stroke="#111" stroke-width="1.7550000000000001" stroke-linejoin="round" />
<path d="M958.9 1106.6 L983.9 1103.4 L983.9 1109.7 L974.5 1115.9 L965.2 1115.9 Z" fill="#fff" stroke="#111" stroke-width="1.7550000000000001" stroke-linejoin="round" />
<path d="M968.3 1106.6 L968.3 1114.4" fill="none" stroke="#111" stroke-width="1.35" stroke-linejoin="round" />
<path d="M966.7 1122.2 L966.7 1134.6" fill="none" stroke="#111" stroke-width="3.6" stroke-linejoin="round" stroke-linecap="round" />
<path d="M966.7 1122.2 L966.7 1134.6" fill="none" stroke="#fff" stroke-width="1.4" stroke-linejoin="round" stroke-linecap="round" />
<path d="M980.1 1120.6 L980.1 1133.1" fill="none" stroke="#111" stroke-width="3.6" stroke-linejoin="round" stroke-linecap="round" />
<path d="M980.1 1120.6 L980.1 1133.1" fill="none" stroke="#fff" stroke-width="1.4" stroke-linejoin="round" stroke-linecap="round" />
<path d="M1190.6 1073.8 L1190.6 1083.2" fill="none" stroke="#111" stroke-width="1.6" stroke-linejoin="round" stroke-linecap="round" />
<line x1="1286.4" y1="1003" x2="1282.8" y2="1001.7" stroke="#111" stroke-width="1.4"/>
<line x1="1286.4" y1="1003" x2="1283.1" y2="1001.8" stroke="#fff" stroke-width="-0.2"/>
<ellipse cx="1286.4" cy="1003" rx="1.2" ry="1.6" fill="#fff" stroke="#111" stroke-width="1.1" transform="rotate(200 1286.4 1003)"/>
<ellipse cx="1287.1" cy="1003.3" rx="0.5" ry="0.7" fill="#111" stroke="#111" stroke-width="0.5" transform="rotate(200 1287.1 1003.3)"/>
<line x1="1250.5" y1="1066" x2="1246.9" y2="1064.7" stroke="#111" stroke-width="1.4"/>
<line x1="1250.5" y1="1066" x2="1247.2" y2="1064.8" stroke="#fff" stroke-width="-0.2"/>
<ellipse cx="1250.5" cy="1066" rx="1.2" ry="1.6" fill="#fff" stroke="#111" stroke-width="1.1" transform="rotate(200 1250.5 1066)"/>
<ellipse cx="1251.3" cy="1066.3" rx="0.5" ry="0.7" fill="#111" stroke="#111" stroke-width="0.5" transform="rotate(200 1251.3 1066.3)"/>
<line x1="1273.9" y1="1065.4" x2="1270.3" y2="1064.1" stroke="#111" stroke-width="1.4"/>
<line x1="1273.9" y1="1065.4" x2="1270.6" y2="1064.2" stroke="#fff" stroke-width="-0.2"/>
<ellipse cx="1273.9" cy="1065.4" rx="1.2" ry="1.6" fill="#fff" stroke="#111" stroke-width="1.1" transform="rotate(200 1273.9 1065.4)"/>
<ellipse cx="1274.7" cy="1065.7" rx="0.5" ry="0.7" fill="#111" stroke="#111" stroke-width="0.5" transform="rotate(200 1274.7 1065.7)"/>
<line x1="1098.6" y1="1353.6" x2="1095" y2="1352.2" stroke="#111" stroke-width="1.4"/>
<line x1="1098.6" y1="1353.6" x2="1095.3" y2="1352.3" stroke="#fff" stroke-width="-0.2"/>
<ellipse cx="1098.6" cy="1353.6" rx="1.2" ry="1.6" fill="#fff" stroke="#111" stroke-width="1.1" transform="rotate(200 1098.6 1353.6)"/>
<ellipse cx="1099.4" cy="1353.8" rx="0.5" ry="0.7" fill="#111" stroke="#111" stroke-width="0.5" transform="rotate(200 1099.4 1353.8)"/>
<line x1="1124.2" y1="1344.2" x2="1120.6" y2="1342.9" stroke="#111" stroke-width="1.4"/>
<line x1="1124.2" y1="1344.2" x2="1120.9" y2="1343" stroke="#fff" stroke-width="-0.2"/>
<ellipse cx="1124.2" cy="1344.2" rx="1.2" ry="1.6" fill="#fff" stroke="#111" stroke-width="1.1" transform="rotate(200 1124.2 1344.2)"/>
<ellipse cx="1125" cy="1344.5" rx="0.5" ry="0.7" fill="#111" stroke="#111" stroke-width="0.5" transform="rotate(200 1125 1344.5)"/>
<line x1="1008.2" y1="1271.8" x2="1004.6" y2="1270.5" stroke="#111" stroke-width="1.4"/>
<line x1="1008.2" y1="1271.8" x2="1004.9" y2="1270.6" stroke="#fff" stroke-width="-0.2"/>
<ellipse cx="1008.2" cy="1271.8" rx="1.2" ry="1.6" fill="#fff" stroke="#111" stroke-width="1.1" transform="rotate(200 1008.2 1271.8)"/>
<ellipse cx="1009" cy="1272.1" rx="0.5" ry="0.7" fill="#111" stroke="#111" stroke-width="0.5" transform="rotate(200 1009 1272.1)"/>
<line x1="1019.7" y1="1272.8" x2="1016.1" y2="1271.5" stroke="#111" stroke-width="1.4"/>
<line x1="1019.7" y1="1272.8" x2="1016.4" y2="1271.6" stroke="#fff" stroke-width="-0.2"/>
<ellipse cx="1019.7" cy="1272.8" rx="1.2" ry="1.6" fill="#fff" stroke="#111" stroke-width="1.1" transform="rotate(200 1019.7 1272.8)"/>
<ellipse cx="1020.5" cy="1273.1" rx="0.5" ry="0.7" fill="#111" stroke="#111" stroke-width="0.5" transform="rotate(200 1020.5 1273.1)"/>
<path d="M764 1225.1 L812.4 1215.7 L1323.8 1115.9 L1342.5 1113.7 L1342.5 1136.2 L1068.1 1189.2 L1068.1 1206.4 L1024.4 1212.6 L1024.4 1192.3 L852.9 1228.2 L843.6 1231.3 L792.1 1242.2 L792.1 1259.4 L764 1260.9 Z" fill="#fff" stroke="#111" stroke-width="1.89" stroke-linejoin="round" />
<g transform="translate(1.9,1.5)" opacity="0.75">
<path d="M812.4 1219.5 L1323.8 1119.7" fill="none" stroke="#111" stroke-width="0.95" stroke-linejoin="round" />
<path d="M792.1 1222 L792.1 1242.2" fill="none" stroke="#111" stroke-width="0.95" stroke-linejoin="round" />
<path d="M764 1234.4 L792.1 1231.3" fill="none" stroke="#111" stroke-width="0.95" stroke-linejoin="round" />
<path d="M1068.1 1189.2 L1068.1 1178.3" fill="none" stroke="#111" stroke-width="0.95" stroke-linejoin="round" />
<path d="M1024.4 1192.3 L1043.1 1187.6 L1068.1 1184.5" fill="none" stroke="#111" stroke-width="0.95" stroke-linejoin="round" />
<path d="M1043.1 1168.9 L1043.1 1187.6" fill="none" stroke="#111" stroke-width="0.95" stroke-linejoin="round" />
<path d="M1043.1 1168.9 L1068.1 1164.3" fill="none" stroke="#111" stroke-width="0.95" stroke-linejoin="round" />
<path d="M1311.3 1119 L1311.3 1140.9" fill="none" stroke="#111" stroke-width="0.95" stroke-linejoin="round" />
<path d="M1323.8 1115.9 L1326.9 1134.6" fill="none" stroke="#111" stroke-width="0.95" stroke-linejoin="round" />
</g>
<path d="M812.4 1219.5 L1323.8 1119.7" fill="none" stroke="#111" stroke-width="1.35" stroke-linejoin="round" />
<path d="M792.1 1222 L792.1 1242.2" fill="none" stroke="#111" stroke-width="1.35" stroke-linejoin="round" />
<path d="M764 1234.4 L792.1 1231.3" fill="none" stroke="#111" stroke-width="1.35" stroke-linejoin="round" />
<path d="M1068.1 1189.2 L1068.1 1178.3" fill="none" stroke="#111" stroke-width="1.35" stroke-linejoin="round" />
<path d="M1024.4 1192.3 L1043.1 1187.6 L1068.1 1184.5" fill="none" stroke="#111" stroke-width="1.35" stroke-linejoin="round" />
<path d="M1043.1 1168.9 L1043.1 1187.6" fill="none" stroke="#111" stroke-width="1.35" stroke-linejoin="round" />
<path d="M1043.1 1168.9 L1068.1 1164.3" fill="none" stroke="#111" stroke-width="1.35" stroke-linejoin="round" />
<path d="M1311.3 1119 L1311.3 1140.9" fill="none" stroke="#111" stroke-width="1.35" stroke-linejoin="round" />
<path d="M1323.8 1115.9 L1326.9 1134.6" fill="none" stroke="#111" stroke-width="1.35" stroke-linejoin="round" />
<ellipse cx="776.5" cy="1242.2" rx="2.2" ry="2.2" fill="none" stroke="#111" stroke-width="1.35"/>
<ellipse cx="790.5" cy="1239.1" rx="2.2" ry="2.2" fill="none" stroke="#111" stroke-width="1.35"/>
<ellipse cx="770.3" cy="1251.6" rx="0.9" ry="0.9" fill="none" stroke="#111" stroke-width="1.35"/>
<ellipse cx="784.3" cy="1248.5" rx="0.9" ry="0.9" fill="none" stroke="#111" stroke-width="1.35"/>
<ellipse cx="796.8" cy="1236" rx="0.9" ry="0.9" fill="none" stroke="#111" stroke-width="1.35"/>
<path d="M846.7 1228.8 L937.1 1243.8" fill="none" stroke="#111" stroke-width="5.5" stroke-linejoin="round" stroke-linecap="round" />
<path d="M846.7 1228.8 L937.1 1243.8" fill="none" stroke="#fff" stroke-width="3.3" stroke-linejoin="round" stroke-linecap="round" />
<path d="M1024.4 1192.3 L1068.1 1186.1 L1068.1 1206.4 L1024.4 1212.6 Z" fill="#fff" stroke="#111" stroke-width="1.62" stroke-linejoin="round" />
<path d="M1024.4 1197 L1068.1 1190.8" fill="none" stroke="#111" stroke-width="1.35" stroke-linejoin="round" />
<path d="M1311.3 1142.4 L1342.5 1136.2 L1361.2 1147.1 L1330 1154.9 Z" fill="#fff" stroke="#111" stroke-width="1.62" stroke-linejoin="round" />
<path d="M1311.3 1148.7 L1330 1159.6 L1361.2 1151.8" fill="none" stroke="#111" stroke-width="1.35" stroke-linejoin="round" />
<path d="M815.5 1218.8 L832.6 1218.8 L834.2 1287.4 L831.1 1298.4 L823.3 1301.5 L815.5 1298.4 L812.4 1287.4 Z" fill="#fff" stroke="#111" stroke-width="1.89" stroke-linejoin="round" />
<path d="M821.1 1231.3 L821.1 1281.2 L823.6 1284.3 L826.7 1281.2 L826.7 1231.3 L823.9 1228.2 L821.1 1231.3" fill="none" stroke="#111" stroke-width="1.35" stroke-linejoin="round" />
<ellipse cx="823.6" cy="1293.1" rx="1.6" ry="1.9" fill="none" stroke="#111" stroke-width="1.35"/>
<path d="M804.6 1240.7 L812.4 1240.7 L812.4 1284.3 L809.3 1284.3 Z" fill="#fff" stroke="#111" stroke-width="1.4850000000000003" stroke-linejoin="round" />
<path d="M846.7 1253.1 L887.2 1246.9 L1425.1 1139.3 L1427.3 1161.1 L1217.8 1203.2 L887.2 1267.2 L887.2 1281.2 L857.6 1287.4 L846.7 1271.8 Z" fill="#fff" stroke="#111" stroke-width="1.89" stroke-linejoin="round" />
<path d="M887.2 1250.6 L1425.1 1143.1" fill="none" stroke="#111" stroke-width="1.35" stroke-linejoin="round" />
<path d="M887.2 1246.9 L887.2 1267.2" fill="none" stroke="#111" stroke-width="1.35" stroke-linejoin="round" />
<path d="M854.5 1254.7 L857.6 1287.4" fill="none" stroke="#111" stroke-width="1.35" stroke-linejoin="round" />
<path d="M1392.4 1147.1 L1395.5 1167.4" fill="none" stroke="#111" stroke-width="1.35" stroke-linejoin="round" />
<path d="M1404.9 1144 L1408 1164.3" fill="none" stroke="#111" stroke-width="1.35" stroke-linejoin="round" />
<ellipse cx="863.8" cy="1268.7" rx="1.9" ry="1.9" fill="none" stroke="#111" stroke-width="1.35"/>
<ellipse cx="877.9" cy="1264.1" rx="1.9" ry="1.9" fill="none" stroke="#111" stroke-width="1.35"/>
<ellipse cx="879.4" cy="1276.5" rx="0.9" ry="0.9" fill="none" stroke="#111" stroke-width="1.35"/>
<path d="M887.2 1267.2 L912.2 1262.5 L912.2 1306.2 L905.9 1318.6 L896.6 1321.7 L888.8 1315.5 L887.2 1303 Z" fill="#fff" stroke="#111" stroke-width="1.89" stroke-linejoin="round" />
<path d="M895 1271.8 L895 1299.9 L897.5 1303 L900.3 1299.9 L900.3 1270.3" fill="none" stroke="#111" stroke-width="1.35" stroke-linejoin="round" />
<ellipse cx="899.1" cy="1312.4" rx="1.6" ry="1.9" fill="none" stroke="#111" stroke-width="1.35"/>
<path d="M918.4 1260.9 L955.8 1253.1 L962.1 1265.6 L949.6 1271.8 L940.2 1284.3 L927.8 1284.3 L920 1271.8 Z" fill="#fff" stroke="#111" stroke-width="1.62" stroke-linejoin="round" />
<path d="M927.8 1259.4 L940.2 1271.8 L940.2 1284.3" fill="none" stroke="#111" stroke-width="1.35" stroke-linejoin="round" />
<path d="M940.2 1257.8 L952.7 1268.7" fill="none" stroke="#111" stroke-width="1.35" stroke-linejoin="round" />
<path d="M818.6 1197 L826.4 1193.9 L828 1209.5 L843.6 1215.7 L821.7 1218.8 Z" fill="#fff" stroke="#111" stroke-width="1.7550000000000001" stroke-linejoin="round" />
<path d="M924.6 1175.2 L932.4 1172.1 L934 1190.8 L949.6 1195.4 L927.8 1198.6 Z" fill="#fff" stroke="#111" stroke-width="1.7550000000000001" stroke-linejoin="round" />
<path d="M934 1231.3 L941.8 1228.2 L942.7 1242.2 L935.5 1243.8 Z" fill="#fff" stroke="#111" stroke-width="1.7550000000000001" stroke-linejoin="round" />
<path d="M1040 1209.5 L1047.8 1206.4 L1048.7 1220.4 L1041.6 1222 Z" fill="#fff" stroke="#111" stroke-width="1.7550000000000001" stroke-linejoin="round" />
<ellipse cx="823.9" cy="1198.6" rx="1.6" ry="2" fill="#333" stroke="#111" stroke-width="1.0"/>
<ellipse cx="929.3" cy="1176.7" rx="1.6" ry="2" fill="#333" stroke="#111" stroke-width="1.0"/>
<ellipse cx="938" cy="1233.8" rx="1.6" ry="2" fill="#333" stroke="#111" stroke-width="1.0"/>
<ellipse cx="1044.1" cy="1212" rx="1.6" ry="2" fill="#333" stroke="#111" stroke-width="1.0"/>
<path d="M1236.5 1156.5 L1250.5 1151.8 L1250.5 1145.5 L1255.2 1144 L1261.4 1159.6 L1286.4 1154.9 L1287.9 1139.3 L1292.6 1137.8 L1297.3 1153.3 L1297.3 1162.7 L1261.4 1168.9 Z" fill="#fff" stroke="#111" stroke-width="1.62" stroke-linejoin="round" />
<path d="M1250.5 1151.8 L1261.4 1159.6" fill="none" stroke="#111" stroke-width="1.35" stroke-linejoin="round" />
<path d="M1261.4 1159.6 L1261.4 1168.9" fill="none" stroke="#111" stroke-width="1.35" stroke-linejoin="round" />
<path d="M1320.7 1181.4 L1334.7 1176.7 L1334.7 1170.5 L1339.4 1168.3 L1345.6 1184.5 L1370.6 1178.3 L1372.1 1162.7 L1376.8 1161.1 L1379.9 1176.7 L1379.9 1184.5 L1344.1 1192.3 Z" fill="#fff" stroke="#111" stroke-width="1.62" stroke-linejoin="round" />
<path d="M1334.7 1176.7 L1345.6 1184.5" fill="none" stroke="#111" stroke-width="1.35" stroke-linejoin="round" />
<path d="M1345.6 1184.5 L1344.1 1192.3" fill="none" stroke="#111" stroke-width="1.35" stroke-linejoin="round" />
<path d="M1383 1165.8 L1420.5 1159.6 L1420.5 1178.3 L1411.1 1184.5 L1386.2 1178.3 Z" fill="#fff" stroke="#111" stroke-width="1.62" stroke-linejoin="round" />
<path d="M1408 1162.7 L1408 1183" fill="none" stroke="#111" stroke-width="1.35" stroke-linejoin="round" />
<path d="M1047.8 1217.3 L1061.8 1214.2 L1071.2 1234.4 L1094.6 1245.3 L1094.6 1254.7 L1080.6 1257.8 L1054.1 1243.8 L1049.4 1234.4 Z" fill="#fff" stroke="#111" stroke-width="1.7550000000000001" stroke-linejoin="round" />
<path d="M1057.2 1218.8 L1065 1237.5 L1085.2 1248.5" fill="none" stroke="#111" stroke-width="1.35" stroke-linejoin="round" />
<path d="M1085.2 1248.5 L1094.6 1245.3" fill="none" stroke="#111" stroke-width="1.35" stroke-linejoin="round" />
<path d="M1107.1 1201.7 L1121.1 1198.6 L1130.5 1218.8 L1153.8 1229.7 L1153.8 1239.1 L1139.8 1242.2 L1113.3 1228.2 L1108.6 1218.8 Z" fill="#fff" stroke="#111" stroke-width="1.7550000000000001" stroke-linejoin="round" />
<path d="M1116.4 1203.2 L1124.2 1222 L1144.5 1232.9" fill="none" stroke="#111" stroke-width="1.35" stroke-linejoin="round" />
<path d="M1144.5 1232.9 L1153.8 1229.7" fill="none" stroke="#111" stroke-width="1.35" stroke-linejoin="round" />
<path d="M1192.8 1183 L1206.9 1179.9 L1216.2 1200.1 L1239.6 1211 L1239.6 1220.4 L1225.6 1223.5 L1199.1 1209.5 L1194.4 1200.1 Z" fill="#fff" stroke="#111" stroke-width="1.7550000000000001" stroke-linejoin="round" />
<path d="M1202.2 1184.5 L1210 1203.2 L1230.2 1214.2" fill="none" stroke="#111" stroke-width="1.35" stroke-linejoin="round" />
<path d="M1230.2 1214.2 L1239.6 1211" fill="none" stroke="#111" stroke-width="1.35" stroke-linejoin="round" />
<path d="M1111.7 1240 L1139.8 1242.5" fill="none" stroke="#111" stroke-width="5" stroke-linejoin="round" stroke-linecap="round" stroke-dasharray="1.2 1"/>
<path d="M1136.7 1212.6 L1155.4 1209.5 L1164.8 1215.7 L1161.6 1225.1 L1142.9 1228.2 Z" fill="#fff" stroke="#111" stroke-width="1.7550000000000001" stroke-linejoin="round" />
<path d="M1142.9 1212.6 L1149.2 1226.6" fill="none" stroke="#111" stroke-width="1.35" stroke-linejoin="round" />
<ellipse cx="1141.4" cy="1209.5" rx="1.9" ry="2.5" fill="#333" stroke="#111" stroke-width="1.35"/>
<ellipse cx="1155.4" cy="1213.2" rx="1.2" ry="1.6" fill="#333" stroke="#111" stroke-width="1.35"/>
<path d="M1152.3 1153.3 L1155.4 1178.3 L1164.8 1184.5" fill="none" stroke="#111" stroke-width="1.1" stroke-linejoin="round" stroke-linecap="round" />
<path d="M1155.4 1307.7 L1211.5 1290.6 L1273.9 1278.1 L1298.9 1271.8 L1351.9 1268.7 L1361.2 1275 L1365.9 1290.6 L1404.9 1303 L1411.1 1315.5 L1409.6 1328 L1398.6 1334.2 L1314.4 1346.7 L1255.2 1351.4 L1202.2 1360.7 L1167.9 1359.2 L1152.3 1352.9 L1150.7 1338.9 L1164.8 1328 L1164.8 1312.4 Z" fill="#fff" stroke="#111" stroke-width="1.89" stroke-linejoin="round" />
<g transform="translate(1.9,1.5)" opacity="0.75">
<path d="M1211.5 1290.6 L1224 1299.9 L1361.2 1275" fill="none" stroke="#111" stroke-width="0.95" stroke-linejoin="round" />
<path d="M1224 1299.9 L1230.2 1312.4 L1365.9 1290.6" fill="none" stroke="#111" stroke-width="0.95" stroke-linejoin="round" />
<path d="M1164.8 1328 L1236.5 1324.9 L1409.6 1315.5" fill="none" stroke="#111" stroke-width="0.95" stroke-linejoin="round" />
<path d="M1167.9 1342 L1255.2 1340.5 L1408 1324.9" fill="none" stroke="#111" stroke-width="0.95" stroke-linejoin="round" />
<path d="M1255.2 1340.5 L1256.8 1351.4" fill="none" stroke="#111" stroke-width="0.95" stroke-linejoin="round" />
<path d="M1202.2 1346.7 L1202.2 1360.7" fill="none" stroke="#111" stroke-width="0.95" stroke-linejoin="round" />
<path d="M1230.2 1312.4 L1217.8 1318.6 L1164.8 1312.4" fill="none" stroke="#111" stroke-width="0.95" stroke-linejoin="round" />
<path d="M1192.8 1334.2 L1227.1 1328 L1236.5 1332.7 L1202.2 1338.9 L1192.8 1334.2" fill="none" stroke="#111" stroke-width="0.95" stroke-linejoin="round" />
<path d="M1152.3 1352.9 L1167.9 1342" fill="none" stroke="#111" stroke-width="0.95" stroke-linejoin="round" />
<path d="M1164.8 1312.4 L1177.2 1306.2 L1186.6 1312.4 L1186.6 1324.9" fill="none" stroke="#111" stroke-width="0.95" stroke-linejoin="round" />
</g>
<path d="M1211.5 1290.6 L1224 1299.9 L1361.2 1275" fill="none" stroke="#111" stroke-width="1.35" stroke-linejoin="round" />
<path d="M1224 1299.9 L1230.2 1312.4 L1365.9 1290.6" fill="none" stroke="#111" stroke-width="1.35" stroke-linejoin="round" />
<path d="M1164.8 1328 L1236.5 1324.9 L1409.6 1315.5" fill="none" stroke="#111" stroke-width="1.35" stroke-linejoin="round" />
<path d="M1167.9 1342 L1255.2 1340.5 L1408 1324.9" fill="none" stroke="#111" stroke-width="1.35" stroke-linejoin="round" />
<path d="M1255.2 1340.5 L1256.8 1351.4" fill="none" stroke="#111" stroke-width="1.35" stroke-linejoin="round" />
<path d="M1202.2 1346.7 L1202.2 1360.7" fill="none" stroke="#111" stroke-width="1.35" stroke-linejoin="round" />
<path d="M1230.2 1312.4 L1217.8 1318.6 L1164.8 1312.4" fill="none" stroke="#111" stroke-width="1.35" stroke-linejoin="round" />
<path d="M1192.8 1334.2 L1227.1 1328 L1236.5 1332.7 L1202.2 1338.9 L1192.8 1334.2" fill="none" stroke="#111" stroke-width="1.35" stroke-linejoin="round" />
<path d="M1152.3 1352.9 L1167.9 1342" fill="none" stroke="#111" stroke-width="1.35" stroke-linejoin="round" />
<path d="M1164.8 1312.4 L1177.2 1306.2 L1186.6 1312.4 L1186.6 1324.9" fill="none" stroke="#111" stroke-width="1.35" stroke-linejoin="round" />
<defs><pattern id="trd" width="9" height="5" patternUnits="userSpaceOnUse" patternTransform="rotate(-12)"><rect width="9" height="5" fill="#fff"/><path d="M1 4 Q4.5 0 8 4 Z" fill="#222"/></pattern></defs>
<path d="M1261.4 1312.4 L1342.5 1296.8 L1383 1301.5 L1298.9 1323.3 Z" fill="url(#trd)" stroke="#111" stroke-width="0.8"/>
<path d="M1239.6 1318.6 L1286.4 1324.9" fill="none" stroke="#111" stroke-width="2" stroke-linejoin="round" stroke-linecap="round" />
<line x1="1214" y1="1279.6" x2="1214" y2="1285.4" stroke="#111" stroke-width="2.2"/>
<line x1="1214" y1="1279.6" x2="1214" y2="1284.9" stroke="#fff" stroke-width="0.6"/>
<ellipse cx="1214" cy="1279.6" rx="1.8" ry="2.4" fill="#fff" stroke="#111" stroke-width="1.1" transform="rotate(90 1214 1279.6)"/>
<ellipse cx="1214" cy="1278.8" rx="0.7" ry="1.1" fill="#111" stroke="#111" stroke-width="0.5" transform="rotate(90 1214 1278.8)"/>
<line x1="1300.4" y1="1262.5" x2="1300.4" y2="1268.3" stroke="#111" stroke-width="2.2"/>
<line x1="1300.4" y1="1262.5" x2="1300.4" y2="1267.8" stroke="#fff" stroke-width="0.6"/>
<ellipse cx="1300.4" cy="1262.5" rx="1.8" ry="2.4" fill="#fff" stroke="#111" stroke-width="1.1" transform="rotate(90 1300.4 1262.5)"/>
<ellipse cx="1300.4" cy="1261.7" rx="0.7" ry="1.1" fill="#111" stroke="#111" stroke-width="0.5" transform="rotate(90 1300.4 1261.7)"/>
<line x1="1350.3" y1="1289" x2="1350.3" y2="1294.8" stroke="#111" stroke-width="2.2"/>
<line x1="1350.3" y1="1289" x2="1350.3" y2="1294.3" stroke="#fff" stroke-width="0.6"/>
<ellipse cx="1350.3" cy="1289" rx="1.8" ry="2.4" fill="#fff" stroke="#111" stroke-width="1.1" transform="rotate(90 1350.3 1289)"/>
<ellipse cx="1350.3" cy="1288.2" rx="0.7" ry="1.1" fill="#111" stroke="#111" stroke-width="0.5" transform="rotate(90 1350.3 1288.2)"/>
<line x1="1263.9" y1="1306.2" x2="1263.9" y2="1311.9" stroke="#111" stroke-width="2.2"/>
<line x1="1263.9" y1="1306.2" x2="1263.9" y2="1311.4" stroke="#fff" stroke-width="0.6"/>
<ellipse cx="1263.9" cy="1306.2" rx="1.8" ry="2.4" fill="#fff" stroke="#111" stroke-width="1.1" transform="rotate(90 1263.9 1306.2)"/>
<ellipse cx="1263.9" cy="1305.4" rx="0.7" ry="1.1" fill="#111" stroke="#111" stroke-width="0.5" transform="rotate(90 1263.9 1305.4)"/>
<line x1="1188.1" y1="1317.1" x2="1188.1" y2="1322.8" stroke="#111" stroke-width="2.2"/>
<line x1="1188.1" y1="1317.1" x2="1188.1" y2="1322.3" stroke="#fff" stroke-width="0.6"/>
<ellipse cx="1188.1" cy="1317.1" rx="1.8" ry="2.4" fill="#fff" stroke="#111" stroke-width="1.1" transform="rotate(90 1188.1 1317.1)"/>
<ellipse cx="1188.1" cy="1316.3" rx="0.7" ry="1.1" fill="#111" stroke="#111" stroke-width="0.5" transform="rotate(90 1188.1 1316.3)"/>
<line x1="1385.5" y1="1338.9" x2="1385.5" y2="1342.7" stroke="#111" stroke-width="1.4"/>
<line x1="1385.5" y1="1338.9" x2="1385.5" y2="1342.4" stroke="#fff" stroke-width="-0.2"/>
<ellipse cx="1385.5" cy="1338.9" rx="1.2" ry="1.6" fill="#fff" stroke="#111" stroke-width="1.1" transform="rotate(90 1385.5 1338.9)"/>
<ellipse cx="1385.5" cy="1338.1" rx="0.5" ry="0.7" fill="#111" stroke="#111" stroke-width="0.5" transform="rotate(90 1385.5 1338.1)"/>
<path d="M360.2 1058.2 L361.7 1050.4 L371.1 1044.2 L514.5 1016.1 L533.3 1016.1 L536.4 1025.5 L561.3 1020.8 L570.7 1027 L573.8 1033.3 L620.6 1044.2 L623.7 1053.6 L629.9 1097.2 L636.2 1100.3 L636.2 1122.2 L642.4 1128.4 L623.7 1134.6 L623.7 1144 L611.2 1142.4 L609.7 1131.5 L530.1 1151.8 L530.1 1162.7 L520.8 1162.7 L517.7 1154.9 L474 1155.8 L374.2 1128.4 L366.4 1115.9 Z" fill="#fff" stroke="#111" stroke-width="2.0250000000000004" stroke-linejoin="round" />
<g transform="translate(1.9,1.5)" opacity="0.75">
<path d="M360.2 1058.2 L439.7 1083.2 L449.1 1147.1 L474 1155.8" fill="none" stroke="#111" stroke-width="0.95" stroke-linejoin="round" />
<path d="M439.7 1083.2 L620.6 1048.9" fill="none" stroke="#111" stroke-width="0.95" stroke-linejoin="round" />
<path d="M366.4 1109.7 L445.9 1134.6" fill="none" stroke="#111" stroke-width="0.95" stroke-linejoin="round" />
<path d="M371.1 1044.2 L402.3 1053.6 L405.4 1066" fill="none" stroke="#111" stroke-width="0.95" stroke-linejoin="round" />
<path d="M419.4 1034.8 L455.3 1045.8" fill="none" stroke="#111" stroke-width="0.95" stroke-linejoin="round" />
<path d="M474 1023.9 L511.4 1034.8" fill="none" stroke="#111" stroke-width="0.95" stroke-linejoin="round" />
<path d="M458.4 1084.7 L458.4 1066 L502.1 1041.1 L514.5 1047.3 L516.1 1072.3" fill="none" stroke="#111" stroke-width="0.95" stroke-linejoin="round" />
<path d="M514.5 1078.5 L514.5 1059.8 L558.2 1033.3 L570.7 1038 L573.8 1059.8" fill="none" stroke="#111" stroke-width="0.95" stroke-linejoin="round" />
<path d="M464.7 1084.7 L467.8 1147.1" fill="none" stroke="#111" stroke-width="0.95" stroke-linejoin="round" />
<path d="M474 1083.2 L480.2 1150.2" fill="none" stroke="#111" stroke-width="0.95" stroke-linejoin="round" />
<path d="M517.7 1072.3 L523.9 1150.2" fill="none" stroke="#111" stroke-width="0.95" stroke-linejoin="round" />
<path d="M527 1070.7 L536.4 1147.1" fill="none" stroke="#111" stroke-width="0.95" stroke-linejoin="round" />
<path d="M573.8 1059.8 L580 1137.8" fill="none" stroke="#111" stroke-width="0.95" stroke-linejoin="round" />
<path d="M583.2 1058.2 L592.5 1134.6" fill="none" stroke="#111" stroke-width="0.95" stroke-linejoin="round" />
<path d="M467.8 1091 L499 1084.7 L502.1 1106.6 L492.7 1109.7 L495.8 1128.4 L480.2 1134.6" fill="none" stroke="#111" stroke-width="0.95" stroke-linejoin="round" />
<path d="M523.9 1080.1 L558.2 1073.8 L561.3 1094.1 L552 1097.2 L555.1 1115.9 L539.5 1122.2" fill="none" stroke="#111" stroke-width="0.95" stroke-linejoin="round" />
<path d="M580 1069.1 L611.2 1062.9 L614.3 1084.7 L605 1087.9 L608.1 1106.6 L592.5 1112.8" fill="none" stroke="#111" stroke-width="0.95" stroke-linejoin="round" />
<path d="M449.1 1147.1 L623.7 1112.8" fill="none" stroke="#111" stroke-width="0.95" stroke-linejoin="round" />
<path d="M374.2 1103.4 L374.2 1112.8" fill="none" stroke="#111" stroke-width="0.95" stroke-linejoin="round" />
<path d="M392.9 1109.7 L392.9 1119" fill="none" stroke="#111" stroke-width="0.95" stroke-linejoin="round" />
<path d="M414.8 1115.9 L414.8 1125.3" fill="none" stroke="#111" stroke-width="0.95" stroke-linejoin="round" />
<path d="M433.5 1122.2 L433.5 1131.5" fill="none" stroke="#111" stroke-width="0.95" stroke-linejoin="round" />
<path d="M363.3 1053.6 L441.3 1078.5 L619 1044.2" fill="none" stroke="#111" stroke-width="0.95" stroke-linejoin="round" />
<path d="M405.4 1066 L442.8 1076.9" fill="none" stroke="#111" stroke-width="0.95" stroke-linejoin="round" />
<path d="M402.3 1053.6 L421 1041.1 L455.3 1050.4 L458.4 1066" fill="none" stroke="#111" stroke-width="0.95" stroke-linejoin="round" />
<path d="M455.3 1045.8 L477.1 1033.3 L511.4 1039.5" fill="none" stroke="#111" stroke-width="0.95" stroke-linejoin="round" />
<path d="M511.4 1034.8 L530.1 1022.4" fill="none" stroke="#111" stroke-width="0.95" stroke-linejoin="round" />
<path d="M378.9 1053.6 L389.8 1056.7 L389.8 1061.4 L378.9 1058.2" fill="none" stroke="#111" stroke-width="0.95" stroke-linejoin="round" />
<path d="M427.2 1069.1 L436.6 1071.6 L436.6 1076 L427.2 1073.5" fill="none" stroke="#111" stroke-width="0.95" stroke-linejoin="round" />
<path d="M481.8 1059.8 L492.7 1062.3 L492.7 1066.7 L481.8 1064.2" fill="none" stroke="#111" stroke-width="0.95" stroke-linejoin="round" />
<path d="M536.4 1050.4 L547.3 1052.9 L547.3 1057.3 L536.4 1054.8" fill="none" stroke="#111" stroke-width="0.95" stroke-linejoin="round" />
<path d="M506.8 1053.6 L508.3 1128.4" fill="none" stroke="#111" stroke-width="0.95" stroke-linejoin="round" />
<path d="M617.5 1053.6 L623.7 1112.8" fill="none" stroke="#111" stroke-width="0.95" stroke-linejoin="round" />
</g>
<path d="M360.2 1058.2 L439.7 1083.2 L449.1 1147.1 L474 1155.8" fill="none" stroke="#111" stroke-width="1.4175000000000002" stroke-linejoin="round" />
<path d="M439.7 1083.2 L620.6 1048.9" fill="none" stroke="#111" stroke-width="1.4175000000000002" stroke-linejoin="round" />
<path d="M366.4 1109.7 L445.9 1134.6" fill="none" stroke="#111" stroke-width="1.4175000000000002" stroke-linejoin="round" />
<path d="M371.1 1044.2 L402.3 1053.6 L405.4 1066" fill="none" stroke="#111" stroke-width="1.4175000000000002" stroke-linejoin="round" />
<path d="M419.4 1034.8 L455.3 1045.8" fill="none" stroke="#111" stroke-width="1.4175000000000002" stroke-linejoin="round" />
<path d="M474 1023.9 L511.4 1034.8" fill="none" stroke="#111" stroke-width="1.4175000000000002" stroke-linejoin="round" />
<path d="M458.4 1084.7 L458.4 1066 L502.1 1041.1 L514.5 1047.3 L516.1 1072.3" fill="none" stroke="#111" stroke-width="1.4175000000000002" stroke-linejoin="round" />
<path d="M514.5 1078.5 L514.5 1059.8 L558.2 1033.3 L570.7 1038 L573.8 1059.8" fill="none" stroke="#111" stroke-width="1.4175000000000002" stroke-linejoin="round" />
<path d="M464.7 1084.7 L467.8 1147.1" fill="none" stroke="#111" stroke-width="1.4175000000000002" stroke-linejoin="round" />
<path d="M474 1083.2 L480.2 1150.2" fill="none" stroke="#111" stroke-width="1.4175000000000002" stroke-linejoin="round" />
<path d="M517.7 1072.3 L523.9 1150.2" fill="none" stroke="#111" stroke-width="1.4175000000000002" stroke-linejoin="round" />
<path d="M527 1070.7 L536.4 1147.1" fill="none" stroke="#111" stroke-width="1.4175000000000002" stroke-linejoin="round" />
<path d="M573.8 1059.8 L580 1137.8" fill="none" stroke="#111" stroke-width="1.4175000000000002" stroke-linejoin="round" />
<path d="M583.2 1058.2 L592.5 1134.6" fill="none" stroke="#111" stroke-width="1.4175000000000002" stroke-linejoin="round" />
<path d="M467.8 1091 L499 1084.7 L502.1 1106.6 L492.7 1109.7 L495.8 1128.4 L480.2 1134.6" fill="none" stroke="#111" stroke-width="1.4175000000000002" stroke-linejoin="round" />
<path d="M523.9 1080.1 L558.2 1073.8 L561.3 1094.1 L552 1097.2 L555.1 1115.9 L539.5 1122.2" fill="none" stroke="#111" stroke-width="1.4175000000000002" stroke-linejoin="round" />
<path d="M580 1069.1 L611.2 1062.9 L614.3 1084.7 L605 1087.9 L608.1 1106.6 L592.5 1112.8" fill="none" stroke="#111" stroke-width="1.4175000000000002" stroke-linejoin="round" />
<path d="M449.1 1147.1 L623.7 1112.8" fill="none" stroke="#111" stroke-width="1.4175000000000002" stroke-linejoin="round" />
<path d="M374.2 1103.4 L374.2 1112.8" fill="none" stroke="#111" stroke-width="1.4175000000000002" stroke-linejoin="round" />
<path d="M392.9 1109.7 L392.9 1119" fill="none" stroke="#111" stroke-width="1.4175000000000002" stroke-linejoin="round" />
<path d="M414.8 1115.9 L414.8 1125.3" fill="none" stroke="#111" stroke-width="1.4175000000000002" stroke-linejoin="round" />
<path d="M433.5 1122.2 L433.5 1131.5" fill="none" stroke="#111" stroke-width="1.4175000000000002" stroke-linejoin="round" />
<path d="M363.3 1053.6 L441.3 1078.5 L619 1044.2" fill="none" stroke="#111" stroke-width="1.4175000000000002" stroke-linejoin="round" />
<path d="M405.4 1066 L442.8 1076.9" fill="none" stroke="#111" stroke-width="1.4175000000000002" stroke-linejoin="round" />
<path d="M402.3 1053.6 L421 1041.1 L455.3 1050.4 L458.4 1066" fill="none" stroke="#111" stroke-width="1.4175000000000002" stroke-linejoin="round" />
<path d="M455.3 1045.8 L477.1 1033.3 L511.4 1039.5" fill="none" stroke="#111" stroke-width="1.4175000000000002" stroke-linejoin="round" />
<path d="M511.4 1034.8 L530.1 1022.4" fill="none" stroke="#111" stroke-width="1.4175000000000002" stroke-linejoin="round" />
<path d="M378.9 1053.6 L389.8 1056.7 L389.8 1061.4 L378.9 1058.2" fill="none" stroke="#111" stroke-width="1.4175000000000002" stroke-linejoin="round" />
<path d="M427.2 1069.1 L436.6 1071.6 L436.6 1076 L427.2 1073.5" fill="none" stroke="#111" stroke-width="1.4175000000000002" stroke-linejoin="round" />
<path d="M481.8 1059.8 L492.7 1062.3 L492.7 1066.7 L481.8 1064.2" fill="none" stroke="#111" stroke-width="1.4175000000000002" stroke-linejoin="round" />
<path d="M536.4 1050.4 L547.3 1052.9 L547.3 1057.3 L536.4 1054.8" fill="none" stroke="#111" stroke-width="1.4175000000000002" stroke-linejoin="round" />
<path d="M506.8 1053.6 L508.3 1128.4" fill="none" stroke="#111" stroke-width="1.4175000000000002" stroke-linejoin="round" />
<path d="M617.5 1053.6 L623.7 1112.8" fill="none" stroke="#111" stroke-width="1.4175000000000002" stroke-linejoin="round" />
<path d="M506.8 1059.8 L505.8 1125.3" fill="none" stroke="#111" stroke-width="2.2" stroke-linejoin="round" stroke-linecap="round" />
<path d="M623.7 1050.4 L620.6 1115.9" fill="none" stroke="#111" stroke-width="1.8" stroke-linejoin="round" stroke-linecap="round" />
<path d="M499 1139.3 L514.5 1136.2 L516.1 1147.1 L530.1 1151.8 L530.1 1162.7 L520.8 1162.7 L517.7 1154.9 L500.5 1151.8 Z" fill="#fff" stroke="#111" stroke-width="1.62" stroke-linejoin="round" />
<ellipse cx="503.6" cy="1144.6" rx="1.6" ry="1.6" fill="none" stroke="#111" stroke-width="1.35"/>
<ellipse cx="509.9" cy="1144" rx="1.6" ry="1.6" fill="none" stroke="#111" stroke-width="1.35"/>
<path d="M542.6 960 L537.9 978.7 L544.2 1003.7 L548.9 1023.9" fill="none" stroke="#111" stroke-width="4" stroke-linejoin="round" stroke-linecap="round" />
<path d="M542.6 960 L537.9 978.7 L544.2 1003.7 L548.9 1023.9" fill="none" stroke="#fff" stroke-width="2.4" stroke-linejoin="round" stroke-linecap="round" />
<path d="M542.6 960 L537.9 978.7 L544.2 1003.7 L548.9 1023.9" fill="none" stroke="#222" stroke-width="2.4" stroke-dasharray="1.1 1.3"/>
<path d="M603.4 984.9 L615.9 986.5 L619 1006.8 L606.5 1009.9 Z" fill="#333" stroke="#111" stroke-width="1"/>
<path d="M612.8 1009.9 L614.3 1022.4 L601.9 1033.3 L586.3 1037.3" fill="none" stroke="#111" stroke-width="4" stroke-linejoin="round" stroke-linecap="round" />
<path d="M612.8 1009.9 L614.3 1022.4 L601.9 1033.3 L586.3 1037.3" fill="none" stroke="#fff" stroke-width="2.4" stroke-linejoin="round" stroke-linecap="round" />
<path d="M612.8 1009.9 L614.3 1022.4 L601.9 1033.3 L586.3 1037.3" fill="none" stroke="#222" stroke-width="2.4" stroke-dasharray="1.1 1.3"/>
<path d="M633 1092.5 L648.6 1084.7 L679.8 1084.7 L704.8 1080.1" fill="none" stroke="#111" stroke-width="4.5" stroke-linejoin="round" stroke-linecap="round" />
<path d="M633 1092.5 L648.6 1084.7 L679.8 1084.7 L704.8 1080.1" fill="none" stroke="#fff" stroke-width="2.9" stroke-linejoin="round" stroke-linecap="round" />
<path d="M633 1092.5 L648.6 1084.7 L679.8 1084.7 L704.8 1080.1" fill="none" stroke="#222" stroke-width="2.9" stroke-dasharray="1.1 1.3"/>
<path d="M698.5 1080.1 L715.7 1082.2" fill="none" stroke="#111" stroke-width="3" stroke-linejoin="round" stroke-linecap="round" />
<line x1="425.7" y1="991.2" x2="425.7" y2="996.9" stroke="#111" stroke-width="2.2"/>
<line x1="425.7" y1="991.2" x2="425.7" y2="996.5" stroke="#fff" stroke-width="0.6"/>
<ellipse cx="425.7" cy="991.2" rx="1.8" ry="2.4" fill="#fff" stroke="#111" stroke-width="1.1" transform="rotate(90 425.7 991.2)"/>
<ellipse cx="425.7" cy="990.4" rx="0.7" ry="1.1" fill="#111" stroke="#111" stroke-width="0.5" transform="rotate(90 425.7 990.4)"/>
<line x1="530.1" y1="969.4" x2="530.1" y2="975.1" stroke="#111" stroke-width="2.2"/>
<line x1="530.1" y1="969.4" x2="530.1" y2="974.6" stroke="#fff" stroke-width="0.6"/>
<ellipse cx="530.1" cy="969.4" rx="1.8" ry="2.4" fill="#fff" stroke="#111" stroke-width="1.1" transform="rotate(90 530.1 969.4)"/>
<ellipse cx="530.1" cy="968.6" rx="0.7" ry="1.1" fill="#111" stroke="#111" stroke-width="0.5" transform="rotate(90 530.1 968.6)"/>
<line x1="638.4" y1="997.4" x2="638.4" y2="1003.2" stroke="#111" stroke-width="2.2"/>
<line x1="638.4" y1="997.4" x2="638.4" y2="1002.7" stroke="#fff" stroke-width="0.6"/>
<ellipse cx="638.4" cy="997.4" rx="1.8" ry="2.4" fill="#fff" stroke="#111" stroke-width="1.1" transform="rotate(90 638.4 997.4)"/>
<ellipse cx="638.4" cy="996.6" rx="0.7" ry="1.1" fill="#111" stroke="#111" stroke-width="0.5" transform="rotate(90 638.4 996.6)"/>
<path d="M555.1 1212 L584.7 1217.3 L583.2 1225.1 L561.3 1224.4 L553.5 1218.8 Z" fill="#333" stroke="#111" stroke-width="1"/>
<path d="M555.1 1217.3 L539.5 1228.2 L531.7 1240.7 L530.1 1271.8 L531.7 1334.2 L534.8 1374.8 L542.6 1418.4 L552 1437.1 L561.3 1446.5" fill="none" stroke="#111" stroke-width="5" stroke-linejoin="round" stroke-linecap="round" />
<path d="M555.1 1217.3 L539.5 1228.2 L531.7 1240.7 L530.1 1271.8 L531.7 1334.2 L534.8 1374.8 L542.6 1418.4 L552 1437.1 L561.3 1446.5" fill="none" stroke="#fff" stroke-width="3.4" stroke-linejoin="round" stroke-linecap="round" />
<path d="M555.1 1217.3 L539.5 1228.2 L531.7 1240.7 L530.1 1271.8 L531.7 1334.2 L534.8 1374.8 L542.6 1418.4 L552 1437.1 L561.3 1446.5" fill="none" stroke="#222" stroke-width="3.4" stroke-dasharray="1.1 1.3"/>
<path d="M491.2 1281.2 L503.6 1281.2 L505.2 1293.7 L492.7 1294.3 Z" fill="#fff" stroke="#111" stroke-width="1.5"/>
<path d="M505.2 1289 L517.7 1285.9 L530.1 1287.4" fill="none" stroke="#111" stroke-width="3" stroke-linejoin="round" stroke-linecap="round" />
<path d="M505.2 1289 L517.7 1285.9 L530.1 1287.4" fill="none" stroke="#fff" stroke-width="1.4" stroke-linejoin="round" stroke-linecap="round" />
<path d="M505.2 1289 L517.7 1285.9 L530.1 1287.4" fill="none" stroke="#222" stroke-width="1.4" stroke-dasharray="1.1 1.3"/>
<path d="M561.3 1446.5 L592.5 1454.3 L654.9 1455.8 L701.7 1449.6 L726.6 1437.1 L731.3 1418.4 L732.8 1374.8 L745.3 1346.7 L729.7 1328 L717.2 1324.9 L720.4 1312.4 L748.4 1290.6 L760.9 1281.2" fill="none" stroke="#111" stroke-width="5" stroke-linejoin="round" stroke-linecap="round" />
<path d="M561.3 1446.5 L592.5 1454.3 L654.9 1455.8 L701.7 1449.6 L726.6 1437.1 L731.3 1418.4 L732.8 1374.8 L745.3 1346.7 L729.7 1328 L717.2 1324.9 L720.4 1312.4 L748.4 1290.6 L760.9 1281.2" fill="none" stroke="#fff" stroke-width="3.4" stroke-linejoin="round" stroke-linecap="round" />
<path d="M561.3 1446.5 L592.5 1454.3 L654.9 1455.8 L701.7 1449.6 L726.6 1437.1 L731.3 1418.4 L732.8 1374.8 L745.3 1346.7 L729.7 1328 L717.2 1324.9 L720.4 1312.4 L748.4 1290.6 L760.9 1281.2" fill="none" stroke="#222" stroke-width="3.4" stroke-dasharray="1.1 1.3"/>
<path d="M591 1421.5 L620.6 1420 L648.6 1427.8 L645.5 1435.6 L620.6 1434 L592.5 1432.4 Z" fill="#333" stroke="#111" stroke-width="1"/>
<path d="M645.5 1430.9 L670.5 1427.8 L729.7 1418.4" fill="none" stroke="#111" stroke-width="4" stroke-linejoin="round" stroke-linecap="round" />
<path d="M645.5 1430.9 L670.5 1427.8 L729.7 1418.4" fill="none" stroke="#fff" stroke-width="2.4" stroke-linejoin="round" stroke-linecap="round" />
<path d="M645.5 1430.9 L670.5 1427.8 L729.7 1418.4" fill="none" stroke="#222" stroke-width="2.4" stroke-dasharray="1.1 1.3"/>
<path d="M750 1290.6 L764 1282.8 L778.1 1278.1" fill="none" stroke="#111" stroke-width="4" stroke-linejoin="round" stroke-linecap="round" />
<path d="M750 1290.6 L764 1282.8 L778.1 1278.1" fill="none" stroke="#fff" stroke-width="2.4" stroke-linejoin="round" stroke-linecap="round" />
<path d="M750 1290.6 L764 1282.8 L778.1 1278.1" fill="none" stroke="#222" stroke-width="2.4" stroke-dasharray="1.1 1.3"/>
<path d="M774.9 1273.4 L792.1 1268.7 L795.2 1275 L779.6 1281.2 Z" fill="#333" stroke="#111" stroke-width="1"/>
<path d="M561.3 1448 L499 1462.1 L405.4 1483.9 L372.7 1490.8 L343 1477.7 L321.2 1455.8 L318.7 1446.5" fill="none" stroke="#111" stroke-width="2.6" stroke-linejoin="round" stroke-linecap="round" />
<path d="M561.3 1448 L499 1462.1 L405.4 1483.9 L372.7 1490.8 L343 1477.7 L321.2 1455.8 L318.7 1446.5" fill="none" stroke="#fff" stroke-width="1.0" stroke-linejoin="round" stroke-linecap="round" stroke-dasharray="1.2 1.2"/>
<path d="M314.3 1435.6 L324.3 1435.6 L324.3 1448 L314.3 1448 Z" fill="#fff" stroke="#111" stroke-width="1.4"/>
<path d="M817.7 1456.7 L966 1497" fill="none" stroke="#111" stroke-width="4.2" stroke-linejoin="round" stroke-linecap="round" />
<path d="M817.7 1456.7 L966 1497" fill="none" stroke="#fff" stroke-width="2.0" stroke-linejoin="round" stroke-linecap="round" />
<path d="M798.4 1451.4 L816 1456.7" fill="none" stroke="#111" stroke-width="7" stroke-linejoin="round" stroke-linecap="round" />
<path d="M801.1 1452.3 L813.3 1455.8" fill="none" stroke="#fff" stroke-width="3" stroke-linejoin="round" stroke-linecap="round" stroke-dasharray="2 2"/>
<path d="M864.2 1472.5 L888.8 1479.5" fill="none" stroke="#222" stroke-width="5" stroke-linejoin="round" stroke-linecap="round" />
<path d="M894 1476 L894.6 1481.2" fill="none" stroke="#111" stroke-width="1" stroke-linejoin="round" stroke-linecap="round" />
<path d="M906.3 1479.3 L906.8 1484.5" fill="none" stroke="#111" stroke-width="1" stroke-linejoin="round" stroke-linecap="round" />
<path d="M918.6 1482.6 L919.1 1487.9" fill="none" stroke="#111" stroke-width="1" stroke-linejoin="round" stroke-linecap="round" />
<path d="M930.9 1485.9 L931.4 1491.2" fill="none" stroke="#111" stroke-width="1" stroke-linejoin="round" stroke-linecap="round" />
<path d="M943.2 1489.2 L943.7 1494.5" fill="none" stroke="#111" stroke-width="1" stroke-linejoin="round" stroke-linecap="round" />
<path d="M955.4 1492.5 L956 1497.8" fill="none" stroke="#111" stroke-width="1" stroke-linejoin="round" stroke-linecap="round" />
<path d="M892.3 1622.5 L909.8 1626 L927.4 1613.7 L966 1589.1 L976.5 1583.9 L990.5 1583" fill="none" stroke="#111" stroke-width="5.2" stroke-linejoin="round" stroke-linecap="round" />
<path d="M892.3 1622.5 L909.8 1626 L927.4 1613.7 L966 1589.1 L976.5 1583.9 L990.5 1583" fill="none" stroke="#fff" stroke-width="3.0" stroke-linejoin="round" stroke-linecap="round" />
<path d="M1018.6 1617.2 L1029.1 1601.4 L1037.9 1598.8 L1050.2 1598.8" fill="none" stroke="#111" stroke-width="5.2" stroke-linejoin="round" stroke-linecap="round" />
<path d="M1018.6 1617.2 L1029.1 1601.4 L1037.9 1598.8 L1050.2 1598.8" fill="none" stroke="#fff" stroke-width="3.0" stroke-linejoin="round" stroke-linecap="round" />
<path d="M860.7 1578.6 L867.7 1576 L1004.6 1612.8 L1006.3 1638.2 L1002.8 1640 L862.5 1597.9 Z" fill="#fff" stroke="#111" stroke-width="2.0250000000000004" stroke-linejoin="round" />
<path d="M864.2 1580.4 L1003.7 1617.2" fill="none" stroke="#111" stroke-width="1.4175000000000002" stroke-linejoin="round" />
<path d="M867.7 1578.6 L1004.6 1615.4" fill="none" stroke="#111" stroke-width="1.4175000000000002" stroke-linejoin="round" />
<path d="M862.5 1594.4 L1002.8 1636.5" fill="none" stroke="#111" stroke-width="1.4175000000000002" stroke-linejoin="round" />
<ellipse cx="930.9" cy="1608.4" rx="2.5" ry="3.5" fill="#fff" stroke="#111" stroke-width="1.4175000000000002"/>
<ellipse cx="930.9" cy="1608.4" rx="1.4" ry="2.3" fill="none" stroke="#111" stroke-width="1.4175000000000002"/>
<path d="M926.5 1607.5 L935.3 1609.3" fill="none" stroke="#111" stroke-width="3" stroke-linejoin="round" stroke-linecap="round" />
<path d="M862.5 1566.3 L862.5 1597.9" fill="none" stroke="#111" stroke-width="11" stroke-linejoin="round" stroke-linecap="round" />
<path d="M862.5 1566.3 L862.5 1597.9" fill="none" stroke="#fff" stroke-width="8.4" stroke-linejoin="round" stroke-linecap="round" />
<ellipse cx="864.2" cy="1566" rx="8.5" ry="3.5" fill="#fff" stroke="#111" stroke-width="1.3"/>
<ellipse cx="864.2" cy="1564.9" rx="4" ry="2" fill="#fff" stroke="#111" stroke-width="1.1"/>
<path d="M841.4 1604.9 L846.7 1598.8 L871.2 1601.4 L878.2 1608.4 L874.7 1622.5 L878.2 1631.2 L869.5 1638.2 L858.9 1637.4 L855.4 1633 L850.2 1634.7 L841.4 1617.2 Z" fill="#fff" stroke="#111" stroke-width="1.89" stroke-linejoin="round" />
<path d="M846.7 1598.8 L858.9 1615.4 L855.4 1633" fill="none" stroke="#111" stroke-width="1.35" stroke-linejoin="round" />
<path d="M858.9 1615.4 L874.7 1622.5" fill="none" stroke="#111" stroke-width="1.35" stroke-linejoin="round" />
<path d="M844.9 1603.2 L843.2 1618.9" fill="none" stroke="#111" stroke-width="1.35" stroke-linejoin="round" />
<ellipse cx="856.3" cy="1585.6" rx="0.5" ry="0.5" fill="#222" stroke="#111" stroke-width="1.35"/>
<ellipse cx="866.8" cy="1630.4" rx="1.2" ry="1.2" fill="none" stroke="#111" stroke-width="1.35"/>
<ellipse cx="865.1" cy="1640.9" rx="0.9" ry="0.9" fill="none" stroke="#111" stroke-width="1.35"/>
<path d="M810.7 1614.6 L830.9 1618.9" fill="none" stroke="#111" stroke-width="5.5" stroke-linejoin="round" stroke-linecap="round" />
<path d="M810.7 1614.6 L830.9 1618.9" fill="none" stroke="#fff" stroke-width="3.3" stroke-linejoin="round" stroke-linecap="round" />
<ellipse cx="837" cy="1619.8" rx="7" ry="10" fill="#fff" stroke="#111" stroke-width="2.2" transform="rotate(-10 837 1619.8)"/>
<ellipse cx="837.5" cy="1620.4" rx="4" ry="6" fill="#fff" stroke="#111" stroke-width="1.2" transform="rotate(-10 837.5 1620.4)"/>
<path d="M801.1 1633 L827.4 1629.1" fill="none" stroke="#111" stroke-width="6" stroke-linejoin="round" stroke-linecap="round" />
<path d="M801.1 1633 L827.4 1629.1" fill="none" stroke="#fff" stroke-width="3.8" stroke-linejoin="round" stroke-linecap="round" />
<ellipse cx="800.7" cy="1633.3" rx="4" ry="5" fill="#fff" stroke="#111" stroke-width="1.3"/>
<path d="M828.2 1611.1 L832.6 1615.4" fill="none" stroke="#111" stroke-width="1.5" stroke-linejoin="round" stroke-linecap="round" />
<ellipse cx="890.2" cy="1617.2" rx="5" ry="8" fill="#fff" stroke="#111" stroke-width="1.5"/>
<path d="M885.3 1627.7 L892.3 1628.6" fill="none" stroke="#111" stroke-width="4" stroke-linejoin="round" stroke-linecap="round" />
<path d="M862.5 1624.2 L892.3 1624.2" fill="none" stroke="#111" stroke-width="4.5" stroke-linejoin="round" stroke-linecap="round" />
<path d="M862.5 1624.2 L892.3 1624.2" fill="none" stroke="#fff" stroke-width="2.3" stroke-linejoin="round" stroke-linecap="round" />
<path d="M1009.8 1608.4 L1013.3 1647" fill="none" stroke="#111" stroke-width="14" stroke-linejoin="round" stroke-linecap="round" />
<path d="M1009.8 1608.4 L1013.3 1647" fill="none" stroke="#fff" stroke-width="11.4" stroke-linejoin="round" stroke-linecap="round" />
<ellipse cx="1009.8" cy="1609.3" rx="8.5" ry="3.5" fill="#fff" stroke="#111" stroke-width="1.3"/>
<path d="M966 1648.8 L1006.3 1645.3 L1008.1 1666.3 L990.5 1669.8 L989.6 1664.6 L976.5 1673.3 L966 1668.1 Z" fill="#fff" stroke="#111" stroke-width="1.89" stroke-linejoin="round" />
<path d="M966 1648.8 L971.2 1653.2 L1008.1 1649.6" fill="none" stroke="#111" stroke-width="1.35" stroke-linejoin="round" />
<path d="M971.2 1653.2 L971.2 1668.1" fill="none" stroke="#111" stroke-width="1.35" stroke-linejoin="round" />
<ellipse cx="976.8" cy="1659.3" rx="1.1" ry="1.2" fill="#fff" stroke="#111" stroke-width="1.35"/>
<ellipse cx="976.5" cy="1674.2" rx="0.9" ry="0.7" fill="none" stroke="#111" stroke-width="1.35"/>
<path d="M1008.1 1648.8 L1023.9 1643.5 L1025.6 1629.5 L1032.6 1626.8 L1035.3 1641.8 L1037.9 1666.3 L1029.1 1680.4 L1022.1 1682.1 L1015.1 1673.3 L1009.8 1661.1 Z" fill="#fff" stroke="#111" stroke-width="1.89" stroke-linejoin="round" />
<path d="M1015.1 1650.5 L1032.6 1645.3" fill="none" stroke="#111" stroke-width="1.35" stroke-linejoin="round" />
<path d="M1015.1 1650.5 L1020.4 1673.3" fill="none" stroke="#111" stroke-width="1.35" stroke-linejoin="round" />
<path d="M1023.9 1643.5 L1029.1 1666.3" fill="none" stroke="#111" stroke-width="1.35" stroke-linejoin="round" />
<ellipse cx="1032.6" cy="1680.4" rx="9.5" ry="13" fill="#fff" stroke="#111" stroke-width="2.2" transform="rotate(-15 1032.6 1680.4)"/>
<ellipse cx="1033.5" cy="1680.7" rx="6" ry="9" fill="#fff" stroke="#111" stroke-width="1.2" transform="rotate(-15 1033.5 1680.7)"/>
<path d="M1034.4 1678.6 L1058.9 1688.2" fill="none" stroke="#111" stroke-width="7.5" stroke-linejoin="round" stroke-linecap="round" />
<path d="M1034.4 1678.6 L1058.9 1688.2" fill="none" stroke="#fff" stroke-width="5.1" stroke-linejoin="round" stroke-linecap="round" />
<path d="M1069.5 1684.7 L1085.3 1685.6" fill="none" stroke="#111" stroke-width="1.5" stroke-linejoin="round" stroke-linecap="round" />
<ellipse cx="1078.2" cy="1683.9" rx="4" ry="3" fill="none" stroke="#111" stroke-width="1.3"/>
<path d="M1006.3 1566.3 L1006.3 1578.6" fill="none" stroke="#111" stroke-width="4.5" stroke-linejoin="round" stroke-linecap="round" />
<path d="M1006.3 1566.3 L1006.3 1578.6" fill="none" stroke="#fff" stroke-width="2.3" stroke-linejoin="round" stroke-linecap="round" />
<path d="M1064.2 1583.9 L1064.2 1596.1" fill="none" stroke="#111" stroke-width="4.5" stroke-linejoin="round" stroke-linecap="round" />
<path d="M1064.2 1583.9 L1064.2 1596.1" fill="none" stroke="#fff" stroke-width="2.3" stroke-linejoin="round" stroke-linecap="round" />
<path d="M1002.8 1549.6 L1009.8 1549.6 L1010.7 1554.9 L1003.7 1555.4 Z" fill="#fff" stroke="#111" stroke-width="1.89" stroke-linejoin="round" />
<path d="M1060.7 1567.2 L1067.7 1566.7 L1068.6 1571.9 L1061.6 1572.5 Z" fill="#fff" stroke="#111" stroke-width="1.89" stroke-linejoin="round" />
<path d="M987 1580.4 L995.8 1578.6 L1011.6 1580.4 L1011.6 1584.7 L997.5 1586.5 L988.8 1587.4 Z" fill="#fff" stroke="#111" stroke-width="1.7550000000000001" stroke-linejoin="round" />
<path d="M1044.9 1597.9 L1053.7 1596.1 L1069.5 1597.9 L1069.5 1602.3 L1055.4 1604 L1046.7 1604.9 Z" fill="#fff" stroke="#111" stroke-width="1.7550000000000001" stroke-linejoin="round" />
<ellipse cx="973" cy="1600.5" rx="3.5" ry="3.5" fill="#fff" stroke="#111" stroke-width="1.6"/>
<ellipse cx="992.3" cy="1596.1" rx="3" ry="3" fill="#fff" stroke="#111" stroke-width="1.6"/>
<path d="M976.5 1590 L988.8 1593.5" fill="none" stroke="#111" stroke-width="3" stroke-linejoin="round" stroke-linecap="round" />
<path d="M1116.9 1466.1 L1117.6 1501.5 L1126.1 1507.6 L1139.9 1509.1" fill="none" stroke="#111" stroke-width="11" stroke-linejoin="round" stroke-linecap="round" />
<path d="M1116.9 1466.1 L1117.6 1501.5 L1126.1 1507.6 L1139.9 1509.1" fill="none" stroke="#fff" stroke-width="8.4" stroke-linejoin="round" stroke-linecap="round" />
<path d="M1114.5 1469.2 L1115.3 1500.7 L1124.5 1507.6" fill="none" stroke="#111" stroke-width="1.2" stroke-linejoin="round" stroke-linecap="round" />
<path d="M1096.1 1451.5 L1103 1446.1 L1121.5 1452.3 L1133.8 1461.5 L1135.3 1467.7 L1129.1 1473 L1121.5 1470.7 L1106.1 1463 Z" fill="#fff" stroke="#111" stroke-width="2.16" stroke-linejoin="round" />
<path d="M1103 1446.1 L1106.1 1455.4 L1121.5 1460 L1129.1 1473" fill="none" stroke="#111" stroke-width="1.4850000000000003" stroke-linejoin="round" />
<path d="M1100 1452.3 L1106.1 1455.4" fill="none" stroke="#111" stroke-width="1.4850000000000003" stroke-linejoin="round" />
<path d="M1121.5 1452.3 L1121.5 1460" fill="none" stroke="#111" stroke-width="1.4850000000000003" stroke-linejoin="round" />
<path d="M1133.8 1513.8 L1139.9 1509.9 L1187.5 1503 L1190.6 1506.1 L1202.9 1509.1 L1203.7 1532.2 L1190.6 1536 L1159.9 1543 L1152.2 1544.5 L1139.9 1538.3 L1138.4 1526 Z" fill="#fff" stroke="#111" stroke-width="2.0250000000000004" stroke-linejoin="round" />
<g transform="translate(1.9,1.5)" opacity="0.75">
<path d="M1139.9 1509.9 L1146 1516.8 L1190.6 1506.1" fill="none" stroke="#111" stroke-width="0.95" stroke-linejoin="round" />
<path d="M1146 1516.8 L1146 1541.4" fill="none" stroke="#111" stroke-width="0.95" stroke-linejoin="round" />
<path d="M1158.3 1516.8 L1159.9 1543" fill="none" stroke="#111" stroke-width="0.95" stroke-linejoin="round" />
<path d="M1173.7 1515.3 L1175.2 1538.3 L1203.7 1532.2" fill="none" stroke="#111" stroke-width="0.95" stroke-linejoin="round" />
<path d="M1190.6 1506.1 L1190.6 1536" fill="none" stroke="#111" stroke-width="0.95" stroke-linejoin="round" />
<path d="M1139.9 1519.9 L1146 1523" fill="none" stroke="#111" stroke-width="0.95" stroke-linejoin="round" />
<path d="M1146 1504.5 L1152.2 1496.9 L1158.3 1496.1 L1163 1507.6" fill="none" stroke="#111" stroke-width="0.95" stroke-linejoin="round" />
</g>
<path d="M1139.9 1509.9 L1146 1516.8 L1190.6 1506.1" fill="none" stroke="#111" stroke-width="1.4850000000000003" stroke-linejoin="round" />
<path d="M1146 1516.8 L1146 1541.4" fill="none" stroke="#111" stroke-width="1.4850000000000003" stroke-linejoin="round" />
<path d="M1158.3 1516.8 L1159.9 1543" fill="none" stroke="#111" stroke-width="1.4850000000000003" stroke-linejoin="round" />
<path d="M1173.7 1515.3 L1175.2 1538.3 L1203.7 1532.2" fill="none" stroke="#111" stroke-width="1.4850000000000003" stroke-linejoin="round" />
<path d="M1190.6 1506.1 L1190.6 1536" fill="none" stroke="#111" stroke-width="1.4850000000000003" stroke-linejoin="round" />
<path d="M1139.9 1519.9 L1146 1523" fill="none" stroke="#111" stroke-width="1.4850000000000003" stroke-linejoin="round" />
<path d="M1146 1504.5 L1152.2 1496.9 L1158.3 1496.1 L1163 1507.6" fill="none" stroke="#111" stroke-width="1.4850000000000003" stroke-linejoin="round" />
<ellipse cx="1169.9" cy="1529.9" rx="2.2" ry="3.4" fill="#fff" stroke="#111" stroke-width="1.4850000000000003"/>
<ellipse cx="1148.4" cy="1532.2" rx="0.6" ry="0.6" fill="#333" stroke="#111" stroke-width="1.4850000000000003"/>
<ellipse cx="1199.8" cy="1523" rx="0.5" ry="0.6" fill="none" stroke="#111" stroke-width="1.4850000000000003"/>
<path d="M1193.7 1503 L1195.2 1499.2 L1201.4 1498.4 L1213.7 1502.2 L1229 1501.5 L1244.4 1495.3" fill="none" stroke="#111" stroke-width="4.2" stroke-linejoin="round" stroke-linecap="round" />
<path d="M1193.7 1503 L1195.2 1499.2 L1201.4 1498.4 L1213.7 1502.2 L1229 1501.5 L1244.4 1495.3" fill="none" stroke="#ccc" stroke-width="2" stroke-linejoin="round" stroke-linecap="round" stroke-dasharray="1.4 1.2"/>
<path d="M1195.2 1505.3 L1207.5 1504.5 L1209 1507.6 L1198.3 1509.1 Z" fill="#fff" stroke="#111" stroke-width="1.62" stroke-linejoin="round" />
<path d="M1244.4 1490.7 L1259.8 1486.9 L1263.6 1495.3 L1259.8 1499.2 L1246.7 1499.2 Z" fill="#222"/>
<path d="M1078.4 1512.2 L1084.6 1507.6 L1098.4 1509.1 L1106.1 1512.2 L1107.6 1526 L1098.4 1534.5 L1081.5 1533.7 L1077.7 1523 Z" fill="#222"/>
<path d="M1080.7 1513.8 L1081.5 1532.2" fill="none" stroke="#999" stroke-width="0.8" stroke-linejoin="round" stroke-linecap="round" />
<path d="M1084.1 1514.2 L1084.9 1532.2" fill="none" stroke="#999" stroke-width="0.8" stroke-linejoin="round" stroke-linecap="round" />
<path d="M1087.5 1514.7 L1088.3 1532.2" fill="none" stroke="#999" stroke-width="0.8" stroke-linejoin="round" stroke-linecap="round" />
<path d="M1090.9 1515.1 L1091.7 1532.2" fill="none" stroke="#999" stroke-width="0.8" stroke-linejoin="round" stroke-linecap="round" />
<path d="M1094.3 1515.6 L1095 1532.2" fill="none" stroke="#999" stroke-width="0.8" stroke-linejoin="round" stroke-linecap="round" />
<ellipse cx="1108.9" cy="1516.4" rx="5" ry="6" fill="#fff" stroke="#111" stroke-width="2"/>
<path d="M1095.3 1533 L1106.1 1532.2 L1106.9 1538.3 L1096.1 1539.1 Z" fill="#fff" stroke="#111" stroke-width="1.62" stroke-linejoin="round" />
<ellipse cx="1100.3" cy="1529.1" rx="2.5" ry="3" fill="#fff" stroke="#111" stroke-width="1.2"/>
<path d="M1137.9 1547.6 L1137.9 1554.5" fill="none" stroke="#111" stroke-width="3.8" stroke-linejoin="round" stroke-linecap="round" />
<path d="M1137.9 1547.6 L1137.9 1554.5" fill="none" stroke="#fff" stroke-width="1.5999999999999996" stroke-linejoin="round" stroke-linecap="round" />
<path d="M1134.5 1553.7 L1141.3 1553.7 L1141.3 1557.5 L1134.5 1557.5 Z" fill="#fff" stroke="#111" stroke-width="1.7550000000000001" stroke-linejoin="round" />
<path d="M1146.4 1548.3 L1146.4 1555.2" fill="none" stroke="#111" stroke-width="3.8" stroke-linejoin="round" stroke-linecap="round" />
<path d="M1146.4 1548.3 L1146.4 1555.2" fill="none" stroke="#fff" stroke-width="1.5999999999999996" stroke-linejoin="round" stroke-linecap="round" />
<path d="M1143 1554.5 L1149.7 1554.5 L1149.7 1558.3 L1143 1558.3 Z" fill="#fff" stroke="#111" stroke-width="1.7550000000000001" stroke-linejoin="round" />
<path d="M1201.7 1539.9 L1201.7 1546.8" fill="none" stroke="#111" stroke-width="3.8" stroke-linejoin="round" stroke-linecap="round" />
<path d="M1201.7 1539.9 L1201.7 1546.8" fill="none" stroke="#fff" stroke-width="1.5999999999999996" stroke-linejoin="round" stroke-linecap="round" />
<path d="M1198.3 1546 L1205.1 1546 L1205.1 1549.9 L1198.3 1549.9 Z" fill="#fff" stroke="#111" stroke-width="1.7550000000000001" stroke-linejoin="round" />
<path d="M1278.2 1487.6 L1280.5 1516.8 L1286.6 1538.3 L1288.2 1562.9" fill="none" stroke="#111" stroke-width="3.4" stroke-linejoin="round" stroke-linecap="round" />
<path d="M1278.2 1487.6 L1280.5 1516.8 L1286.6 1538.3 L1288.2 1562.9" fill="none" stroke="#fff" stroke-width="1.4" stroke-linejoin="round" stroke-linecap="round" />
<path d="M1272.8 1484.6 L1283.6 1486.9" fill="none" stroke="#111" stroke-width="3.2" stroke-linejoin="round" stroke-linecap="round" />
<path d="M1362.7 1479.2 L1367.3 1476.9 L1388.8 1483.8 L1395.7 1490.7 L1394.2 1499.9 L1387.3 1506.1 L1371.9 1502.2 L1365 1498.4 Z" fill="#fff" stroke="#111" stroke-width="2.16" stroke-linejoin="round" />
<path d="M1367.3 1484.6 L1385.8 1490.7 L1387.3 1506.1" fill="none" stroke="#111" stroke-width="1.4850000000000003" stroke-linejoin="round" />
<path d="M1367.3 1484.6 L1365 1498.4" fill="none" stroke="#111" stroke-width="1.4850000000000003" stroke-linejoin="round" />
<path d="M1367.3 1476.9 L1367.3 1484.6" fill="none" stroke="#111" stroke-width="1.4850000000000003" stroke-linejoin="round" />
<ellipse cx="1376.5" cy="1493.8" rx="1.1" ry="1.4" fill="#333" stroke="#111" stroke-width="1.4850000000000003"/>
<path d="M1351.9 1493.8 L1361.2 1485.3 L1365 1498.4 L1363.5 1510.7 L1348.9 1599.8 L1321.2 1593.7 L1336.6 1556.8 L1347.3 1513.8 Z" fill="#fff" stroke="#111" stroke-width="1.89" stroke-linejoin="round" />
<path d="M1365 1498.4 L1361.2 1512.2 L1345.8 1599.8" fill="none" stroke="#111" stroke-width="1.35" stroke-linejoin="round" />
<path d="M1347.3 1513.8 L1344.3 1556.8" fill="none" stroke="#111" stroke-width="1.35" stroke-linejoin="round" />
<path d="M1273.6 1567.5 L1279.7 1565.2 L1308.9 1561.4 L1321.2 1562.9 L1344.3 1569.1 L1348.9 1599.8 L1321.2 1593.7 L1299.7 1596.7 L1285.9 1595.2 L1281.3 1592.1 L1280.5 1570.6 Z" fill="#fff" stroke="#111" stroke-width="2.0250000000000004" stroke-linejoin="round" />
<path d="M1279.7 1565.2 L1290.5 1570.6 L1312 1567.5 L1321.2 1562.9" fill="none" stroke="#111" stroke-width="1.4850000000000003" stroke-linejoin="round" />
<path d="M1290.5 1570.6 L1290.5 1595.2" fill="none" stroke="#111" stroke-width="1.4850000000000003" stroke-linejoin="round" />
<path d="M1299.7 1573.7 L1299.7 1596.7" fill="none" stroke="#111" stroke-width="1.4850000000000003" stroke-linejoin="round" />
<path d="M1312 1567.5 L1315.1 1593.7" fill="none" stroke="#111" stroke-width="1.4850000000000003" stroke-linejoin="round" />
<path d="M1281.3 1570.6 L1290.5 1573.7" fill="none" stroke="#111" stroke-width="1.4850000000000003" stroke-linejoin="round" />
<ellipse cx="1343.5" cy="1584.4" rx="2.5" ry="3.1" fill="#fff" stroke="#111" stroke-width="1.4850000000000003"/>
<ellipse cx="1343.5" cy="1584.4" rx="1.4" ry="1.8" fill="none" stroke="#111" stroke-width="1.4850000000000003"/>
<ellipse cx="1309.7" cy="1588.3" rx="1.1" ry="1.2" fill="#333" stroke="#111" stroke-width="1.4850000000000003"/>
<ellipse cx="1289.7" cy="1585.2" rx="0.5" ry="0.5" fill="#333" stroke="#111" stroke-width="1.4850000000000003"/>
<path d="M1315.1 1562.9 L1319.7 1552.2 L1325.8 1548.3 L1332 1550.6 L1333.5 1562.9 L1330.4 1576.8 L1321.2 1579.8 L1318.1 1572.1 Z" fill="#fff" stroke="#111" stroke-width="2.7" stroke-linejoin="round" />
<path d="M1321.2 1558.3 L1325.8 1555.2 L1328.1 1561.4 L1325.8 1573.7" fill="none" stroke="#111" stroke-width="1.35" stroke-linejoin="round" />
<ellipse cx="1325.1" cy="1557.5" rx="0.9" ry="1.1" fill="none" stroke="#111" stroke-width="1.35"/>
<path d="M1308.9 1558.3 L1315.1 1544.5 L1324.3 1535.3 L1330.4 1532.2 L1328.9 1526 L1335 1523" fill="none" stroke="#111" stroke-width="4.2" stroke-linejoin="round" stroke-linecap="round" />
<path d="M1308.9 1558.3 L1315.1 1544.5 L1324.3 1535.3 L1330.4 1532.2 L1328.9 1526 L1335 1523" fill="none" stroke="#ccc" stroke-width="2" stroke-linejoin="round" stroke-linecap="round" stroke-dasharray="1.4 1.2"/>
<path d="M1335 1516.8 L1344.3 1515.3 L1345.8 1523 L1336.6 1525.3 Z" fill="#fff" stroke="#111" stroke-width="2.16" stroke-linejoin="round" />
<path d="M1361.9 1566 L1368.9 1561.4 L1384.2 1561.4 L1390.4 1567.5 L1388.8 1579.8 L1382.7 1583.7 L1365.8 1582.1 L1361.2 1575.2 Z" fill="#222"/>
<ellipse cx="1382.7" cy="1575.2" rx="5.5" ry="6.5" fill="#fff" stroke="#111" stroke-width="2"/>
<ellipse cx="1382.7" cy="1575.2" rx="2.5" ry="3" fill="#333" stroke="#111" stroke-width="1.0"/>
<path d="M1368.1 1589 L1380.4 1588.3 L1380.8 1594.4 L1368.5 1595.2 Z" fill="#fff" stroke="#111" stroke-width="1.62" stroke-linejoin="round" />
<path d="M1374.2 1582.9 L1374.2 1588.3" fill="none" stroke="#111" stroke-width="3" stroke-linejoin="round" stroke-linecap="round" />
<path d="M1374.2 1582.9 L1374.2 1588.3" fill="none" stroke="#fff" stroke-width="0.7999999999999998" stroke-linejoin="round" stroke-linecap="round" />
<path d="M1282 1599.8 L1282 1605.9" fill="none" stroke="#111" stroke-width="3.8" stroke-linejoin="round" stroke-linecap="round" />
<path d="M1282 1599.8 L1282 1605.9" fill="none" stroke="#fff" stroke-width="1.5999999999999996" stroke-linejoin="round" stroke-linecap="round" />
<path d="M1278.7 1605.2 L1285.4 1605.2 L1285.4 1609 L1278.7 1609 Z" fill="#fff" stroke="#111" stroke-width="1.7550000000000001" stroke-linejoin="round" />
<path d="M1290.5 1602.9 L1290.5 1609" fill="none" stroke="#111" stroke-width="3.8" stroke-linejoin="round" stroke-linecap="round" />
<path d="M1290.5 1602.9 L1290.5 1609" fill="none" stroke="#fff" stroke-width="1.5999999999999996" stroke-linejoin="round" stroke-linecap="round" />
<path d="M1287.1 1608.3 L1293.9 1608.3 L1293.9 1612.1 L1287.1 1612.1 Z" fill="#fff" stroke="#111" stroke-width="1.7550000000000001" stroke-linejoin="round" />
<path d="M1402.3 1586.7 L1402.3 1592.9" fill="none" stroke="#111" stroke-width="3.8" stroke-linejoin="round" stroke-linecap="round" />
<path d="M1402.3 1586.7 L1402.3 1592.9" fill="none" stroke="#fff" stroke-width="1.5999999999999996" stroke-linejoin="round" stroke-linecap="round" />
<path d="M1399 1592.1 L1405.7 1592.1 L1405.7 1596 L1399 1596 Z" fill="#fff" stroke="#111" stroke-width="1.7550000000000001" stroke-linejoin="round" />
<ellipse cx="1242.1" cy="1446.1" rx="1.2" ry="1.2" fill="#222" stroke="#111" stroke-width="1.0"/>
<ellipse cx="1244.4" cy="1449.2" rx="1.2" ry="1.2" fill="#222" stroke="#111" stroke-width="1.0"/>
<path d="M1059.5 1567.5 L1067.2 1567.5 L1067.2 1572.1 L1059.5 1572.1 Z" fill="#fff" stroke="#111" stroke-width="1.89" stroke-linejoin="round" />
<path d="M1063.8 1581.4 L1063.8 1595.2" fill="none" stroke="#111" stroke-width="4.5" stroke-linejoin="round" stroke-linecap="round" />
<path d="M1063.8 1581.4 L1063.8 1595.2" fill="none" stroke="#fff" stroke-width="2.3" stroke-linejoin="round" stroke-linecap="round" />
<path d="M1056.9 1594.4 L1069.2 1594.4 L1070 1599.8 L1056.9 1600.6 Z" fill="#fff" stroke="#111" stroke-width="1.62" stroke-linejoin="round" />
<path d="M1858.2 1209.1 L1862.7 1207.3 L1967.4 1187.3 L1989.2 1194.6 L1989.2 1201.9 L1985.6 1202.8 L1971 1199.1 L1880 1216.4 L1879.1 1222.8 L1864.6 1218.2 L1858.2 1215.5 Z" fill="#fff" stroke="#111" stroke-width="1.89" stroke-linejoin="round" />
<path d="M1862.7 1210 L1967.4 1190 L1985.6 1196.4" fill="none" stroke="#111" stroke-width="1.35" stroke-linejoin="round" />
<path d="M1880 1216.4 L1880.9 1220.1" fill="none" stroke="#111" stroke-width="1.35" stroke-linejoin="round" />
<path d="M1862.7 1210 L1863.7 1216.4" fill="none" stroke="#111" stroke-width="1.35" stroke-linejoin="round" />
<path d="M1892.8 1206.4 L1956.5 1195.5" fill="none" stroke="#111" stroke-width="2.4" stroke-linejoin="round" stroke-linecap="round" stroke-dasharray="1.2 2.2"/>
<path d="M1878.2 1224.6 L1887.3 1221.9 L1900.1 1227.3 L1911 1232.8 L1947.4 1225.5 L1949.2 1214.6 L1956.5 1208.2 L1974.7 1214.6 L1973.8 1221.9 L1967.4 1240.1 L1960.1 1245.5 L1916.4 1254.6 L1912.8 1251 L1900.1 1245.5 L1889.1 1236.4 Z" fill="#fff" stroke="#111" stroke-width="2.0250000000000004" stroke-linejoin="round" />
<g transform="translate(1.9,1.5)" opacity="0.75">
<path d="M1887.3 1221.9 L1889.1 1232.8 L1911 1249.2 L1916.4 1254.6" fill="none" stroke="#111" stroke-width="0.95" stroke-linejoin="round" />
<path d="M1900.1 1227.3 L1905.5 1236.4 L1912.8 1251" fill="none" stroke="#111" stroke-width="0.95" stroke-linejoin="round" />
<path d="M1911 1232.8 L1914.6 1245.5 L1958.3 1237.3 L1967.4 1220.1 L1956.5 1212.8 L1949.2 1214.6" fill="none" stroke="#111" stroke-width="0.95" stroke-linejoin="round" />
<path d="M1914.6 1245.5 L1916.4 1251.9" fill="none" stroke="#111" stroke-width="0.95" stroke-linejoin="round" />
<path d="M1958.3 1237.3 L1960.1 1245.5" fill="none" stroke="#111" stroke-width="0.95" stroke-linejoin="round" />
<path d="M1947.4 1225.5 L1951 1236.4" fill="none" stroke="#111" stroke-width="0.95" stroke-linejoin="round" />
</g>
<path d="M1887.3 1221.9 L1889.1 1232.8 L1911 1249.2 L1916.4 1254.6" fill="none" stroke="#111" stroke-width="1.4175000000000002" stroke-linejoin="round" />
<path d="M1900.1 1227.3 L1905.5 1236.4 L1912.8 1251" fill="none" stroke="#111" stroke-width="1.4175000000000002" stroke-linejoin="round" />
<path d="M1911 1232.8 L1914.6 1245.5 L1958.3 1237.3 L1967.4 1220.1 L1956.5 1212.8 L1949.2 1214.6" fill="none" stroke="#111" stroke-width="1.4175000000000002" stroke-linejoin="round" />
<path d="M1914.6 1245.5 L1916.4 1251.9" fill="none" stroke="#111" stroke-width="1.4175000000000002" stroke-linejoin="round" />
<path d="M1958.3 1237.3 L1960.1 1245.5" fill="none" stroke="#111" stroke-width="1.4175000000000002" stroke-linejoin="round" />
<path d="M1947.4 1225.5 L1951 1236.4" fill="none" stroke="#111" stroke-width="1.4175000000000002" stroke-linejoin="round" />
<line x1="1871.8" y1="1185.5" x2="1871.8" y2="1192.2" stroke="#111" stroke-width="2.5"/>
<line x1="1871.8" y1="1185.5" x2="1871.8" y2="1191.6" stroke="#fff" stroke-width="0.9"/>
<ellipse cx="1871.8" cy="1185.5" rx="2.1" ry="2.8" fill="#fff" stroke="#111" stroke-width="1.1" transform="rotate(90 1871.8 1185.5)"/>
<ellipse cx="1871.8" cy="1184.7" rx="0.8" ry="1.3" fill="#111" stroke="#111" stroke-width="0.5" transform="rotate(90 1871.8 1184.7)"/>
<line x1="1968.3" y1="1166.4" x2="1968.3" y2="1173.1" stroke="#111" stroke-width="2.5"/>
<line x1="1968.3" y1="1166.4" x2="1968.3" y2="1172.5" stroke="#fff" stroke-width="0.9"/>
<ellipse cx="1968.3" cy="1166.4" rx="2.1" ry="2.8" fill="#fff" stroke="#111" stroke-width="1.1" transform="rotate(90 1968.3 1166.4)"/>
<ellipse cx="1968.3" cy="1165.6" rx="0.8" ry="1.3" fill="#111" stroke="#111" stroke-width="0.5" transform="rotate(90 1968.3 1165.6)"/>
<line x1="1888.2" y1="1195.5" x2="1888.2" y2="1199.3" stroke="#111" stroke-width="1.4"/>
<line x1="1888.2" y1="1195.5" x2="1888.2" y2="1199" stroke="#fff" stroke-width="-0.2"/>
<ellipse cx="1888.2" cy="1195.5" rx="1.2" ry="1.6" fill="#fff" stroke="#111" stroke-width="1.1" transform="rotate(90 1888.2 1195.5)"/>
<ellipse cx="1888.2" cy="1194.7" rx="0.5" ry="0.7" fill="#111" stroke="#111" stroke-width="0.5" transform="rotate(90 1888.2 1194.7)"/>
<line x1="1963.7" y1="1180.9" x2="1963.7" y2="1184.8" stroke="#111" stroke-width="1.4"/>
<line x1="1963.7" y1="1180.9" x2="1963.7" y2="1184.4" stroke="#fff" stroke-width="-0.2"/>
<ellipse cx="1963.7" cy="1180.9" rx="1.2" ry="1.6" fill="#fff" stroke="#111" stroke-width="1.1" transform="rotate(90 1963.7 1180.9)"/>
<ellipse cx="1963.7" cy="1180.1" rx="0.5" ry="0.7" fill="#111" stroke="#111" stroke-width="0.5" transform="rotate(90 1963.7 1180.1)"/>
<path d="M2038.4 1208.2 L2063.8 1214.6 L2098.4 1247.4 L2105.7 1254.6" fill="none" stroke="#111" stroke-width="11.5" stroke-linejoin="round" stroke-linecap="round" />
<path d="M2038.4 1208.2 L2063.8 1214.6 L2098.4 1247.4 L2105.7 1254.6" fill="none" stroke="#fff" stroke-width="8.9" stroke-linejoin="round" stroke-linecap="round" />
<path d="M2102.1 1254.6 L2185.8 1276.5" fill="none" stroke="#111" stroke-width="11.5" stroke-linejoin="round" stroke-linecap="round" />
<path d="M2102.1 1254.6 L2185.8 1276.5" fill="none" stroke="#fff" stroke-width="8.9" stroke-linejoin="round" stroke-linecap="round" />
<path d="M2182.1 1276.5 L2218.5 1261 L2231.3 1263.7" fill="none" stroke="#111" stroke-width="11.5" stroke-linejoin="round" stroke-linecap="round" />
<path d="M2182.1 1276.5 L2218.5 1261 L2231.3 1263.7" fill="none" stroke="#fff" stroke-width="8.9" stroke-linejoin="round" stroke-linecap="round" />
<path d="M2231.3 1264.6 L2254.9 1267.4 L2256.7 1270.1 L2240.4 1273.7 L2229.4 1269.2 Z" fill="#fff" stroke="#111" stroke-width="1.7550000000000001" stroke-linejoin="round" />
<path d="M2238.5 1268.8 L2249.5 1269.7" fill="none" stroke="#111" stroke-width="1.35" stroke-linejoin="round" />
<ellipse cx="2063.8" cy="1214.6" rx="3" ry="6.5" fill="none" stroke="#111" stroke-width="1.0" transform="rotate(-20 2063.8 1214.6)"/>
<ellipse cx="2217.6" cy="1261.9" rx="3" ry="6.5" fill="none" stroke="#111" stroke-width="1.0" transform="rotate(20 2217.6 1261.9)"/>
<ellipse cx="2143.9" cy="1265.6" rx="3" ry="6.5" fill="none" stroke="#111" stroke-width="1.0" transform="rotate(-10 2143.9 1265.6)"/>
<path d="M2104.8 1251 L2123.9 1248.3 L2140.3 1252.8 L2121.2 1256.5 Z" fill="#fff" stroke="#111" stroke-width="1.7550000000000001" stroke-linejoin="round" />
<path d="M2149.4 1263.7 L2167.6 1261 L2183.9 1265.6 L2165.8 1269.2 Z" fill="#fff" stroke="#111" stroke-width="1.7550000000000001" stroke-linejoin="round" />
<defs><pattern id="spr" width="6" height="3.2" patternUnits="userSpaceOnUse"><rect width="6" height="3.2" fill="#fff"/><path d="M0 1H6" stroke="#111" stroke-width="1.5"/><path d="M1.5 0V3.2M4.5 0V3.2" stroke="#111" stroke-width="0.7"/></pattern></defs>
<rect x="2113" y="1206.4" width="17.3" height="44.6" rx="3" fill="url(#spr)" stroke="#111" stroke-width="1.2"/>
<rect x="2158.1" y="1219.1" width="17.1" height="45.5" rx="3" fill="url(#spr)" stroke="#111" stroke-width="1.2"/>
<path d="M2091.1 1247.4 L2094.8 1245.5 L2098.4 1251 L2094.8 1305.6 L2085.7 1307.4 Z" fill="#fff" stroke="#111" stroke-width="1.89" stroke-linejoin="round" />
<path d="M2094.8 1305.6 L2098.4 1261.9 L2111.2 1265.6 L2116.6 1303.8 L2098.4 1307.4 Z" fill="#fff" stroke="#111" stroke-width="1.89" stroke-linejoin="round" />
<ellipse cx="2105.7" cy="1274.6" rx="1.3" ry="1.6" fill="none" stroke="#111" stroke-width="1.35"/>
<ellipse cx="2105.7" cy="1295.6" rx="1.3" ry="1.6" fill="none" stroke="#111" stroke-width="1.35"/>
<path d="M2079.3 1306.5 L2085.7 1304.7 L2093.9 1307.4 L2087.5 1310.1 Z" fill="#fff" stroke="#111" stroke-width="1.62" stroke-linejoin="round" />
<path d="M2111.2 1301.9 L2118.4 1300.1 L2124.8 1301.9 L2117.5 1304.7 Z" fill="#fff" stroke="#111" stroke-width="1.62" stroke-linejoin="round" />
<path d="M2178.5 1274.6 L2182.1 1272.8 L2184.9 1278.3 L2182.1 1331.1 L2173 1332 Z" fill="#fff" stroke="#111" stroke-width="1.89" stroke-linejoin="round" />
<path d="M2182.1 1331.1 L2185.8 1285.6 L2194.9 1283.7 L2202.1 1327.4 L2185.8 1332 Z" fill="#fff" stroke="#111" stroke-width="1.89" stroke-linejoin="round" />
<ellipse cx="2183" cy="1318.3" rx="1.3" ry="1.6" fill="none" stroke="#111" stroke-width="1.35"/>
<path d="M2163.9 1332 L2171.2 1330.2 L2178.5 1332.9 L2171.2 1335.6 Z" fill="#fff" stroke="#111" stroke-width="1.62" stroke-linejoin="round" />
<path d="M2196.7 1326.5 L2203.1 1324.7 L2209.4 1326.5 L2203.1 1329.2 Z" fill="#fff" stroke="#111" stroke-width="1.62" stroke-linejoin="round" />
<path d="M2121.7 1271.9 L2121.7 1278.3" fill="none" stroke="#111" stroke-width="3.4" stroke-linejoin="round" stroke-linecap="round" />
<path d="M2121.7 1271.9 L2121.7 1278.3" fill="none" stroke="#fff" stroke-width="1.0" stroke-linejoin="round" stroke-linecap="round" />
<path d="M2118.8 1269.2 L2124.6 1269.2 L2124.6 1272.5 L2118.8 1272.5 Z" fill="#fff" stroke="#111" stroke-width="1.62" stroke-linejoin="round" />
<path d="M2166.1 1286.5 L2166.1 1292.8" fill="none" stroke="#111" stroke-width="3.4" stroke-linejoin="round" stroke-linecap="round" />
<path d="M2166.1 1286.5 L2166.1 1292.8" fill="none" stroke="#fff" stroke-width="1.0" stroke-linejoin="round" stroke-linecap="round" />
<path d="M2163.2 1283.7 L2169 1283.7 L2169 1287 L2163.2 1287 Z" fill="#fff" stroke="#111" stroke-width="1.62" stroke-linejoin="round" />
<path d="M2170.3 1310.1 L2170.3 1316.5" fill="none" stroke="#111" stroke-width="3.4" stroke-linejoin="round" stroke-linecap="round" />
<path d="M2170.3 1310.1 L2170.3 1316.5" fill="none" stroke="#fff" stroke-width="1.0" stroke-linejoin="round" stroke-linecap="round" />
<path d="M2167.4 1307.4 L2173.2 1307.4 L2173.2 1310.7 L2167.4 1310.7 Z" fill="#fff" stroke="#111" stroke-width="1.62" stroke-linejoin="round" />
<path d="M2203.1 1302.9 L2203.1 1309.2" fill="none" stroke="#111" stroke-width="3.4" stroke-linejoin="round" stroke-linecap="round" />
<path d="M2203.1 1302.9 L2203.1 1309.2" fill="none" stroke="#fff" stroke-width="1.0" stroke-linejoin="round" stroke-linecap="round" />
<path d="M2200.1 1300.1 L2206 1300.1 L2206 1303.4 L2200.1 1303.4 Z" fill="#fff" stroke="#111" stroke-width="1.62" stroke-linejoin="round" />
<path d="M1943.7 1285.6 L1971 1292.8 L2000.1 1322" fill="none" stroke="#111" stroke-width="11.5" stroke-linejoin="round" stroke-linecap="round" />
<path d="M1943.7 1285.6 L1971 1292.8 L2000.1 1322" fill="none" stroke="#fff" stroke-width="8.9" stroke-linejoin="round" stroke-linecap="round" />
<path d="M2003.8 1331.1 L2087.5 1352.9" fill="none" stroke="#111" stroke-width="11.5" stroke-linejoin="round" stroke-linecap="round" />
<path d="M2003.8 1331.1 L2087.5 1352.9" fill="none" stroke="#fff" stroke-width="8.9" stroke-linejoin="round" stroke-linecap="round" />
<path d="M2085.7 1353.8 L2123.9 1337.4 L2136.6 1340.2" fill="none" stroke="#111" stroke-width="11.5" stroke-linejoin="round" stroke-linecap="round" />
<path d="M2085.7 1353.8 L2123.9 1337.4 L2136.6 1340.2" fill="none" stroke="#fff" stroke-width="8.9" stroke-linejoin="round" stroke-linecap="round" />
<path d="M2136.6 1341.1 L2160.3 1343.8 L2162.1 1346.5 L2145.7 1350.2 L2134.8 1345.6 Z" fill="#fff" stroke="#111" stroke-width="1.7550000000000001" stroke-linejoin="round" />
<path d="M2143.9 1345.3 L2154.8 1346.2" fill="none" stroke="#111" stroke-width="1.35" stroke-linejoin="round" />
<ellipse cx="1970.1" cy="1292.8" rx="3" ry="6.5" fill="none" stroke="#111" stroke-width="1.0" transform="rotate(-20 1970.1 1292.8)"/>
<ellipse cx="2123" cy="1338.3" rx="3" ry="6.5" fill="none" stroke="#111" stroke-width="1.0" transform="rotate(20 2123 1338.3)"/>
<path d="M2003.8 1309.2 L2007.4 1303.8 L2020.2 1301 L2024.7 1305.6 L2025.6 1325.6 L2003.8 1330.2 Z" fill="#fff" stroke="#111" stroke-width="1.89" stroke-linejoin="round" />
<ellipse cx="2009.6" cy="1309.2" rx="0.9" ry="1.1" fill="#222" stroke="#111" stroke-width="1.35"/>
<path d="M2065.7 1327.4 L2069.3 1322 L2082 1319.2 L2086.6 1323.8 L2087.5 1343.8 L2065.7 1348.4 Z" fill="#fff" stroke="#111" stroke-width="1.89" stroke-linejoin="round" />
<ellipse cx="2072" cy="1327.4" rx="0.9" ry="1.1" fill="#222" stroke="#111" stroke-width="1.35"/>
<path d="M2004.7 1327.4 L2022 1323.8 L2060.2 1340.2 L2045.6 1343.8 Z" fill="#fff" stroke="#111" stroke-width="1.7550000000000001" stroke-linejoin="round" />
<path d="M2022 1331.1 L2029.3 1331.1 L2031.1 1342 L2023.8 1343.8" fill="none" stroke="#111" stroke-width="1.35" stroke-linejoin="round" />
<path d="M2045.6 1343.8 L2082 1342 L2083.9 1347.4 L2049.3 1351.1 Z" fill="#fff" stroke="#111" stroke-width="1.62" stroke-linejoin="round" />
<ellipse cx="2019.3" cy="1322" rx="5" ry="8" fill="none" stroke="#111" stroke-width="1.3"/>
<ellipse cx="2081.1" cy="1342" rx="4" ry="7" fill="none" stroke="#111" stroke-width="1.3"/>
<path d="M1997.4 1323.8 L2001.1 1322 L2004.7 1327.4 L2000.1 1383.8 L1991 1384.7 Z" fill="#fff" stroke="#111" stroke-width="1.89" stroke-linejoin="round" />
<path d="M2000.1 1383.8 L2004.7 1342 L2017.4 1343.8 L2022 1378.4 L2004.7 1384.7 Z" fill="#fff" stroke="#111" stroke-width="1.89" stroke-linejoin="round" />
<ellipse cx="2011.1" cy="1352" rx="1.3" ry="1.6" fill="none" stroke="#111" stroke-width="1.35"/>
<ellipse cx="2011.1" cy="1372" rx="1.3" ry="1.6" fill="none" stroke="#111" stroke-width="1.35"/>
<path d="M1984.7 1384.7 L1992 1382.9 L1998.3 1385.7 L1992 1387.8 Z" fill="#fff" stroke="#111" stroke-width="1.62" stroke-linejoin="round" />
<path d="M2017.4 1378.4 L2023.8 1376.6 L2030.2 1378.4 L2023.8 1381.1 Z" fill="#fff" stroke="#111" stroke-width="1.62" stroke-linejoin="round" />
<path d="M2082.9 1351.1 L2086.6 1349.3 L2090.2 1354.7 L2085.7 1407.5 L2076.6 1409.3 Z" fill="#fff" stroke="#111" stroke-width="1.89" stroke-linejoin="round" />
<path d="M2085.7 1407.5 L2091.1 1360.2 L2102.1 1360.2 L2106.6 1402 L2091.1 1408.4 Z" fill="#fff" stroke="#111" stroke-width="1.89" stroke-linejoin="round" />
<ellipse cx="2088.4" cy="1396.6" rx="1.3" ry="1.6" fill="none" stroke="#111" stroke-width="1.35"/>
<path d="M2068.4 1409.3 L2075.7 1407.5 L2082.9 1410.2 L2075.7 1412.6 Z" fill="#fff" stroke="#111" stroke-width="1.62" stroke-linejoin="round" />
<path d="M2102.1 1402.9 L2108.4 1401.1 L2114.8 1403.3 L2108.4 1405.7 Z" fill="#fff" stroke="#111" stroke-width="1.62" stroke-linejoin="round" />
<path d="M1991 1362 L1991 1368.4" fill="none" stroke="#111" stroke-width="3.4" stroke-linejoin="round" stroke-linecap="round" />
<path d="M1991 1362 L1991 1368.4" fill="none" stroke="#fff" stroke-width="1.0" stroke-linejoin="round" stroke-linecap="round" />
<path d="M1988.1 1359.3 L1994 1359.3 L1994 1362.5 L1988.1 1362.5 Z" fill="#fff" stroke="#111" stroke-width="1.62" stroke-linejoin="round" />
<path d="M2022.9 1355.6 L2022.9 1362" fill="none" stroke="#111" stroke-width="3.4" stroke-linejoin="round" stroke-linecap="round" />
<path d="M2022.9 1355.6 L2022.9 1362" fill="none" stroke="#fff" stroke-width="1.0" stroke-linejoin="round" stroke-linecap="round" />
<path d="M2020 1352.9 L2025.8 1352.9 L2025.8 1356.2 L2020 1356.2 Z" fill="#fff" stroke="#111" stroke-width="1.62" stroke-linejoin="round" />
<path d="M2075.7 1387.5 L2075.7 1393.8" fill="none" stroke="#111" stroke-width="3.4" stroke-linejoin="round" stroke-linecap="round" />
<path d="M2075.7 1387.5 L2075.7 1393.8" fill="none" stroke="#fff" stroke-width="1.0" stroke-linejoin="round" stroke-linecap="round" />
<path d="M2072.8 1384.7 L2078.6 1384.7 L2078.6 1388 L2072.8 1388 Z" fill="#fff" stroke="#111" stroke-width="1.62" stroke-linejoin="round" />
<path d="M2107.5 1380.2 L2107.5 1386.6" fill="none" stroke="#111" stroke-width="3.4" stroke-linejoin="round" stroke-linecap="round" />
<path d="M2107.5 1380.2 L2107.5 1386.6" fill="none" stroke="#fff" stroke-width="1.0" stroke-linejoin="round" stroke-linecap="round" />
<path d="M2104.6 1377.5 L2110.4 1377.5 L2110.4 1380.7 L2104.6 1380.7 Z" fill="#fff" stroke="#111" stroke-width="1.62" stroke-linejoin="round" />
<path d="M1920.9 464.5 L1927.9 460.2 L1934.9 461.1 L1942.7 471.5 L1941.9 477.6 L1935.8 481.1 L1928.8 476.7 Z" fill="#1c1c1c"/>
<path d="M1927.9 462.8 L1929.7 467.2" fill="none" stroke="#fff" stroke-width="1.2" stroke-linejoin="round" stroke-linecap="round" />
<path d="M1938.4 464.5 L1945.4 460.2 L1952.3 461.1 L1960.2 471.5 L1959.3 477.6 L1953.2 481.1 L1946.2 476.7 Z" fill="#1c1c1c"/>
<path d="M1945.4 462.8 L1947.1 467.2" fill="none" stroke="#fff" stroke-width="1.2" stroke-linejoin="round" stroke-linecap="round" />
<path d="M1995.9 442.7 L2025.6 479.4" fill="none" stroke="#111" stroke-width="5.2" stroke-linejoin="round" stroke-linecap="round" />
<path d="M1995.9 442.7 L2025.6 479.4" fill="none" stroke="#fff" stroke-width="2.8000000000000003" stroke-linejoin="round" stroke-linecap="round" />
<ellipse cx="1995.1" cy="441.9" rx="5.5" ry="4.5" fill="#fff" stroke="#111" stroke-width="2" transform="rotate(40 1995.1 441.9)"/>
<ellipse cx="2027" cy="481.1" rx="7" ry="5.5" fill="#fff" stroke="#111" stroke-width="2" transform="rotate(40 2027 481.1)"/>
<path d="M2026.5 482 L2032.6 479.4 L2033.4 485.5 L2028.2 486.3 Z" fill="#fff"/>
<path d="M2011.3 437.9 L2040.9 474.5" fill="none" stroke="#111" stroke-width="5.2" stroke-linejoin="round" stroke-linecap="round" />
<path d="M2011.3 437.9 L2040.9 474.5" fill="none" stroke="#fff" stroke-width="2.8000000000000003" stroke-linejoin="round" stroke-linecap="round" />
<ellipse cx="2010.4" cy="437" rx="5.5" ry="4.5" fill="#fff" stroke="#111" stroke-width="2" transform="rotate(40 2010.4 437)"/>
<ellipse cx="2042.3" cy="476.2" rx="7" ry="5.5" fill="#fff" stroke="#111" stroke-width="2" transform="rotate(40 2042.3 476.2)"/>
<path d="M2041.8 477.1 L2047.9 474.5 L2048.8 480.6 L2043.6 481.5 Z" fill="#fff"/>
<ellipse cx="2076.7" cy="461.4" rx="4.8" ry="3.2" fill="#fff" stroke="#111" stroke-width="1.6" transform="rotate(15 2076.7 461.4)"/>
<ellipse cx="2076.7" cy="461.4" rx="2.4" ry="1.5" fill="#fff" stroke="#111" stroke-width="1.0" transform="rotate(15 2076.7 461.4)"/>
<ellipse cx="2090.1" cy="440.5" rx="3.8" ry="3.6" fill="#fff" stroke="#111" stroke-width="2.2"/>
<ellipse cx="2090.1" cy="440.5" rx="1.4" ry="1.6" fill="#333" stroke="#111" stroke-width="1.0"/>
<ellipse cx="2095" cy="434.9" rx="3.8" ry="3.6" fill="#fff" stroke="#111" stroke-width="2.2"/>
<ellipse cx="2095" cy="434.9" rx="1.4" ry="1.6" fill="#333" stroke="#111" stroke-width="1.0"/>
<ellipse cx="2102.3" cy="442.7" rx="3.8" ry="3.6" fill="#fff" stroke="#111" stroke-width="2.2"/>
<ellipse cx="2102.3" cy="442.7" rx="1.4" ry="1.6" fill="#333" stroke="#111" stroke-width="1.0"/>
<ellipse cx="2128.5" cy="466.6" rx="5.5" ry="5" fill="#fff" stroke="#111" stroke-width="2"/>
<ellipse cx="2128.9" cy="465.6" rx="3.5" ry="2.2" fill="#fff" stroke="#111" stroke-width="1.2"/>
<path d="M2147.7 442.7 L2152.9 448.8" fill="none" stroke="#111" stroke-width="3.2" stroke-linejoin="round" stroke-linecap="round" />
<path d="M2147.7 442.7 L2152.9 448.8" fill="none" stroke="#fff" stroke-width="1.0" stroke-linejoin="round" stroke-linecap="round" />
<ellipse cx="2154.3" cy="449.7" rx="4.5" ry="4.2" fill="#fff" stroke="#111" stroke-width="2"/>
<ellipse cx="2164.3" cy="430" rx="3.6" ry="4" fill="#fff" stroke="#111" stroke-width="2"/>
<path d="M2166.9 432.3 L2181.7 449.7" fill="none" stroke="#111" stroke-width="3.6" stroke-linejoin="round" stroke-linecap="round" />
<path d="M2166.9 432.3 L2181.7 449.7" fill="none" stroke="#fff" stroke-width="1.4" stroke-linejoin="round" stroke-linecap="round" />
<ellipse cx="2186.1" cy="455.5" rx="3.6" ry="4" fill="#fff" stroke="#111" stroke-width="2"/>
<path d="M2188.7 457.6 L2204.4 475.4" fill="none" stroke="#111" stroke-width="3.6" stroke-linejoin="round" stroke-linecap="round" />
<path d="M2188.7 457.6 L2204.4 475.4" fill="none" stroke="#fff" stroke-width="1.4" stroke-linejoin="round" stroke-linecap="round" />
<path d="M2207 419.2 L2217.5 432.3" fill="none" stroke="#111" stroke-width="7.5" stroke-linejoin="round" stroke-linecap="round" />
<path d="M2207 419.2 L2217.5 432.3" fill="none" stroke="#fff" stroke-width="4.9" stroke-linejoin="round" stroke-linecap="round" />
<path d="M2219.2 434 L2246.2 465.4" fill="none" stroke="#111" stroke-width="3.8" stroke-linejoin="round" stroke-linecap="round" />
<path d="M2219.2 434 L2246.2 465.4" fill="none" stroke="#fff" stroke-width="1.5999999999999996" stroke-linejoin="round" stroke-linecap="round" />
<path d="M2218.3 474.1 L2277.6 461.6" fill="none" stroke="#111" stroke-width="4.2" stroke-linejoin="round" stroke-linecap="round" />
<path d="M2218.3 474.1 L2277.6 461.6" fill="none" stroke="#fff" stroke-width="2.0" stroke-linejoin="round" stroke-linecap="round" />
<path d="M2208.7 424.4 L2215.7 422.7" fill="none" stroke="#111" stroke-width="2.5" stroke-linejoin="round" stroke-linecap="round" />
<path d="M2275 415.7 L2281.1 412.2 L2290.7 414.8 L2292.5 419.2 L2288.1 434.9 L2280.3 438 L2271.5 434.9 L2269.8 429.7 Z" fill="#1c1c1c"/>
<ellipse cx="2283.4" cy="417.4" rx="5.5" ry="3.2" fill="#fff" stroke="#111" stroke-width="1.2" transform="rotate(15 2283.4 417.4)"/>
<path d="M2272.9 424.8 L2280.3 428.3 L2290.4 426.2" fill="none" stroke="#fff" stroke-width="5" stroke-linejoin="round" stroke-linecap="round" />
<ellipse cx="2277.6" cy="424.4" rx="1.6" ry="2.6" fill="none" stroke="#111" stroke-width="0.9"/>
<ellipse cx="2282" cy="425.5" rx="1.6" ry="2.6" fill="none" stroke="#111" stroke-width="0.9"/>
<path d="M2271.2 430 L2279.9 433.5 L2288.6 431.7" fill="none" stroke="#fff" stroke-width="1" stroke-linejoin="round" stroke-linecap="round" />
<path d="M1446 1242 L1496 1266 L1700 1234 L1718 1225 L1774 1164" fill="none" stroke="#111" stroke-width="7.5" stroke-linejoin="round" stroke-linecap="round" />
<path d="M1446 1242 L1496 1266 L1700 1234 L1718 1225 L1774 1164" fill="none" stroke="#fff" stroke-width="5.1" stroke-linejoin="round" stroke-linecap="round" />
<ellipse cx="1444.5" cy="1241" rx="2.2" ry="3.6" fill="#fff" stroke="#111" stroke-width="1.1" transform="rotate(25 1444.5 1241)"/>
<path d="M1773 1165 L1813 1129" stroke="#111" stroke-width="12" stroke-dasharray="1.3 1.7" fill="none"/>
<path d="M1773 1165 L1813 1129" stroke="#fff" stroke-width="7.5" fill="none"/>
<path d="M1773 1165 L1813 1129" stroke="#111" stroke-width="2.4" fill="none"/>
<ellipse cx="1819" cy="1123" rx="5" ry="4.6" fill="#fff" stroke="#111" stroke-width="1.6" transform="rotate(-30 1819 1123)"/>
<ellipse cx="1821" cy="1121" rx="3" ry="2.8" fill="#fff" stroke="#111" stroke-width="1.1" transform="rotate(-30 1821 1121)"/>
<ellipse cx="1798" cy="1167" rx="1.2" ry="1.2" fill="#222" stroke="#111" stroke-width="1.0"/>
<ellipse cx="1802" cy="1170" rx="1.2" ry="1.2" fill="#222" stroke="#111" stroke-width="1.0"/>
<path d="M1463 1232 q5 -6 10 -3 q6 -6 4 1 q-5 5 -10 4" fill="none" stroke="#111" stroke-width="1.1" stroke-linejoin="round" stroke-linecap="round" />
<path d="M1551.5 1109.7 L1557.7 1106.6 L1621.6 1101.9 L1624.7 1106.6 L1623.2 1111.2 L1596.7 1115.9 L1596.7 1128.4 L1593.6 1133.1 L1581.1 1131.5 L1579.5 1117.5 L1553 1122.2 Z" fill="#fff" stroke="#111" stroke-width="1.89" stroke-linejoin="round" />
<path d="M1553 1114.4 L1579.5 1109.7 L1579.5 1117.5" fill="none" stroke="#111" stroke-width="1.35" stroke-linejoin="round" />
<path d="M1579.5 1109.7 L1596.7 1106.6" fill="none" stroke="#111" stroke-width="1.35" stroke-linejoin="round" />
<path d="M1581.1 1131.5 L1582.6 1120.6 L1596.7 1117.5" fill="none" stroke="#111" stroke-width="1.35" stroke-linejoin="round" />
<ellipse cx="1578" cy="1106.6" rx="0.9" ry="0.6" fill="none" stroke="#111" stroke-width="1.35"/>
<ellipse cx="1599.8" cy="1104.1" rx="0.9" ry="0.6" fill="none" stroke="#111" stroke-width="1.35"/>
<ellipse cx="1609.1" cy="1103.4" rx="2.2" ry="1.1" fill="none" stroke="#111" stroke-width="1.35"/>
<path d="M1569.2 1066 L1569.2 1095.7" fill="none" stroke="#111" stroke-width="3.4" stroke-linejoin="round" stroke-linecap="round" />
<path d="M1569.2 1066 L1569.2 1095.7" fill="none" stroke="#fff" stroke-width="1.4" stroke-linejoin="round" stroke-linecap="round" />
<path d="M1582.6 1069.1 L1582.6 1098.8" fill="none" stroke="#111" stroke-width="3.4" stroke-linejoin="round" stroke-linecap="round" />
<path d="M1582.6 1069.1 L1582.6 1098.8" fill="none" stroke="#fff" stroke-width="1.4" stroke-linejoin="round" stroke-linecap="round" />
<ellipse cx="1569.2" cy="1063.5" rx="3.4" ry="2.4" fill="#fff" stroke="#111" stroke-width="1.4"/>
<ellipse cx="1582.6" cy="1066.7" rx="3.4" ry="2.4" fill="#fff" stroke="#111" stroke-width="1.4"/>
<ellipse cx="1570.2" cy="1139.3" rx="3.4" ry="3" fill="#fff" stroke="#111" stroke-width="1.6"/>
<ellipse cx="1582.6" cy="1142.4" rx="3.4" ry="3" fill="#fff" stroke="#111" stroke-width="1.6"/>
<path d="M1391.5 969.9 L1392.3 966.5 L1404.8 956.5 L1411.4 948.2 L1419.8 945.7 L1428.1 947.4 L1433.1 954.1 L1435.6 961.5 L1441.4 963.2 L1441.4 966.5 L1429.7 969 L1424.7 961.5 L1418.1 958.2 L1411.4 962.4 L1408.1 969 L1394.8 973.2 Z" fill="#fff" stroke="#111" stroke-width="1.89" stroke-linejoin="round" />
<path d="M1404.8 956.5 L1411.4 954.9 L1418.1 958.2" fill="none" stroke="#111" stroke-width="1.35" stroke-linejoin="round" />
<path d="M1411.4 948.2 L1414.8 951.6 L1424.7 961.5" fill="none" stroke="#111" stroke-width="1.35" stroke-linejoin="round" />
<path d="M1392.3 966.5 L1408.1 964.9" fill="none" stroke="#111" stroke-width="1.35" stroke-linejoin="round" />
<path d="M1390.6 994.8 L1391.5 991.5 L1404 981.5 L1410.6 973.2 L1418.9 970.7 L1427.2 972.3 L1432.2 979 L1434.7 986.5 L1440.5 988.1 L1440.5 991.5 L1428.9 994 L1423.9 986.5 L1417.3 983.2 L1410.6 987.3 L1407.3 994 L1394 998.1 Z" fill="#fff" stroke="#111" stroke-width="1.89" stroke-linejoin="round" />
<path d="M1404 981.5 L1410.6 979.8 L1417.3 983.2" fill="none" stroke="#111" stroke-width="1.35" stroke-linejoin="round" />
<path d="M1410.6 973.2 L1413.9 976.5 L1423.9 986.5" fill="none" stroke="#111" stroke-width="1.35" stroke-linejoin="round" />
<path d="M1391.5 991.5 L1407.3 989.8" fill="none" stroke="#111" stroke-width="1.35" stroke-linejoin="round" />
<path d="M1389.8 1004 L1393.1 1001.5 L1438 994.8 L1441.4 997.3 L1438.9 999.8 L1394 1006.4 Z" fill="#fff" stroke="#111" stroke-width="1.89" stroke-linejoin="round" />
<path d="M1399.8 1000.6 L1404.8 1003.1 L1411.4 1002.3 L1406.4 999.5" fill="none" stroke="#111" stroke-width="1.35" stroke-linejoin="round" />
<path d="M1414.8 998.1 L1419.8 1000.6 L1428.1 999 L1423.1 996.5" fill="none" stroke="#111" stroke-width="1.35" stroke-linejoin="round" />
<path d="M1474.6 976.5 L1475.5 973.2 L1487.9 963.2 L1494.6 954.9 L1502.9 952.4 L1511.2 954.1 L1516.2 960.7 L1518.7 968.2 L1524.5 969.9 L1524.5 973.2 L1512.9 975.7 L1507.9 968.2 L1501.2 964.9 L1494.6 969 L1491.3 975.7 L1478 979.8 Z" fill="#fff" stroke="#111" stroke-width="1.89" stroke-linejoin="round" />
<path d="M1487.9 963.2 L1494.6 961.5 L1501.2 964.9" fill="none" stroke="#111" stroke-width="1.35" stroke-linejoin="round" />
<path d="M1494.6 954.9 L1497.9 958.2 L1507.9 968.2" fill="none" stroke="#111" stroke-width="1.35" stroke-linejoin="round" />
<path d="M1475.5 973.2 L1491.3 971.5" fill="none" stroke="#111" stroke-width="1.35" stroke-linejoin="round" />
<path d="M1475.5 998.1 L1476.3 994.8 L1488.8 984.8 L1495.4 976.5 L1503.7 974 L1512.1 975.7 L1517 982.3 L1519.5 989.8 L1525.4 991.5 L1525.4 994.8 L1513.7 997.3 L1508.7 989.8 L1502.1 986.5 L1495.4 990.6 L1492.1 997.3 L1478.8 1001.5 Z" fill="#fff" stroke="#111" stroke-width="1.89" stroke-linejoin="round" />
<path d="M1488.8 984.8 L1495.4 983.2 L1502.1 986.5" fill="none" stroke="#111" stroke-width="1.35" stroke-linejoin="round" />
<path d="M1495.4 976.5 L1498.8 979.8 L1508.7 989.8" fill="none" stroke="#111" stroke-width="1.35" stroke-linejoin="round" />
<path d="M1476.3 994.8 L1492.1 993.1" fill="none" stroke="#111" stroke-width="1.35" stroke-linejoin="round" />
<path d="M1473.8 1005.6 L1477.1 1003.1 L1522 996.5 L1525.4 999 L1522.9 1001.5 L1478 1008.1 Z" fill="#fff" stroke="#111" stroke-width="1.89" stroke-linejoin="round" />
<path d="M1483.8 1002.3 L1488.8 1004.8 L1495.4 1004 L1490.4 1001.1" fill="none" stroke="#111" stroke-width="1.35" stroke-linejoin="round" />
<path d="M1498.8 999.8 L1503.7 1002.3 L1512.1 1000.6 L1507.1 998.1" fill="none" stroke="#111" stroke-width="1.35" stroke-linejoin="round" />
<line x1="1395.6" y1="951.6" x2="1395.6" y2="957.8" stroke="#111" stroke-width="2.3"/>
<line x1="1395.6" y1="951.6" x2="1395.6" y2="957.3" stroke="#fff" stroke-width="0.7"/>
<ellipse cx="1395.6" cy="951.6" rx="2" ry="2.6" fill="#fff" stroke="#111" stroke-width="1.1" transform="rotate(90 1395.6 951.6)"/>
<ellipse cx="1395.6" cy="950.8" rx="0.8" ry="1.2" fill="#111" stroke="#111" stroke-width="0.5" transform="rotate(90 1395.6 950.8)"/>
<line x1="1433.1" y1="944.1" x2="1433.1" y2="950.3" stroke="#111" stroke-width="2.3"/>
<line x1="1433.1" y1="944.1" x2="1433.1" y2="949.8" stroke="#fff" stroke-width="0.7"/>
<ellipse cx="1433.1" cy="944.1" rx="2" ry="2.6" fill="#fff" stroke="#111" stroke-width="1.1" transform="rotate(90 1433.1 944.1)"/>
<ellipse cx="1433.1" cy="943.3" rx="0.8" ry="1.2" fill="#111" stroke="#111" stroke-width="0.5" transform="rotate(90 1433.1 943.3)"/>
<line x1="1479.6" y1="951.6" x2="1479.6" y2="957.8" stroke="#111" stroke-width="2.3"/>
<line x1="1479.6" y1="951.6" x2="1479.6" y2="957.3" stroke="#fff" stroke-width="0.7"/>
<ellipse cx="1479.6" cy="951.6" rx="2" ry="2.6" fill="#fff" stroke="#111" stroke-width="1.1" transform="rotate(90 1479.6 951.6)"/>
<ellipse cx="1479.6" cy="950.8" rx="0.8" ry="1.2" fill="#111" stroke="#111" stroke-width="0.5" transform="rotate(90 1479.6 950.8)"/>
<line x1="1517" y1="944.9" x2="1517" y2="951.1" stroke="#111" stroke-width="2.3"/>
<line x1="1517" y1="944.9" x2="1517" y2="950.6" stroke="#fff" stroke-width="0.7"/>
<ellipse cx="1517" cy="944.9" rx="2" ry="2.6" fill="#fff" stroke="#111" stroke-width="1.1" transform="rotate(90 1517 944.9)"/>
<ellipse cx="1517" cy="944.1" rx="0.8" ry="1.2" fill="#111" stroke="#111" stroke-width="0.5" transform="rotate(90 1517 944.1)"/>
<ellipse cx="1428.1" cy="1004.8" rx="3.6" ry="3.4" fill="#fff" stroke="#111" stroke-width="1.7"/>
<ellipse cx="1428.1" cy="1004.1" rx="2.4" ry="1.4" fill="#fff" stroke="#111" stroke-width="1"/>
<ellipse cx="1443" cy="1008.9" rx="3.6" ry="3.4" fill="#fff" stroke="#111" stroke-width="1.7"/>
<ellipse cx="1443" cy="1008.3" rx="2.4" ry="1.4" fill="#fff" stroke="#111" stroke-width="1"/>
<ellipse cx="1452.2" cy="999.8" rx="3.6" ry="3.4" fill="#fff" stroke="#111" stroke-width="1.7"/>
<ellipse cx="1452.2" cy="999.1" rx="2.4" ry="1.4" fill="#fff" stroke="#111" stroke-width="1"/>
<ellipse cx="1466.3" cy="1004.4" rx="3.6" ry="3.4" fill="#fff" stroke="#111" stroke-width="1.7"/>
<ellipse cx="1466.3" cy="1003.8" rx="2.4" ry="1.4" fill="#fff" stroke="#111" stroke-width="1"/>
<ellipse cx="1404" cy="1087.6" rx="3.6" ry="3.4" fill="#fff" stroke="#111" stroke-width="1.7"/>
<ellipse cx="1404" cy="1086.9" rx="2.4" ry="1.4" fill="#fff" stroke="#111" stroke-width="1"/>
<path d="M1579 921 L1641 911" fill="none" stroke="#111" stroke-width="2.2" stroke-linejoin="round" stroke-linecap="round" />
<path d="M1616 921 L1668 937" fill="none" stroke="#111" stroke-width="2.2" stroke-linejoin="round" stroke-linecap="round" />
<path d="M1296 700 L1222 950" fill="none" stroke="#111" stroke-width="7" stroke-linejoin="round" stroke-linecap="round" />
<path d="M1296 700 L1222 950" fill="none" stroke="#fff" stroke-width="4.6" stroke-linejoin="round" stroke-linecap="round" />
<path d="M1301 680 L1296 700" fill="none" stroke="#111" stroke-width="4" stroke-linejoin="round" stroke-linecap="round" />
<path d="M1301 680 L1296 700" fill="none" stroke="#fff" stroke-width="2.0" stroke-linejoin="round" stroke-linecap="round" />
<path d="M1299 690 L1296 701" fill="none" stroke="#111" stroke-width="4.5" stroke-linejoin="round" stroke-linecap="round" stroke-dasharray="1 1"/>
<ellipse cx="1223" cy="1412" rx="0.1" ry="0.1" fill="none" stroke="#111" stroke-width="1.0"/>
<line x1="1544" y1="494" x2="1544" y2="499.8" stroke="#111" stroke-width="2.2"/>
<line x1="1544" y1="494" x2="1544" y2="499.3" stroke="#fff" stroke-width="0.6"/>
<ellipse cx="1544" cy="494" rx="1.8" ry="2.4" fill="#fff" stroke="#111" stroke-width="1.1" transform="rotate(90 1544 494)"/>
<ellipse cx="1544" cy="493.2" rx="0.7" ry="1.1" fill="#111" stroke="#111" stroke-width="0.5" transform="rotate(90 1544 493.2)"/>
<ellipse cx="1543" cy="508.5" rx="4.2" ry="1.7" fill="#fff" stroke="#111" stroke-width="1.2"/>
<line x1="1641" y1="514" x2="1641" y2="519.8" stroke="#111" stroke-width="2.2"/>
<line x1="1641" y1="514" x2="1641" y2="519.3" stroke="#fff" stroke-width="0.6"/>
<ellipse cx="1641" cy="514" rx="1.8" ry="2.4" fill="#fff" stroke="#111" stroke-width="1.1" transform="rotate(90 1641 514)"/>
<ellipse cx="1641" cy="513.2" rx="0.7" ry="1.1" fill="#111" stroke="#111" stroke-width="0.5" transform="rotate(90 1641 513.2)"/>
<ellipse cx="1641" cy="538.5" rx="4.2" ry="1.7" fill="#333" stroke="#111" stroke-width="1.0"/>
<path d="M1676 1505 L1718 1485" fill="none" stroke="#111" stroke-width="3.6" stroke-linejoin="round" stroke-linecap="round" />
<path d="M1676 1505 L1718 1485" fill="none" stroke="#fff" stroke-width="1.6" stroke-linejoin="round" stroke-linecap="round" />
<ellipse cx="1672" cy="1507.5" rx="3.5" ry="2.8" fill="#fff" stroke="#111" stroke-width="1.3" transform="rotate(-25 1672 1507.5)"/>
<path d="M1654 1550 L1683 1539" fill="none" stroke="#111" stroke-width="6" stroke-linejoin="round" stroke-linecap="round" stroke-dasharray="1.5 0.7"/>
<ellipse cx="1691.5" cy="1534" rx="2" ry="2.8" fill="#fff" stroke="#111" stroke-width="1.2" transform="rotate(-20 1691.5 1534)"/>
<ellipse cx="1459" cy="1525.6" rx="1.6" ry="1.3" fill="#222" stroke="#111" stroke-width="1.0"/>
<ellipse cx="1467" cy="1527" rx="1.6" ry="1.3" fill="#222" stroke="#111" stroke-width="1.0"/>
<ellipse cx="1456" cy="1539" rx="1.6" ry="1.3" fill="#222" stroke="#111" stroke-width="1.0"/>
<path d="M1105 946.7 L1121 939.9 L1169 939.9 L1171.3 933 L1207.8 928.5 L1210.1 937.6 L1262.7 960.4 L1292.3 951.3 L1299.2 955.9 L1262.7 971.9 L1214.7 981 L1217 994.7 L1198.7 1001.6 L1185 994.7 L1180.4 983.3 L1143.9 981 L1137 971.9 L1123.3 953.6 Z" fill="#fff" stroke="#111" stroke-width="1.7550000000000001" stroke-linejoin="round" />
<g transform="translate(1.9,1.5)" opacity="0.75">
<path d="M1123.3 953.6 L1187.3 939.9 L1262.7 962.7 L1189.6 981 L1123.3 953.6" fill="none" stroke="#111" stroke-width="0.95" stroke-linejoin="round" />
<path d="M1130.2 955.9 L1187.3 945.4 L1253.5 963.6 L1189.6 976.4 L1130.2 955.9" fill="none" stroke="#111" stroke-width="0.95" stroke-linejoin="round" />
<path d="M1187.3 939.9 L1189.6 981" fill="none" stroke="#111" stroke-width="0.95" stroke-linejoin="round" />
<path d="M1143.9 960.4 L1226.1 967.3" fill="none" stroke="#111" stroke-width="0.95" stroke-linejoin="round" />
<path d="M1157.6 949 L1212.4 974.2" fill="none" stroke="#111" stroke-width="0.95" stroke-linejoin="round" />
<path d="M1137 971.9 L1185 983.3" fill="none" stroke="#111" stroke-width="0.95" stroke-linejoin="round" />
<path d="M1185 994.7 L1189.6 981" fill="none" stroke="#111" stroke-width="0.95" stroke-linejoin="round" />
</g>
<path d="M1123.3 953.6 L1187.3 939.9 L1262.7 962.7 L1189.6 981 L1123.3 953.6" fill="none" stroke="#111" stroke-width="1.215" stroke-linejoin="round" />
<path d="M1130.2 955.9 L1187.3 945.4 L1253.5 963.6 L1189.6 976.4 L1130.2 955.9" fill="none" stroke="#111" stroke-width="1.215" stroke-linejoin="round" />
<path d="M1187.3 939.9 L1189.6 981" fill="none" stroke="#111" stroke-width="1.215" stroke-linejoin="round" />
<path d="M1143.9 960.4 L1226.1 967.3" fill="none" stroke="#111" stroke-width="1.215" stroke-linejoin="round" />
<path d="M1157.6 949 L1212.4 974.2" fill="none" stroke="#111" stroke-width="1.215" stroke-linejoin="round" />
<path d="M1137 971.9 L1185 983.3" fill="none" stroke="#111" stroke-width="1.215" stroke-linejoin="round" />
<path d="M1185 994.7 L1189.6 981" fill="none" stroke="#111" stroke-width="1.215" stroke-linejoin="round" />
<line x1="1111.9" y1="925.3" x2="1111.9" y2="931.5" stroke="#111" stroke-width="2.3"/>
<line x1="1111.9" y1="925.3" x2="1111.9" y2="931" stroke="#fff" stroke-width="0.7"/>
<ellipse cx="1111.9" cy="925.3" rx="2" ry="2.6" fill="#fff" stroke="#111" stroke-width="1.1" transform="rotate(90 1111.9 925.3)"/>
<ellipse cx="1111.9" cy="924.5" rx="0.8" ry="1.2" fill="#111" stroke="#111" stroke-width="0.5" transform="rotate(90 1111.9 924.5)"/>
<line x1="1221.5" y1="922.5" x2="1221.5" y2="927.3" stroke="#111" stroke-width="1.8"/>
<line x1="1221.5" y1="922.5" x2="1221.5" y2="926.9" stroke="#fff" stroke-width="0.2"/>
<ellipse cx="1221.5" cy="922.5" rx="1.5" ry="2" fill="#fff" stroke="#111" stroke-width="1.1" transform="rotate(90 1221.5 922.5)"/>
<ellipse cx="1221.5" cy="921.7" rx="0.6" ry="0.9" fill="#111" stroke="#111" stroke-width="0.5" transform="rotate(90 1221.5 921.7)"/>
<ellipse cx="1146.2" cy="977.4" rx="3" ry="2.5" fill="#fff" stroke="#111" stroke-width="1.3"/>
<ellipse cx="1159.9" cy="981" rx="2" ry="1.6" fill="#fff" stroke="#111" stroke-width="1.1"/>
<line x1="666" y1="562" x2="672" y2="560.4" stroke="#111" stroke-width="2.3"/>
<line x1="666" y1="562" x2="671.5" y2="560.5" stroke="#fff" stroke-width="0.7"/>
<ellipse cx="666" cy="562" rx="2" ry="2.6" fill="#fff" stroke="#111" stroke-width="1.1" transform="rotate(-15 666 562)"/>
<ellipse cx="665.2" cy="562.2" rx="0.8" ry="1.2" fill="#111" stroke="#111" stroke-width="0.5" transform="rotate(-15 665.2 562.2)"/>
<line x1="547" y1="633" x2="553" y2="631.4" stroke="#111" stroke-width="2.3"/>
<line x1="547" y1="633" x2="552.5" y2="631.5" stroke="#fff" stroke-width="0.7"/>
<ellipse cx="547" cy="633" rx="2" ry="2.6" fill="#fff" stroke="#111" stroke-width="1.1" transform="rotate(-15 547 633)"/>
<ellipse cx="546.2" cy="633.2" rx="0.8" ry="1.2" fill="#111" stroke="#111" stroke-width="0.5" transform="rotate(-15 546.2 633.2)"/>
<line x1="910" y1="780.5" x2="903.9" y2="781.6" stroke="#111" stroke-width="2.3"/>
<line x1="910" y1="780.5" x2="904.4" y2="781.5" stroke="#fff" stroke-width="0.7"/>
<ellipse cx="910" cy="780.5" rx="2" ry="2.6" fill="#fff" stroke="#111" stroke-width="1.1" transform="rotate(170 910 780.5)"/>
<ellipse cx="910.8" cy="780.4" rx="0.8" ry="1.2" fill="#111" stroke="#111" stroke-width="0.5" transform="rotate(170 910.8 780.4)"/>
<path d="M921 608 l9 3" fill="none" stroke="#111" stroke-width="2.6" stroke-linejoin="round" stroke-linecap="round" />
<path d="M560 821 l9 3" fill="none" stroke="#111" stroke-width="3" stroke-linejoin="round" stroke-linecap="round" />
<path d="M576 703 L609 713" fill="none" stroke="#111" stroke-width="3.4" stroke-linejoin="round" stroke-linecap="round" />
<path d="M601 720 L601 794" fill="none" stroke="#111" stroke-width="2.8" stroke-linejoin="round" stroke-linecap="round" />
<path d="M586 736 L660 760" fill="none" stroke="#111" stroke-width="2.0" stroke-linejoin="round" stroke-linecap="round" />
<path d="M586 770 L625 782" fill="none" stroke="#111" stroke-width="2.0" stroke-linejoin="round" stroke-linecap="round" />
<defs>
<pattern id="xh" width="9" height="9" patternUnits="userSpaceOnUse" patternTransform="rotate(38) skewX(-18)">
<rect width="9" height="9" fill="#fff"/><path d="M0 0.7H9M0.7 0V9" stroke="#111" stroke-width="1.5"/><path d="M3 4.5H6" stroke="#111" stroke-width="0.8"/></pattern>
<pattern id="zz" width="7" height="4.6" patternUnits="userSpaceOnUse" patternTransform="rotate(-8)">
<rect width="7" height="4.6" fill="#fff"/><path d="M0 1.2H3.5L4.5 3.2H7M0 3.5H1.5M5.5 1.0H7" stroke="#111" stroke-width="2.1" fill="none"/></pattern>
</defs>
<ellipse cx="1606" cy="1406" rx="107" ry="109" fill="url(#xh)" stroke="#111" stroke-width="1.6"/>
<ellipse cx="1645.8" cy="1409" rx="67.5" ry="99" fill="#fff" stroke="#111" stroke-width="1.2" transform="rotate(6 1645.8 1409)"/>
<ellipse cx="1645.8" cy="1409" rx="62.5" ry="94" fill="none" stroke="#111" stroke-width="10" stroke-dasharray="1.2 3.4" transform="rotate(6 1645.8 1409)"/>
<ellipse cx="1631" cy="1413" rx="40" ry="51" fill="#fff" stroke="#111" stroke-width="2.0" transform="rotate(10 1631 1413)"/>
<ellipse cx="1632" cy="1413" rx="36.8" ry="47.4" fill="none" stroke="#111" stroke-width="1.0" transform="rotate(10 1632 1413)"/>
<ellipse cx="1633" cy="1413" rx="32" ry="42.8" fill="none" stroke="#111" stroke-width="2.4" transform="rotate(10 1633 1413)"/>
<ellipse cx="1629" cy="1413" rx="26.4" ry="36.7" fill="none" stroke="#111" stroke-width="1.0" transform="rotate(10 1629 1413)"/>
<ellipse cx="1626" cy="1413" rx="20" ry="30.6" fill="none" stroke="#111" stroke-width="1.0" transform="rotate(10 1626 1413)"/>
<ellipse cx="2074.6" cy="1552.6" rx="106" ry="108" fill="url(#xh)" stroke="#111" stroke-width="1.6"/>
<ellipse cx="2114" cy="1556" rx="66.6" ry="101.5" fill="#fff" stroke="#111" stroke-width="1.2" transform="rotate(6 2114 1556)"/>
<ellipse cx="2114" cy="1556" rx="61.6" ry="96.5" fill="none" stroke="#111" stroke-width="10" stroke-dasharray="1.2 3.4" transform="rotate(6 2114 1556)"/>
<ellipse cx="2101" cy="1560" rx="40" ry="50" fill="#fff" stroke="#111" stroke-width="2.0" transform="rotate(13 2101 1560)"/>
<ellipse cx="2102" cy="1560" rx="36.8" ry="46.5" fill="none" stroke="#111" stroke-width="1.0" transform="rotate(13 2102 1560)"/>
<ellipse cx="2103" cy="1560" rx="32" ry="42" fill="none" stroke="#111" stroke-width="2.4" transform="rotate(13 2103 1560)"/>
<ellipse cx="2099" cy="1560" rx="26.4" ry="36" fill="none" stroke="#111" stroke-width="1.0" transform="rotate(13 2099 1560)"/>
<ellipse cx="2096" cy="1560" rx="20" ry="30" fill="none" stroke="#111" stroke-width="1.0" transform="rotate(13 2096 1560)"/>
<ellipse cx="704" cy="1577" rx="77" ry="80" fill="url(#zz)" stroke="#111" stroke-width="1.6"/>
<ellipse cx="730" cy="1579" rx="50" ry="74" fill="#fff" stroke="#111" stroke-width="1.2" transform="rotate(8 730 1579)"/>
<ellipse cx="730" cy="1579" rx="43.5" ry="67.5" fill="none" stroke="#111" stroke-width="13" stroke-dasharray="2.2 1.6" transform="rotate(8 730 1579)"/>
<ellipse cx="720.3" cy="1580.4" rx="29.6" ry="37.4" fill="#fff" stroke="#111" stroke-width="2.6" transform="rotate(12 720.3 1580.4)"/>
<ellipse cx="721.3" cy="1580.4" rx="25.5" ry="32.9" fill="none" stroke="#111" stroke-width="1.0" transform="rotate(12 721.3 1580.4)"/>
<ellipse cx="718.3" cy="1580.4" rx="21.3" ry="28.4" fill="none" stroke="#111" stroke-width="2.2" transform="rotate(12 718.3 1580.4)"/>
<ellipse cx="717.3" cy="1580.4" rx="17.2" ry="23.2" fill="none" stroke="#111" stroke-width="1.0" transform="rotate(12 717.3 1580.4)"/>
<ellipse cx="715.3" cy="1578.4" rx="10.7" ry="13.5" fill="#222" stroke="#111" stroke-width="1.0" transform="rotate(12 715.3 1578.4)"/>
<ellipse cx="715.3" cy="1578.4" rx="4.7" ry="6" fill="#fff" stroke="#111" stroke-width="1.0" transform="rotate(12 715.3 1578.4)"/>
<ellipse cx="1167.8" cy="1745.3" rx="76.8" ry="81" fill="url(#zz)" stroke="#111" stroke-width="1.6"/>
<ellipse cx="1194" cy="1747.5" rx="50" ry="75" fill="#fff" stroke="#111" stroke-width="1.2" transform="rotate(8 1194 1747.5)"/>
<ellipse cx="1194" cy="1747.5" rx="43.5" ry="68.5" fill="none" stroke="#111" stroke-width="13" stroke-dasharray="2.2 1.6" transform="rotate(8 1194 1747.5)"/>
<ellipse cx="1185" cy="1751" rx="30" ry="37" fill="#fff" stroke="#111" stroke-width="2.6" transform="rotate(12 1185 1751)"/>
<ellipse cx="1186" cy="1751" rx="25.8" ry="32.6" fill="none" stroke="#111" stroke-width="1.0" transform="rotate(12 1186 1751)"/>
<ellipse cx="1183" cy="1751" rx="21.6" ry="28.1" fill="none" stroke="#111" stroke-width="2.2" transform="rotate(12 1183 1751)"/>
<ellipse cx="1182" cy="1751" rx="17.4" ry="22.9" fill="none" stroke="#111" stroke-width="1.0" transform="rotate(12 1182 1751)"/>
<ellipse cx="1180" cy="1749" rx="10.8" ry="13.3" fill="#222" stroke="#111" stroke-width="1.0" transform="rotate(12 1180 1749)"/>
<ellipse cx="1180" cy="1749" rx="4.8" ry="5.9" fill="#fff" stroke="#111" stroke-width="1.0" transform="rotate(12 1180 1749)"/>
<path d="M1594 1354 L1594 1397 Q1607 1403 1620 1397 L1620 1354 Z" fill="#fff" stroke="#111" stroke-width="1.3"/>
<ellipse cx="1607" cy="1354" rx="13" ry="3.5" fill="#fff" stroke="#111" stroke-width="1.2"/>
<ellipse cx="1629" cy="1403" rx="4" ry="5.5" fill="#fff" stroke="#111" stroke-width="2"/>
<ellipse cx="1611" cy="1429" rx="4" ry="5.5" fill="#fff" stroke="#111" stroke-width="2"/>
<path d="M1599 1402 L1608 1418 L1617 1400" fill="none" stroke="#111" stroke-width="1.4"/>
<ellipse cx="2086" cy="1545" rx="4.5" ry="6" fill="#333" stroke="#111" stroke-width="1.2"/>
<ellipse cx="2071" cy="1571" rx="4.5" ry="6" fill="#fff" stroke="#111" stroke-width="2"/>
<path d="M2076 1535 Q2098 1560 2074 1585" fill="none" stroke="#111" stroke-width="1.2"/>
<ellipse cx="1250.3" cy="1777" rx="5.5" ry="8" fill="#fff" stroke="#111" stroke-width="1.3" transform="rotate(10 1250.3 1777)"/>
<ellipse cx="1250.3" cy="1777" rx="2.5" ry="4" fill="#fff" stroke="#111" stroke-width="1.1" transform="rotate(10 1250.3 1777)"/>
<ellipse cx="1268" cy="1784.6" rx="5.5" ry="6" fill="#fff" stroke="#111" stroke-width="1.5"/>
<ellipse cx="1269.5" cy="1785" rx="2.6" ry="3.2" fill="#fff" stroke="#111" stroke-width="1.2"/>
<ellipse cx="583.7" cy="1546.8" rx="5.5" ry="6" fill="#fff" stroke="#111" stroke-width="1.5"/>
<ellipse cx="584.5" cy="1547" rx="2.4" ry="3" fill="#fff" stroke="#111" stroke-width="1.2"/>
<ellipse cx="605.9" cy="1550.8" rx="5.5" ry="8" fill="#fff" stroke="#111" stroke-width="1.3" transform="rotate(10 605.9 1550.8)"/>
<ellipse cx="605.9" cy="1550.8" rx="2.5" ry="4" fill="#fff" stroke="#111" stroke-width="1.1" transform="rotate(10 605.9 1550.8)"/>
<ellipse cx="2202" cy="1582.6" rx="5.6" ry="5.8" fill="#222" stroke="#111" stroke-width="1"/>
<ellipse cx="2200.5" cy="1581.6" rx="2" ry="2.4" fill="#aaa" stroke="#111" stroke-width="0.3"/>
<ellipse cx="2220" cy="1598" rx="5.6" ry="5.8" fill="#222" stroke="#111" stroke-width="1"/>
<ellipse cx="2218.5" cy="1597" rx="2" ry="2.4" fill="#aaa" stroke="#111" stroke-width="0.3"/>
<ellipse cx="2186" cy="1607.8" rx="5.6" ry="5.8" fill="#222" stroke="#111" stroke-width="1"/>
<ellipse cx="2184.5" cy="1606.8" rx="2" ry="2.4" fill="#aaa" stroke="#111" stroke-width="0.3"/>
<ellipse cx="2204.8" cy="1624" rx="5.6" ry="5.8" fill="#222" stroke="#111" stroke-width="1"/>
<ellipse cx="2203.3" cy="1623" rx="2" ry="2.4" fill="#aaa" stroke="#111" stroke-width="0.3"/>
<ellipse cx="1474.7" cy="1346.5" rx="5.6" ry="5.8" fill="#fff" stroke="#111" stroke-width="1.4"/>
<ellipse cx="1476.7" cy="1347.5" rx="2.6" ry="3.2" fill="#222" stroke="#111" stroke-width="0.5"/>
<ellipse cx="1492" cy="1363.6" rx="5.6" ry="5.8" fill="#fff" stroke="#111" stroke-width="1.4"/>
<ellipse cx="1494" cy="1364.6" rx="2.6" ry="3.2" fill="#222" stroke="#111" stroke-width="0.5"/>
<ellipse cx="1458.4" cy="1371.8" rx="5.6" ry="5.8" fill="#fff" stroke="#111" stroke-width="1.4"/>
<ellipse cx="1460.4" cy="1372.8" rx="2.6" ry="3.2" fill="#222" stroke="#111" stroke-width="0.5"/>
<ellipse cx="1476" cy="1388" rx="5.6" ry="5.8" fill="#fff" stroke="#111" stroke-width="1.4"/>
<ellipse cx="1478" cy="1389" rx="2.6" ry="3.2" fill="#222" stroke="#111" stroke-width="0.5"/>
<path d="M1858.9 1481.4 L1914.7 1499.1" fill="none" stroke="#111" stroke-width="22" stroke-linejoin="round" stroke-linecap="round" />
<path d="M1858.9 1481.4 L1914.7 1499.1" fill="none" stroke="#fff" stroke-width="19.4" stroke-linejoin="round" stroke-linecap="round" />
<path d="M1784.6 1452.6 L1798.1 1437.4 L1816.7 1439.1 L1818.4 1447.6 L1830.2 1447.6 L1860.6 1447.6 L1864 1454.3 L1858.9 1467.9 L1869.1 1467.9 L1880.9 1462.8 L1901.2 1464.5 L1901.2 1478 L1877.5 1481.4 L1869.1 1474.6 L1860.6 1488.1 L1855.6 1494.9 L1852.2 1501.6 L1830.2 1505 L1821.8 1506.7 L1794.7 1498.3 L1784.6 1481.4 Z" fill="#fff" stroke="#111" stroke-width="2.0250000000000004" stroke-linejoin="round" />
<g transform="translate(1.9,1.5)" opacity="0.75">
<path d="M1798.1 1437.4 L1799.8 1447.6 L1818.4 1447.6" fill="none" stroke="#111" stroke-width="0.95" stroke-linejoin="round" />
<path d="M1799.8 1447.6 L1791.4 1459.4 L1794.7 1498.3" fill="none" stroke="#111" stroke-width="0.95" stroke-linejoin="round" />
<path d="M1818.4 1447.6 L1813.3 1459.4 L1842.1 1459.4 L1852.2 1452.6 L1860.6 1447.6" fill="none" stroke="#111" stroke-width="0.95" stroke-linejoin="round" />
<path d="M1813.3 1459.4 L1808.3 1474.6 L1811.6 1494.9 L1830.2 1505" fill="none" stroke="#111" stroke-width="0.95" stroke-linejoin="round" />
<path d="M1842.1 1459.4 L1845.4 1474.6 L1848.8 1498.3" fill="none" stroke="#111" stroke-width="0.95" stroke-linejoin="round" />
<path d="M1830.2 1447.6 L1835.3 1454.3 L1852.2 1452.6" fill="none" stroke="#111" stroke-width="0.95" stroke-linejoin="round" />
<path d="M1869.1 1467.9 L1865.7 1474.6 L1875.8 1481.4" fill="none" stroke="#111" stroke-width="0.95" stroke-linejoin="round" />
<path d="M1880.9 1462.8 L1880.9 1467.9 L1901.2 1469.5" fill="none" stroke="#111" stroke-width="0.95" stroke-linejoin="round" />
<path d="M1791.4 1481.4 L1808.3 1488.1" fill="none" stroke="#111" stroke-width="0.95" stroke-linejoin="round" />
<path d="M1821.8 1464.5 L1838.7 1467.9" fill="none" stroke="#111" stroke-width="0.95" stroke-linejoin="round" />
<path d="M1798.1 1461.1 L1808.3 1464.5" fill="none" stroke="#111" stroke-width="0.95" stroke-linejoin="round" />
<path d="M1801.5 1474.6 L1808.3 1476.3" fill="none" stroke="#111" stroke-width="0.95" stroke-linejoin="round" />
</g>
<path d="M1798.1 1437.4 L1799.8 1447.6 L1818.4 1447.6" fill="none" stroke="#111" stroke-width="1.4850000000000003" stroke-linejoin="round" />
<path d="M1799.8 1447.6 L1791.4 1459.4 L1794.7 1498.3" fill="none" stroke="#111" stroke-width="1.4850000000000003" stroke-linejoin="round" />
<path d="M1818.4 1447.6 L1813.3 1459.4 L1842.1 1459.4 L1852.2 1452.6 L1860.6 1447.6" fill="none" stroke="#111" stroke-width="1.4850000000000003" stroke-linejoin="round" />
<path d="M1813.3 1459.4 L1808.3 1474.6 L1811.6 1494.9 L1830.2 1505" fill="none" stroke="#111" stroke-width="1.4850000000000003" stroke-linejoin="round" />
<path d="M1842.1 1459.4 L1845.4 1474.6 L1848.8 1498.3" fill="none" stroke="#111" stroke-width="1.4850000000000003" stroke-linejoin="round" />
<path d="M1830.2 1447.6 L1835.3 1454.3 L1852.2 1452.6" fill="none" stroke="#111" stroke-width="1.4850000000000003" stroke-linejoin="round" />
<path d="M1869.1 1467.9 L1865.7 1474.6 L1875.8 1481.4" fill="none" stroke="#111" stroke-width="1.4850000000000003" stroke-linejoin="round" />
<path d="M1880.9 1462.8 L1880.9 1467.9 L1901.2 1469.5" fill="none" stroke="#111" stroke-width="1.4850000000000003" stroke-linejoin="round" />
<path d="M1791.4 1481.4 L1808.3 1488.1" fill="none" stroke="#111" stroke-width="1.4850000000000003" stroke-linejoin="round" />
<path d="M1821.8 1464.5 L1838.7 1467.9" fill="none" stroke="#111" stroke-width="1.4850000000000003" stroke-linejoin="round" />
<path d="M1798.1 1461.1 L1808.3 1464.5" fill="none" stroke="#111" stroke-width="1.4850000000000003" stroke-linejoin="round" />
<path d="M1801.5 1474.6 L1808.3 1476.3" fill="none" stroke="#111" stroke-width="1.4850000000000003" stroke-linejoin="round" />
<ellipse cx="1826.8" cy="1485.6" rx="13.5" ry="8.4" fill="#fff" stroke="#111" stroke-width="1.4850000000000003" transform="rotate(-15 1826.8 1485.6)"/>
<ellipse cx="1826.8" cy="1485.6" rx="10.5" ry="6.1" fill="none" stroke="#111" stroke-width="1.4850000000000003" transform="rotate(-15 1826.8 1485.6)"/>
<ellipse cx="1806.6" cy="1484.7" rx="7.6" ry="12.7" fill="none" stroke="#111" stroke-width="1.4850000000000003" transform="rotate(-10 1806.6 1484.7)"/>
<ellipse cx="1850.5" cy="1483.1" rx="5.9" ry="16.1" fill="none" stroke="#111" stroke-width="1.4850000000000003" transform="rotate(-10 1850.5 1483.1)"/>
<ellipse cx="1822.6" cy="1501.6" rx="2.7" ry="3.4" fill="none" stroke="#111" stroke-width="1.4850000000000003"/>
<ellipse cx="1857.3" cy="1467.9" rx="2" ry="2.4" fill="#333" stroke="#111" stroke-width="1.4850000000000003"/>
<ellipse cx="1848.8" cy="1483.9" rx="1.7" ry="2" fill="#333" stroke="#111" stroke-width="1.4850000000000003"/>
<ellipse cx="1856.4" cy="1496.6" rx="1.7" ry="2" fill="#333" stroke="#111" stroke-width="1.4850000000000003"/>
<ellipse cx="1883.4" cy="1461.1" rx="1.7" ry="3.4" fill="none" stroke="#111" stroke-width="1.4850000000000003"/>
<ellipse cx="1799" cy="1435.8" rx="1.7" ry="3.4" fill="none" stroke="#111" stroke-width="1.4850000000000003"/>
<path d="M1822.6 1481.4 L1831.9 1481.4 L1830.2 1485.6 L1832.8 1485.6 L1829.4 1489.8 L1821.8 1489.8 L1823.5 1485.6 L1820.9 1485.6 Z" fill="#222"/>
<path d="M1726.3 1454.3 L1732.2 1445.9 L1761 1451 L1769.4 1467.9 L1767.7 1501.6 L1757.6 1505 L1732.2 1489.8 L1725.5 1474.6 Z" fill="#1c1c1c" stroke="#111" stroke-width="1.2"/>
<path d="M1730.5 1452.6 L1732.2 1488.1" fill="none" stroke="#fff" stroke-width="2.0" stroke-linejoin="round" stroke-linecap="round" />
<path d="M1735.6 1453.7 L1737.3 1490.5" fill="none" stroke="#fff" stroke-width="2.0" stroke-linejoin="round" stroke-linecap="round" />
<path d="M1740.7 1454.7 L1742.4 1492.9" fill="none" stroke="#fff" stroke-width="2.0" stroke-linejoin="round" stroke-linecap="round" />
<path d="M1745.8 1455.7 L1747.4 1495.2" fill="none" stroke="#fff" stroke-width="2.0" stroke-linejoin="round" stroke-linecap="round" />
<path d="M1750.8 1456.7 L1752.5 1497.6" fill="none" stroke="#fff" stroke-width="2.0" stroke-linejoin="round" stroke-linecap="round" />
<path d="M1755.9 1457.7 L1757.6 1500" fill="none" stroke="#fff" stroke-width="2.0" stroke-linejoin="round" stroke-linecap="round" />
<path d="M1761 1458.7 L1762.6 1502.3" fill="none" stroke="#fff" stroke-width="2.0" stroke-linejoin="round" stroke-linecap="round" />
<ellipse cx="1723.8" cy="1440.8" rx="8.5" ry="23" fill="#fff" stroke="#111" stroke-width="1.8" transform="rotate(-15 1723.8 1440.8)"/>
<ellipse cx="1725.8" cy="1441.7" rx="7" ry="19.5" fill="none" stroke="#111" stroke-width="1.2" transform="rotate(-15 1725.8 1441.7)"/>
<ellipse cx="1728.5" cy="1442.8" rx="7" ry="19" fill="none" stroke="#111" stroke-width="1.0" transform="rotate(-15 1728.5 1442.8)"/>
<path d="M1723.8 1413.8 L1740.7 1416.3 L1761 1422.2 L1769.4 1430.7" fill="none" stroke="#111" stroke-width="1.62" stroke-linejoin="round" />
<path d="M1740.7 1416.3 L1744.1 1444.2" fill="none" stroke="#111" stroke-width="1.62" stroke-linejoin="round" />
<path d="M1761 1422.2 L1764.3 1451" fill="none" stroke="#111" stroke-width="1.62" stroke-linejoin="round" />
<path d="M1769.4 1430.7 L1784.6 1452.6" fill="none" stroke="#111" stroke-width="1.62" stroke-linejoin="round" />
<path d="M1730.5 1420.5 L1754.2 1430.7 L1769.4 1447.6" fill="none" stroke="#111" stroke-width="1.62" stroke-linejoin="round" />
<ellipse cx="1776.2" cy="1479.7" rx="22" ry="33" fill="#fff" stroke="#111" stroke-width="2.2" transform="rotate(-12 1776.2 1479.7)"/>
<ellipse cx="1776.5" cy="1479.7" rx="18" ry="28" fill="none" stroke="#111" stroke-width="1.1" transform="rotate(-12 1776.5 1479.7)"/>
<path d="M1779.5 1481.4 L1796.5 1481.4" fill="none" stroke="#111" stroke-width="1.6" stroke-linejoin="round" stroke-linecap="round" />
<path d="M1779.5 1481.4 L1788 1504.8" fill="none" stroke="#111" stroke-width="1.6" stroke-linejoin="round" stroke-linecap="round" />
<path d="M1779.5 1481.4 L1771 1504.8" fill="none" stroke="#111" stroke-width="1.6" stroke-linejoin="round" stroke-linecap="round" />
<path d="M1779.5 1481.4 L1762.5 1481.4" fill="none" stroke="#111" stroke-width="1.6" stroke-linejoin="round" stroke-linecap="round" />
<path d="M1779.5 1481.4 L1771 1458" fill="none" stroke="#111" stroke-width="1.6" stroke-linejoin="round" stroke-linecap="round" />
<path d="M1779.5 1481.4 L1788 1458" fill="none" stroke="#111" stroke-width="1.6" stroke-linejoin="round" stroke-linecap="round" />
<ellipse cx="1781.2" cy="1481.4" rx="5" ry="7" fill="#333" stroke="#111" stroke-width="1"/>
<path d="M1781.2 1467.9 L1791.4 1459.4 L1798.1 1467.9 L1794.7 1494.9 L1784.6 1501.6 L1786.3 1481.4 Z" fill="#333"/>
<path d="M1723.8 1413.8 L1771.1 1467.9" fill="none" stroke="#111" stroke-width="4.2" stroke-linejoin="round" stroke-linecap="round" />
<path d="M1732.2 1423.1 L1769.4 1465.3" fill="none" stroke="#fff" stroke-width="1.6" stroke-linejoin="round" stroke-linecap="round" />
<path d="M1721.3 1411.3 L1730.5 1422.2" fill="none" stroke="#111" stroke-width="5.5" stroke-linejoin="round" stroke-linecap="round" />
<ellipse cx="1777" cy="1420.5" rx="7.5" ry="10" fill="#fff" stroke="#111" stroke-width="2.2" transform="rotate(-20 1777 1420.5)"/>
<ellipse cx="1769.4" cy="1418" rx="7" ry="9" fill="#fff" stroke="#111" stroke-width="1.4" transform="rotate(-20 1769.4 1418)"/>
<path d="M1773.6 1429 L1777.9 1439.1" fill="none" stroke="#111" stroke-width="4" stroke-linejoin="round" stroke-linecap="round" />
<path d="M1773.6 1429 L1777.9 1439.1" fill="none" stroke="#fff" stroke-width="1.6" stroke-linejoin="round" stroke-linecap="round" />
<ellipse cx="1933.3" cy="1501.6" rx="24" ry="31" fill="#fff" stroke="#111" stroke-width="1.6" transform="rotate(-12 1933.3 1501.6)"/>
<ellipse cx="1935.8" cy="1502.5" rx="24" ry="31" fill="#fff" stroke="#111" stroke-width="1.2" transform="rotate(-12 1935.8 1502.5)"/>
<ellipse cx="1943.4" cy="1505" rx="24" ry="31" fill="#fff" stroke="#111" stroke-width="1.6" transform="rotate(-12 1943.4 1505)"/>
<ellipse cx="1946" cy="1505.9" rx="10" ry="13" fill="#fff" stroke="#111" stroke-width="2.4" transform="rotate(-12 1946 1505.9)"/>
<ellipse cx="1946.8" cy="1506.4" rx="6" ry="8" fill="#fff" stroke="#111" stroke-width="1.4" transform="rotate(-12 1946.8 1506.4)"/>
<path d="M1945.1 1484.7 l4 2" fill="none" stroke="#111" stroke-width="4.6" stroke-linejoin="round" stroke-linecap="round" />
<path d="M1963.7 1501.6 l4 2" fill="none" stroke="#111" stroke-width="4.6" stroke-linejoin="round" stroke-linecap="round" />
<path d="M1929.9 1510.9 l4 2" fill="none" stroke="#111" stroke-width="4.6" stroke-linejoin="round" stroke-linecap="round" />
<path d="M1948.5 1527 l4 2" fill="none" stroke="#111" stroke-width="4.6" stroke-linejoin="round" stroke-linecap="round" />
<ellipse cx="1948.5" cy="1508.4" rx="3" ry="4" fill="#222" stroke="#111" stroke-width="1.0"/>
<ellipse cx="1929.9" cy="1465.3" rx="7" ry="8" fill="#fff" stroke="#111" stroke-width="1.6"/>
<ellipse cx="1933.3" cy="1467.9" rx="4" ry="5" fill="#fff" stroke="#111" stroke-width="1.3"/>
<path d="M1907.9 1472.1 L1918.1 1467.9" fill="none" stroke="#111" stroke-width="3.2" stroke-linejoin="round" stroke-linecap="round" />
<path d="M1907.9 1472.1 L1918.1 1467.9" fill="none" stroke="#777" stroke-width="1.4000000000000001" stroke-linejoin="round" stroke-linecap="round" />
<path d="M1789.4 1413.1 l5 -3" fill="none" stroke="#111" stroke-width="5.5" stroke-linejoin="round" stroke-linecap="round" />
<path d="M1792.4 1411.5 l3 -1.8" fill="none" stroke="#fff" stroke-width="3" stroke-linejoin="round" stroke-linecap="round" />
<path d="M1944 1459.6 l5 -3" fill="none" stroke="#111" stroke-width="5.5" stroke-linejoin="round" stroke-linecap="round" />
<path d="M1947 1458 l3 -1.8" fill="none" stroke="#fff" stroke-width="3" stroke-linejoin="round" stroke-linecap="round" />
<path d="M1832.8 1415.5 L1842.1 1418.9" fill="none" stroke="#111" stroke-width="7.5" stroke-linejoin="round" stroke-linecap="round" />
<path d="M1832.8 1415.5 L1842.1 1418.9" fill="none" stroke="#fff" stroke-width="5.1" stroke-linejoin="round" stroke-linecap="round" />
<path d="M1955.2 1451.8 L1963.7 1453.5" fill="none" stroke="#111" stroke-width="7" stroke-linejoin="round" stroke-linecap="round" />
<path d="M1955.2 1451.8 L1963.7 1453.5" fill="none" stroke="#fff" stroke-width="4.6" stroke-linejoin="round" stroke-linecap="round" />
<path d="M1780.4 1515.2 L1780.4 1547.3 A11.4 11.4 0 0 0 1803.2 1547.3 L1803.2 1515.2" fill="none" stroke="#111" stroke-width="4.4" stroke-linejoin="round" stroke-linecap="round" />
<path d="M1780.4 1515.2 L1780.4 1547.3 A11.4 11.4 0 0 0 1803.2 1547.3 L1803.2 1515.2" fill="none" stroke="#fff" stroke-width="2.2" stroke-linejoin="round" stroke-linecap="round" />
<path d="M1794.7 1520.2 L1794.7 1550.6 A11.8 11.8 0 0 0 1818.4 1550.6 L1818.4 1520.2" fill="none" stroke="#111" stroke-width="4.4" stroke-linejoin="round" stroke-linecap="round" />
<path d="M1794.7 1520.2 L1794.7 1550.6 A11.8 11.8 0 0 0 1818.4 1550.6 L1818.4 1520.2" fill="none" stroke="#fff" stroke-width="2.2" stroke-linejoin="round" stroke-linecap="round" />
<path d="M1864.9 1540.5 L1864.9 1572.6 A11.4 11.4 0 0 0 1887.7 1572.6 L1887.7 1540.5" fill="none" stroke="#111" stroke-width="4.4" stroke-linejoin="round" stroke-linecap="round" />
<path d="M1864.9 1540.5 L1864.9 1572.6 A11.4 11.4 0 0 0 1887.7 1572.6 L1887.7 1540.5" fill="none" stroke="#fff" stroke-width="2.2" stroke-linejoin="round" stroke-linecap="round" />
<path d="M1879.2 1545.6 L1879.2 1576 A11.8 11.8 0 0 0 1902.9 1576 L1902.9 1545.6" fill="none" stroke="#111" stroke-width="4.4" stroke-linejoin="round" stroke-linecap="round" />
<path d="M1879.2 1545.6 L1879.2 1576 A11.8 11.8 0 0 0 1902.9 1576 L1902.9 1545.6" fill="none" stroke="#fff" stroke-width="2.2" stroke-linejoin="round" stroke-linecap="round" />
<path d="M1830.2 1537.1 L1869.1 1516.8" fill="none" stroke="#111" stroke-width="3.8" stroke-linejoin="round" stroke-linecap="round" />
<path d="M1830.2 1537.1 L1869.1 1516.8" fill="none" stroke="#fff" stroke-width="1.7999999999999998" stroke-linejoin="round" stroke-linecap="round" />
<ellipse cx="1826.8" cy="1539.7" rx="5" ry="4" fill="#fff" stroke="#111" stroke-width="1.3"/>
<path d="M1815 1598.8 L1837 1587" fill="none" stroke="#111" stroke-width="6.5" stroke-linejoin="round" stroke-linecap="round" stroke-dasharray="1.5 0.7"/>
<path d="M1766.9 1560.8 L1769.4 1579.4" fill="none" stroke="#111" stroke-width="1.6" stroke-linejoin="round" stroke-linecap="round" />
<ellipse cx="1769.4" cy="1567.5" rx="3" ry="5" fill="none" stroke="#111" stroke-width="1.4"/>
<path d="M1874.2 1592.9 L1876.7 1609.8" fill="none" stroke="#111" stroke-width="1.6" stroke-linejoin="round" stroke-linecap="round" />
<ellipse cx="1876.7" cy="1599.6" rx="3" ry="5" fill="none" stroke="#111" stroke-width="1.4"/>
<path d="M1848 1579.4 L1852.2 1591.2" fill="none" stroke="#111" stroke-width="1.6" stroke-linejoin="round" stroke-linecap="round" />
<ellipse cx="1848" cy="1579.4" rx="2" ry="3" fill="none" stroke="#111" stroke-width="1.3"/>
<path d="M1785.5 1595.4 L1793.1 1597.9" fill="none" stroke="#111" stroke-width="5.5" stroke-linejoin="round" stroke-linecap="round" />
<path d="M1785.5 1595.4 L1793.1 1597.9" fill="none" stroke="#fff" stroke-width="3.3" stroke-linejoin="round" stroke-linecap="round" />
<path d="M1848.8 1614 L1855.6 1615.7" fill="none" stroke="#111" stroke-width="5" stroke-linejoin="round" stroke-linecap="round" />
<path d="M1848.8 1614 L1855.6 1615.7" fill="none" stroke="#fff" stroke-width="2.8" stroke-linejoin="round" stroke-linecap="round" />
<path d="M1798.1 1451 L1808.3 1447.6 L1815 1452.6 L1806.6 1459.4 L1798.1 1457.7 Z" fill="#444" stroke="#111" stroke-width="0.8"/>
<path d="M1830.2 1449.3 L1842.1 1451 L1838.7 1457.7 L1828.5 1456 Z" fill="#444" stroke="#111" stroke-width="0.8"/>
<path d="M1860.6 1452.6 L1864 1456 L1860.6 1467.9 L1857.3 1464.5 Z" fill="#444" stroke="#111" stroke-width="0.8"/>
<path d="M1808.3 1496.6 L1821.8 1501.6 L1820.1 1505.9 L1806.6 1500.8 Z" fill="#444" stroke="#111" stroke-width="0.8"/>
<path d="M1858.9 1474.6 L1913 1491.5" fill="none" stroke="#111" stroke-width="1.35" stroke-linejoin="round" />
<path d="M1858.9 1488.1 L1913 1505.9" fill="none" stroke="#111" stroke-width="1.35" stroke-linejoin="round" />
<path d="M1875.8 1478.8 L1877.5 1494.9" fill="none" stroke="#111" stroke-width="1.35" stroke-linejoin="round" />
<path d="M1901.2 1464.5 L1902.9 1488.1" fill="none" stroke="#111" stroke-width="1.35" stroke-linejoin="round" />
<path d="M1438.4 1659.3 L1435.7 1623.6 L1441.1 1603.9 L1453.6 1593.2 L1480.4 1586.1 L1485.7 1582.5 L1542.9 1583.4 L1576.8 1589.6 L1583.9 1596.8 L1586.6 1609.3 L1585.7 1628.9 L1571.4 1627.1 L1525 1623.6 L1475 1630.7 L1458.9 1645 L1453.6 1673.6 L1442.9 1670 Z" fill="#fff" stroke="#111" stroke-width="2.43" stroke-linejoin="round" />
<g transform="translate(1.9,1.5)" opacity="0.75">
<path d="M1453.6 1593.2 L1471.4 1628.9" fill="none" stroke="#111" stroke-width="0.95" stroke-linejoin="round" />
<path d="M1480.4 1586.1 L1483.9 1589.6 L1523.2 1587.9 L1542.9 1583.4" fill="none" stroke="#111" stroke-width="0.95" stroke-linejoin="round" />
<path d="M1480.4 1596.8 L1525 1591.4 L1521.4 1586.1" fill="none" stroke="#111" stroke-width="0.95" stroke-linejoin="round" />
<path d="M1539.3 1584.3 L1541.1 1603.9" fill="none" stroke="#111" stroke-width="0.95" stroke-linejoin="round" />
<path d="M1571.4 1589.6 L1573.2 1614.6" fill="none" stroke="#111" stroke-width="0.95" stroke-linejoin="round" />
<path d="M1578.6 1593.2 L1580.4 1623.6" fill="none" stroke="#111" stroke-width="0.95" stroke-linejoin="round" />
<path d="M1525 1591.4 L1542.9 1616.4" fill="none" stroke="#111" stroke-width="0.95" stroke-linejoin="round" />
<path d="M1550 1611.1 L1575 1598.6" fill="none" stroke="#111" stroke-width="0.95" stroke-linejoin="round" />
<path d="M1471.4 1623.6 L1514.3 1612.9 L1550 1611.1 L1571.4 1623.6" fill="none" stroke="#111" stroke-width="0.95" stroke-linejoin="round" />
<path d="M1442.9 1623.6 L1450 1655.7" fill="none" stroke="#111" stroke-width="0.95" stroke-linejoin="round" />
<path d="M1473.2 1616.4 L1489.3 1612 L1491.1 1618.2 L1475 1622.7 L1473.2 1616.4" fill="none" stroke="#111" stroke-width="0.95" stroke-linejoin="round" />
<path d="M1500 1609.3 L1516.1 1604.8 L1517.9 1611.1 L1501.8 1615.5 L1500 1609.3" fill="none" stroke="#111" stroke-width="0.95" stroke-linejoin="round" />
<path d="M1458.9 1645 L1462.5 1636.1 L1478.6 1628.9 L1525 1625.4" fill="none" stroke="#111" stroke-width="0.95" stroke-linejoin="round" />
<path d="M1444.6 1662.9 L1451.8 1641.4 L1460.7 1634.3" fill="none" stroke="#111" stroke-width="0.95" stroke-linejoin="round" />
</g>
<path d="M1453.6 1593.2 L1471.4 1628.9" fill="none" stroke="#111" stroke-width="1.4850000000000003" stroke-linejoin="round" />
<path d="M1480.4 1586.1 L1483.9 1589.6 L1523.2 1587.9 L1542.9 1583.4" fill="none" stroke="#111" stroke-width="1.4850000000000003" stroke-linejoin="round" />
<path d="M1480.4 1596.8 L1525 1591.4 L1521.4 1586.1" fill="none" stroke="#111" stroke-width="1.4850000000000003" stroke-linejoin="round" />
<path d="M1539.3 1584.3 L1541.1 1603.9" fill="none" stroke="#111" stroke-width="1.4850000000000003" stroke-linejoin="round" />
<path d="M1571.4 1589.6 L1573.2 1614.6" fill="none" stroke="#111" stroke-width="1.4850000000000003" stroke-linejoin="round" />
<path d="M1578.6 1593.2 L1580.4 1623.6" fill="none" stroke="#111" stroke-width="1.4850000000000003" stroke-linejoin="round" />
<path d="M1525 1591.4 L1542.9 1616.4" fill="none" stroke="#111" stroke-width="1.4850000000000003" stroke-linejoin="round" />
<path d="M1550 1611.1 L1575 1598.6" fill="none" stroke="#111" stroke-width="1.4850000000000003" stroke-linejoin="round" />
<path d="M1471.4 1623.6 L1514.3 1612.9 L1550 1611.1 L1571.4 1623.6" fill="none" stroke="#111" stroke-width="1.4850000000000003" stroke-linejoin="round" />
<path d="M1442.9 1623.6 L1450 1655.7" fill="none" stroke="#111" stroke-width="1.4850000000000003" stroke-linejoin="round" />
<path d="M1473.2 1616.4 L1489.3 1612 L1491.1 1618.2 L1475 1622.7 L1473.2 1616.4" fill="none" stroke="#111" stroke-width="1.4850000000000003" stroke-linejoin="round" />
<path d="M1500 1609.3 L1516.1 1604.8 L1517.9 1611.1 L1501.8 1615.5 L1500 1609.3" fill="none" stroke="#111" stroke-width="1.4850000000000003" stroke-linejoin="round" />
<path d="M1458.9 1645 L1462.5 1636.1 L1478.6 1628.9 L1525 1625.4" fill="none" stroke="#111" stroke-width="1.4850000000000003" stroke-linejoin="round" />
<path d="M1444.6 1662.9 L1451.8 1641.4 L1460.7 1634.3" fill="none" stroke="#111" stroke-width="1.4850000000000003" stroke-linejoin="round" />
<path d="M1442.9 1628.9 L1453.6 1612.9 L1525 1600.4 L1571.4 1603.9 L1583.9 1611.1" fill="none" stroke="#111" stroke-width="2.6" stroke-linejoin="round" stroke-linecap="round" />
<path d="M1446.4 1659.3 L1448.2 1637.9 L1460.7 1623.6 L1514.3 1614.6 L1551.8 1614.6 L1578.6 1628.9" fill="none" stroke="#111" stroke-width="2.2" stroke-linejoin="round" stroke-linecap="round" />
<path d="M1475 1632.5 L1514.3 1627.1 L1517.9 1636.1 L1485.7 1641.4 Z" fill="#444" stroke="#111" stroke-width="1"/>
<ellipse cx="1432.1" cy="1695" rx="20.5" ry="26.5" fill="#fff" stroke="#111" stroke-width="1.4"/>
<ellipse cx="1438.4" cy="1698.6" rx="12" ry="20" fill="#fff" stroke="#111" stroke-width="1.6"/>
<ellipse cx="1438.4" cy="1698.6" rx="8" ry="14" fill="none" stroke="#111" stroke-width="1.0"/>
<path d="M1475 1670 L1480.4 1659.3 L1492.9 1653.9 L1551.8 1650.4 L1596.4 1630.7 L1658.9 1634.3 L1660.7 1614.6 L1671.4 1612 L1683.9 1612.9 L1689.3 1623.6 L1690.2 1643.2 L1703.6 1655.7 L1705.4 1680.7 L1728.6 1682.5 L1773.2 1640.5 L1776.8 1639.6 L1787.5 1646.8 L1787.5 1653.9 L1767.9 1684.3 L1789.3 1691.4 L1808.9 1707.5 L1814.3 1725.4 L1812.5 1741.4 L1818.8 1746.8 L1816.1 1755.7 L1801.8 1764.6 L1753.6 1775.4 L1692.9 1780.7 L1685.7 1793.2 L1671.4 1800.4 L1655.4 1796.8 L1644.6 1780.7 L1630.4 1775.4 L1587.5 1762.9 L1555.4 1748.6 L1553.6 1741.4 L1514.3 1753 L1511.6 1752.1 L1510.7 1720 L1467.9 1738.8 L1464.3 1737.9 L1463.4 1709.3 L1475 1703.9 Z" fill="#fff" stroke="#111" stroke-width="2.0250000000000004" stroke-linejoin="round" />
<g transform="translate(1.9,1.5)" opacity="0.75">
<path d="M1480.4 1659.3 L1583.9 1714.6 L1587.5 1762.9" fill="none" stroke="#111" stroke-width="0.95" stroke-linejoin="round" />
<path d="M1492.9 1653.9 L1594.6 1707.5 L1628.6 1703" fill="none" stroke="#111" stroke-width="0.95" stroke-linejoin="round" />
<path d="M1521.4 1652.1 L1614.3 1698.6" fill="none" stroke="#111" stroke-width="0.95" stroke-linejoin="round" />
<path d="M1551.8 1650.4 L1578.6 1670 L1646.4 1666.4" fill="none" stroke="#111" stroke-width="0.95" stroke-linejoin="round" />
<path d="M1583.9 1714.6 L1594.6 1707.5" fill="none" stroke="#111" stroke-width="0.95" stroke-linejoin="round" />
<path d="M1658.9 1634.3 L1660.7 1645 L1671.4 1646.8 L1689.3 1643.2" fill="none" stroke="#111" stroke-width="0.95" stroke-linejoin="round" />
<path d="M1671.4 1612 L1671.4 1646.8" fill="none" stroke="#111" stroke-width="0.95" stroke-linejoin="round" />
<path d="M1664.3 1614.6 L1664.3 1645" fill="none" stroke="#111" stroke-width="0.95" stroke-linejoin="round" />
<path d="M1728.6 1682.5 L1732.1 1684.3 L1776.8 1641.4" fill="none" stroke="#111" stroke-width="0.95" stroke-linejoin="round" />
<path d="M1703.6 1655.7 L1689.3 1670 L1657.1 1671.8 L1664.3 1684.3" fill="none" stroke="#111" stroke-width="0.95" stroke-linejoin="round" />
<path d="M1628.6 1703 L1667.9 1695 L1728.6 1682.5" fill="none" stroke="#111" stroke-width="0.95" stroke-linejoin="round" />
<path d="M1555.4 1748.6 L1630.4 1771.8 L1644.6 1777.1" fill="none" stroke="#111" stroke-width="0.95" stroke-linejoin="round" />
<path d="M1463.4 1709.3 L1517.9 1695 L1519.6 1718.2 L1510.7 1720" fill="none" stroke="#111" stroke-width="0.95" stroke-linejoin="round" />
<path d="M1510.7 1720 L1551.8 1711.1 L1555.4 1748.6" fill="none" stroke="#111" stroke-width="0.95" stroke-linejoin="round" />
<path d="M1471.4 1716.4 L1485.7 1730.7 L1492.9 1728.9" fill="none" stroke="#111" stroke-width="0.95" stroke-linejoin="round" />
<path d="M1519.6 1730.7 L1533.9 1745 L1541.1 1743.2" fill="none" stroke="#111" stroke-width="0.95" stroke-linejoin="round" />
<path d="M1632.1 1695 L1667.9 1702.1 L1675 1702.1 L1650 1693.2 L1632.1 1695" fill="none" stroke="#111" stroke-width="0.95" stroke-linejoin="round" />
<path d="M1685.7 1702.1 L1748.2 1693.2 L1753.6 1695 L1692.9 1705.7 L1685.7 1702.1" fill="none" stroke="#111" stroke-width="0.95" stroke-linejoin="round" />
<path d="M1607.1 1666.4 L1646.4 1661.1 L1648.2 1666.4" fill="none" stroke="#111" stroke-width="0.95" stroke-linejoin="round" />
<path d="M1587.5 1762.9 L1589.3 1725.4 L1596.4 1711.1" fill="none" stroke="#111" stroke-width="0.95" stroke-linejoin="round" />
<path d="M1812.5 1741.4 L1800 1746.8 L1703.6 1766.4 L1694.6 1780.7" fill="none" stroke="#111" stroke-width="0.95" stroke-linejoin="round" />
<path d="M1475 1670 L1478.6 1684.3 L1582.1 1730.7" fill="none" stroke="#111" stroke-width="0.95" stroke-linejoin="round" />
</g>
<path d="M1480.4 1659.3 L1583.9 1714.6 L1587.5 1762.9" fill="none" stroke="#111" stroke-width="1.4850000000000003" stroke-linejoin="round" />
<path d="M1492.9 1653.9 L1594.6 1707.5 L1628.6 1703" fill="none" stroke="#111" stroke-width="1.4850000000000003" stroke-linejoin="round" />
<path d="M1521.4 1652.1 L1614.3 1698.6" fill="none" stroke="#111" stroke-width="1.4850000000000003" stroke-linejoin="round" />
<path d="M1551.8 1650.4 L1578.6 1670 L1646.4 1666.4" fill="none" stroke="#111" stroke-width="1.4850000000000003" stroke-linejoin="round" />
<path d="M1583.9 1714.6 L1594.6 1707.5" fill="none" stroke="#111" stroke-width="1.4850000000000003" stroke-linejoin="round" />
<path d="M1658.9 1634.3 L1660.7 1645 L1671.4 1646.8 L1689.3 1643.2" fill="none" stroke="#111" stroke-width="1.4850000000000003" stroke-linejoin="round" />
<path d="M1671.4 1612 L1671.4 1646.8" fill="none" stroke="#111" stroke-width="1.4850000000000003" stroke-linejoin="round" />
<path d="M1664.3 1614.6 L1664.3 1645" fill="none" stroke="#111" stroke-width="1.4850000000000003" stroke-linejoin="round" />
<path d="M1728.6 1682.5 L1732.1 1684.3 L1776.8 1641.4" fill="none" stroke="#111" stroke-width="1.4850000000000003" stroke-linejoin="round" />
<path d="M1703.6 1655.7 L1689.3 1670 L1657.1 1671.8 L1664.3 1684.3" fill="none" stroke="#111" stroke-width="1.4850000000000003" stroke-linejoin="round" />
<path d="M1628.6 1703 L1667.9 1695 L1728.6 1682.5" fill="none" stroke="#111" stroke-width="1.4850000000000003" stroke-linejoin="round" />
<path d="M1555.4 1748.6 L1630.4 1771.8 L1644.6 1777.1" fill="none" stroke="#111" stroke-width="1.4850000000000003" stroke-linejoin="round" />
<path d="M1463.4 1709.3 L1517.9 1695 L1519.6 1718.2 L1510.7 1720" fill="none" stroke="#111" stroke-width="1.4850000000000003" stroke-linejoin="round" />
<path d="M1510.7 1720 L1551.8 1711.1 L1555.4 1748.6" fill="none" stroke="#111" stroke-width="1.4850000000000003" stroke-linejoin="round" />
<path d="M1471.4 1716.4 L1485.7 1730.7 L1492.9 1728.9" fill="none" stroke="#111" stroke-width="1.4850000000000003" stroke-linejoin="round" />
<path d="M1519.6 1730.7 L1533.9 1745 L1541.1 1743.2" fill="none" stroke="#111" stroke-width="1.4850000000000003" stroke-linejoin="round" />
<path d="M1632.1 1695 L1667.9 1702.1 L1675 1702.1 L1650 1693.2 L1632.1 1695" fill="none" stroke="#111" stroke-width="1.4850000000000003" stroke-linejoin="round" />
<path d="M1685.7 1702.1 L1748.2 1693.2 L1753.6 1695 L1692.9 1705.7 L1685.7 1702.1" fill="none" stroke="#111" stroke-width="1.4850000000000003" stroke-linejoin="round" />
<path d="M1607.1 1666.4 L1646.4 1661.1 L1648.2 1666.4" fill="none" stroke="#111" stroke-width="1.4850000000000003" stroke-linejoin="round" />
<path d="M1587.5 1762.9 L1589.3 1725.4 L1596.4 1711.1" fill="none" stroke="#111" stroke-width="1.4850000000000003" stroke-linejoin="round" />
<path d="M1812.5 1741.4 L1800 1746.8 L1703.6 1766.4 L1694.6 1780.7" fill="none" stroke="#111" stroke-width="1.4850000000000003" stroke-linejoin="round" />
<path d="M1475 1670 L1478.6 1684.3 L1582.1 1730.7" fill="none" stroke="#111" stroke-width="1.4850000000000003" stroke-linejoin="round" />
<ellipse cx="1583.9" cy="1650.4" rx="33.9" ry="12.5" fill="#fff" stroke="#111" stroke-width="1.4850000000000003"/>
<ellipse cx="1583.9" cy="1644.1" rx="30.4" ry="9.8" fill="#fff" stroke="#111" stroke-width="1.4850000000000003"/>
<ellipse cx="1583.9" cy="1638.8" rx="25" ry="6.8" fill="#ddd" stroke="#111" stroke-width="1.4850000000000003"/>
<ellipse cx="1692.9" cy="1707.5" rx="41.1" ry="10.7" fill="#fff" stroke="#111" stroke-width="1.4850000000000003"/>
<ellipse cx="1692.9" cy="1693.2" rx="26.8" ry="8" fill="#fff" stroke="#111" stroke-width="1.4850000000000003"/>
<ellipse cx="1692.9" cy="1689.6" rx="21.4" ry="5.4" fill="#ddd" stroke="#111" stroke-width="1.4850000000000003"/>
<ellipse cx="1694.6" cy="1720" rx="30.4" ry="7.1" fill="none" stroke="#111" stroke-width="1.4850000000000003"/>
<ellipse cx="1681.2" cy="1620.9" rx="1.4" ry="1.8" fill="none" stroke="#111" stroke-width="1.4850000000000003"/>
<ellipse cx="1780.4" cy="1650.4" rx="1.4" ry="1.8" fill="none" stroke="#111" stroke-width="1.4850000000000003"/>
<path d="M1701.8 1771.8 L1708.9 1759.3 L1801.8 1741.4 L1807.1 1748.6 L1707.1 1770.9 Z" fill="#333" stroke="#111" stroke-width="1"/>
<path d="M1712.5 1763.8 L1750 1756.6 L1748.2 1762 L1711.6 1768.2 Z" fill="#fff"/>
<path d="M1758.9 1754.8 L1792.9 1747.7 L1794.6 1751.2 L1758 1759.3 Z" fill="#fff"/>
<path d="M1818.8 1746.8 L1801.8 1759.3 L1753.6 1770 L1692.9 1777.1" fill="none" stroke="#111" stroke-width="1.2" stroke-linejoin="round" stroke-linecap="round" />
<path d="M1771.4 1700.4 L1780.4 1695 L1792.9 1698.6 L1791.1 1705.7 L1775 1711.1 Z" fill="#333"/>
<path d="M1639.3 1682.5 L1650 1687.9 L1664.3 1695" fill="none" stroke="#111" stroke-width="2.4" stroke-linejoin="round" stroke-linecap="round" />
<path d="M1683.9 1720 L1692.9 1723.6" fill="none" stroke="#111" stroke-width="3" stroke-linejoin="round" stroke-linecap="round" />
<path d="M1555.4 1748.6 L1630.4 1773.6 L1650 1778" fill="none" stroke="#111" stroke-width="2.2" stroke-linejoin="round" stroke-linecap="round" />
<ellipse cx="1667.9" cy="1771.8" rx="25" ry="28.5" fill="#fff" stroke="#111" stroke-width="1.4"/>
<ellipse cx="1675" cy="1773.6" rx="15.5" ry="21.5" fill="#fff" stroke="#111" stroke-width="2.2"/>
<ellipse cx="1675" cy="1773.6" rx="12" ry="17" fill="none" stroke="#111" stroke-width="1.0"/>
<path d="M1664.3 1770 L1675 1764.6 L1683.9 1771.8" fill="none" stroke="#111" stroke-width="1.4" stroke-linejoin="round" stroke-linecap="round" />
<path d="M1667.9 1777.1 L1678.6 1784.3" fill="none" stroke="#111" stroke-width="1.4" stroke-linejoin="round" stroke-linecap="round" />
<ellipse cx="1667.9" cy="1770.9" rx="4" ry="6" fill="none" stroke="#111" stroke-width="1.2"/>
<path d="M1441.1 1687.9 L1453.6 1684.3 L1458.9 1689.6 L1478.6 1689.6 L1480.4 1693.2 L1460.7 1695 L1458.9 1711.1 L1453.6 1714.6 L1442.9 1712.9 Z" fill="#fff" stroke="#111" stroke-width="1.62" stroke-linejoin="round" />
<ellipse cx="1449.1" cy="1698.6" rx="1.4" ry="1.8" fill="#333" stroke="#111" stroke-width="1.35"/>
<line x1="1402.7" y1="1589.6" x2="1402.7" y2="1595.4" stroke="#111" stroke-width="2.2"/>
<line x1="1402.7" y1="1589.6" x2="1402.7" y2="1594.9" stroke="#fff" stroke-width="0.6"/>
<ellipse cx="1402.7" cy="1589.6" rx="1.8" ry="2.4" fill="#fff" stroke="#111" stroke-width="1.1" transform="rotate(90 1402.7 1589.6)"/>
<ellipse cx="1402.7" cy="1588.8" rx="0.7" ry="1.1" fill="#111" stroke="#111" stroke-width="0.5" transform="rotate(90 1402.7 1588.8)"/>
<path d="M39 38.5 H135 Q143 38.5 137 47.5 Q131 58.5 115 58.5 H27 Q19 58.5 25 49.5 Q31 38.5 39 38.5 Z" fill="#6cb91f"/>
<path d="M28.5 70 H98 Q106 70 100 79 Q94 90 78 90 H16.5 Q8.5 90 14.5 81 Q20.5 70 28.5 70 Z" fill="#6cb91f"/>
<path d="M17.5 101 H115.5 Q123.5 101 117.5 110 Q111.5 121 95.5 121 H5.5 Q-2.5 121 3.5 112 Q9.5 101 17.5 101 Z" fill="#6cb91f"/>
<text x="0" y="0" transform="translate(117,116.5) skewX(-20) scale(1.53,1)" style="font-family:'Liberation Sans',sans-serif;font-weight:bold;font-size:107px;fill:#3b3838;stroke:#3b3838;stroke-width:7;stroke-linejoin:round;letter-spacing:-1px">GO</text>
<text x="399" y="52" style="font-family:'Liberation Sans',sans-serif;font-weight:bold;font-size:12.5px;fill:#3b3838">TM</text>
<text x="2585" y="23.4" class="h" textLength="299" lengthAdjust="spacingAndGlyphs">Product Description:Tractor</text>
<text x="2585" y="57" class="h" textLength="251" lengthAdjust="spacingAndGlyphs">Model Number:TR4200</text>
<text x="2585" y="91" class="h" textLength="418" lengthAdjust="spacingAndGlyphs">Service Item Number:1000061001S01</text>
<text x="2585" y="124.7" class="h" textLength="102" lengthAdjust="spacingAndGlyphs">Version:A</text>
<text x="2585" y="158.4" class="h" textLength="260" lengthAdjust="spacingAndGlyphs">Issue Date: 2023/08/01</text>
<text transform="translate(2132,260) scale(0.88,1)" class="n">214</text>
<line x1="1875" y1="270" x2="2371.6" y2="270" stroke="#111" stroke-width="1.1" />
<line x1="1875" y1="270" x2="1875" y2="315" stroke="#111" stroke-width="1.1" />
<line x1="1938" y1="270" x2="1938" y2="315.5" stroke="#111" stroke-width="1.1" />
<line x1="2011.7" y1="270" x2="2011.7" y2="311" stroke="#111" stroke-width="1.1" />
<line x1="2074.7" y1="270" x2="2074.7" y2="311" stroke="#111" stroke-width="1.1" />
<line x1="2131.8" y1="270" x2="2131.8" y2="307" stroke="#111" stroke-width="1.1" />
<line x1="2182" y1="270" x2="2182" y2="305.6" stroke="#111" stroke-width="1.1" />
<line x1="2240.6" y1="270" x2="2240.6" y2="307" stroke="#111" stroke-width="1.1" />
<line x1="2299" y1="270" x2="2299" y2="308" stroke="#111" stroke-width="1.1" />
<line x1="2371.6" y1="270" x2="2371.6" y2="310" stroke="#111" stroke-width="1.1" />
<text transform="translate(715,310.5) scale(0.88,1)" class="n">211</text>
<line x1="693" y1="321" x2="737" y2="321" stroke="#111" stroke-width="1.1" />
<line x1="693" y1="321" x2="647.5" y2="585.2" stroke="#111" stroke-width="1.1" />
<path d="M645 600 L645 582.8 L650.7 583.7 Z" fill="#111"/>
<text transform="translate(1190,240.5) scale(0.88,1)" class="n">204</text>
<line x1="1168" y1="251" x2="1212" y2="251" stroke="#111" stroke-width="1.1" />
<line x1="1212" y1="251" x2="1301.5" y2="561.6" stroke="#111" stroke-width="1.1" />
<path d="M1305.7 576 L1298.2 560.5 L1303.8 558.9 Z" fill="#111"/>
<text transform="translate(879.5,298.5) scale(0.88,1)" class="n">206</text>
<line x1="857" y1="309" x2="902" y2="309" stroke="#111" stroke-width="1.1" />
<line x1="902" y1="309" x2="973.9" y2="470.3" stroke="#111" stroke-width="1.1" />
<path d="M980 484 L970.4 469.7 L975.7 467.3 Z" fill="#111"/>
<text transform="translate(1165.8,416.5) scale(0.88,1)" class="n">62</text>
<line x1="1143.5" y1="427" x2="1188" y2="427" stroke="#111" stroke-width="1.1" />
<line x1="1143.5" y1="427" x2="1105.4" y2="452.6" stroke="#111" stroke-width="1.1" />
<path d="M1093 461 L1105.5 449.1 L1108.7 453.9 Z" fill="#111"/>
<text transform="translate(1451,342.2) scale(0.88,1)" class="n">51</text>
<line x1="1429" y1="352.7" x2="1473" y2="352.7" stroke="#111" stroke-width="1.1" />
<line x1="1429" y1="352.7" x2="1347.8" y2="416.3" stroke="#111" stroke-width="1.1" />
<path d="M1336 425.6 L1347.6 412.8 L1351.2 417.4 Z" fill="#111"/>
<text transform="translate(1452,384.5) scale(0.88,1)" class="n">52</text>
<line x1="1430" y1="395" x2="1474" y2="395" stroke="#111" stroke-width="1.1" />
<line x1="1430" y1="395" x2="1397.1" y2="416.5" stroke="#111" stroke-width="1.1" />
<path d="M1384.5 424.7 L1397.2 413 L1400.3 417.8 Z" fill="#111"/>
<text transform="translate(1452,425.5) scale(0.88,1)" class="n">53</text>
<line x1="1430" y1="436" x2="1474" y2="436" stroke="#111" stroke-width="1.1" />
<line x1="1430" y1="436" x2="1390.3" y2="456.8" stroke="#111" stroke-width="1.1" />
<path d="M1377 463.7 L1390.7 453.3 L1393.4 458.4 Z" fill="#111"/>
<text transform="translate(1452,468.1) scale(0.88,1)" class="n">54</text>
<line x1="1430" y1="478.6" x2="1474" y2="478.6" stroke="#111" stroke-width="1.1" />
<line x1="1430" y1="478.6" x2="1422.1" y2="481.4" stroke="#111" stroke-width="1.1" />
<path d="M1408 486.5 L1423 478 L1425 483.5 Z" fill="#111"/>
<text transform="translate(731.5,431) scale(0.88,1)" class="n">69</text>
<line x1="709.5" y1="441.5" x2="753.6" y2="441.5" stroke="#111" stroke-width="1.1" />
<line x1="753.6" y1="441.5" x2="923.2" y2="593.7" stroke="#111" stroke-width="1.1" />
<path d="M934.4 603.7 L919.8 594.5 L923.7 590.2 Z" fill="#111"/>
<text transform="translate(731.5,492.5) scale(0.88,1)" class="n">70</text>
<line x1="709.5" y1="503" x2="753.6" y2="503" stroke="#111" stroke-width="1.1" />
<line x1="753.6" y1="503" x2="895.5" y2="601.8" stroke="#111" stroke-width="1.1" />
<path d="M907.8 610.4 L892.2 603.1 L895.5 598.3 Z" fill="#111"/>
<text transform="translate(1874,341.9) scale(0.88,1)" class="n">87</text>
<line x1="1852" y1="352.4" x2="1896" y2="352.4" stroke="#111" stroke-width="1.1" />
<line x1="1896" y1="352.4" x2="1928.4" y2="452.7" stroke="#111" stroke-width="1.1" />
<path d="M1933 467 L1925 451.7 L1930.5 449.9 Z" fill="#111"/>
<text transform="translate(1936.5,341.9) scale(0.88,1)" class="n">88</text>
<line x1="1915" y1="352.4" x2="1958" y2="352.4" stroke="#111" stroke-width="1.1" />
<line x1="1958" y1="352.4" x2="1988.2" y2="425.1" stroke="#111" stroke-width="1.1" />
<path d="M1994 439 L1984.8 424.4 L1990.2 422.2 Z" fill="#111"/>
<text transform="translate(2010.3,337.8) scale(0.88,1)" class="n">53</text>
<line x1="1988.6" y1="348.3" x2="2032" y2="348.3" stroke="#111" stroke-width="1.1" />
<line x1="2032" y1="348.3" x2="2067.7" y2="443.9" stroke="#111" stroke-width="1.1" />
<path d="M2073 458 L2064.3 443.1 L2069.8 441.1 Z" fill="#111"/>
<text transform="translate(2073.3,337.2) scale(0.88,1)" class="n">75</text>
<line x1="2051" y1="347.7" x2="2095.6" y2="347.7" stroke="#111" stroke-width="1.1" />
<line x1="2095.6" y1="347.7" x2="2094.3" y2="417" stroke="#111" stroke-width="1.1" />
<path d="M2094 432 L2091.4 414.9 L2097.2 415.1 Z" fill="#111"/>
<text transform="translate(2130,333.5) scale(0.88,1)" class="n">82</text>
<line x1="2108" y1="344" x2="2152" y2="344" stroke="#111" stroke-width="1.1" />
<line x1="2152" y1="344" x2="2132.7" y2="449.8" stroke="#111" stroke-width="1.1" />
<path d="M2130 464.6 L2130.2 447.4 L2135.9 448.4 Z" fill="#111"/>
<text transform="translate(2181,332.2) scale(0.88,1)" class="n">9</text>
<line x1="2159" y1="342.7" x2="2203" y2="342.7" stroke="#111" stroke-width="1.1" />
<line x1="2159" y1="342.7" x2="2150.2" y2="425.1" stroke="#111" stroke-width="1.1" />
<path d="M2148.6 440 L2147.5 422.8 L2153.3 423.4 Z" fill="#111"/>
<text transform="translate(2240.2,333.5) scale(0.88,1)" class="n">44</text>
<line x1="2218.8" y1="344" x2="2261.5" y2="344" stroke="#111" stroke-width="1.1" />
<line x1="2218.8" y1="344" x2="2176.6" y2="415.9" stroke="#111" stroke-width="1.1" />
<path d="M2169 428.8 L2175.1 412.7 L2180.1 415.6 Z" fill="#111"/>
<text transform="translate(2298.2,334.5) scale(0.88,1)" class="n">89</text>
<line x1="2276.5" y1="345" x2="2320" y2="345" stroke="#111" stroke-width="1.1" />
<line x1="2276.5" y1="345" x2="2217.6" y2="404.1" stroke="#111" stroke-width="1.1" />
<path d="M2207 414.7 L2216.9 400.6 L2221.1 404.7 Z" fill="#111"/>
<text transform="translate(2370.9,336.9) scale(0.88,1)" class="n">90</text>
<line x1="2349" y1="347.4" x2="2392.8" y2="347.4" stroke="#111" stroke-width="1.1" />
<line x1="2349" y1="347.4" x2="2293.5" y2="401.2" stroke="#111" stroke-width="1.1" />
<path d="M2282.7 411.6 L2292.9 397.7 L2296.9 401.9 Z" fill="#111"/>
<text transform="translate(1685.8,378) scale(0.88,1)" class="n">25</text>
<line x1="1663.7" y1="388.5" x2="1708" y2="388.5" stroke="#111" stroke-width="1.1" />
<line x1="1663.7" y1="388.5" x2="1554.4" y2="482.2" stroke="#111" stroke-width="1.1" />
<path d="M1543 492 L1554 478.7 L1557.8 483.1 Z" fill="#111"/>
<text transform="translate(1686,417.3) scale(0.88,1)" class="n">26</text>
<line x1="1664" y1="427.8" x2="1708" y2="427.8" stroke="#111" stroke-width="1.1" />
<line x1="1664" y1="427.8" x2="1560.3" y2="499.5" stroke="#111" stroke-width="1.1" />
<path d="M1548 508 L1560.3 495.9 L1563.6 500.7 Z" fill="#111"/>
<text transform="translate(1686,457.5) scale(0.88,1)" class="n">27</text>
<line x1="1664" y1="468" x2="1708" y2="468" stroke="#111" stroke-width="1.1" />
<line x1="1664" y1="468" x2="1606" y2="541.2" stroke="#111" stroke-width="1.1" />
<path d="M1596.7 553 L1605 537.9 L1609.5 541.5 Z" fill="#111"/>
<text transform="translate(1682.3,498.2) scale(0.88,1)" class="n">28</text>
<line x1="1660.6" y1="508.7" x2="1704" y2="508.7" stroke="#111" stroke-width="1.1" />
<line x1="1704" y1="508.7" x2="1761.8" y2="582.9" stroke="#111" stroke-width="1.1" />
<path d="M1771 594.7 L1758.3 583.1 L1762.8 579.5 Z" fill="#111"/>
<text transform="translate(1683.2,537.5) scale(0.88,1)" class="n">29</text>
<line x1="1661.5" y1="548" x2="1705" y2="548" stroke="#111" stroke-width="1.1" />
<line x1="1705" y1="548" x2="1721.5" y2="568.4" stroke="#111" stroke-width="1.1" />
<path d="M1731 580 L1718 568.6 L1722.5 565 Z" fill="#111"/>
<text transform="translate(1717.7,641.5) scale(0.88,1)" class="n">30</text>
<line x1="1695.8" y1="652" x2="1739.5" y2="652" stroke="#111" stroke-width="1.1" />
<line x1="1695.8" y1="652" x2="1689.5" y2="588.4" stroke="#111" stroke-width="1.1" />
<path d="M1688 573.5 L1692.6 590.1 L1686.8 590.7 Z" fill="#111"/>
<text transform="translate(1655.2,665) scale(0.88,1)" class="n">31</text>
<line x1="1633.5" y1="675.5" x2="1677" y2="675.5" stroke="#111" stroke-width="1.1" />
<line x1="1633.5" y1="675.5" x2="1610.3" y2="650.9" stroke="#111" stroke-width="1.1" />
<path d="M1600 640 L1613.8 650.4 L1609.6 654.4 Z" fill="#111"/>
<text transform="translate(1861.2,565.5) scale(0.88,1)" class="n">202</text>
<line x1="1839" y1="576" x2="1883.5" y2="576" stroke="#111" stroke-width="1.1" />
<line x1="1839" y1="576" x2="1662.5" y2="785.9" stroke="#111" stroke-width="1.1" />
<path d="M1652.8 797.4 L1661.5 782.5 L1666 786.3 Z" fill="#111"/>
<text transform="translate(2070.2,609.5) scale(0.88,1)" class="n">6</text>
<line x1="2048" y1="620" x2="2092.5" y2="620" stroke="#111" stroke-width="1.1" />
<line x1="2048" y1="620" x2="1828.4" y2="731.2" stroke="#111" stroke-width="1.1" />
<path d="M1815 738 L1828.9 727.7 L1831.5 732.9 Z" fill="#111"/>
<text transform="translate(2070.2,651) scale(0.88,1)" class="n">7</text>
<line x1="2048" y1="661.5" x2="2092.5" y2="661.5" stroke="#111" stroke-width="1.1" />
<line x1="2048" y1="661.5" x2="1902" y2="717" stroke="#111" stroke-width="1.1" />
<path d="M1888 722.3 L1902.9 713.6 L1904.9 719 Z" fill="#111"/>
<text transform="translate(2071.4,695.9) scale(0.88,1)" class="n">8</text>
<line x1="2049.4" y1="706.4" x2="2093.4" y2="706.4" stroke="#111" stroke-width="1.1" />
<line x1="2049.4" y1="706.4" x2="1961" y2="713.3" stroke="#111" stroke-width="1.1" />
<path d="M1946 714.5 L1962.7 710.3 L1963.2 716.1 Z" fill="#111"/>
<text transform="translate(2073,738.5) scale(0.88,1)" class="n">9</text>
<line x1="2051" y1="749" x2="2095" y2="749" stroke="#111" stroke-width="1.1" />
<line x1="2095" y1="749" x2="2103.8" y2="858.5" stroke="#111" stroke-width="1.1" />
<path d="M2105 873.5 L2100.7 856.8 L2106.5 856.3 Z" fill="#111"/>
<text transform="translate(2031.9,854.5) scale(0.88,1)" class="n">10</text>
<line x1="2009.8" y1="865" x2="2054" y2="865" stroke="#111" stroke-width="1.1" />
<line x1="2054" y1="865" x2="2104.4" y2="929.2" stroke="#111" stroke-width="1.1" />
<path d="M2113.7 941 L2100.9 929.4 L2105.5 925.8 Z" fill="#111"/>
<text transform="translate(1521.7,714.7) scale(0.88,1)" class="n">32</text>
<line x1="1499.6" y1="725.2" x2="1543.7" y2="725.2" stroke="#111" stroke-width="1.1" />
<line x1="1499.6" y1="725.2" x2="1494.8" y2="743.5" stroke="#111" stroke-width="1.1" />
<path d="M1491 758 L1492.5 740.8 L1498.1 742.3 Z" fill="#111"/>
<text transform="translate(1589.8,717.5) scale(0.88,1)" class="n">33</text>
<line x1="1568" y1="728" x2="1611.6" y2="728" stroke="#111" stroke-width="1.1" />
<line x1="1568" y1="728" x2="1546.3" y2="746.8" stroke="#111" stroke-width="1.1" />
<path d="M1535 756.6 L1545.9 743.3 L1549.7 747.7 Z" fill="#111"/>
<text transform="translate(1652,731.5) scale(0.88,1)" class="n">34</text>
<line x1="1630" y1="742" x2="1674" y2="742" stroke="#111" stroke-width="1.1" />
<line x1="1630" y1="742" x2="1630.8" y2="741.7" stroke="#111" stroke-width="1.1" />
<path d="M1617 747.5 L1631.5 738.2 L1633.8 743.5 Z" fill="#111"/>
<text transform="translate(1682.3,807.2) scale(0.88,1)" class="n">35</text>
<line x1="1660.6" y1="817.7" x2="1704" y2="817.7" stroke="#111" stroke-width="1.1" />
<line x1="1704" y1="817.7" x2="1778.2" y2="732" stroke="#111" stroke-width="1.1" />
<path d="M1788 720.7 L1779.1 735.4 L1774.7 731.7 Z" fill="#111"/>
<text transform="translate(1680.3,882.5) scale(0.88,1)" class="n">36</text>
<line x1="1658" y1="893" x2="1702.7" y2="893" stroke="#111" stroke-width="1.1" />
<line x1="1702.7" y1="893" x2="1716.3" y2="915.5" stroke="#111" stroke-width="1.1" />
<path d="M1724 928.4 L1712.8 915.3 L1717.7 912.3 Z" fill="#111"/>
<text transform="translate(1559.2,885.8) scale(0.88,1)" class="n">41</text>
<line x1="1537.4" y1="896.3" x2="1581" y2="896.3" stroke="#111" stroke-width="1.1" />
<line x1="1537.4" y1="896.3" x2="1515.1" y2="937.5" stroke="#111" stroke-width="1.1" />
<path d="M1508 950.7 L1513.5 934.4 L1518.6 937.1 Z" fill="#111"/>
<text transform="translate(1473.4,898) scale(0.88,1)" class="n">40</text>
<line x1="1451.4" y1="908.5" x2="1495.4" y2="908.5" stroke="#111" stroke-width="1.1" />
<line x1="1451.4" y1="908.5" x2="1451.4" y2="985" stroke="#111" stroke-width="1.1" />
<path d="M1451.4 1000 L1448.5 983 L1454.3 983 Z" fill="#111"/>
<text transform="translate(1563.5,969) scale(0.88,1)" class="n">42</text>
<line x1="1541" y1="979.5" x2="1586" y2="979.5" stroke="#111" stroke-width="1.1" />
<line x1="1541" y1="979.5" x2="1535.7" y2="981.8" stroke="#111" stroke-width="1.1" />
<path d="M1522 987.8 L1536.4 978.3 L1538.7 983.7 Z" fill="#111"/>
<text transform="translate(1569,1023.1) scale(0.88,1)" class="n">43</text>
<line x1="1547" y1="1033.6" x2="1591" y2="1033.6" stroke="#111" stroke-width="1.1" />
<line x1="1547" y1="1033.6" x2="1516.3" y2="1013.7" stroke="#111" stroke-width="1.1" />
<path d="M1503.7 1005.6 L1519.6 1012.4 L1516.4 1017.3 Z" fill="#111"/>
<text transform="translate(1524,1083.3) scale(0.88,1)" class="n">44</text>
<line x1="1502" y1="1093.8" x2="1546" y2="1093.8" stroke="#111" stroke-width="1.1" />
<line x1="1546" y1="1093.8" x2="1558.6" y2="1077.4" stroke="#111" stroke-width="1.1" />
<path d="M1567.8 1065.5 L1559.7 1080.7 L1555.1 1077.2 Z" fill="#111"/>
<text transform="translate(1520,1132.5) scale(0.88,1)" class="n">45</text>
<line x1="1498" y1="1143" x2="1542" y2="1143" stroke="#111" stroke-width="1.1" />
<line x1="1542" y1="1143" x2="1560.3" y2="1128.4" stroke="#111" stroke-width="1.1" />
<path d="M1572 1119 L1560.5 1131.9 L1556.9 1127.4 Z" fill="#111"/>
<text transform="translate(1466.8,1109.5) scale(0.88,1)" class="n">46</text>
<line x1="1444.7" y1="1120" x2="1488.8" y2="1120" stroke="#111" stroke-width="1.1" />
<line x1="1444.7" y1="1120" x2="1419" y2="1133.2" stroke="#111" stroke-width="1.1" />
<path d="M1405.6 1140 L1419.4 1129.7 L1422.1 1134.8 Z" fill="#111"/>
<text transform="translate(1524.5,1209) scale(0.88,1)" class="n">47</text>
<line x1="1502" y1="1219.5" x2="1547" y2="1219.5" stroke="#111" stroke-width="1.1" />
<line x1="1502" y1="1219.5" x2="1488.5" y2="1225.1" stroke="#111" stroke-width="1.1" />
<path d="M1474.6 1230.8 L1489.2 1221.6 L1491.4 1227 Z" fill="#111"/>
<text transform="translate(1527.7,1520.1) scale(0.88,1)" class="n">48</text>
<line x1="1505.4" y1="1530.6" x2="1550" y2="1530.6" stroke="#111" stroke-width="1.1" />
<line x1="1550" y1="1530.6" x2="1655.2" y2="1513.9" stroke="#111" stroke-width="1.1" />
<path d="M1670 1511.5 L1653.7 1517 L1652.8 1511.3 Z" fill="#111"/>
<text transform="translate(1526.8,1563.3) scale(0.88,1)" class="n">49</text>
<line x1="1504" y1="1573.8" x2="1549.5" y2="1573.8" stroke="#111" stroke-width="1.1" />
<line x1="1549.5" y1="1573.8" x2="1640.3" y2="1555.5" stroke="#111" stroke-width="1.1" />
<path d="M1655 1552.5 L1638.9 1558.7 L1637.8 1553 Z" fill="#111"/>
<text transform="translate(1623.3,1596.5) scale(0.88,1)" class="n">50</text>
<line x1="1601" y1="1607" x2="1645.6" y2="1607" stroke="#111" stroke-width="1.1" />
<line x1="1645.6" y1="1607" x2="1764.1" y2="1537.6" stroke="#111" stroke-width="1.1" />
<path d="M1777 1530 L1763.8 1541.1 L1760.9 1536.1 Z" fill="#111"/>
<text transform="translate(2599.6,676.2) scale(0.88,1)" class="n">201</text>
<line x1="2577.4" y1="686.7" x2="2621.7" y2="686.7" stroke="#111" stroke-width="1.1" />
<line x1="2577.4" y1="686.7" x2="2365.8" y2="717.8" stroke="#111" stroke-width="1.1" />
<path d="M2351 720 L2367.4 714.7 L2368.2 720.4 Z" fill="#111"/>
<text transform="translate(2651,942.8) scale(0.88,1)" class="n">1</text>
<line x1="2629" y1="953.3" x2="2673" y2="953.3" stroke="#111" stroke-width="1.1" />
<line x1="2629" y1="953.3" x2="2388.8" y2="915.2" stroke="#111" stroke-width="1.1" />
<path d="M2374 912.8 L2391.2 912.6 L2390.3 918.3 Z" fill="#111"/>
<text transform="translate(2648.8,1066.5) scale(0.88,1)" class="n">2</text>
<line x1="2626.7" y1="1077" x2="2671" y2="1077" stroke="#111" stroke-width="1.1" />
<line x1="2626.7" y1="1077" x2="2462.8" y2="1022.4" stroke="#111" stroke-width="1.1" />
<path d="M2448.6 1017.7 L2465.6 1020.3 L2463.8 1025.8 Z" fill="#111"/>
<text transform="translate(2647.2,1122.9) scale(0.88,1)" class="n">3</text>
<line x1="2625" y1="1133.4" x2="2669.4" y2="1133.4" stroke="#111" stroke-width="1.1" />
<line x1="2625" y1="1133.4" x2="2346.8" y2="1038.8" stroke="#111" stroke-width="1.1" />
<path d="M2332.6 1034 L2349.6 1036.7 L2347.8 1042.2 Z" fill="#111"/>
<text transform="translate(2643.3,1234.2) scale(0.88,1)" class="n">4</text>
<line x1="2621" y1="1244.7" x2="2665.7" y2="1244.7" stroke="#111" stroke-width="1.1" />
<line x1="2621" y1="1244.7" x2="2319.5" y2="1100" stroke="#111" stroke-width="1.1" />
<path d="M2306 1093.5 L2322.6 1098.2 L2320.1 1103.5 Z" fill="#111"/>
<text transform="translate(2643.3,1337.1) scale(0.88,1)" class="n">5</text>
<line x1="2621" y1="1347.6" x2="2665.7" y2="1347.6" stroke="#111" stroke-width="1.1" />
<line x1="2621" y1="1347.6" x2="2313.4" y2="1151.1" stroke="#111" stroke-width="1.1" />
<path d="M2300.8 1143 L2316.7 1149.7 L2313.6 1154.6 Z" fill="#111"/>
<text transform="translate(192.2,690.3) scale(0.88,1)" class="n">212</text>
<line x1="170" y1="700.8" x2="214.5" y2="700.8" stroke="#111" stroke-width="1.1" />
<line x1="214.5" y1="700.8" x2="402.9" y2="806.3" stroke="#111" stroke-width="1.1" />
<path d="M416 813.6 L399.7 807.8 L402.6 802.8 Z" fill="#111"/>
<text transform="translate(221.3,948.5) scale(0.88,1)" class="n">85</text>
<line x1="199.6" y1="959" x2="243" y2="959" stroke="#111" stroke-width="1.1" />
<line x1="243" y1="959" x2="274.3" y2="853" stroke="#111" stroke-width="1.1" />
<path d="M278.5 838.6 L276.5 855.7 L270.9 854.1 Z" fill="#111"/>
<text transform="translate(1169.8,507.5) scale(0.88,1)" class="n">63</text>
<line x1="1147.6" y1="518" x2="1192" y2="518" stroke="#111" stroke-width="1.1" />
<line x1="1147.6" y1="518" x2="1147.6" y2="553" stroke="#111" stroke-width="1.1" />
<path d="M1147.6 568 L1144.7 551 L1150.5 551 Z" fill="#111"/>
<text transform="translate(1418.6,582.5) scale(0.88,1)" class="n">55</text>
<line x1="1396.4" y1="593" x2="1440.7" y2="593" stroke="#111" stroke-width="1.1" />
<line x1="1440.7" y1="593" x2="1459.8" y2="582.6" stroke="#111" stroke-width="1.1" />
<path d="M1473 575.5 L1459.4 586.1 L1456.7 581 Z" fill="#111"/>
<text transform="translate(1426.2,685.5) scale(0.88,1)" class="n">56</text>
<line x1="1404" y1="696" x2="1448.5" y2="696" stroke="#111" stroke-width="1.1" />
<line x1="1404" y1="696" x2="1390.6" y2="628.7" stroke="#111" stroke-width="1.1" />
<path d="M1387.7 614 L1393.9 630.1 L1388.2 631.2 Z" fill="#111"/>
<text transform="translate(1130,718) scale(0.88,1)" class="n">64</text>
<line x1="1108" y1="728.5" x2="1152" y2="728.5" stroke="#111" stroke-width="1.1" />
<line x1="1108" y1="728.5" x2="1044.2" y2="773.8" stroke="#111" stroke-width="1.1" />
<path d="M1032 782.5 L1044.2 770.3 L1047.5 775 Z" fill="#111"/>
<text transform="translate(1051,869.5) scale(0.88,1)" class="n">205</text>
<line x1="1029" y1="880" x2="1073" y2="880" stroke="#111" stroke-width="1.1" />
<line x1="1073" y1="880" x2="1289.7" y2="689.5" stroke="#111" stroke-width="1.1" />
<path d="M1301 679.6 L1290.1 693 L1286.3 688.6 Z" fill="#111"/>
<text transform="translate(774.9,857.5) scale(0.88,1)" class="n">71</text>
<line x1="753" y1="868" x2="796.8" y2="868" stroke="#111" stroke-width="1.1" />
<line x1="796.8" y1="868" x2="799.9" y2="837.9" stroke="#111" stroke-width="1.1" />
<path d="M801.5 823 L802.6 840.2 L796.8 839.6 Z" fill="#111"/>
<text transform="translate(776,899.5) scale(0.88,1)" class="n">72</text>
<line x1="754" y1="910" x2="798" y2="910" stroke="#111" stroke-width="1.1" />
<line x1="754" y1="910" x2="573.7" y2="828.2" stroke="#111" stroke-width="1.1" />
<path d="M560 822 L576.7 826.4 L574.3 831.7 Z" fill="#111"/>
<text transform="translate(882.9,955.5) scale(0.88,1)" class="n">73</text>
<line x1="860.7" y1="966" x2="905" y2="966" stroke="#111" stroke-width="1.1" />
<line x1="905" y1="966" x2="1081.3" y2="1056.6" stroke="#111" stroke-width="1.1" />
<path d="M1094.6 1063.5 L1078.2 1058.3 L1080.8 1053.1 Z" fill="#111"/>
<text transform="translate(882.9,998.5) scale(0.88,1)" class="n">74</text>
<line x1="860.7" y1="1009" x2="905" y2="1009" stroke="#111" stroke-width="1.1" />
<line x1="905" y1="1009" x2="1000.1" y2="1065.4" stroke="#111" stroke-width="1.1" />
<path d="M1013 1073 L996.9 1066.8 L999.9 1061.8 Z" fill="#111"/>
<text transform="translate(882.9,1041.2) scale(0.88,1)" class="n">75</text>
<line x1="860.7" y1="1051.7" x2="905" y2="1051.7" stroke="#111" stroke-width="1.1" />
<line x1="905" y1="1051.7" x2="941.6" y2="1063.8" stroke="#111" stroke-width="1.1" />
<path d="M955.8 1068.5 L938.7 1065.9 L940.6 1060.4 Z" fill="#111"/>
<text transform="translate(882.9,1084.5) scale(0.88,1)" class="n">76</text>
<line x1="860.7" y1="1095" x2="905" y2="1095" stroke="#111" stroke-width="1.1" />
<line x1="905" y1="1095" x2="934.8" y2="1090.7" stroke="#111" stroke-width="1.1" />
<path d="M949.6 1088.5 L933.2 1093.8 L932.4 1088.1 Z" fill="#111"/>
<text transform="translate(880.9,1121.9) scale(0.88,1)" class="n">77</text>
<line x1="859" y1="1132.4" x2="902.8" y2="1132.4" stroke="#111" stroke-width="1.1" />
<line x1="902.8" y1="1132.4" x2="950.6" y2="1118" stroke="#111" stroke-width="1.1" />
<path d="M965 1113.7 L949.6 1121.4 L947.9 1115.8 Z" fill="#111"/>
<text transform="translate(879,1164.5) scale(0.88,1)" class="n">78</text>
<line x1="857" y1="1175" x2="901" y2="1175" stroke="#111" stroke-width="1.1" />
<line x1="901" y1="1175" x2="953.8" y2="1143.7" stroke="#111" stroke-width="1.1" />
<path d="M966.7 1136 L953.6 1147.2 L950.6 1142.2 Z" fill="#111"/>
<text transform="translate(1119.8,1113.5) scale(0.88,1)" class="n">65</text>
<line x1="1097.7" y1="1124" x2="1142" y2="1124" stroke="#111" stroke-width="1.1" />
<line x1="1142" y1="1124" x2="1179.3" y2="1091.5" stroke="#111" stroke-width="1.1" />
<path d="M1190.6 1081.6 L1179.7 1095 L1175.9 1090.6 Z" fill="#111"/>
<text transform="translate(1089.3,1286.3) scale(0.88,1)" class="n">66</text>
<line x1="1067" y1="1296.8" x2="1111.7" y2="1296.8" stroke="#111" stroke-width="1.1" />
<line x1="1111.7" y1="1296.8" x2="1111.7" y2="1261" stroke="#111" stroke-width="1.1" />
<path d="M1111.7 1246 L1114.6 1263 L1108.8 1263 Z" fill="#111"/>
<text transform="translate(1089.3,1329) scale(0.88,1)" class="n">67</text>
<line x1="1067" y1="1339.5" x2="1111.7" y2="1339.5" stroke="#111" stroke-width="1.1" />
<line x1="1111.7" y1="1339.5" x2="1153.2" y2="1180.3" stroke="#111" stroke-width="1.1" />
<path d="M1157 1165.8 L1155.5 1183 L1149.9 1181.5 Z" fill="#111"/>
<text transform="translate(815.9,1353.3) scale(0.88,1)" class="n">79</text>
<line x1="793.7" y1="1363.8" x2="838" y2="1363.8" stroke="#111" stroke-width="1.1" />
<line x1="838" y1="1363.8" x2="863.4" y2="1283" stroke="#111" stroke-width="1.1" />
<path d="M867.9 1268.7 L865.6 1285.8 L860 1284 Z" fill="#111"/>
<text transform="translate(814.2,1409.5) scale(0.88,1)" class="n">80</text>
<line x1="792" y1="1420" x2="836.4" y2="1420" stroke="#111" stroke-width="1.1" />
<line x1="836.4" y1="1420" x2="845.1" y2="1452.1" stroke="#111" stroke-width="1.1" />
<path d="M849 1466.6 L841.8 1450.9 L847.4 1449.4 Z" fill="#111"/>
<text transform="translate(1390,1374.2) scale(0.88,1)" class="n">57</text>
<line x1="1368" y1="1384.7" x2="1412" y2="1384.7" stroke="#111" stroke-width="1.1" />
<line x1="1368" y1="1384.7" x2="1352.8" y2="1305.7" stroke="#111" stroke-width="1.1" />
<path d="M1350 1291 L1356.1 1307.1 L1350.4 1308.2 Z" fill="#111"/>
<text transform="translate(1384.2,1428) scale(0.88,1)" class="n">58</text>
<line x1="1362" y1="1438.5" x2="1406.5" y2="1438.5" stroke="#111" stroke-width="1.1" />
<line x1="1362" y1="1438.5" x2="1321" y2="1360.9" stroke="#111" stroke-width="1.1" />
<path d="M1314 1347.6 L1324.5 1361.3 L1319.4 1364 Z" fill="#111"/>
<text transform="translate(271,1093.5) scale(0.88,1)" class="n">213</text>
<line x1="249" y1="1104" x2="293" y2="1104" stroke="#111" stroke-width="1.1" />
<line x1="293" y1="1104" x2="347.6" y2="1066.5" stroke="#111" stroke-width="1.1" />
<path d="M360 1058 L347.6 1070 L344.3 1065.2 Z" fill="#111"/>
<text transform="translate(231.2,1302.8) scale(0.88,1)" class="n">86</text>
<line x1="209.5" y1="1313.3" x2="253" y2="1313.3" stroke="#111" stroke-width="1.1" />
<line x1="253" y1="1313.3" x2="305.3" y2="1422" stroke="#111" stroke-width="1.1" />
<path d="M311.8 1435.5 L301.8 1421.4 L307 1418.9 Z" fill="#111"/>
<text transform="translate(1708,1054.5) scale(0.88,1)" class="n">37</text>
<line x1="1686" y1="1065" x2="1730" y2="1065" stroke="#111" stroke-width="1.1" />
<line x1="1730" y1="1065" x2="1805.2" y2="1111.2" stroke="#111" stroke-width="1.1" />
<path d="M1818 1119 L1802 1112.6 L1805 1107.6 Z" fill="#111"/>
<text transform="translate(1708,1099.5) scale(0.88,1)" class="n">38</text>
<line x1="1686" y1="1110" x2="1730" y2="1110" stroke="#111" stroke-width="1.1" />
<line x1="1730" y1="1110" x2="1769.7" y2="1147.7" stroke="#111" stroke-width="1.1" />
<path d="M1780.6 1158 L1766.3 1148.4 L1770.3 1144.2 Z" fill="#111"/>
<text transform="translate(1710.3,1167.8) scale(0.88,1)" class="n">39</text>
<line x1="1688.6" y1="1178.3" x2="1732" y2="1178.3" stroke="#111" stroke-width="1.1" />
<line x1="1732" y1="1178.3" x2="1735.6" y2="1185.9" stroke="#111" stroke-width="1.1" />
<path d="M1742 1199.5 L1732.1 1185.4 L1737.4 1182.9 Z" fill="#111"/>
<text transform="translate(1988.6,999.5) scale(0.88,1)" class="n">12</text>
<line x1="1966.8" y1="1010" x2="2010.4" y2="1010" stroke="#111" stroke-width="1.1" />
<line x1="1966.8" y1="1010" x2="1966.8" y2="1036" stroke="#111" stroke-width="1.1" />
<path d="M1966.8 1051 L1963.9 1034 L1969.7 1034 Z" fill="#111"/>
<text transform="translate(1930.2,1131.5) scale(0.88,1)" class="n">13</text>
<line x1="1908.5" y1="1142" x2="1952" y2="1142" stroke="#111" stroke-width="1.1" />
<line x1="1952" y1="1142" x2="1957.9" y2="1151.3" stroke="#111" stroke-width="1.1" />
<path d="M1966 1164 L1954.4 1151.2 L1959.3 1148.1 Z" fill="#111"/>
<text transform="translate(1823,1235.1) scale(0.88,1)" class="n">18</text>
<line x1="1801" y1="1245.6" x2="1845" y2="1245.6" stroke="#111" stroke-width="1.1" />
<line x1="1845" y1="1245.6" x2="1854.8" y2="1230.6" stroke="#111" stroke-width="1.1" />
<path d="M1863 1218 L1856.1 1233.8 L1851.3 1230.7 Z" fill="#111"/>
<text transform="translate(1821.3,1278.1) scale(0.88,1)" class="n">19</text>
<line x1="1799" y1="1288.6" x2="1843.6" y2="1288.6" stroke="#111" stroke-width="1.1" />
<line x1="1843.6" y1="1288.6" x2="1899.5" y2="1262" stroke="#111" stroke-width="1.1" />
<path d="M1913 1255.6 L1898.9 1265.5 L1896.4 1260.3 Z" fill="#111"/>
<text transform="translate(1996,1248.2) scale(0.88,1)" class="n">14</text>
<line x1="1974" y1="1258.7" x2="2018" y2="1258.7" stroke="#111" stroke-width="1.1" />
<line x1="2018" y1="1258.7" x2="2029.9" y2="1231.7" stroke="#111" stroke-width="1.1" />
<path d="M2036 1218 L2031.8 1234.7 L2026.5 1232.4 Z" fill="#111"/>
<text transform="translate(1884.8,1308.1) scale(0.88,1)" class="n">20</text>
<line x1="1862.6" y1="1318.6" x2="1907" y2="1318.6" stroke="#111" stroke-width="1.1" />
<line x1="1907" y1="1318.6" x2="1947" y2="1430.9" stroke="#111" stroke-width="1.1" />
<path d="M1952 1445 L1943.6 1430 L1949 1428 Z" fill="#111"/>
<text transform="translate(1853.3,1375.1) scale(0.88,1)" class="n">21</text>
<line x1="1831" y1="1385.6" x2="1875.7" y2="1385.6" stroke="#111" stroke-width="1.1" />
<line x1="1831" y1="1385.6" x2="1805.8" y2="1401.1" stroke="#111" stroke-width="1.1" />
<path d="M1793 1409 L1806 1397.6 L1809 1402.6 Z" fill="#111"/>
<text transform="translate(2204.2,1428.1) scale(0.88,1)" class="n">15</text>
<line x1="2181.8" y1="1438.6" x2="2226.5" y2="1438.6" stroke="#111" stroke-width="1.1" />
<line x1="2181.8" y1="1438.6" x2="2122.3" y2="1411.3" stroke="#111" stroke-width="1.1" />
<path d="M2108.7 1405 L2125.4 1409.5 L2122.9 1414.7 Z" fill="#111"/>
<text transform="translate(2237,1517.5) scale(0.88,1)" class="n">16</text>
<line x1="2215" y1="1528" x2="2259" y2="1528" stroke="#111" stroke-width="1.1" />
<line x1="2215" y1="1528" x2="2205.5" y2="1565.1" stroke="#111" stroke-width="1.1" />
<path d="M2201.8 1579.6 L2203.2 1562.4 L2208.8 1563.8 Z" fill="#111"/>
<text transform="translate(2234.2,1692.5) scale(0.88,1)" class="n">17</text>
<line x1="2212" y1="1703" x2="2256.4" y2="1703" stroke="#111" stroke-width="1.1" />
<line x1="2212" y1="1703" x2="2151" y2="1645.9" stroke="#111" stroke-width="1.1" />
<path d="M2140 1635.7 L2154.4 1645.2 L2150.4 1649.4 Z" fill="#111"/>
<text transform="translate(1924.2,1634.5) scale(0.88,1)" class="n">22</text>
<line x1="1902" y1="1645" x2="1946.5" y2="1645" stroke="#111" stroke-width="1.1" />
<line x1="1902" y1="1645" x2="1885.8" y2="1623.6" stroke="#111" stroke-width="1.1" />
<path d="M1876.7 1611.6 L1889.3 1623.4 L1884.7 1626.9 Z" fill="#111"/>
<text transform="translate(1930.2,1695.5) scale(0.88,1)" class="n">23</text>
<line x1="1908.5" y1="1706" x2="1952" y2="1706" stroke="#111" stroke-width="1.1" />
<line x1="1908.5" y1="1706" x2="1855.1" y2="1594.5" stroke="#111" stroke-width="1.1" />
<path d="M1848.6 1581 L1858.6 1595.1 L1853.3 1597.6 Z" fill="#111"/>
<text transform="translate(1930.2,1757.5) scale(0.88,1)" class="n">24</text>
<line x1="1908.5" y1="1768" x2="1952" y2="1768" stroke="#111" stroke-width="1.1" />
<line x1="1908.5" y1="1768" x2="1800" y2="1611.3" stroke="#111" stroke-width="1.1" />
<path d="M1791.5 1599 L1803.6 1611.3 L1798.8 1614.6 Z" fill="#111"/>
<text transform="translate(2038.3,1806.9) scale(0.88,1)" class="n">203</text>
<line x1="2016" y1="1817.4" x2="2060.6" y2="1817.4" stroke="#111" stroke-width="1.1" />
<line x1="2016" y1="1817.4" x2="1941.7" y2="1524.5" stroke="#111" stroke-width="1.1" />
<path d="M1938 1510 L1945 1525.8 L1939.4 1527.2 Z" fill="#111"/>
<text transform="translate(1708.6,1853.5) scale(0.88,1)" class="n">209</text>
<line x1="1686.5" y1="1864" x2="1730.7" y2="1864" stroke="#111" stroke-width="1.1" />
<line x1="1686.5" y1="1864" x2="1640.4" y2="1789.7" stroke="#111" stroke-width="1.1" />
<path d="M1632.5 1777 L1643.9 1789.9 L1639 1793 Z" fill="#111"/>
<text transform="translate(820.3,1495.5) scale(0.88,1)" class="n">81</text>
<line x1="798" y1="1506" x2="842.6" y2="1506" stroke="#111" stroke-width="1.1" />
<line x1="842.6" y1="1506" x2="986.6" y2="1549.6" stroke="#111" stroke-width="1.1" />
<path d="M1001 1554 L983.9 1551.8 L985.6 1546.3 Z" fill="#111"/>
<text transform="translate(820.3,1537.8) scale(0.88,1)" class="n">82</text>
<line x1="798" y1="1548.3" x2="842.6" y2="1548.3" stroke="#111" stroke-width="1.1" />
<line x1="842.6" y1="1548.3" x2="971.1" y2="1588.5" stroke="#111" stroke-width="1.1" />
<path d="M985.4 1593 L968.3 1590.7 L970 1585.2 Z" fill="#111"/>
<text transform="translate(836.2,1707.1) scale(0.88,1)" class="n">83</text>
<line x1="814.5" y1="1717.6" x2="858" y2="1717.6" stroke="#111" stroke-width="1.1" />
<line x1="814.5" y1="1717.6" x2="804" y2="1654.5" stroke="#111" stroke-width="1.1" />
<path d="M801.5 1639.7 L807.2 1656 L801.4 1656.9 Z" fill="#111"/>
<text transform="translate(836,1765.8) scale(0.88,1)" class="n">84</text>
<line x1="814" y1="1776.3" x2="858" y2="1776.3" stroke="#111" stroke-width="1.1" />
<line x1="858" y1="1776.3" x2="884.2" y2="1635.7" stroke="#111" stroke-width="1.1" />
<path d="M887 1621 L886.7 1638.2 L881 1637.2 Z" fill="#111"/>
<text transform="translate(844.6,1834.4) scale(0.88,1)" class="n">210</text>
<line x1="822.3" y1="1844.9" x2="867" y2="1844.9" stroke="#111" stroke-width="1.1" />
<line x1="867" y1="1844.9" x2="1045.3" y2="1701.4" stroke="#111" stroke-width="1.1" />
<path d="M1057 1692 L1045.6 1704.9 L1041.9 1700.4 Z" fill="#111"/>
<text transform="translate(986.4,1827.2) scale(0.88,1)" class="n">208</text>
<line x1="964" y1="1837.7" x2="1008.8" y2="1837.7" stroke="#111" stroke-width="1.1" />
<line x1="1008.8" y1="1837.7" x2="1181.9" y2="1551.1" stroke="#111" stroke-width="1.1" />
<path d="M1189.7 1538.3 L1183.4 1554.4 L1178.4 1551.4 Z" fill="#111"/>
<text transform="translate(1046.2,1535.5) scale(0.88,1)" class="n">68</text>
<line x1="1024.4" y1="1546" x2="1068" y2="1546" stroke="#111" stroke-width="1.1" />
<line x1="1068" y1="1546" x2="1117.2" y2="1553.3" stroke="#111" stroke-width="1.1" />
<path d="M1132 1555.5 L1114.8 1555.9 L1115.6 1550.1 Z" fill="#111"/>
<text transform="translate(1212.8,1616.5) scale(0.88,1)" class="n">207</text>
<line x1="1190.6" y1="1627" x2="1235" y2="1627" stroke="#111" stroke-width="1.1" />
<line x1="1235" y1="1627" x2="1275.6" y2="1584.8" stroke="#111" stroke-width="1.1" />
<path d="M1286 1574 L1276.3 1588.3 L1272.1 1584.2 Z" fill="#111"/>
<text transform="translate(1379.6,1733.5) scale(0.88,1)" class="n">59</text>
<line x1="1357.4" y1="1744" x2="1401.7" y2="1744" stroke="#111" stroke-width="1.1" />
<line x1="1357.4" y1="1744" x2="1290.4" y2="1777.9" stroke="#111" stroke-width="1.1" />
<path d="M1277 1784.7 L1290.9 1774.4 L1293.5 1779.6 Z" fill="#111"/>
<text transform="translate(1381,1836.5) scale(0.88,1)" class="n">60</text>
<line x1="1359" y1="1847" x2="1403" y2="1847" stroke="#111" stroke-width="1.1" />
<line x1="1359" y1="1847" x2="1262.1" y2="1793.3" stroke="#111" stroke-width="1.1" />
<path d="M1249 1786 L1265.3 1791.7 L1262.5 1796.8 Z" fill="#111"/>
<text transform="translate(1384.6,1903.5) scale(0.88,1)" class="n">61</text>
<line x1="1362.7" y1="1914" x2="1406.4" y2="1914" stroke="#111" stroke-width="1.1" />
<line x1="1362.7" y1="1914" x2="1184.7" y2="1833" stroke="#111" stroke-width="1.1" />
<path d="M1171 1826.8 L1187.7 1831.2 L1185.3 1836.5 Z" fill="#111"/>
</svg>
</body></html>
